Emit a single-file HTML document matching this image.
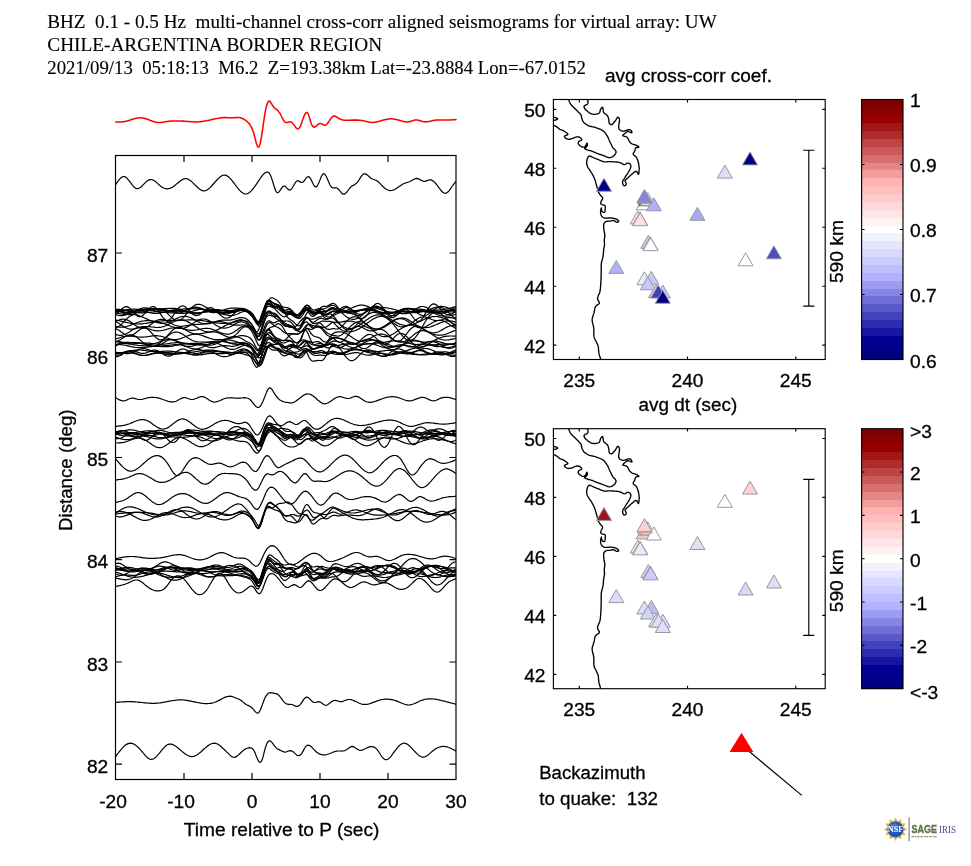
<!DOCTYPE html>
<html><head><meta charset="utf-8"><title>BHZ cross-corr aligned seismograms</title>
<style>html,body{margin:0;padding:0;background:#fff}svg{display:block;will-change:transform}text{font-family:"Liberation Sans",sans-serif;fill:#000;stroke:#000;stroke-width:0.3px}.t{font-family:"Liberation Serif",serif;stroke-width:0.12px}</style></head><body>
<svg width="971" height="866" viewBox="0 0 971 866">
<rect x="0" y="0" width="971" height="866" fill="#fff"/>
<g class="t" font-size="19.1" style="white-space:pre">
<text class="t" x="47.3" y="28.0" textLength="669.4" lengthAdjust="spacingAndGlyphs" xml:space="preserve">BHZ  0.1 - 0.5 Hz  multi-channel cross-corr aligned seismograms for virtual array: UW</text>
<text class="t" x="47.3" y="50.9" textLength="334.8" lengthAdjust="spacingAndGlyphs" xml:space="preserve">CHILE-ARGENTINA BORDER REGION</text>
<text class="t" x="47.3" y="73.6" textLength="538.5" lengthAdjust="spacingAndGlyphs" xml:space="preserve">2021/09/13  05:18:13  M6.2  Z=193.38km Lat=-23.8884 Lon=-67.0152</text>
</g>
<clipPath id="lc"><rect x="115.5" y="155.5" width="340.5" height="624"/></clipPath>
<g clip-path="url(#lc)" fill="none" stroke="#000" stroke-width="1.2" stroke-linejoin="round">
<path d="M115.7,184.7 L117.0,182.7 L118.3,180.8 L119.6,179.1 L121.0,177.8 L122.3,176.9 L123.6,176.5 L124.9,176.7 L126.2,177.6 L127.5,178.8 L128.8,180.4 L130.2,182.2 L131.5,183.9 L132.8,185.6 L134.1,187.0 L135.4,188.1 L136.7,188.6 L138.0,188.6 L139.4,188.0 L140.7,187.2 L142.0,186.0 L143.3,184.7 L144.6,183.4 L145.9,182.1 L147.2,180.9 L148.5,180.1 L149.9,179.6 L151.2,179.5 L152.5,179.8 L153.8,180.5 L155.1,181.3 L156.4,182.4 L157.7,183.6 L159.1,184.7 L160.4,185.9 L161.7,186.9 L163.0,187.7 L164.3,188.3 L165.6,188.7 L166.9,188.8 L168.3,188.7 L169.6,188.4 L170.9,187.9 L172.2,187.3 L173.5,186.4 L174.8,185.5 L176.1,184.4 L177.5,183.3 L178.8,182.2 L180.1,181.1 L181.4,180.2 L182.7,179.4 L184.0,178.8 L185.3,178.6 L186.7,178.7 L188.0,179.1 L189.3,179.9 L190.6,180.8 L191.9,181.9 L193.2,183.1 L194.5,184.4 L195.8,185.8 L197.2,187.0 L198.5,188.2 L199.8,189.2 L201.1,190.1 L202.4,190.6 L203.7,190.9 L205.0,190.8 L206.4,190.3 L207.7,189.6 L209.0,188.6 L210.3,187.4 L211.6,186.0 L212.9,184.5 L214.2,183.0 L215.6,181.5 L216.9,180.0 L218.2,178.6 L219.5,177.4 L220.8,176.4 L222.1,175.6 L223.4,175.2 L224.8,175.1 L226.1,175.4 L227.4,176.1 L228.7,177.0 L230.0,178.3 L231.3,179.7 L232.6,181.3 L234.0,183.0 L235.3,184.8 L236.6,186.5 L237.9,188.2 L239.2,189.8 L240.5,191.2 L241.8,192.3 L243.1,193.2 L244.5,193.8 L245.8,194.0 L247.1,193.8 L248.4,193.2 L249.7,192.3 L251.0,191.1 L252.3,189.6 L253.7,188.0 L255.0,186.2 L256.3,184.3 L257.6,182.4 L258.9,180.4 L260.2,178.5 L261.5,176.6 L262.9,174.9 L264.2,173.5 L265.5,172.5 L266.8,172.0 L268.1,172.2 L269.4,173.2 L270.7,175.7 L272.1,179.6 L273.4,184.0 L274.7,188.3 L276.0,191.4 L277.3,192.8 L278.6,192.3 L279.9,190.7 L281.3,188.6 L282.6,186.8 L283.9,186.0 L285.2,186.4 L286.5,187.7 L287.8,189.1 L289.1,190.1 L290.4,190.0 L291.8,188.6 L293.1,186.5 L294.4,184.2 L295.7,182.1 L297.0,180.9 L298.3,180.9 L299.6,181.6 L301.0,182.4 L302.3,182.5 L303.6,181.5 L304.9,179.9 L306.2,178.1 L307.5,176.9 L308.8,176.7 L310.2,178.1 L311.5,180.5 L312.8,183.3 L314.1,185.7 L315.4,187.0 L316.7,186.6 L318.0,184.5 L319.4,181.4 L320.7,178.1 L322.0,175.3 L323.3,173.7 L324.6,174.0 L325.9,175.8 L327.2,178.6 L328.6,181.7 L329.9,184.7 L331.2,186.8 L332.5,187.8 L333.8,187.9 L335.1,187.8 L336.4,187.8 L337.7,188.5 L339.1,189.9 L340.4,191.6 L341.7,193.2 L343.0,194.2 L344.3,194.2 L345.6,193.3 L346.9,191.8 L348.3,190.0 L349.6,188.3 L350.9,186.8 L352.2,185.9 L353.5,185.2 L354.8,184.6 L356.1,183.6 L357.5,182.2 L358.8,180.3 L360.1,178.1 L361.4,176.1 L362.7,174.6 L364.0,173.8 L365.3,173.9 L366.7,174.6 L368.0,175.6 L369.3,176.8 L370.6,178.0 L371.9,178.8 L373.2,179.3 L374.5,179.7 L375.9,180.2 L377.2,181.0 L378.5,182.0 L379.8,183.3 L381.1,184.7 L382.4,186.0 L383.7,187.3 L385.0,188.5 L386.4,189.3 L387.7,190.0 L389.0,190.4 L390.3,190.6 L391.6,190.5 L392.9,190.2 L394.2,189.7 L395.6,189.0 L396.9,188.1 L398.2,187.2 L399.5,186.3 L400.8,185.4 L402.1,184.5 L403.4,183.8 L404.8,183.2 L406.1,182.7 L407.4,182.4 L408.7,182.0 L410.0,181.5 L411.3,180.8 L412.6,180.0 L414.0,179.2 L415.3,178.7 L416.6,178.4 L417.9,178.6 L419.2,179.1 L420.5,179.9 L421.8,180.6 L423.2,181.2 L424.5,181.3 L425.8,181.1 L427.1,180.6 L428.4,180.2 L429.7,179.9 L431.0,179.9 L432.3,180.4 L433.7,181.4 L435.0,182.7 L436.3,184.2 L437.6,185.9 L438.9,187.7 L440.2,189.4 L441.5,191.0 L442.9,192.3 L444.2,193.1 L445.5,193.3 L446.8,192.9 L448.1,191.8 L449.4,190.3 L450.7,188.4 L452.1,186.5 L453.4,184.6 L454.7,182.9 L456.0,181.5"/>
<path d="M115.7,397.6 L117.0,398.4 L118.3,399.2 L119.6,399.9 L121.0,400.4 L122.3,400.8 L123.6,400.8 L124.9,400.6 L126.2,400.2 L127.5,399.6 L128.8,399.0 L130.2,398.5 L131.5,398.2 L132.8,398.1 L134.1,398.3 L135.4,398.6 L136.7,399.0 L138.0,399.3 L139.4,399.5 L140.7,399.5 L142.0,399.3 L143.3,399.0 L144.6,398.7 L145.9,398.3 L147.2,398.0 L148.5,397.7 L149.9,397.5 L151.2,397.4 L152.5,397.3 L153.8,397.4 L155.1,397.5 L156.4,397.6 L157.7,397.9 L159.1,398.2 L160.4,398.6 L161.7,399.0 L163.0,399.5 L164.3,400.0 L165.6,400.5 L166.9,400.9 L168.3,401.3 L169.6,401.6 L170.9,401.9 L172.2,401.9 L173.5,401.9 L174.8,401.6 L176.1,401.2 L177.5,400.5 L178.8,399.8 L180.1,399.0 L181.4,398.4 L182.7,397.9 L184.0,397.6 L185.3,397.7 L186.7,398.0 L188.0,398.5 L189.3,399.0 L190.6,399.4 L191.9,399.5 L193.2,399.4 L194.5,399.0 L195.8,398.5 L197.2,398.0 L198.5,397.4 L199.8,397.0 L201.1,396.7 L202.4,396.7 L203.7,396.9 L205.0,397.5 L206.4,398.2 L207.7,399.1 L209.0,399.9 L210.3,400.8 L211.6,401.4 L212.9,401.9 L214.2,402.1 L215.6,402.0 L216.9,401.7 L218.2,401.3 L219.5,400.8 L220.8,400.2 L222.1,399.6 L223.4,399.0 L224.8,398.5 L226.1,398.2 L227.4,398.0 L228.7,397.9 L230.0,397.8 L231.3,397.9 L232.6,397.9 L234.0,398.0 L235.3,398.1 L236.6,398.2 L237.9,398.3 L239.2,398.2 L240.5,398.1 L241.8,398.0 L243.1,397.8 L244.5,397.7 L245.8,397.8 L247.1,398.0 L248.4,398.5 L249.7,399.3 L251.0,400.5 L252.3,402.1 L253.7,403.8 L255.0,405.5 L256.3,406.8 L257.6,407.5 L258.9,407.4 L260.2,406.3 L261.5,404.3 L262.9,401.5 L264.2,398.3 L265.5,394.9 L266.8,391.6 L268.1,389.1 L269.4,387.8 L270.7,388.1 L272.1,389.6 L273.4,391.8 L274.7,393.9 L276.0,395.9 L277.3,397.5 L278.6,398.9 L279.9,400.0 L281.3,400.8 L282.6,401.4 L283.9,401.8 L285.2,402.1 L286.5,402.3 L287.8,402.5 L289.1,402.8 L290.4,402.9 L291.8,402.8 L293.1,402.6 L294.4,402.0 L295.7,401.3 L297.0,400.3 L298.3,399.3 L299.6,398.2 L301.0,397.2 L302.3,396.2 L303.6,395.3 L304.9,394.6 L306.2,394.1 L307.5,393.9 L308.8,394.0 L310.2,394.3 L311.5,394.9 L312.8,395.7 L314.1,396.7 L315.4,397.8 L316.7,399.0 L318.0,400.2 L319.4,401.3 L320.7,402.3 L322.0,403.1 L323.3,403.6 L324.6,403.8 L325.9,403.7 L327.2,403.2 L328.6,402.6 L329.9,401.8 L331.2,400.9 L332.5,400.0 L333.8,399.1 L335.1,398.2 L336.4,397.5 L337.7,397.0 L339.1,396.7 L340.4,396.7 L341.7,397.0 L343.0,397.3 L344.3,397.8 L345.6,398.2 L346.9,398.5 L348.3,398.5 L349.6,398.3 L350.9,397.9 L352.2,397.3 L353.5,396.8 L354.8,396.4 L356.1,396.3 L357.5,396.6 L358.8,397.1 L360.1,397.9 L361.4,398.8 L362.7,399.7 L364.0,400.6 L365.3,401.3 L366.7,401.8 L368.0,402.2 L369.3,402.3 L370.6,402.3 L371.9,402.2 L373.2,401.9 L374.5,401.5 L375.9,401.1 L377.2,400.6 L378.5,400.1 L379.8,399.6 L381.1,399.1 L382.4,398.7 L383.7,398.2 L385.0,397.8 L386.4,397.5 L387.7,397.2 L389.0,397.0 L390.3,396.8 L391.6,396.7 L392.9,396.7 L394.2,396.8 L395.6,396.9 L396.9,397.2 L398.2,397.6 L399.5,398.0 L400.8,398.5 L402.1,399.0 L403.4,399.5 L404.8,400.0 L406.1,400.4 L407.4,400.6 L408.7,400.8 L410.0,400.8 L411.3,400.6 L412.6,400.3 L414.0,399.9 L415.3,399.4 L416.6,398.9 L417.9,398.4 L419.2,398.0 L420.5,397.6 L421.8,397.4 L423.2,397.4 L424.5,397.6 L425.8,398.0 L427.1,398.6 L428.4,399.2 L429.7,399.9 L431.0,400.4 L432.3,400.7 L433.7,400.8 L435.0,400.6 L436.3,400.2 L437.6,399.6 L438.9,399.0 L440.2,398.4 L441.5,397.9 L442.9,397.6 L444.2,397.4 L445.5,397.3 L446.8,397.3 L448.1,397.4 L449.4,397.7 L450.7,397.9 L452.1,398.3 L453.4,398.7 L454.7,399.1 L456.0,399.5"/>
<path d="M115.7,426.3 L117.0,426.2 L118.3,426.1 L119.6,425.9 L121.0,425.8 L122.3,425.6 L123.6,425.4 L124.9,425.1 L126.2,424.8 L127.5,424.4 L128.8,424.0 L130.2,423.5 L131.5,422.9 L132.8,422.4 L134.1,421.8 L135.4,421.3 L136.7,420.8 L138.0,420.3 L139.4,420.0 L140.7,419.7 L142.0,419.6 L143.3,419.6 L144.6,419.8 L145.9,420.1 L147.2,420.7 L148.5,421.3 L149.9,422.1 L151.2,423.0 L152.5,423.9 L153.8,424.9 L155.1,425.8 L156.4,426.7 L157.7,427.5 L159.1,428.1 L160.4,428.7 L161.7,429.0 L163.0,429.1 L164.3,429.0 L165.6,428.7 L166.9,428.1 L168.3,427.4 L169.6,426.5 L170.9,425.5 L172.2,424.5 L173.5,423.4 L174.8,422.4 L176.1,421.5 L177.5,420.6 L178.8,419.9 L180.1,419.3 L181.4,419.0 L182.7,418.9 L184.0,419.1 L185.3,419.5 L186.7,420.1 L188.0,420.9 L189.3,421.8 L190.6,422.7 L191.9,423.8 L193.2,424.8 L194.5,425.8 L195.8,426.7 L197.2,427.6 L198.5,428.3 L199.8,428.8 L201.1,429.2 L202.4,429.3 L203.7,429.2 L205.0,428.9 L206.4,428.4 L207.7,427.9 L209.0,427.2 L210.3,426.5 L211.6,425.7 L212.9,424.9 L214.2,424.1 L215.6,423.3 L216.9,422.6 L218.2,422.0 L219.5,421.5 L220.8,421.0 L222.1,420.7 L223.4,420.5 L224.8,420.4 L226.1,420.4 L227.4,420.5 L228.7,420.8 L230.0,421.2 L231.3,421.6 L232.6,422.1 L234.0,422.6 L235.3,423.1 L236.6,423.4 L237.9,423.6 L239.2,423.7 L240.5,423.5 L241.8,423.1 L243.1,422.7 L244.5,422.4 L245.8,422.4 L247.1,422.9 L248.4,423.9 L249.7,425.5 L251.0,427.5 L252.3,429.7 L253.7,431.8 L255.0,433.5 L256.3,434.7 L257.6,435.0 L258.9,434.2 L260.2,432.4 L261.5,429.8 L262.9,426.8 L264.2,423.7 L265.5,420.7 L266.8,418.2 L268.1,416.5 L269.4,415.9 L270.7,416.2 L272.1,417.4 L273.4,418.9 L274.7,420.8 L276.0,422.5 L277.3,424.0 L278.6,425.0 L279.9,425.6 L281.3,425.7 L282.6,425.3 L283.9,424.6 L285.2,423.7 L286.5,422.8 L287.8,422.1 L289.1,421.7 L290.4,421.9 L291.8,422.5 L293.1,423.2 L294.4,424.0 L295.7,424.5 L297.0,424.4 L298.3,423.9 L299.6,423.0 L301.0,421.9 L302.3,421.0 L303.6,420.5 L304.9,420.5 L306.2,421.1 L307.5,422.2 L308.8,423.6 L310.2,425.0 L311.5,426.5 L312.8,427.7 L314.1,428.6 L315.4,429.1 L316.7,429.2 L318.0,429.1 L319.4,428.6 L320.7,427.9 L322.0,427.1 L323.3,426.1 L324.6,425.0 L325.9,423.9 L327.2,422.8 L328.6,421.7 L329.9,420.7 L331.2,419.9 L332.5,419.2 L333.8,418.8 L335.1,418.5 L336.4,418.4 L337.7,418.4 L339.1,418.6 L340.4,418.9 L341.7,419.3 L343.0,419.8 L344.3,420.3 L345.6,420.9 L346.9,421.5 L348.3,422.1 L349.6,422.7 L350.9,423.3 L352.2,423.8 L353.5,424.3 L354.8,424.7 L356.1,425.0 L357.5,425.2 L358.8,425.4 L360.1,425.5 L361.4,425.5 L362.7,425.4 L364.0,425.3 L365.3,425.2 L366.7,425.0 L368.0,424.7 L369.3,424.4 L370.6,424.1 L371.9,423.8 L373.2,423.4 L374.5,423.1 L375.9,422.7 L377.2,422.3 L378.5,421.9 L379.8,421.6 L381.1,421.3 L382.4,421.0 L383.7,420.7 L385.0,420.5 L386.4,420.3 L387.7,420.2 L389.0,420.1 L390.3,420.1 L391.6,420.1 L392.9,420.3 L394.2,420.5 L395.6,420.8 L396.9,421.2 L398.2,421.7 L399.5,422.3 L400.8,422.9 L402.1,423.6 L403.4,424.2 L404.8,424.8 L406.1,425.3 L407.4,425.8 L408.7,426.1 L410.0,426.3 L411.3,426.4 L412.6,426.3 L414.0,426.0 L415.3,425.7 L416.6,425.4 L417.9,424.9 L419.2,424.5 L420.5,424.1 L421.8,423.7 L423.2,423.3 L424.5,423.0 L425.8,422.8 L427.1,422.7 L428.4,422.7 L429.7,422.8 L431.0,422.9 L432.3,423.0 L433.7,423.2 L435.0,423.4 L436.3,423.6 L437.6,423.7 L438.9,423.9 L440.2,424.0 L441.5,424.1 L442.9,424.1 L444.2,424.1 L445.5,424.1 L446.8,424.0 L448.1,423.8 L449.4,423.7 L450.7,423.5 L452.1,423.3 L453.4,423.1 L454.7,422.8 L456.0,422.6"/>
<path d="M115.7,443.0 L117.0,443.0 L118.3,442.9 L119.6,442.9 L121.0,442.7 L122.3,442.6 L123.6,442.4 L124.9,442.1 L126.2,441.7 L127.5,441.3 L128.8,440.8 L130.2,440.3 L131.5,439.8 L132.8,439.3 L134.1,438.9 L135.4,438.5 L136.7,438.3 L138.0,438.1 L139.4,438.1 L140.7,438.2 L142.0,438.5 L143.3,439.0 L144.6,439.7 L145.9,440.5 L147.2,441.3 L148.5,442.2 L149.9,443.1 L151.2,444.1 L152.5,445.0 L153.8,445.8 L155.1,446.5 L156.4,447.1 L157.7,447.5 L159.1,447.7 L160.4,447.7 L161.7,447.4 L163.0,447.0 L164.3,446.3 L165.6,445.5 L166.9,444.6 L168.3,443.7 L169.6,442.6 L170.9,441.6 L172.2,440.7 L173.5,439.7 L174.8,438.9 L176.1,438.3 L177.5,437.8 L178.8,437.5 L180.1,437.4 L181.4,437.6 L182.7,437.9 L184.0,438.4 L185.3,439.0 L186.7,439.7 L188.0,440.5 L189.3,441.3 L190.6,442.1 L191.9,443.0 L193.2,443.8 L194.5,444.6 L195.8,445.3 L197.2,445.9 L198.5,446.3 L199.8,446.6 L201.1,446.7 L202.4,446.6 L203.7,446.3 L205.0,445.9 L206.4,445.3 L207.7,444.7 L209.0,443.9 L210.3,443.1 L211.6,442.3 L212.9,441.5 L214.2,440.6 L215.6,439.9 L216.9,439.1 L218.2,438.5 L219.5,438.0 L220.8,437.6 L222.1,437.4 L223.4,437.3 L224.8,437.3 L226.1,437.5 L227.4,437.8 L228.7,438.1 L230.0,438.5 L231.3,438.9 L232.6,439.4 L234.0,439.8 L235.3,440.2 L236.6,440.6 L237.9,440.9 L239.2,441.1 L240.5,441.3 L241.8,441.3 L243.1,441.4 L244.5,441.5 L245.8,441.8 L247.1,442.4 L248.4,443.3 L249.7,444.7 L251.0,446.4 L252.3,448.5 L253.7,450.5 L255.0,452.1 L256.3,453.1 L257.6,453.1 L258.9,452.0 L260.2,449.9 L261.5,447.2 L262.9,444.1 L264.2,440.8 L265.5,437.8 L266.8,435.1 L268.1,433.1 L269.4,432.0 L270.7,431.5 L272.1,431.7 L273.4,432.4 L274.7,433.5 L276.0,434.8 L277.3,436.4 L278.6,438.1 L279.9,439.7 L281.3,441.2 L282.6,442.6 L283.9,443.8 L285.2,444.7 L286.5,445.6 L287.8,446.2 L289.1,446.7 L290.4,446.9 L291.8,447.0 L293.1,447.0 L294.4,446.7 L295.7,446.3 L297.0,445.6 L298.3,444.8 L299.6,443.9 L301.0,442.9 L302.3,441.9 L303.6,441.0 L304.9,440.1 L306.2,439.3 L307.5,438.8 L308.8,438.5 L310.2,438.4 L311.5,438.7 L312.8,439.2 L314.1,439.9 L315.4,440.8 L316.7,441.7 L318.0,442.6 L319.4,443.6 L320.7,444.4 L322.0,445.1 L323.3,445.6 L324.6,445.8 L325.9,445.8 L327.2,445.5 L328.6,444.9 L329.9,444.2 L331.2,443.3 L332.5,442.4 L333.8,441.3 L335.1,440.3 L336.4,439.2 L337.7,438.3 L339.1,437.4 L340.4,436.6 L341.7,436.0 L343.0,435.6 L344.3,435.4 L345.6,435.5 L346.9,435.8 L348.3,436.2 L349.6,436.8 L350.9,437.5 L352.2,438.3 L353.5,439.2 L354.8,440.1 L356.1,441.0 L357.5,441.9 L358.8,442.8 L360.1,443.6 L361.4,444.3 L362.7,444.9 L364.0,445.4 L365.3,445.7 L366.7,445.8 L368.0,445.7 L369.3,445.4 L370.6,444.9 L371.9,444.3 L373.2,443.6 L374.5,442.8 L375.9,441.9 L377.2,441.0 L378.5,440.2 L379.8,439.4 L381.1,438.6 L382.4,438.0 L383.7,437.5 L385.0,437.2 L386.4,437.0 L387.7,437.0 L389.0,437.1 L390.3,437.3 L391.6,437.6 L392.9,438.0 L394.2,438.5 L395.6,439.0 L396.9,439.6 L398.2,440.2 L399.5,440.8 L400.8,441.4 L402.1,441.9 L403.4,442.4 L404.8,442.9 L406.1,443.3 L407.4,443.7 L408.7,443.9 L410.0,444.0 L411.3,444.0 L412.6,443.9 L414.0,443.7 L415.3,443.4 L416.6,443.1 L417.9,442.7 L419.2,442.2 L420.5,441.8 L421.8,441.3 L423.2,440.8 L424.5,440.4 L425.8,440.0 L427.1,439.6 L428.4,439.3 L429.7,439.0 L431.0,438.9 L432.3,438.7 L433.7,438.7 L435.0,438.7 L436.3,438.8 L437.6,438.9 L438.9,439.1 L440.2,439.3 L441.5,439.5 L442.9,439.8 L444.2,440.1 L445.5,440.5 L446.8,440.9 L448.1,441.3 L449.4,441.7 L450.7,442.1 L452.1,442.6 L453.4,443.1 L454.7,443.5 L456.0,444.0"/>
<path d="M115.7,458.8 L117.0,460.4 L118.3,462.0 L119.6,463.5 L121.0,465.0 L122.3,466.4 L123.6,467.6 L124.9,468.7 L126.2,469.6 L127.5,470.4 L128.8,470.9 L130.2,471.2 L131.5,471.2 L132.8,471.0 L134.1,470.5 L135.4,469.9 L136.7,469.1 L138.0,468.2 L139.4,467.1 L140.7,466.0 L142.0,464.9 L143.3,463.7 L144.6,462.5 L145.9,461.4 L147.2,460.3 L148.5,459.2 L149.9,458.3 L151.2,457.4 L152.5,456.7 L153.8,456.1 L155.1,455.8 L156.4,455.6 L157.7,455.6 L159.1,455.9 L160.4,456.4 L161.7,457.1 L163.0,458.1 L164.3,459.3 L165.6,460.8 L166.9,462.6 L168.3,464.6 L169.6,466.8 L170.9,469.0 L172.2,471.2 L173.5,473.0 L174.8,474.5 L176.1,475.3 L177.5,475.5 L178.8,475.0 L180.1,473.9 L181.4,472.3 L182.7,470.5 L184.0,468.4 L185.3,466.3 L186.7,464.3 L188.0,462.4 L189.3,460.9 L190.6,459.7 L191.9,458.8 L193.2,458.1 L194.5,457.8 L195.8,457.7 L197.2,457.9 L198.5,458.3 L199.8,459.0 L201.1,459.7 L202.4,460.5 L203.7,461.4 L205.0,462.3 L206.4,463.0 L207.7,463.7 L209.0,464.2 L210.3,464.4 L211.6,464.4 L212.9,464.2 L214.2,463.9 L215.6,463.6 L216.9,463.3 L218.2,463.1 L219.5,463.1 L220.8,463.4 L222.1,463.8 L223.4,464.4 L224.8,465.0 L226.1,465.6 L227.4,466.2 L228.7,466.6 L230.0,466.8 L231.3,466.7 L232.6,466.4 L234.0,466.0 L235.3,465.3 L236.6,464.7 L237.9,464.0 L239.2,463.3 L240.5,462.7 L241.8,462.4 L243.1,462.2 L244.5,462.3 L245.8,462.8 L247.1,463.7 L248.4,465.0 L249.7,466.6 L251.0,468.3 L252.3,469.8 L253.7,470.9 L255.0,471.5 L256.3,471.3 L257.6,470.2 L258.9,468.2 L260.2,465.8 L261.5,463.1 L262.9,460.5 L264.2,458.1 L265.5,456.4 L266.8,455.6 L268.1,455.8 L269.4,456.8 L270.7,458.5 L272.1,460.6 L273.4,462.7 L274.7,464.7 L276.0,466.3 L277.3,467.3 L278.6,467.6 L279.9,467.3 L281.3,466.6 L282.6,465.8 L283.9,465.0 L285.2,464.3 L286.5,463.7 L287.8,463.1 L289.1,462.5 L290.4,461.9 L291.8,461.3 L293.1,460.6 L294.4,459.9 L295.7,459.3 L297.0,458.7 L298.3,458.3 L299.6,458.1 L301.0,458.1 L302.3,458.4 L303.6,459.0 L304.9,460.0 L306.2,461.2 L307.5,462.6 L308.8,464.0 L310.2,465.6 L311.5,467.1 L312.8,468.4 L314.1,469.6 L315.4,470.5 L316.7,471.2 L318.0,471.7 L319.4,471.9 L320.7,471.8 L322.0,471.5 L323.3,470.9 L324.6,470.1 L325.9,469.1 L327.2,468.0 L328.6,466.8 L329.9,465.5 L331.2,464.2 L332.5,462.9 L333.8,461.6 L335.1,460.4 L336.4,459.2 L337.7,458.2 L339.1,457.3 L340.4,456.5 L341.7,455.9 L343.0,455.4 L344.3,455.2 L345.6,455.2 L346.9,455.4 L348.3,455.8 L349.6,456.5 L350.9,457.4 L352.2,458.5 L353.5,459.8 L354.8,461.1 L356.1,462.5 L357.5,463.9 L358.8,465.3 L360.1,466.7 L361.4,468.1 L362.7,469.3 L364.0,470.4 L365.3,471.3 L366.7,472.0 L368.0,472.5 L369.3,472.8 L370.6,472.7 L371.9,472.4 L373.2,471.7 L374.5,470.8 L375.9,469.8 L377.2,468.5 L378.5,467.2 L379.8,465.8 L381.1,464.4 L382.4,463.0 L383.7,461.6 L385.0,460.4 L386.4,459.2 L387.7,458.2 L389.0,457.3 L390.3,456.6 L391.6,456.0 L392.9,455.6 L394.2,455.5 L395.6,455.5 L396.9,455.9 L398.2,456.6 L399.5,457.7 L400.8,459.2 L402.1,461.2 L403.4,463.4 L404.8,465.8 L406.1,468.2 L407.4,470.4 L408.7,472.4 L410.0,473.9 L411.3,474.8 L412.6,475.0 L414.0,474.6 L415.3,473.6 L416.6,472.2 L417.9,470.5 L419.2,468.6 L420.5,466.7 L421.8,464.9 L423.2,463.3 L424.5,461.8 L425.8,460.6 L427.1,459.7 L428.4,459.0 L429.7,458.7 L431.0,458.8 L432.3,459.1 L433.7,459.6 L435.0,460.3 L436.3,461.0 L437.6,461.7 L438.9,462.3 L440.2,462.8 L441.5,463.1 L442.9,463.3 L444.2,463.3 L445.5,463.2 L446.8,463.0 L448.1,462.7 L449.4,462.3 L450.7,461.9 L452.1,461.4 L453.4,460.9 L454.7,460.3 L456.0,459.7"/>
<path d="M115.7,480.1 L117.0,479.9 L118.3,479.7 L119.6,479.5 L121.0,479.3 L122.3,479.1 L123.6,478.8 L124.9,478.5 L126.2,478.1 L127.5,477.7 L128.8,477.2 L130.2,476.6 L131.5,476.0 L132.8,475.5 L134.1,474.9 L135.4,474.4 L136.7,474.0 L138.0,473.7 L139.4,473.6 L140.7,473.7 L142.0,473.9 L143.3,474.2 L144.6,474.7 L145.9,475.3 L147.2,476.0 L148.5,476.8 L149.9,477.5 L151.2,478.3 L152.5,479.1 L153.8,479.9 L155.1,480.6 L156.4,481.2 L157.7,481.7 L159.1,482.1 L160.4,482.3 L161.7,482.4 L163.0,482.4 L164.3,482.2 L165.6,481.9 L166.9,481.4 L168.3,480.9 L169.6,480.3 L170.9,479.6 L172.2,478.8 L173.5,478.0 L174.8,477.1 L176.1,476.3 L177.5,475.4 L178.8,474.6 L180.1,473.9 L181.4,473.3 L182.7,472.8 L184.0,472.5 L185.3,472.3 L186.7,472.4 L188.0,472.7 L189.3,473.3 L190.6,474.1 L191.9,475.1 L193.2,476.2 L194.5,477.3 L195.8,478.6 L197.2,479.8 L198.5,480.9 L199.8,482.0 L201.1,482.9 L202.4,483.6 L203.7,484.0 L205.0,484.2 L206.4,484.1 L207.7,483.6 L209.0,482.9 L210.3,481.9 L211.6,480.9 L212.9,479.7 L214.2,478.5 L215.6,477.4 L216.9,476.3 L218.2,475.3 L219.5,474.6 L220.8,474.0 L222.1,473.7 L223.4,473.5 L224.8,473.4 L226.1,473.5 L227.4,473.5 L228.7,473.6 L230.0,473.6 L231.3,473.7 L232.6,473.7 L234.0,473.8 L235.3,473.9 L236.6,474.1 L237.9,474.4 L239.2,474.8 L240.5,475.3 L241.8,476.0 L243.1,476.9 L244.5,478.0 L245.8,479.3 L247.1,480.9 L248.4,482.7 L249.7,484.6 L251.0,486.5 L252.3,488.2 L253.7,489.4 L255.0,490.1 L256.3,490.1 L257.6,489.2 L258.9,487.3 L260.2,484.8 L261.5,482.0 L262.9,479.1 L264.2,476.6 L265.5,474.8 L266.8,473.9 L268.1,473.8 L269.4,474.2 L270.7,474.7 L272.1,474.9 L273.4,474.7 L274.7,474.0 L276.0,473.1 L277.3,472.3 L278.6,471.6 L279.9,471.4 L281.3,471.5 L282.6,472.1 L283.9,473.0 L285.2,474.1 L286.5,475.5 L287.8,476.9 L289.1,478.5 L290.4,480.0 L291.8,481.3 L293.1,482.2 L294.4,482.8 L295.7,482.8 L297.0,482.1 L298.3,480.7 L299.6,478.9 L301.0,477.0 L302.3,475.3 L303.6,474.1 L304.9,473.6 L306.2,474.1 L307.5,475.3 L308.8,477.0 L310.2,478.7 L311.5,480.1 L312.8,480.9 L314.1,481.3 L315.4,481.4 L316.7,481.2 L318.0,481.1 L319.4,481.0 L320.7,481.1 L322.0,481.3 L323.3,481.5 L324.6,481.6 L325.9,481.5 L327.2,481.3 L328.6,480.9 L329.9,480.4 L331.2,479.8 L332.5,479.1 L333.8,478.3 L335.1,477.5 L336.4,476.6 L337.7,475.7 L339.1,474.9 L340.4,474.1 L341.7,473.3 L343.0,472.6 L344.3,472.0 L345.6,471.5 L346.9,471.1 L348.3,470.8 L349.6,470.8 L350.9,470.9 L352.2,471.1 L353.5,471.5 L354.8,472.0 L356.1,472.7 L357.5,473.4 L358.8,474.3 L360.1,475.2 L361.4,476.2 L362.7,477.3 L364.0,478.5 L365.3,479.6 L366.7,480.8 L368.0,481.9 L369.3,482.9 L370.6,483.9 L371.9,484.7 L373.2,485.4 L374.5,485.8 L375.9,486.1 L377.2,486.2 L378.5,486.0 L379.8,485.5 L381.1,484.7 L382.4,483.7 L383.7,482.6 L385.0,481.3 L386.4,479.9 L387.7,478.4 L389.0,476.9 L390.3,475.3 L391.6,473.8 L392.9,472.4 L394.2,471.1 L395.6,470.1 L396.9,469.2 L398.2,468.7 L399.5,468.5 L400.8,468.7 L402.1,469.2 L403.4,469.9 L404.8,470.9 L406.1,472.1 L407.4,473.5 L408.7,475.0 L410.0,476.7 L411.3,478.4 L412.6,480.1 L414.0,481.7 L415.3,483.3 L416.6,484.7 L417.9,485.9 L419.2,486.8 L420.5,487.4 L421.8,487.6 L423.2,487.4 L424.5,487.0 L425.8,486.2 L427.1,485.2 L428.4,484.0 L429.7,482.6 L431.0,481.2 L432.3,479.7 L433.7,478.2 L435.0,476.7 L436.3,475.2 L437.6,473.9 L438.9,472.6 L440.2,471.5 L441.5,470.5 L442.9,469.7 L444.2,469.2 L445.5,468.9 L446.8,468.9 L448.1,469.2 L449.4,469.6 L450.7,470.2 L452.1,470.9 L453.4,471.8 L454.7,472.7 L456.0,473.6"/>
<path d="M115.7,502.4 L117.0,502.1 L118.3,501.9 L119.6,501.5 L121.0,501.2 L122.3,500.8 L123.6,500.3 L124.9,499.7 L126.2,499.0 L127.5,498.2 L128.8,497.3 L130.2,496.3 L131.5,495.4 L132.8,494.5 L134.1,493.7 L135.4,493.1 L136.7,492.7 L138.0,492.5 L139.4,492.6 L140.7,493.0 L142.0,493.6 L143.3,494.4 L144.6,495.3 L145.9,496.3 L147.2,497.5 L148.5,498.6 L149.9,499.7 L151.2,500.9 L152.5,501.9 L153.8,502.8 L155.1,503.6 L156.4,504.2 L157.7,504.5 L159.1,504.6 L160.4,504.5 L161.7,504.1 L163.0,503.6 L164.3,502.9 L165.6,502.1 L166.9,501.2 L168.3,500.2 L169.6,499.2 L170.9,498.3 L172.2,497.3 L173.5,496.5 L174.8,495.7 L176.1,495.1 L177.5,494.5 L178.8,494.1 L180.1,493.8 L181.4,493.6 L182.7,493.5 L184.0,493.6 L185.3,493.8 L186.7,494.2 L188.0,494.7 L189.3,495.4 L190.6,496.1 L191.9,496.9 L193.2,497.7 L194.5,498.6 L195.8,499.5 L197.2,500.3 L198.5,501.1 L199.8,501.8 L201.1,502.4 L202.4,502.9 L203.7,503.2 L205.0,503.3 L206.4,503.3 L207.7,503.1 L209.0,502.6 L210.3,502.0 L211.6,501.3 L212.9,500.4 L214.2,499.5 L215.6,498.5 L216.9,497.5 L218.2,496.6 L219.5,495.6 L220.8,494.8 L222.1,494.0 L223.4,493.4 L224.8,492.9 L226.1,492.7 L227.4,492.6 L228.7,492.7 L230.0,493.0 L231.3,493.4 L232.6,493.9 L234.0,494.4 L235.3,495.0 L236.6,495.6 L237.9,496.1 L239.2,496.6 L240.5,497.0 L241.8,497.3 L243.1,497.7 L244.5,498.0 L245.8,498.6 L247.1,499.3 L248.4,500.3 L249.7,501.7 L251.0,503.4 L252.3,505.3 L253.7,507.2 L255.0,508.6 L256.3,509.4 L257.6,509.3 L258.9,508.1 L260.2,506.0 L261.5,503.2 L262.9,500.1 L264.2,496.9 L265.5,493.8 L266.8,491.1 L268.1,489.1 L269.4,487.8 L270.7,487.2 L272.1,487.3 L273.4,487.8 L274.7,488.7 L276.0,490.0 L277.3,491.6 L278.6,493.3 L279.9,495.0 L281.3,496.8 L282.6,498.4 L283.9,499.9 L285.2,501.3 L286.5,502.4 L287.8,503.3 L289.1,503.8 L290.4,504.0 L291.8,503.9 L293.1,503.3 L294.4,502.2 L295.7,500.8 L297.0,499.1 L298.3,497.4 L299.6,495.6 L301.0,494.0 L302.3,492.7 L303.6,491.7 L304.9,491.2 L306.2,491.3 L307.5,491.9 L308.8,493.0 L310.2,494.4 L311.5,496.0 L312.8,497.7 L314.1,499.5 L315.4,501.2 L316.7,502.7 L318.0,503.9 L319.4,504.7 L320.7,505.1 L322.0,504.9 L323.3,504.2 L324.6,503.1 L325.9,501.7 L327.2,500.2 L328.6,498.6 L329.9,497.0 L331.2,495.5 L332.5,494.3 L333.8,493.5 L335.1,493.1 L336.4,493.1 L337.7,493.4 L339.1,494.0 L340.4,494.7 L341.7,495.6 L343.0,496.5 L344.3,497.4 L345.6,498.2 L346.9,498.8 L348.3,499.2 L349.6,499.5 L350.9,499.5 L352.2,499.5 L353.5,499.3 L354.8,499.0 L356.1,498.7 L357.5,498.3 L358.8,498.0 L360.1,497.6 L361.4,497.2 L362.7,497.0 L364.0,496.8 L365.3,496.6 L366.7,496.6 L368.0,496.6 L369.3,496.7 L370.6,496.8 L371.9,497.1 L373.2,497.5 L374.5,497.9 L375.9,498.4 L377.2,499.1 L378.5,499.8 L379.8,500.5 L381.1,501.1 L382.4,501.6 L383.7,502.0 L385.0,502.1 L386.4,501.8 L387.7,501.3 L389.0,500.6 L390.3,499.7 L391.6,498.6 L392.9,497.6 L394.2,496.6 L395.6,495.7 L396.9,495.0 L398.2,494.6 L399.5,494.4 L400.8,494.7 L402.1,495.4 L403.4,496.3 L404.8,497.5 L406.1,498.6 L407.4,499.7 L408.7,500.7 L410.0,501.3 L411.3,501.4 L412.6,501.1 L414.0,500.3 L415.3,499.3 L416.6,498.2 L417.9,497.3 L419.2,496.7 L420.5,496.7 L421.8,497.0 L423.2,497.6 L424.5,498.3 L425.8,499.2 L427.1,499.9 L428.4,500.5 L429.7,500.9 L431.0,501.1 L432.3,501.0 L433.7,500.8 L435.0,500.5 L436.3,500.1 L437.6,499.6 L438.9,499.1 L440.2,498.7 L441.5,498.2 L442.9,497.8 L444.2,497.5 L445.5,497.3 L446.8,497.0 L448.1,496.9 L449.4,496.7 L450.7,496.6 L452.1,496.6 L453.4,496.5 L454.7,496.4 L456.0,496.4"/>
<path d="M115.7,586.5 L117.0,586.2 L118.3,585.9 L119.6,585.7 L121.0,585.3 L122.3,585.0 L123.6,584.6 L124.9,584.2 L126.2,583.7 L127.5,583.2 L128.8,582.6 L130.2,582.0 L131.5,581.4 L132.8,580.8 L134.1,580.3 L135.4,580.0 L136.7,580.0 L138.0,580.2 L139.4,580.6 L140.7,581.4 L142.0,582.3 L143.3,583.3 L144.6,584.4 L145.9,585.6 L147.2,586.6 L148.5,587.6 L149.9,588.4 L151.2,589.1 L152.5,589.7 L153.8,590.2 L155.1,590.6 L156.4,590.8 L157.7,590.9 L159.1,590.9 L160.4,590.7 L161.7,590.3 L163.0,589.6 L164.3,588.7 L165.6,587.5 L166.9,586.0 L168.3,584.2 L169.6,582.4 L170.9,580.7 L172.2,579.1 L173.5,577.7 L174.8,576.7 L176.1,576.1 L177.5,575.8 L178.8,575.8 L180.1,576.2 L181.4,576.9 L182.7,577.9 L184.0,579.1 L185.3,580.6 L186.7,582.2 L188.0,583.9 L189.3,585.6 L190.6,587.4 L191.9,589.1 L193.2,590.6 L194.5,592.0 L195.8,593.2 L197.2,594.0 L198.5,594.6 L199.8,594.7 L201.1,594.5 L202.4,594.0 L203.7,593.1 L205.0,591.9 L206.4,590.4 L207.7,588.5 L209.0,586.3 L210.3,584.0 L211.6,581.7 L212.9,579.6 L214.2,577.6 L215.6,575.9 L216.9,574.5 L218.2,573.6 L219.5,573.2 L220.8,573.4 L222.1,574.2 L223.4,575.6 L224.8,577.4 L226.1,579.4 L227.4,581.6 L228.7,583.8 L230.0,585.8 L231.3,587.7 L232.6,589.3 L234.0,590.7 L235.3,591.8 L236.6,592.5 L237.9,592.9 L239.2,593.0 L240.5,592.7 L241.8,592.2 L243.1,591.5 L244.5,590.6 L245.8,589.6 L247.1,588.5 L248.4,587.4 L249.7,586.5 L251.0,586.0 L252.3,586.2 L253.7,587.3 L255.0,589.1 L256.3,591.1 L257.6,592.8 L258.9,593.7 L260.2,593.4 L261.5,591.5 L262.9,588.5 L264.2,584.8 L265.5,581.2 L266.8,578.0 L268.1,575.7 L269.4,574.4 L270.7,573.7 L272.1,573.6 L273.4,574.0 L274.7,574.8 L276.0,575.9 L277.3,577.3 L278.6,578.8 L279.9,580.5 L281.3,582.3 L282.6,583.9 L283.9,585.4 L285.2,586.6 L286.5,587.3 L287.8,587.5 L289.1,587.1 L290.4,586.3 L291.8,585.5 L293.1,584.9 L294.4,584.6 L295.7,585.0 L297.0,585.9 L298.3,586.8 L299.6,587.5 L301.0,587.3 L302.3,586.4 L303.6,585.0 L304.9,583.5 L306.2,582.1 L307.5,581.1 L308.8,580.9 L310.2,581.4 L311.5,582.5 L312.8,583.9 L314.1,585.6 L315.4,587.2 L316.7,588.7 L318.0,589.8 L319.4,590.4 L320.7,590.5 L322.0,590.0 L323.3,589.2 L324.6,588.0 L325.9,586.6 L327.2,585.1 L328.6,583.6 L329.9,582.1 L331.2,580.8 L332.5,579.8 L333.8,579.1 L335.1,578.8 L336.4,579.0 L337.7,579.4 L339.1,580.1 L340.4,581.0 L341.7,582.1 L343.0,583.2 L344.3,584.3 L345.6,585.3 L346.9,586.2 L348.3,586.9 L349.6,587.4 L350.9,587.5 L352.2,587.3 L353.5,586.9 L354.8,586.2 L356.1,585.4 L357.5,584.6 L358.8,583.7 L360.1,583.0 L361.4,582.4 L362.7,582.0 L364.0,581.9 L365.3,582.1 L366.7,582.5 L368.0,583.0 L369.3,583.6 L370.6,584.1 L371.9,584.5 L373.2,584.8 L374.5,584.8 L375.9,584.6 L377.2,584.4 L378.5,584.0 L379.8,583.6 L381.1,583.3 L382.4,583.0 L383.7,582.8 L385.0,582.7 L386.4,582.9 L387.7,583.3 L389.0,583.9 L390.3,584.6 L391.6,585.3 L392.9,586.1 L394.2,586.9 L395.6,587.7 L396.9,588.3 L398.2,588.9 L399.5,589.2 L400.8,589.4 L402.1,589.4 L403.4,589.2 L404.8,588.8 L406.1,588.2 L407.4,587.5 L408.7,586.5 L410.0,585.4 L411.3,584.1 L412.6,582.8 L414.0,581.5 L415.3,580.3 L416.6,579.3 L417.9,578.7 L419.2,578.4 L420.5,578.5 L421.8,579.0 L423.2,579.7 L424.5,580.8 L425.8,582.0 L427.1,583.3 L428.4,584.8 L429.7,586.4 L431.0,587.9 L432.3,589.3 L433.7,590.5 L435.0,591.5 L436.3,592.0 L437.6,592.1 L438.9,591.7 L440.2,590.8 L441.5,589.6 L442.9,588.2 L444.2,586.7 L445.5,585.2 L446.8,583.8 L448.1,582.6 L449.4,581.6 L450.7,580.8 L452.1,580.2 L453.4,579.6 L454.7,579.1 L456.0,578.6"/>
<path d="M115.7,558.7 L117.0,558.4 L118.3,558.2 L119.6,557.9 L121.0,557.6 L122.3,557.4 L123.6,557.2 L124.9,557.0 L126.2,556.8 L127.5,556.7 L128.8,556.6 L130.2,556.5 L131.5,556.5 L132.8,556.5 L134.1,556.6 L135.4,556.7 L136.7,556.8 L138.0,557.0 L139.4,557.2 L140.7,557.4 L142.0,557.6 L143.3,557.8 L144.6,557.9 L145.9,558.1 L147.2,558.2 L148.5,558.3 L149.9,558.4 L151.2,558.4 L152.5,558.4 L153.8,558.4 L155.1,558.3 L156.4,558.2 L157.7,558.1 L159.1,558.0 L160.4,557.8 L161.7,557.6 L163.0,557.4 L164.3,557.2 L165.6,556.9 L166.9,556.6 L168.3,556.3 L169.6,556.0 L170.9,555.7 L172.2,555.5 L173.5,555.2 L174.8,555.0 L176.1,554.8 L177.5,554.7 L178.8,554.7 L180.1,554.7 L181.4,554.9 L182.7,555.1 L184.0,555.4 L185.3,555.8 L186.7,556.2 L188.0,556.7 L189.3,557.2 L190.6,557.8 L191.9,558.3 L193.2,558.7 L194.5,559.1 L195.8,559.5 L197.2,559.7 L198.5,559.8 L199.8,559.9 L201.1,559.8 L202.4,559.7 L203.7,559.4 L205.0,559.0 L206.4,558.6 L207.7,558.1 L209.0,557.5 L210.3,556.8 L211.6,556.1 L212.9,555.4 L214.2,554.7 L215.6,554.1 L216.9,553.5 L218.2,553.1 L219.5,552.8 L220.8,552.6 L222.1,552.6 L223.4,552.9 L224.8,553.2 L226.1,553.7 L227.4,554.3 L228.7,554.9 L230.0,555.5 L231.3,556.1 L232.6,556.7 L234.0,557.2 L235.3,557.6 L236.6,557.9 L237.9,558.0 L239.2,558.1 L240.5,558.1 L241.8,558.1 L243.1,558.2 L244.5,558.4 L245.8,558.7 L247.1,559.2 L248.4,560.1 L249.7,561.2 L251.0,562.5 L252.3,563.9 L253.7,565.1 L255.0,566.0 L256.3,566.3 L257.6,565.8 L258.9,564.4 L260.2,562.2 L261.5,559.4 L262.9,556.4 L264.2,553.6 L265.5,551.2 L266.8,549.2 L268.1,547.7 L269.4,546.6 L270.7,545.9 L272.1,545.7 L273.4,545.9 L274.7,546.5 L276.0,547.4 L277.3,548.7 L278.6,550.3 L279.9,552.2 L281.3,554.3 L282.6,556.4 L283.9,558.5 L285.2,560.4 L286.5,561.9 L287.8,563.2 L289.1,564.0 L290.4,564.5 L291.8,564.8 L293.1,564.7 L294.4,564.4 L295.7,563.9 L297.0,563.3 L298.3,562.5 L299.6,561.6 L301.0,560.6 L302.3,559.5 L303.6,558.5 L304.9,557.5 L306.2,556.5 L307.5,555.7 L308.8,554.9 L310.2,554.2 L311.5,553.7 L312.8,553.4 L314.1,553.3 L315.4,553.4 L316.7,553.7 L318.0,554.2 L319.4,554.9 L320.7,555.8 L322.0,557.0 L323.3,558.1 L324.6,559.2 L325.9,560.2 L327.2,560.9 L328.6,561.3 L329.9,561.5 L331.2,561.5 L332.5,561.4 L333.8,561.1 L335.1,560.7 L336.4,560.3 L337.7,559.9 L339.1,559.4 L340.4,558.9 L341.7,558.3 L343.0,557.8 L344.3,557.2 L345.6,556.5 L346.9,555.9 L348.3,555.2 L349.6,554.6 L350.9,553.9 L352.2,553.4 L353.5,553.0 L354.8,552.7 L356.1,552.5 L357.5,552.5 L358.8,552.8 L360.1,553.2 L361.4,553.8 L362.7,554.5 L364.0,555.1 L365.3,555.8 L366.7,556.3 L368.0,556.7 L369.3,556.9 L370.6,556.9 L371.9,556.8 L373.2,556.5 L374.5,556.4 L375.9,556.3 L377.2,556.4 L378.5,556.7 L379.8,557.2 L381.1,557.7 L382.4,558.3 L383.7,559.0 L385.0,559.6 L386.4,560.1 L387.7,560.4 L389.0,560.6 L390.3,560.5 L391.6,560.3 L392.9,559.8 L394.2,559.3 L395.6,558.6 L396.9,557.9 L398.2,557.2 L399.5,556.5 L400.8,555.9 L402.1,555.4 L403.4,555.0 L404.8,554.7 L406.1,554.5 L407.4,554.4 L408.7,554.3 L410.0,554.4 L411.3,554.5 L412.6,554.6 L414.0,554.8 L415.3,555.1 L416.6,555.4 L417.9,555.8 L419.2,556.2 L420.5,556.6 L421.8,557.0 L423.2,557.4 L424.5,557.8 L425.8,558.1 L427.1,558.4 L428.4,558.6 L429.7,558.8 L431.0,558.9 L432.3,558.9 L433.7,558.7 L435.0,558.5 L436.3,558.2 L437.6,557.8 L438.9,557.3 L440.2,556.9 L441.5,556.6 L442.9,556.3 L444.2,556.2 L445.5,556.2 L446.8,556.3 L448.1,556.4 L449.4,556.7 L450.7,557.0 L452.1,557.4 L453.4,557.8 L454.7,558.2 L456.0,558.7"/>
<path d="M115.7,702.4 L117.0,702.3 L118.3,702.2 L119.6,702.1 L121.0,702.0 L122.3,701.9 L123.6,701.8 L124.9,701.8 L126.2,701.7 L127.5,701.7 L128.8,701.7 L130.2,701.7 L131.5,701.7 L132.8,701.7 L134.1,701.8 L135.4,701.9 L136.7,702.0 L138.0,702.1 L139.4,702.3 L140.7,702.4 L142.0,702.5 L143.3,702.7 L144.6,702.8 L145.9,702.9 L147.2,703.0 L148.5,703.1 L149.9,703.2 L151.2,703.3 L152.5,703.3 L153.8,703.3 L155.1,703.3 L156.4,703.2 L157.7,703.1 L159.1,703.0 L160.4,702.8 L161.7,702.6 L163.0,702.4 L164.3,702.2 L165.6,701.9 L166.9,701.7 L168.3,701.4 L169.6,701.2 L170.9,701.0 L172.2,700.7 L173.5,700.5 L174.8,700.3 L176.1,700.2 L177.5,700.0 L178.8,699.9 L180.1,699.9 L181.4,699.9 L182.7,699.9 L184.0,700.0 L185.3,700.2 L186.7,700.4 L188.0,700.6 L189.3,700.8 L190.6,701.1 L191.9,701.4 L193.2,701.6 L194.5,701.9 L195.8,702.2 L197.2,702.5 L198.5,702.7 L199.8,703.0 L201.1,703.2 L202.4,703.4 L203.7,703.5 L205.0,703.6 L206.4,703.6 L207.7,703.6 L209.0,703.5 L210.3,703.4 L211.6,703.1 L212.9,702.9 L214.2,702.5 L215.6,702.0 L216.9,701.4 L218.2,700.8 L219.5,700.1 L220.8,699.4 L222.1,698.7 L223.4,698.0 L224.8,697.4 L226.1,696.9 L227.4,696.5 L228.7,696.3 L230.0,696.2 L231.3,696.4 L232.6,696.7 L234.0,697.2 L235.3,697.7 L236.6,698.2 L237.9,698.7 L239.2,699.3 L240.5,700.1 L241.8,701.0 L243.1,702.1 L244.5,703.2 L245.8,704.2 L247.1,705.0 L248.4,705.6 L249.7,706.2 L251.0,707.0 L252.3,708.2 L253.7,709.8 L255.0,711.4 L256.3,712.7 L257.6,713.2 L258.9,712.4 L260.2,710.3 L261.5,707.1 L262.9,703.3 L264.2,699.6 L265.5,696.8 L266.8,694.8 L268.1,693.5 L269.4,692.8 L270.7,692.7 L272.1,692.9 L273.4,693.1 L274.7,693.4 L276.0,693.6 L277.3,694.1 L278.6,695.1 L279.9,696.5 L281.3,698.3 L282.6,700.2 L283.9,701.8 L285.2,703.1 L286.5,703.9 L287.8,704.3 L289.1,704.4 L290.4,704.4 L291.8,704.5 L293.1,705.0 L294.4,705.6 L295.7,706.2 L297.0,706.4 L298.3,706.1 L299.6,705.2 L301.0,703.7 L302.3,701.7 L303.6,699.6 L304.9,698.0 L306.2,697.2 L307.5,697.3 L308.8,698.1 L310.2,699.4 L311.5,700.8 L312.8,701.9 L314.1,702.5 L315.4,702.5 L316.7,702.1 L318.0,701.7 L319.4,701.8 L320.7,702.3 L322.0,703.3 L323.3,704.3 L324.6,705.0 L325.9,705.3 L327.2,705.0 L328.6,704.1 L329.9,703.1 L331.2,702.0 L332.5,701.1 L333.8,700.5 L335.1,700.4 L336.4,700.6 L337.7,701.0 L339.1,701.4 L340.4,701.7 L341.7,701.6 L343.0,701.3 L344.3,700.8 L345.6,700.3 L346.9,699.8 L348.3,699.5 L349.6,699.5 L350.9,699.7 L352.2,700.0 L353.5,700.5 L354.8,701.1 L356.1,701.7 L357.5,702.3 L358.8,703.0 L360.1,703.5 L361.4,704.0 L362.7,704.3 L364.0,704.4 L365.3,704.4 L366.7,704.3 L368.0,704.1 L369.3,703.8 L370.6,703.4 L371.9,702.9 L373.2,702.4 L374.5,701.9 L375.9,701.4 L377.2,700.9 L378.5,700.5 L379.8,700.1 L381.1,699.7 L382.4,699.5 L383.7,699.3 L385.0,699.2 L386.4,699.1 L387.7,699.2 L389.0,699.3 L390.3,699.4 L391.6,699.6 L392.9,699.9 L394.2,700.3 L395.6,700.7 L396.9,701.1 L398.2,701.6 L399.5,702.2 L400.8,702.7 L402.1,703.3 L403.4,703.8 L404.8,704.3 L406.1,704.7 L407.4,704.9 L408.7,705.0 L410.0,704.9 L411.3,704.7 L412.6,704.3 L414.0,703.8 L415.3,703.2 L416.6,702.6 L417.9,702.0 L419.2,701.3 L420.5,700.8 L421.8,700.3 L423.2,699.9 L424.5,699.5 L425.8,699.2 L427.1,699.0 L428.4,698.9 L429.7,698.8 L431.0,698.8 L432.3,698.9 L433.7,699.0 L435.0,699.2 L436.3,699.4 L437.6,699.7 L438.9,699.9 L440.2,700.2 L441.5,700.6 L442.9,700.9 L444.2,701.2 L445.5,701.5 L446.8,701.9 L448.1,702.2 L449.4,702.5 L450.7,702.9 L452.1,703.2 L453.4,703.5 L454.7,703.9 L456.0,704.2"/>
<path d="M115.7,756.5 L117.0,754.7 L118.3,753.0 L119.6,751.3 L121.0,749.7 L122.3,748.2 L123.6,746.8 L124.9,745.6 L126.2,744.6 L127.5,743.9 L128.8,743.4 L130.2,743.2 L131.5,743.3 L132.8,743.6 L134.1,744.2 L135.4,745.0 L136.7,746.1 L138.0,747.3 L139.4,748.6 L140.7,750.1 L142.0,751.6 L143.3,753.2 L144.6,754.7 L145.9,756.2 L147.2,757.4 L148.5,758.4 L149.9,759.1 L151.2,759.4 L152.5,759.2 L153.8,758.7 L155.1,757.8 L156.4,756.6 L157.7,755.1 L159.1,753.6 L160.4,751.9 L161.7,750.3 L163.0,748.7 L164.3,747.3 L165.6,746.0 L166.9,745.0 L168.3,744.4 L169.6,744.1 L170.9,744.1 L172.2,744.4 L173.5,744.9 L174.8,745.7 L176.1,746.6 L177.5,747.6 L178.8,748.7 L180.1,749.8 L181.4,750.9 L182.7,752.0 L184.0,753.1 L185.3,754.0 L186.7,754.8 L188.0,755.5 L189.3,756.1 L190.6,756.4 L191.9,756.6 L193.2,756.4 L194.5,756.1 L195.8,755.5 L197.2,754.7 L198.5,753.8 L199.8,752.8 L201.1,751.7 L202.4,750.5 L203.7,749.3 L205.0,748.1 L206.4,747.0 L207.7,746.0 L209.0,745.0 L210.3,744.3 L211.6,743.7 L212.9,743.3 L214.2,743.2 L215.6,743.4 L216.9,743.8 L218.2,744.4 L219.5,745.3 L220.8,746.3 L222.1,747.5 L223.4,748.7 L224.8,750.0 L226.1,751.3 L227.4,752.6 L228.7,753.9 L230.0,755.1 L231.3,756.2 L232.6,757.0 L234.0,757.3 L235.3,757.1 L236.6,756.4 L237.9,755.4 L239.2,754.2 L240.5,753.0 L241.8,751.8 L243.1,750.6 L244.5,749.6 L245.8,748.8 L247.1,748.2 L248.4,747.8 L249.7,747.6 L251.0,747.8 L252.3,748.5 L253.7,750.1 L255.0,752.8 L256.3,756.1 L257.6,759.3 L258.9,761.6 L260.2,762.4 L261.5,761.2 L262.9,757.6 L264.2,752.2 L265.5,747.2 L266.8,743.7 L268.1,741.6 L269.4,740.7 L270.7,741.1 L272.1,742.6 L273.4,744.4 L274.7,746.1 L276.0,747.6 L277.3,748.7 L278.6,749.4 L279.9,750.1 L281.3,750.8 L282.6,751.4 L283.9,751.9 L285.2,752.1 L286.5,751.8 L287.8,751.3 L289.1,750.8 L290.4,750.6 L291.8,750.9 L293.1,751.7 L294.4,752.9 L295.7,754.1 L297.0,755.2 L298.3,755.7 L299.6,755.4 L301.0,754.4 L302.3,752.6 L303.6,750.1 L304.9,747.7 L306.2,746.0 L307.5,745.2 L308.8,745.3 L310.2,745.9 L311.5,746.9 L312.8,748.3 L314.1,749.7 L315.4,751.0 L316.7,752.2 L318.0,753.1 L319.4,753.9 L320.7,754.4 L322.0,754.8 L323.3,754.9 L324.6,754.9 L325.9,754.8 L327.2,754.5 L328.6,754.0 L329.9,753.5 L331.2,753.0 L332.5,752.5 L333.8,751.9 L335.1,751.5 L336.4,751.2 L337.7,751.0 L339.1,751.0 L340.4,751.0 L341.7,751.1 L343.0,751.0 L344.3,750.7 L345.6,750.2 L346.9,749.5 L348.3,748.4 L349.6,747.5 L350.9,746.7 L352.2,746.4 L353.5,746.7 L354.8,747.4 L356.1,748.4 L357.5,749.3 L358.8,750.0 L360.1,750.3 L361.4,750.2 L362.7,749.9 L364.0,749.3 L365.3,748.7 L366.7,748.0 L368.0,747.4 L369.3,746.9 L370.6,746.6 L371.9,746.6 L373.2,746.8 L374.5,747.4 L375.9,748.3 L377.2,749.7 L378.5,751.5 L379.8,753.5 L381.1,755.5 L382.4,757.3 L383.7,758.7 L385.0,759.6 L386.4,759.7 L387.7,759.3 L389.0,758.4 L390.3,757.1 L391.6,755.5 L392.9,753.7 L394.2,751.9 L395.6,750.1 L396.9,748.4 L398.2,746.8 L399.5,745.5 L400.8,744.4 L402.1,743.7 L403.4,743.2 L404.8,743.2 L406.1,743.6 L407.4,744.3 L408.7,745.2 L410.0,746.4 L411.3,747.7 L412.6,749.1 L414.0,750.6 L415.3,752.0 L416.6,753.4 L417.9,754.6 L419.2,755.7 L420.5,756.5 L421.8,757.0 L423.2,757.2 L424.5,757.0 L425.8,756.4 L427.1,755.6 L428.4,754.7 L429.7,753.6 L431.0,752.4 L432.3,751.3 L433.7,750.3 L435.0,749.3 L436.3,748.5 L437.6,747.8 L438.9,747.3 L440.2,746.8 L441.5,746.6 L442.9,746.4 L444.2,746.4 L445.5,746.6 L446.8,746.9 L448.1,747.3 L449.4,747.7 L450.7,748.3 L452.1,749.0 L453.4,749.6 L454.7,750.4 L456.0,751.1"/>
<path d="M115.7,310.3 L117.1,310.4 L118.4,310.6 L119.7,310.8 L121.0,311.2 L122.3,311.5 L123.6,311.9 L124.9,312.3 L126.3,312.6 L127.6,312.8 L128.9,312.9 L130.2,312.8 L131.5,312.6 L132.8,312.3 L134.1,311.8 L135.5,311.2 L136.8,310.5 L138.1,309.8 L139.4,309.2 L140.7,308.6 L142.0,308.2 L143.3,307.9 L144.7,307.8 L146.0,307.8 L147.3,308.0 L148.6,308.4 L149.9,308.9 L151.2,309.4 L152.5,310.0 L153.9,310.6 L155.2,311.1 L156.5,311.6 L157.8,311.9 L159.1,312.2 L160.4,312.3 L161.7,312.4 L163.1,312.5 L164.4,312.5 L165.7,312.5 L167.0,312.5 L168.3,312.6 L169.6,312.7 L170.9,312.8 L172.3,312.9 L173.6,313.0 L174.9,313.2 L176.2,313.2 L177.5,313.2 L178.8,313.1 L180.1,312.8 L181.5,312.4 L182.8,312.0 L184.1,311.4 L185.4,310.7 L186.7,310.1 L188.0,309.4 L189.3,308.8 L190.7,308.3 L192.0,307.8 L193.3,307.6 L194.6,307.5 L195.9,307.5 L197.2,307.7 L198.5,308.0 L199.9,308.4 L201.2,308.9 L202.5,309.4 L203.8,309.9 L205.1,310.4 L206.4,310.8 L207.7,311.1 L209.1,311.4 L210.4,311.7 L211.7,311.8 L213.0,311.9 L214.3,312.0 L215.6,312.1 L216.9,312.2 L218.3,312.3 L219.6,312.3 L220.9,312.4 L222.2,312.5 L223.5,312.6 L224.8,312.6 L226.1,312.6 L227.5,312.5 L228.8,312.4 L230.1,312.2 L231.4,311.8 L232.7,311.3 L234.0,310.7 L235.3,310.1 L236.7,309.5 L238.0,309.0 L239.3,308.5 L240.6,308.3 L241.9,308.3 L243.2,308.5 L244.5,308.8 L245.9,309.4 L247.2,310.1 L248.5,311.0 L249.8,312.1 L251.1,313.6 L252.4,315.4 L253.7,317.7 L255.1,320.1 L256.4,321.8 L257.7,322.3 L259.0,321.2 L260.3,318.4 L261.6,314.8 L262.9,311.1 L264.3,307.7 L265.6,305.3 L266.9,303.9 L268.2,303.6 L269.5,304.1 L270.8,305.1 L272.1,306.0 L273.5,306.7 L274.8,307.2 L276.1,307.7 L277.4,308.4 L278.7,309.2 L280.0,310.3 L281.3,311.4 L282.7,312.5 L284.0,313.1 L285.3,313.2 L286.6,313.1 L287.9,312.8 L289.2,312.6 L290.5,312.7 L291.9,313.1 L293.2,313.7 L294.5,314.4 L295.8,314.9 L297.1,315.0 L298.4,314.3 L299.7,313.0 L301.1,311.3 L302.4,309.5 L303.7,308.1 L305.0,307.3 L306.3,307.4 L307.6,308.5 L308.9,310.6 L310.3,312.5 L311.6,313.5 L312.9,313.8 L314.2,313.5 L315.5,312.9 L316.8,312.1 L318.1,311.5 L319.5,311.2 L320.8,311.3 L322.1,311.5 L323.4,311.7 L324.7,311.5 L326.0,311.0 L327.3,310.2 L328.7,309.3 L330.0,308.4 L331.3,307.8 L332.6,307.5 L333.9,307.8 L335.2,308.2 L336.5,308.7 L337.9,309.1 L339.2,309.4 L340.5,309.6 L341.8,309.8 L343.1,310.1 L344.4,310.4 L345.7,310.8 L347.1,311.3 L348.4,311.9 L349.7,312.6 L351.0,313.3 L352.3,313.9 L353.6,314.5 L354.9,315.0 L356.3,315.4 L357.6,315.5 L358.9,315.5 L360.2,315.2 L361.5,314.6 L362.8,313.9 L364.1,313.0 L365.5,311.9 L366.8,310.8 L368.1,309.7 L369.4,308.7 L370.7,307.8 L372.0,307.1 L373.3,306.6 L374.7,306.4 L376.0,306.4 L377.3,306.7 L378.6,307.1 L379.9,307.7 L381.2,308.4 L382.5,309.1 L383.9,309.8 L385.2,310.5 L386.5,311.1 L387.8,311.6 L389.1,312.0 L390.4,312.3 L391.7,312.5 L393.1,312.6 L394.4,312.7 L395.7,312.9 L397.0,313.0 L398.3,313.1 L399.6,313.3 L400.9,313.4 L402.3,313.6 L403.6,313.7 L404.9,313.7 L406.2,313.6 L407.5,313.4 L408.8,313.1 L410.1,312.6 L411.5,311.9 L412.8,311.1 L414.1,310.3 L415.4,309.4 L416.7,308.5 L418.0,307.8 L419.3,307.1 L420.7,306.7 L422.0,306.5 L423.3,306.5 L424.6,306.8 L425.9,307.2 L427.2,307.9 L428.5,308.7 L429.9,309.5 L431.2,310.4 L432.5,311.2 L433.8,311.9 L435.1,312.5 L436.4,312.9 L437.7,313.2 L439.1,313.3 L440.4,313.2 L441.7,313.1 L443.0,312.9 L444.3,312.6 L445.6,312.4 L446.9,312.2 L448.3,312.0 L449.6,312.0 L450.9,311.9 L452.2,311.9 L453.5,311.9 L454.8,311.8 L456.1,311.8"/>
<path d="M115.7,311.3 L117.1,311.1 L118.4,311.0 L119.7,310.9 L121.0,310.8 L122.3,310.8 L123.6,310.8 L124.9,310.8 L126.3,310.9 L127.6,311.1 L128.9,311.3 L130.2,311.5 L131.5,311.7 L132.8,311.9 L134.1,312.1 L135.5,312.3 L136.8,312.5 L138.1,312.7 L139.4,312.8 L140.7,312.8 L142.0,312.8 L143.3,312.8 L144.7,312.7 L146.0,312.7 L147.3,312.5 L148.6,312.4 L149.9,312.3 L151.2,312.1 L152.5,312.0 L153.9,311.8 L155.2,311.7 L156.5,311.6 L157.8,311.4 L159.1,311.3 L160.4,311.2 L161.7,311.1 L163.1,311.0 L164.4,310.9 L165.7,310.8 L167.0,310.7 L168.3,310.6 L169.6,310.6 L170.9,310.6 L172.3,310.6 L173.6,310.6 L174.9,310.6 L176.2,310.7 L177.5,310.8 L178.8,310.9 L180.1,311.0 L181.5,311.2 L182.8,311.4 L184.1,311.6 L185.4,311.7 L186.7,311.9 L188.0,312.1 L189.3,312.3 L190.7,312.5 L192.0,312.6 L193.3,312.7 L194.6,312.8 L195.9,312.8 L197.2,312.8 L198.5,312.8 L199.9,312.7 L201.2,312.7 L202.5,312.5 L203.8,312.4 L205.1,312.2 L206.4,312.1 L207.7,311.9 L209.1,311.7 L210.4,311.5 L211.7,311.3 L213.0,311.1 L214.3,311.0 L215.6,310.9 L216.9,310.8 L218.3,310.7 L219.6,310.7 L220.9,310.7 L222.2,310.7 L223.5,310.7 L224.8,310.8 L226.1,310.9 L227.5,311.0 L228.8,311.1 L230.1,311.1 L231.4,311.2 L232.7,311.1 L234.0,311.0 L235.3,310.9 L236.7,310.7 L238.0,310.5 L239.3,310.4 L240.6,310.3 L241.9,310.4 L243.2,310.7 L244.5,311.0 L245.9,311.5 L247.2,312.0 L248.5,312.7 L249.8,313.5 L251.1,314.5 L252.4,315.9 L253.7,317.8 L255.1,320.0 L256.4,322.2 L257.7,323.7 L259.0,323.8 L260.3,322.0 L261.6,318.7 L262.9,314.7 L264.3,310.7 L265.6,307.1 L266.9,304.7 L268.2,303.4 L269.5,303.0 L270.8,303.5 L272.1,304.4 L273.5,305.2 L274.8,305.7 L276.1,306.1 L277.4,306.6 L278.7,307.4 L280.0,308.5 L281.3,309.9 L282.7,311.3 L284.0,312.5 L285.3,313.3 L286.6,313.6 L287.9,313.7 L289.2,313.7 L290.5,313.8 L291.9,314.1 L293.2,314.5 L294.5,315.1 L295.8,315.6 L297.1,315.7 L298.4,315.4 L299.7,314.5 L301.1,313.1 L302.4,311.3 L303.7,309.7 L305.0,308.3 L306.3,307.7 L307.6,307.8 L308.9,308.9 L310.3,310.7 L311.6,312.2 L312.9,313.2 L314.2,313.5 L315.5,313.5 L316.8,313.3 L318.1,313.1 L319.5,313.0 L320.8,313.1 L322.1,313.5 L323.4,314.0 L324.7,314.2 L326.0,314.1 L327.3,313.7 L328.7,313.0 L330.0,312.2 L331.3,311.5 L332.6,311.0 L333.9,310.8 L335.2,311.0 L336.5,311.3 L337.9,311.5 L339.2,311.7 L340.5,311.8 L341.8,311.8 L343.1,311.8 L344.4,311.7 L345.7,311.5 L347.1,311.4 L348.4,311.3 L349.7,311.1 L351.0,311.0 L352.3,310.9 L353.6,310.7 L354.9,310.6 L356.3,310.5 L357.6,310.4 L358.9,310.3 L360.2,310.2 L361.5,310.2 L362.8,310.1 L364.1,310.1 L365.5,310.2 L366.8,310.2 L368.1,310.3 L369.4,310.4 L370.7,310.5 L372.0,310.7 L373.3,310.9 L374.7,311.1 L376.0,311.3 L377.3,311.5 L378.6,311.7 L379.9,311.9 L381.2,312.1 L382.5,312.3 L383.9,312.5 L385.2,312.6 L386.5,312.7 L387.8,312.8 L389.1,312.8 L390.4,312.8 L391.7,312.7 L393.1,312.6 L394.4,312.5 L395.7,312.4 L397.0,312.3 L398.3,312.1 L399.6,312.0 L400.9,311.8 L402.3,311.7 L403.6,311.6 L404.9,311.5 L406.2,311.5 L407.5,311.4 L408.8,311.4 L410.1,311.4 L411.5,311.3 L412.8,311.3 L414.1,311.3 L415.4,311.3 L416.7,311.3 L418.0,311.3 L419.3,311.3 L420.7,311.3 L422.0,311.3 L423.3,311.3 L424.6,311.4 L425.9,311.4 L427.2,311.6 L428.5,311.7 L429.9,311.9 L431.2,312.1 L432.5,312.3 L433.8,312.5 L435.1,312.7 L436.4,312.9 L437.7,313.0 L439.1,313.1 L440.4,313.1 L441.7,313.0 L443.0,312.8 L444.3,312.5 L445.6,312.2 L446.9,311.8 L448.3,311.4 L449.6,310.9 L450.9,310.5 L452.2,310.0 L453.5,309.6 L454.8,309.3 L456.1,309.1"/>
<path d="M115.7,310.9 L117.1,311.1 L118.4,311.4 L119.7,311.7 L121.0,311.9 L122.3,312.2 L123.6,312.4 L124.9,312.6 L126.3,312.7 L127.6,312.8 L128.9,312.9 L130.2,312.9 L131.5,312.9 L132.8,312.9 L134.1,312.8 L135.5,312.7 L136.8,312.6 L138.1,312.4 L139.4,312.2 L140.7,312.0 L142.0,311.8 L143.3,311.6 L144.7,311.3 L146.0,311.1 L147.3,310.8 L148.6,310.5 L149.9,310.3 L151.2,310.0 L152.5,309.8 L153.9,309.6 L155.2,309.4 L156.5,309.3 L157.8,309.2 L159.1,309.2 L160.4,309.2 L161.7,309.2 L163.1,309.4 L164.4,309.5 L165.7,309.8 L167.0,310.1 L168.3,310.4 L169.6,310.8 L170.9,311.2 L172.3,311.6 L173.6,312.0 L174.9,312.3 L176.2,312.7 L177.5,313.0 L178.8,313.2 L180.1,313.4 L181.5,313.4 L182.8,313.4 L184.1,313.3 L185.4,313.2 L186.7,312.9 L188.0,312.6 L189.3,312.3 L190.7,311.9 L192.0,311.4 L193.3,311.0 L194.6,310.6 L195.9,310.2 L197.2,309.9 L198.5,309.7 L199.9,309.5 L201.2,309.3 L202.5,309.3 L203.8,309.4 L205.1,309.5 L206.4,309.7 L207.7,309.9 L209.1,310.2 L210.4,310.5 L211.7,310.9 L213.0,311.2 L214.3,311.5 L215.6,311.8 L216.9,312.1 L218.3,312.3 L219.6,312.5 L220.9,312.6 L222.2,312.7 L223.5,312.6 L224.8,312.6 L226.1,312.5 L227.5,312.3 L228.8,312.1 L230.1,311.9 L231.4,311.6 L232.7,311.2 L234.0,310.8 L235.3,310.5 L236.7,310.1 L238.0,309.8 L239.3,309.6 L240.6,309.5 L241.9,309.7 L243.2,310.0 L244.5,310.4 L245.9,311.0 L247.2,311.6 L248.5,312.4 L249.8,313.4 L251.1,314.7 L252.4,316.5 L253.7,318.7 L255.1,321.0 L256.4,322.8 L257.7,323.4 L259.0,322.3 L260.3,319.5 L261.6,315.8 L262.9,312.0 L264.3,308.6 L265.6,306.1 L266.9,304.6 L268.2,304.2 L269.5,304.6 L270.8,305.5 L272.1,306.2 L273.5,306.7 L274.8,306.8 L276.1,306.8 L277.4,307.0 L278.7,307.4 L280.0,307.9 L281.3,308.7 L282.7,309.5 L284.0,309.9 L285.3,310.0 L286.6,309.9 L287.9,309.7 L289.2,309.7 L290.5,310.2 L291.9,311.1 L293.2,312.4 L294.5,313.8 L295.8,314.9 L297.1,315.6 L298.4,315.4 L299.7,314.4 L301.1,312.9 L302.4,311.2 L303.7,309.7 L305.0,308.9 L306.3,309.1 L307.6,310.4 L308.9,312.7 L310.3,314.9 L311.6,316.1 L312.9,316.4 L314.2,315.9 L315.5,315.1 L316.8,314.1 L318.1,313.3 L319.5,312.8 L320.8,312.8 L322.1,313.0 L323.4,313.1 L324.7,312.9 L326.0,312.2 L327.3,311.3 L328.7,310.2 L330.0,309.3 L331.3,308.6 L332.6,308.4 L333.9,308.9 L335.2,309.6 L336.5,310.3 L337.9,311.0 L339.2,311.5 L340.5,311.9 L341.8,312.2 L343.1,312.4 L344.4,312.5 L345.7,312.5 L347.1,312.5 L348.4,312.5 L349.7,312.4 L351.0,312.2 L352.3,312.0 L353.6,311.8 L354.9,311.5 L356.3,311.3 L357.6,311.0 L358.9,310.7 L360.2,310.4 L361.5,310.1 L362.8,309.9 L364.1,309.7 L365.5,309.6 L366.8,309.6 L368.1,309.6 L369.4,309.7 L370.7,309.9 L372.0,310.1 L373.3,310.4 L374.7,310.8 L376.0,311.1 L377.3,311.6 L378.6,312.0 L379.9,312.4 L381.2,312.7 L382.5,313.0 L383.9,313.3 L385.2,313.5 L386.5,313.6 L387.8,313.6 L389.1,313.6 L390.4,313.4 L391.7,313.1 L393.1,312.8 L394.4,312.5 L395.7,312.0 L397.0,311.6 L398.3,311.1 L399.6,310.7 L400.9,310.3 L402.3,309.9 L403.6,309.6 L404.9,309.3 L406.2,309.1 L407.5,309.0 L408.8,309.0 L410.1,309.0 L411.5,309.1 L412.8,309.3 L414.1,309.5 L415.4,309.8 L416.7,310.1 L418.0,310.4 L419.3,310.7 L420.7,311.0 L422.0,311.3 L423.3,311.5 L424.6,311.8 L425.9,311.9 L427.2,312.1 L428.5,312.2 L429.9,312.3 L431.2,312.3 L432.5,312.3 L433.8,312.3 L435.1,312.3 L436.4,312.2 L437.7,312.1 L439.1,312.0 L440.4,311.8 L441.7,311.7 L443.0,311.5 L444.3,311.4 L445.6,311.2 L446.9,311.0 L448.3,310.8 L449.6,310.7 L450.9,310.5 L452.2,310.4 L453.5,310.3 L454.8,310.2 L456.1,310.1"/>
<path d="M115.7,309.5 L117.1,309.4 L118.4,309.4 L119.7,309.4 L121.0,309.5 L122.3,309.6 L123.6,309.8 L124.9,310.0 L126.3,310.2 L127.6,310.4 L128.9,310.6 L130.2,310.7 L131.5,310.8 L132.8,310.9 L134.1,310.9 L135.5,310.9 L136.8,310.8 L138.1,310.6 L139.4,310.4 L140.7,310.1 L142.0,309.9 L143.3,309.6 L144.7,309.3 L146.0,309.1 L147.3,308.9 L148.6,308.8 L149.9,308.7 L151.2,308.7 L152.5,308.7 L153.9,308.8 L155.2,309.0 L156.5,309.1 L157.8,309.4 L159.1,309.6 L160.4,309.8 L161.7,310.0 L163.1,310.2 L164.4,310.4 L165.7,310.5 L167.0,310.6 L168.3,310.6 L169.6,310.6 L170.9,310.6 L172.3,310.5 L173.6,310.3 L174.9,310.2 L176.2,310.0 L177.5,309.8 L178.8,309.6 L180.1,309.4 L181.5,309.3 L182.8,309.1 L184.1,309.0 L185.4,308.9 L186.7,308.8 L188.0,308.8 L189.3,308.7 L190.7,308.7 L192.0,308.7 L193.3,308.7 L194.6,308.8 L195.9,308.8 L197.2,308.9 L198.5,308.9 L199.9,309.0 L201.2,309.1 L202.5,309.2 L203.8,309.3 L205.1,309.5 L206.4,309.6 L207.7,309.7 L209.1,309.9 L210.4,310.0 L211.7,310.1 L213.0,310.2 L214.3,310.4 L215.6,310.5 L216.9,310.6 L218.3,310.6 L219.6,310.7 L220.9,310.7 L222.2,310.8 L223.5,310.8 L224.8,310.7 L226.1,310.7 L227.5,310.7 L228.8,310.6 L230.1,310.6 L231.4,310.5 L232.7,310.3 L234.0,310.1 L235.3,309.9 L236.7,309.6 L238.0,309.4 L239.3,309.1 L240.6,309.0 L241.9,309.0 L243.2,309.2 L244.5,309.4 L245.9,309.8 L247.2,310.2 L248.5,310.8 L249.8,311.5 L251.1,312.5 L252.4,313.7 L253.7,315.5 L255.1,317.7 L256.4,320.0 L257.7,321.7 L259.0,322.0 L260.3,320.6 L261.6,317.4 L262.9,313.4 L264.3,309.3 L265.6,305.6 L266.9,302.9 L268.2,301.4 L269.5,300.9 L270.8,301.4 L272.1,302.3 L273.5,303.2 L274.8,303.9 L276.1,304.3 L277.4,304.9 L278.7,305.6 L280.0,306.7 L281.3,308.0 L282.7,309.6 L284.0,311.1 L285.3,312.2 L286.6,312.8 L287.9,313.1 L289.2,313.4 L290.5,313.7 L291.9,314.2 L293.2,315.1 L294.5,316.0 L295.8,316.9 L297.1,317.4 L298.4,317.2 L299.7,316.2 L301.1,314.3 L302.4,311.9 L303.7,309.4 L305.0,307.2 L306.3,305.7 L307.6,305.2 L308.9,305.8 L310.3,307.5 L311.6,309.0 L312.9,309.8 L314.2,310.0 L315.5,309.7 L316.8,309.2 L318.1,308.7 L319.5,308.5 L320.8,308.7 L322.1,309.3 L323.4,310.1 L324.7,310.8 L326.0,311.1 L327.3,311.0 L328.7,310.5 L330.0,309.9 L331.3,309.3 L332.6,308.9 L333.9,308.8 L335.2,309.2 L336.5,309.8 L337.9,310.4 L339.2,310.8 L340.5,311.1 L341.8,311.3 L343.1,311.3 L344.4,311.4 L345.7,311.3 L347.1,311.3 L348.4,311.3 L349.7,311.2 L351.0,311.1 L352.3,311.1 L353.6,311.0 L354.9,310.8 L356.3,310.7 L357.6,310.5 L358.9,310.3 L360.2,310.1 L361.5,309.9 L362.8,309.6 L364.1,309.4 L365.5,309.1 L366.8,308.9 L368.1,308.6 L369.4,308.4 L370.7,308.2 L372.0,308.0 L373.3,307.8 L374.7,307.7 L376.0,307.5 L377.3,307.5 L378.6,307.4 L379.9,307.4 L381.2,307.4 L382.5,307.4 L383.9,307.5 L385.2,307.7 L386.5,307.8 L387.8,308.0 L389.1,308.3 L390.4,308.5 L391.7,308.8 L393.1,309.2 L394.4,309.5 L395.7,309.9 L397.0,310.2 L398.3,310.6 L399.6,310.9 L400.9,311.3 L402.3,311.6 L403.6,311.8 L404.9,312.1 L406.2,312.3 L407.5,312.5 L408.8,312.6 L410.1,312.7 L411.5,312.7 L412.8,312.7 L414.1,312.7 L415.4,312.7 L416.7,312.6 L418.0,312.4 L419.3,312.3 L420.7,312.0 L422.0,311.8 L423.3,311.5 L424.6,311.1 L425.9,310.7 L427.2,310.3 L428.5,309.8 L429.9,309.4 L431.2,308.9 L432.5,308.4 L433.8,307.9 L435.1,307.5 L436.4,307.1 L437.7,306.8 L439.1,306.5 L440.4,306.4 L441.7,306.4 L443.0,306.5 L444.3,306.7 L445.6,307.1 L446.9,307.5 L448.3,308.0 L449.6,308.6 L450.9,309.3 L452.2,309.9 L453.5,310.6 L454.8,311.2 L456.1,311.8"/>
<path d="M115.7,311.4 L117.1,311.3 L118.4,311.2 L119.7,311.0 L121.0,310.7 L122.3,310.5 L123.6,310.2 L124.9,310.0 L126.3,309.8 L127.6,309.6 L128.9,309.5 L130.2,309.3 L131.5,309.3 L132.8,309.2 L134.1,309.2 L135.5,309.2 L136.8,309.3 L138.1,309.3 L139.4,309.4 L140.7,309.4 L142.0,309.5 L143.3,309.6 L144.7,309.7 L146.0,309.7 L147.3,309.8 L148.6,309.8 L149.9,309.9 L151.2,309.9 L152.5,309.9 L153.9,310.0 L155.2,310.0 L156.5,310.0 L157.8,310.1 L159.1,310.1 L160.4,310.2 L161.7,310.3 L163.1,310.4 L164.4,310.5 L165.7,310.7 L167.0,310.9 L168.3,311.1 L169.6,311.2 L170.9,311.4 L172.3,311.6 L173.6,311.7 L174.9,311.8 L176.2,311.8 L177.5,311.8 L178.8,311.7 L180.1,311.5 L181.5,311.2 L182.8,310.8 L184.1,310.4 L185.4,310.0 L186.7,309.5 L188.0,309.0 L189.3,308.5 L190.7,308.0 L192.0,307.7 L193.3,307.4 L194.6,307.3 L195.9,307.2 L197.2,307.3 L198.5,307.5 L199.9,307.9 L201.2,308.4 L202.5,308.9 L203.8,309.5 L205.1,310.1 L206.4,310.7 L207.7,311.3 L209.1,311.8 L210.4,312.2 L211.7,312.5 L213.0,312.6 L214.3,312.6 L215.6,312.5 L216.9,312.2 L218.3,311.9 L219.6,311.5 L220.9,311.0 L222.2,310.5 L223.5,310.0 L224.8,309.5 L226.1,309.1 L227.5,308.8 L228.8,308.5 L230.1,308.3 L231.4,308.2 L232.7,308.1 L234.0,308.1 L235.3,308.1 L236.7,308.1 L238.0,308.2 L239.3,308.3 L240.6,308.5 L241.9,308.9 L243.2,309.4 L244.5,309.9 L245.9,310.5 L247.2,311.1 L248.5,311.8 L249.8,312.6 L251.1,313.6 L252.4,314.9 L253.7,316.7 L255.1,318.9 L256.4,321.1 L257.7,322.7 L259.0,322.8 L260.3,321.1 L261.6,317.7 L262.9,313.6 L264.3,309.4 L265.6,305.6 L266.9,302.9 L268.2,301.4 L269.5,300.9 L270.8,301.4 L272.1,302.2 L273.5,303.0 L274.8,303.6 L276.1,304.0 L277.4,304.4 L278.7,305.1 L280.0,306.1 L281.3,307.5 L282.7,308.9 L284.0,310.1 L285.3,310.9 L286.6,311.2 L287.9,311.4 L289.2,311.5 L290.5,311.7 L291.9,312.1 L293.2,312.8 L294.5,313.6 L295.8,314.4 L297.1,315.0 L298.4,315.1 L299.7,314.7 L301.1,313.7 L302.4,312.5 L303.7,311.2 L305.0,310.1 L306.3,309.5 L307.6,309.6 L308.9,310.5 L310.3,311.9 L311.6,313.1 L312.9,313.5 L314.2,313.4 L315.5,312.8 L316.8,311.9 L318.1,310.9 L319.5,310.0 L320.8,309.4 L322.1,309.0 L323.4,308.8 L324.7,308.5 L326.0,308.0 L327.3,307.3 L328.7,306.6 L330.0,305.9 L331.3,305.4 L332.6,305.3 L333.9,305.5 L335.2,306.3 L336.5,307.2 L337.9,308.3 L339.2,309.3 L340.5,310.2 L341.8,311.0 L343.1,311.7 L344.4,312.2 L345.7,312.7 L347.1,313.0 L348.4,313.2 L349.7,313.3 L351.0,313.2 L352.3,313.0 L353.6,312.8 L354.9,312.4 L356.3,312.0 L357.6,311.5 L358.9,311.0 L360.2,310.4 L361.5,309.9 L362.8,309.4 L364.1,309.0 L365.5,308.6 L366.8,308.2 L368.1,308.0 L369.4,307.8 L370.7,307.7 L372.0,307.7 L373.3,307.8 L374.7,307.9 L376.0,308.2 L377.3,308.5 L378.6,308.9 L379.9,309.4 L381.2,309.8 L382.5,310.3 L383.9,310.8 L385.2,311.2 L386.5,311.6 L387.8,311.9 L389.1,312.1 L390.4,312.2 L391.7,312.2 L393.1,312.0 L394.4,311.8 L395.7,311.5 L397.0,311.2 L398.3,310.8 L399.6,310.3 L400.9,309.9 L402.3,309.5 L403.6,309.2 L404.9,308.9 L406.2,308.7 L407.5,308.6 L408.8,308.6 L410.1,308.7 L411.5,308.9 L412.8,309.1 L414.1,309.4 L415.4,309.7 L416.7,310.0 L418.0,310.3 L419.3,310.5 L420.7,310.7 L422.0,310.9 L423.3,311.0 L424.6,311.1 L425.9,311.2 L427.2,311.2 L428.5,311.1 L429.9,311.1 L431.2,311.1 L432.5,311.1 L433.8,311.1 L435.1,311.1 L436.4,311.2 L437.7,311.2 L439.1,311.3 L440.4,311.3 L441.7,311.3 L443.0,311.2 L444.3,311.1 L445.6,310.9 L446.9,310.6 L448.3,310.2 L449.6,309.8 L450.9,309.3 L452.2,308.8 L453.5,308.3 L454.8,307.8 L456.1,307.3"/>
<path d="M115.7,309.3 L117.1,309.9 L118.4,310.5 L119.7,311.2 L121.0,311.9 L122.3,312.6 L123.6,313.3 L124.9,313.8 L126.3,314.2 L127.6,314.5 L128.9,314.6 L130.2,314.6 L131.5,314.4 L132.8,314.1 L134.1,313.7 L135.5,313.2 L136.8,312.6 L138.1,312.1 L139.4,311.5 L140.7,310.9 L142.0,310.4 L143.3,309.9 L144.7,309.5 L146.0,309.2 L147.3,309.0 L148.6,308.9 L149.9,308.8 L151.2,308.8 L152.5,308.8 L153.9,308.8 L155.2,308.9 L156.5,308.9 L157.8,309.0 L159.1,309.0 L160.4,309.0 L161.7,308.9 L163.1,308.8 L164.4,308.7 L165.7,308.6 L167.0,308.5 L168.3,308.4 L169.6,308.3 L170.9,308.3 L172.3,308.3 L173.6,308.3 L174.9,308.4 L176.2,308.6 L177.5,308.8 L178.8,309.1 L180.1,309.4 L181.5,309.8 L182.8,310.2 L184.1,310.7 L185.4,311.1 L186.7,311.5 L188.0,311.9 L189.3,312.2 L190.7,312.5 L192.0,312.8 L193.3,313.0 L194.6,313.1 L195.9,313.1 L197.2,313.0 L198.5,312.9 L199.9,312.7 L201.2,312.5 L202.5,312.2 L203.8,311.8 L205.1,311.5 L206.4,311.1 L207.7,310.8 L209.1,310.4 L210.4,310.2 L211.7,309.9 L213.0,309.7 L214.3,309.6 L215.6,309.6 L216.9,309.6 L218.3,309.7 L219.6,309.9 L220.9,310.1 L222.2,310.4 L223.5,310.7 L224.8,311.0 L226.1,311.4 L227.5,311.7 L228.8,312.0 L230.1,312.3 L231.4,312.4 L232.7,312.4 L234.0,312.3 L235.3,312.0 L236.7,311.7 L238.0,311.3 L239.3,310.9 L240.6,310.5 L241.9,310.3 L243.2,310.2 L244.5,310.2 L245.9,310.3 L247.2,310.6 L248.5,311.0 L249.8,311.6 L251.1,312.6 L252.4,314.1 L253.7,316.2 L255.1,318.9 L256.4,321.3 L257.7,322.9 L259.0,322.7 L260.3,320.5 L261.6,316.6 L262.9,312.1 L264.3,307.6 L265.6,303.8 L266.9,301.3 L268.2,300.1 L269.5,300.0 L270.8,301.0 L272.1,302.2 L273.5,303.3 L274.8,304.2 L276.1,304.8 L277.4,305.6 L278.7,306.6 L280.0,307.9 L281.3,309.5 L282.7,311.2 L284.0,312.6 L285.3,313.6 L286.6,314.0 L287.9,314.1 L289.2,314.1 L290.5,314.3 L291.9,314.9 L293.2,315.7 L294.5,316.7 L295.8,317.6 L297.1,318.0 L298.4,317.5 L299.7,316.1 L301.1,313.8 L302.4,311.0 L303.7,308.3 L305.0,306.2 L306.3,305.1 L307.6,305.3 L308.9,307.0 L310.3,309.5 L311.6,311.6 L312.9,312.7 L314.2,313.1 L315.5,312.9 L316.8,312.4 L318.1,312.1 L319.5,312.1 L320.8,312.6 L322.1,313.5 L323.4,314.4 L324.7,315.1 L326.0,315.3 L327.3,314.9 L328.7,314.1 L330.0,313.2 L331.3,312.3 L332.6,311.7 L333.9,311.6 L335.2,311.9 L336.5,312.4 L337.9,312.7 L339.2,312.8 L340.5,312.7 L341.8,312.4 L343.1,312.0 L344.4,311.5 L345.7,310.9 L347.1,310.3 L348.4,309.6 L349.7,309.0 L351.0,308.3 L352.3,307.7 L353.6,307.1 L354.9,306.6 L356.3,306.1 L357.6,305.7 L358.9,305.4 L360.2,305.2 L361.5,305.1 L362.8,305.2 L364.1,305.4 L365.5,305.7 L366.8,306.1 L368.1,306.6 L369.4,307.2 L370.7,307.9 L372.0,308.6 L373.3,309.4 L374.7,310.2 L376.0,311.0 L377.3,311.7 L378.6,312.3 L379.9,312.9 L381.2,313.3 L382.5,313.7 L383.9,313.9 L385.2,314.0 L386.5,314.0 L387.8,313.9 L389.1,313.7 L390.4,313.5 L391.7,313.2 L393.1,312.9 L394.4,312.5 L395.7,312.2 L397.0,311.9 L398.3,311.7 L399.6,311.4 L400.9,311.3 L402.3,311.2 L403.6,311.2 L404.9,311.2 L406.2,311.2 L407.5,311.3 L408.8,311.3 L410.1,311.4 L411.5,311.5 L412.8,311.5 L414.1,311.6 L415.4,311.5 L416.7,311.5 L418.0,311.4 L419.3,311.3 L420.7,311.1 L422.0,311.0 L423.3,310.8 L424.6,310.6 L425.9,310.5 L427.2,310.4 L428.5,310.2 L429.9,310.2 L431.2,310.1 L432.5,310.1 L433.8,310.1 L435.1,310.1 L436.4,310.1 L437.7,310.0 L439.1,310.0 L440.4,309.9 L441.7,309.8 L443.0,309.7 L444.3,309.5 L445.6,309.2 L446.9,308.9 L448.3,308.6 L449.6,308.2 L450.9,307.8 L452.2,307.5 L453.5,307.1 L454.8,306.9 L456.1,306.7"/>
<path d="M115.7,314.5 L117.1,315.0 L118.4,315.3 L119.7,315.6 L121.0,315.7 L122.3,315.6 L123.6,315.4 L124.9,315.1 L126.3,314.6 L127.6,314.1 L128.9,313.5 L130.2,312.9 L131.5,312.3 L132.8,311.8 L134.1,311.3 L135.5,310.9 L136.8,310.6 L138.1,310.4 L139.4,310.4 L140.7,310.4 L142.0,310.6 L143.3,310.8 L144.7,311.2 L146.0,311.5 L147.3,311.9 L148.6,312.3 L149.9,312.6 L151.2,312.9 L152.5,313.2 L153.9,313.4 L155.2,313.4 L156.5,313.5 L157.8,313.4 L159.1,313.2 L160.4,313.0 L161.7,312.7 L163.1,312.4 L164.4,312.1 L165.7,311.7 L167.0,311.3 L168.3,311.0 L169.6,310.6 L170.9,310.3 L172.3,310.1 L173.6,309.9 L174.9,309.8 L176.2,309.8 L177.5,309.9 L178.8,310.0 L180.1,310.2 L181.5,310.5 L182.8,310.9 L184.1,311.3 L185.4,311.7 L186.7,312.2 L188.0,312.6 L189.3,313.0 L190.7,313.4 L192.0,313.7 L193.3,313.9 L194.6,313.9 L195.9,313.9 L197.2,313.8 L198.5,313.5 L199.9,313.2 L201.2,312.8 L202.5,312.4 L203.8,311.9 L205.1,311.5 L206.4,311.1 L207.7,310.7 L209.1,310.5 L210.4,310.4 L211.7,310.3 L213.0,310.5 L214.3,310.7 L215.6,311.0 L216.9,311.4 L218.3,311.9 L219.6,312.3 L220.9,312.8 L222.2,313.2 L223.5,313.5 L224.8,313.7 L226.1,313.8 L227.5,313.7 L228.8,313.5 L230.1,313.2 L231.4,312.8 L232.7,312.3 L234.0,311.7 L235.3,311.0 L236.7,310.4 L238.0,309.8 L239.3,309.4 L240.6,309.1 L241.9,309.1 L243.2,309.4 L244.5,310.0 L245.9,310.9 L247.2,311.8 L248.5,312.9 L249.8,314.0 L251.1,315.3 L252.4,316.6 L253.7,318.2 L255.1,320.2 L256.4,322.6 L257.7,324.9 L259.0,326.4 L260.3,326.3 L261.6,324.2 L262.9,320.1 L264.3,315.1 L265.6,310.0 L266.9,305.2 L268.2,301.6 L269.5,299.2 L270.8,297.9 L272.1,297.8 L273.5,298.3 L274.8,299.0 L276.1,299.7 L277.4,300.6 L278.7,301.8 L280.0,303.5 L281.3,305.7 L282.7,308.3 L284.0,311.1 L285.3,313.9 L286.6,316.1 L287.9,317.7 L289.2,318.8 L290.5,319.7 L291.9,320.6 L293.2,321.6 L294.5,322.9 L295.8,324.2 L297.1,325.4 L298.4,326.0 L299.7,325.7 L301.1,324.5 L302.4,322.3 L303.7,319.5 L305.0,316.5 L306.3,313.9 L307.6,312.1 L308.9,311.4 L310.3,312.0 L311.6,313.5 L312.9,314.7 L314.2,314.8 L315.5,314.0 L316.8,312.6 L318.1,310.9 L319.5,309.2 L320.8,307.7 L322.1,306.8 L323.4,306.4 L324.7,306.4 L326.0,306.3 L327.3,306.0 L328.7,305.3 L330.0,304.6 L331.3,303.9 L332.6,303.4 L333.9,303.5 L335.2,304.2 L336.5,305.6 L337.9,307.4 L339.2,309.2 L340.5,310.9 L341.8,312.5 L343.1,313.9 L344.4,315.1 L345.7,316.2 L347.1,317.2 L348.4,317.9 L349.7,318.6 L351.0,319.0 L352.3,319.3 L353.6,319.3 L354.9,319.2 L356.3,318.8 L357.6,318.3 L358.9,317.6 L360.2,316.7 L361.5,315.7 L362.8,314.5 L364.1,313.3 L365.5,312.1 L366.8,310.8 L368.1,309.7 L369.4,308.6 L370.7,307.7 L372.0,306.9 L373.3,306.4 L374.7,306.1 L376.0,306.1 L377.3,306.4 L378.6,306.8 L379.9,307.5 L381.2,308.4 L382.5,309.5 L383.9,310.6 L385.2,311.7 L386.5,312.8 L387.8,313.8 L389.1,314.6 L390.4,315.2 L391.7,315.6 L393.1,315.7 L394.4,315.6 L395.7,315.2 L397.0,314.6 L398.3,313.9 L399.6,313.0 L400.9,312.0 L402.3,311.1 L403.6,310.2 L404.9,309.5 L406.2,309.0 L407.5,308.7 L408.8,308.6 L410.1,308.8 L411.5,309.2 L412.8,309.8 L414.1,310.6 L415.4,311.5 L416.7,312.4 L418.0,313.4 L419.3,314.2 L420.7,314.9 L422.0,315.3 L423.3,315.6 L424.6,315.5 L425.9,315.2 L427.2,314.7 L428.5,313.9 L429.9,313.0 L431.2,312.0 L432.5,310.9 L433.8,309.9 L435.1,309.0 L436.4,308.2 L437.7,307.7 L439.1,307.4 L440.4,307.4 L441.7,307.6 L443.0,308.2 L444.3,309.0 L445.6,310.0 L446.9,311.2 L448.3,312.4 L449.6,313.7 L450.9,315.0 L452.2,316.1 L453.5,317.1 L454.8,317.9 L456.1,318.5"/>
<path d="M115.7,314.4 L117.1,313.5 L118.4,312.3 L119.7,310.9 L121.0,309.6 L122.3,308.4 L123.6,307.5 L124.9,306.8 L126.3,306.6 L127.6,306.9 L128.9,307.6 L130.2,308.6 L131.5,310.0 L132.8,311.5 L134.1,313.0 L135.5,314.4 L136.8,315.6 L138.1,316.4 L139.4,316.8 L140.7,316.7 L142.0,316.1 L143.3,315.1 L144.7,313.7 L146.0,312.2 L147.3,310.6 L148.6,309.1 L149.9,307.8 L151.2,307.0 L152.5,306.6 L153.9,306.7 L155.2,307.4 L156.5,308.5 L157.8,310.1 L159.1,311.9 L160.4,313.9 L161.7,315.9 L163.1,317.6 L164.4,319.0 L165.7,320.0 L167.0,320.4 L168.3,320.3 L169.6,319.6 L170.9,318.4 L172.3,316.8 L173.6,314.9 L174.9,313.0 L176.2,311.0 L177.5,309.2 L178.8,307.7 L180.1,306.7 L181.5,306.0 L182.8,305.9 L184.1,306.2 L185.4,307.0 L186.7,308.1 L188.0,309.4 L189.3,310.8 L190.7,312.2 L192.0,313.5 L193.3,314.5 L194.6,315.2 L195.9,315.6 L197.2,315.5 L198.5,315.1 L199.9,314.4 L201.2,313.5 L202.5,312.4 L203.8,311.2 L205.1,310.0 L206.4,309.0 L207.7,308.3 L209.1,307.8 L210.4,307.6 L211.7,307.8 L213.0,308.4 L214.3,309.2 L215.6,310.3 L216.9,311.6 L218.3,312.9 L219.6,314.3 L220.9,315.5 L222.2,316.6 L223.5,317.4 L224.8,318.0 L226.1,318.2 L227.5,318.0 L228.8,317.6 L230.1,316.9 L231.4,316.0 L232.7,314.8 L234.0,313.5 L235.3,312.3 L236.7,311.1 L238.0,310.1 L239.3,309.4 L240.6,308.9 L241.9,308.9 L243.2,309.3 L244.5,310.0 L245.9,310.8 L247.2,311.8 L248.5,312.8 L249.8,314.0 L251.1,315.2 L252.4,316.7 L253.7,318.6 L255.1,321.0 L256.4,323.2 L257.7,324.7 L259.0,324.5 L260.3,322.4 L261.6,318.5 L262.9,313.7 L264.3,309.0 L265.6,304.9 L266.9,302.2 L268.2,300.9 L269.5,301.0 L270.8,302.4 L272.1,304.5 L273.5,306.6 L274.8,308.5 L276.1,310.1 L277.4,311.5 L278.7,312.9 L280.0,314.2 L281.3,315.4 L282.7,316.5 L284.0,316.9 L285.3,316.7 L286.6,315.9 L287.9,314.8 L289.2,313.8 L290.5,313.1 L291.9,312.9 L293.2,313.1 L294.5,313.7 L295.8,314.4 L297.1,315.1 L298.4,315.5 L299.7,315.3 L301.1,314.5 L302.4,313.3 L303.7,311.9 L305.0,310.6 L306.3,309.7 L307.6,309.3 L308.9,309.7 L310.3,310.6 L311.6,311.3 L312.9,311.4 L314.2,311.2 L315.5,310.7 L316.8,310.3 L318.1,310.1 L319.5,310.4 L320.8,311.1 L322.1,312.3 L323.4,313.8 L324.7,315.1 L326.0,316.2 L327.3,316.8 L328.7,317.0 L330.0,316.8 L331.3,316.4 L332.6,315.8 L333.9,315.2 L335.2,314.7 L336.5,314.0 L337.9,313.2 L339.2,312.2 L340.5,311.1 L341.8,310.0 L343.1,309.0 L344.4,308.2 L345.7,307.7 L347.1,307.6 L348.4,307.8 L349.7,308.4 L351.0,309.4 L352.3,310.6 L353.6,312.0 L354.9,313.5 L356.3,315.0 L357.6,316.3 L358.9,317.4 L360.2,318.2 L361.5,318.5 L362.8,318.4 L364.1,317.9 L365.5,316.8 L366.8,315.4 L368.1,313.7 L369.4,311.7 L370.7,309.7 L372.0,307.8 L373.3,306.1 L374.7,304.7 L376.0,303.8 L377.3,303.4 L378.6,303.5 L379.9,304.2 L381.2,305.4 L382.5,307.0 L383.9,308.9 L385.2,310.9 L386.5,312.9 L387.8,314.6 L389.1,316.1 L390.4,317.1 L391.7,317.6 L393.1,317.6 L394.4,317.0 L395.7,316.1 L397.0,314.8 L398.3,313.3 L399.6,311.9 L400.9,310.5 L402.3,309.5 L403.6,308.9 L404.9,308.8 L406.2,309.2 L407.5,310.1 L408.8,311.5 L410.1,313.2 L411.5,315.1 L412.8,317.0 L414.1,318.7 L415.4,320.1 L416.7,321.1 L418.0,321.4 L419.3,321.2 L420.7,320.4 L422.0,318.9 L423.3,317.1 L424.6,314.9 L425.9,312.5 L427.2,310.2 L428.5,308.1 L429.9,306.3 L431.2,304.9 L432.5,304.1 L433.8,303.9 L435.1,304.2 L436.4,304.9 L437.7,306.1 L439.1,307.5 L440.4,309.0 L441.7,310.6 L443.0,312.0 L444.3,313.1 L445.6,314.0 L446.9,314.5 L448.3,314.7 L449.6,314.5 L450.9,314.1 L452.2,313.5 L453.5,312.9 L454.8,312.2 L456.1,311.5"/>
<path d="M115.7,312.5 L117.1,312.9 L118.4,313.4 L119.7,313.7 L121.0,314.0 L122.3,314.2 L123.6,314.3 L124.9,314.3 L126.3,314.1 L127.6,313.8 L128.9,313.5 L130.2,313.1 L131.5,312.6 L132.8,312.2 L134.1,311.7 L135.5,311.3 L136.8,310.9 L138.1,310.6 L139.4,310.4 L140.7,310.2 L142.0,310.1 L143.3,310.0 L144.7,309.9 L146.0,309.9 L147.3,309.8 L148.6,309.6 L149.9,309.4 L151.2,309.2 L152.5,309.0 L153.9,308.8 L155.2,308.6 L156.5,308.5 L157.8,308.5 L159.1,308.6 L160.4,308.9 L161.7,309.3 L163.1,310.0 L164.4,310.9 L165.7,311.9 L167.0,313.0 L168.3,314.3 L169.6,315.6 L170.9,316.9 L172.3,318.0 L173.6,319.0 L174.9,319.8 L176.2,320.3 L177.5,320.6 L178.8,320.4 L180.1,320.0 L181.5,319.2 L182.8,318.1 L184.1,316.8 L185.4,315.3 L186.7,313.6 L188.0,312.0 L189.3,310.3 L190.7,308.8 L192.0,307.4 L193.3,306.3 L194.6,305.4 L195.9,304.7 L197.2,304.4 L198.5,304.3 L199.9,304.4 L201.2,304.8 L202.5,305.3 L203.8,306.0 L205.1,306.7 L206.4,307.5 L207.7,308.3 L209.1,309.1 L210.4,309.8 L211.7,310.5 L213.0,311.1 L214.3,311.7 L215.6,312.2 L216.9,312.6 L218.3,313.0 L219.6,313.4 L220.9,313.8 L222.2,314.1 L223.5,314.4 L224.8,314.7 L226.1,315.0 L227.5,315.2 L228.8,315.4 L230.1,315.6 L231.4,315.6 L232.7,315.5 L234.0,315.2 L235.3,314.8 L236.7,314.3 L238.0,313.8 L239.3,313.1 L240.6,312.5 L241.9,312.0 L243.2,311.7 L244.5,311.4 L245.9,311.3 L247.2,311.3 L248.5,311.6 L249.8,312.1 L251.1,313.0 L252.4,314.2 L253.7,316.0 L255.1,318.3 L256.4,320.7 L257.7,322.4 L259.0,322.9 L260.3,321.8 L261.6,319.0 L262.9,315.6 L264.3,312.2 L265.6,309.2 L266.9,307.2 L268.2,306.2 L269.5,306.0 L270.8,306.6 L272.1,307.4 L273.5,307.9 L274.8,307.9 L276.1,307.5 L277.4,306.9 L278.7,306.5 L280.0,306.3 L281.3,306.4 L282.7,306.7 L284.0,307.2 L285.3,307.5 L286.6,307.7 L287.9,307.9 L289.2,308.3 L290.5,309.1 L291.9,310.4 L293.2,312.1 L294.5,314.1 L295.8,316.0 L297.1,317.5 L298.4,318.4 L299.7,318.3 L301.1,317.2 L302.4,315.5 L303.7,313.5 L305.0,311.5 L306.3,310.1 L307.6,309.4 L308.9,309.8 L310.3,311.0 L311.6,312.0 L312.9,312.5 L314.2,312.5 L315.5,312.3 L316.8,312.1 L318.1,312.1 L319.5,312.6 L320.8,313.5 L322.1,314.9 L323.4,316.5 L324.7,317.8 L326.0,318.6 L327.3,318.8 L328.7,318.4 L330.0,317.6 L331.3,316.4 L332.6,315.2 L333.9,314.0 L335.2,313.0 L336.5,312.1 L337.9,311.0 L339.2,309.9 L340.5,308.8 L341.8,307.8 L343.1,307.1 L344.4,306.6 L345.7,306.4 L347.1,306.6 L348.4,307.2 L349.7,308.0 L351.0,308.9 L352.3,310.0 L353.6,311.2 L354.9,312.2 L356.3,313.1 L357.6,313.8 L358.9,314.2 L360.2,314.3 L361.5,314.1 L362.8,313.7 L364.1,313.1 L365.5,312.4 L366.8,311.6 L368.1,310.8 L369.4,310.2 L370.7,309.7 L372.0,309.4 L373.3,309.3 L374.7,309.5 L376.0,310.0 L377.3,310.7 L378.6,311.6 L379.9,312.5 L381.2,313.5 L382.5,314.5 L383.9,315.4 L385.2,316.1 L386.5,316.6 L387.8,316.8 L389.1,316.8 L390.4,316.5 L391.7,316.0 L393.1,315.3 L394.4,314.5 L395.7,313.5 L397.0,312.6 L398.3,311.6 L399.6,310.8 L400.9,310.0 L402.3,309.4 L403.6,308.9 L404.9,308.6 L406.2,308.4 L407.5,308.3 L408.8,308.3 L410.1,308.4 L411.5,308.5 L412.8,308.7 L414.1,308.8 L415.4,308.9 L416.7,309.0 L418.0,309.1 L419.3,309.2 L420.7,309.3 L422.0,309.4 L423.3,309.6 L424.6,309.8 L425.9,310.1 L427.2,310.4 L428.5,310.8 L429.9,311.3 L431.2,311.9 L432.5,312.5 L433.8,313.1 L435.1,313.7 L436.4,314.2 L437.7,314.8 L439.1,315.2 L440.4,315.6 L441.7,315.9 L443.0,316.1 L444.3,316.2 L445.6,316.2 L446.9,316.1 L448.3,316.0 L449.6,315.8 L450.9,315.5 L452.2,315.2 L453.5,314.9 L454.8,314.6 L456.1,314.2"/>
<path d="M115.7,321.4 L117.1,320.8 L118.4,320.2 L119.7,319.7 L121.0,319.3 L122.3,319.1 L123.6,319.1 L124.9,319.3 L126.3,319.6 L127.6,320.1 L128.9,320.8 L130.2,321.6 L131.5,322.5 L132.8,323.4 L134.1,324.4 L135.5,325.4 L136.8,326.2 L138.1,327.0 L139.4,327.6 L140.7,328.0 L142.0,328.2 L143.3,328.2 L144.7,328.0 L146.0,327.5 L147.3,326.9 L148.6,326.1 L149.9,325.1 L151.2,324.2 L152.5,323.2 L153.9,322.2 L155.2,321.3 L156.5,320.6 L157.8,320.0 L159.1,319.6 L160.4,319.4 L161.7,319.4 L163.1,319.6 L164.4,319.9 L165.7,320.5 L167.0,321.1 L168.3,321.8 L169.6,322.6 L170.9,323.3 L172.3,324.0 L173.6,324.7 L174.9,325.2 L176.2,325.7 L177.5,326.0 L178.8,326.2 L180.1,326.3 L181.5,326.3 L182.8,326.2 L184.1,326.0 L185.4,325.8 L186.7,325.6 L188.0,325.4 L189.3,325.1 L190.7,325.0 L192.0,324.8 L193.3,324.7 L194.6,324.6 L195.9,324.5 L197.2,324.4 L198.5,324.4 L199.9,324.3 L201.2,324.2 L202.5,324.1 L203.8,323.9 L205.1,323.7 L206.4,323.4 L207.7,323.2 L209.1,322.9 L210.4,322.6 L211.7,322.3 L213.0,322.0 L214.3,321.8 L215.6,321.6 L216.9,321.5 L218.3,321.5 L219.6,321.5 L220.9,321.6 L222.2,321.8 L223.5,322.1 L224.8,322.5 L226.1,322.9 L227.5,323.3 L228.8,323.7 L230.1,324.2 L231.4,324.6 L232.7,324.9 L234.0,325.1 L235.3,325.2 L236.7,325.2 L238.0,325.2 L239.3,325.1 L240.6,325.0 L241.9,324.9 L243.2,325.0 L244.5,325.1 L245.9,325.2 L247.2,325.3 L248.5,325.6 L249.8,326.1 L251.1,326.7 L252.4,327.8 L253.7,329.5 L255.1,331.9 L256.4,334.3 L257.7,336.1 L259.0,336.4 L260.3,334.8 L261.6,331.1 L262.9,326.5 L264.3,321.9 L265.6,317.7 L266.9,314.7 L268.2,313.1 L269.5,312.8 L270.8,313.6 L272.1,315.1 L273.5,316.5 L274.8,317.6 L276.1,318.5 L277.4,319.3 L278.7,320.3 L280.0,321.4 L281.3,322.8 L282.7,324.3 L284.0,325.6 L285.3,326.3 L286.6,326.5 L287.9,326.4 L289.2,326.1 L290.5,326.0 L291.9,326.3 L293.2,326.9 L294.5,327.8 L295.8,328.7 L297.1,329.3 L298.4,329.3 L299.7,328.4 L301.1,326.7 L302.4,324.4 L303.7,321.9 L305.0,319.8 L306.3,318.3 L307.6,317.9 L308.9,318.7 L310.3,320.6 L311.6,322.4 L312.9,323.4 L314.2,323.7 L315.5,323.4 L316.8,323.1 L318.1,322.8 L319.5,322.9 L320.8,323.5 L322.1,324.7 L323.4,326.2 L324.7,327.6 L326.0,328.6 L327.3,329.2 L328.7,329.4 L330.0,329.3 L331.3,329.0 L332.6,328.7 L333.9,328.7 L335.2,328.9 L336.5,329.0 L337.9,328.9 L339.2,328.4 L340.5,327.6 L341.8,326.5 L343.1,325.1 L344.4,323.7 L345.7,322.2 L347.1,320.8 L348.4,319.6 L349.7,318.5 L351.0,317.7 L352.3,317.1 L353.6,316.8 L354.9,316.8 L356.3,317.0 L357.6,317.5 L358.9,318.2 L360.2,319.1 L361.5,320.1 L362.8,321.1 L364.1,322.3 L365.5,323.4 L366.8,324.5 L368.1,325.5 L369.4,326.5 L370.7,327.3 L372.0,327.9 L373.3,328.4 L374.7,328.8 L376.0,329.0 L377.3,329.0 L378.6,329.0 L379.9,328.7 L381.2,328.3 L382.5,327.9 L383.9,327.3 L385.2,326.6 L386.5,325.8 L387.8,325.0 L389.1,324.1 L390.4,323.2 L391.7,322.3 L393.1,321.4 L394.4,320.5 L395.7,319.8 L397.0,319.1 L398.3,318.6 L399.6,318.2 L400.9,318.0 L402.3,317.9 L403.6,318.1 L404.9,318.3 L406.2,318.8 L407.5,319.4 L408.8,320.1 L410.1,320.9 L411.5,321.7 L412.8,322.6 L414.1,323.5 L415.4,324.4 L416.7,325.2 L418.0,325.9 L419.3,326.5 L420.7,327.0 L422.0,327.4 L423.3,327.6 L424.6,327.7 L425.9,327.7 L427.2,327.5 L428.5,327.3 L429.9,327.0 L431.2,326.6 L432.5,326.1 L433.8,325.6 L435.1,325.0 L436.4,324.5 L437.7,323.9 L439.1,323.4 L440.4,322.8 L441.7,322.4 L443.0,321.9 L444.3,321.5 L445.6,321.2 L446.9,321.0 L448.3,320.9 L449.6,320.9 L450.9,321.0 L452.2,321.2 L453.5,321.5 L454.8,321.9 L456.1,322.3"/>
<path d="M115.7,326.3 L117.1,326.6 L118.4,326.9 L119.7,327.1 L121.0,327.1 L122.3,327.1 L123.6,327.1 L124.9,326.9 L126.3,326.6 L127.6,326.2 L128.9,325.8 L130.2,325.4 L131.5,324.8 L132.8,324.3 L134.1,323.8 L135.5,323.2 L136.8,322.7 L138.1,322.3 L139.4,321.8 L140.7,321.5 L142.0,321.2 L143.3,321.0 L144.7,320.8 L146.0,320.7 L147.3,320.7 L148.6,320.7 L149.9,320.7 L151.2,320.9 L152.5,321.0 L153.9,321.2 L155.2,321.4 L156.5,321.7 L157.8,322.0 L159.1,322.3 L160.4,322.6 L161.7,323.0 L163.1,323.4 L164.4,323.8 L165.7,324.3 L167.0,324.7 L168.3,325.2 L169.6,325.7 L170.9,326.2 L172.3,326.7 L173.6,327.1 L174.9,327.5 L176.2,327.9 L177.5,328.2 L178.8,328.4 L180.1,328.4 L181.5,328.4 L182.8,328.3 L184.1,328.0 L185.4,327.6 L186.7,327.1 L188.0,326.4 L189.3,325.7 L190.7,324.9 L192.0,324.0 L193.3,323.2 L194.6,322.3 L195.9,321.5 L197.2,320.8 L198.5,320.1 L199.9,319.6 L201.2,319.2 L202.5,319.0 L203.8,319.0 L205.1,319.2 L206.4,319.5 L207.7,320.0 L209.1,320.6 L210.4,321.4 L211.7,322.2 L213.0,323.1 L214.3,324.0 L215.6,324.9 L216.9,325.7 L218.3,326.5 L219.6,327.1 L220.9,327.6 L222.2,328.0 L223.5,328.2 L224.8,328.2 L226.1,328.0 L227.5,327.7 L228.8,327.3 L230.1,326.8 L231.4,326.2 L232.7,325.4 L234.0,324.6 L235.3,323.9 L236.7,323.1 L238.0,322.5 L239.3,322.1 L240.6,321.8 L241.9,321.9 L243.2,322.2 L244.5,322.7 L245.9,323.3 L247.2,324.1 L248.5,325.1 L249.8,326.3 L251.1,327.7 L252.4,329.4 L253.7,331.6 L255.1,334.0 L256.4,335.9 L257.7,336.7 L259.0,335.8 L260.3,333.2 L261.6,329.4 L262.9,325.4 L264.3,321.6 L265.6,318.5 L266.9,316.5 L268.2,315.4 L269.5,315.2 L270.8,315.6 L272.1,316.0 L273.5,316.2 L274.8,316.2 L276.1,316.3 L277.4,316.6 L278.7,317.3 L280.0,318.4 L281.3,319.8 L282.7,321.2 L284.0,322.5 L285.3,323.4 L286.6,324.0 L287.9,324.5 L289.2,325.0 L290.5,325.8 L291.9,326.9 L293.2,328.1 L294.5,329.4 L295.8,330.5 L297.1,330.9 L298.4,330.6 L299.7,329.4 L301.1,327.5 L302.4,325.4 L303.7,323.5 L305.0,322.2 L306.3,321.7 L307.6,322.5 L308.9,324.3 L310.3,326.3 L311.6,327.6 L312.9,328.1 L314.2,328.0 L315.5,327.5 L316.8,326.9 L318.1,326.5 L319.5,326.3 L320.8,326.6 L322.1,327.1 L323.4,327.5 L324.7,327.5 L326.0,327.1 L327.3,326.2 L328.7,325.2 L330.0,324.0 L331.3,323.0 L332.6,322.3 L333.9,322.2 L335.2,322.3 L336.5,322.4 L337.9,322.4 L339.2,322.3 L340.5,322.1 L341.8,321.9 L343.1,321.6 L344.4,321.4 L345.7,321.2 L347.1,321.1 L348.4,321.0 L349.7,321.1 L351.0,321.2 L352.3,321.4 L353.6,321.7 L354.9,322.1 L356.3,322.5 L357.6,323.0 L358.9,323.5 L360.2,324.1 L361.5,324.7 L362.8,325.3 L364.1,326.0 L365.5,326.6 L366.8,327.1 L368.1,327.7 L369.4,328.1 L370.7,328.5 L372.0,328.8 L373.3,329.0 L374.7,329.1 L376.0,329.1 L377.3,328.9 L378.6,328.6 L379.9,328.2 L381.2,327.7 L382.5,327.1 L383.9,326.4 L385.2,325.6 L386.5,324.7 L387.8,323.8 L389.1,322.9 L390.4,322.0 L391.7,321.2 L393.1,320.4 L394.4,319.8 L395.7,319.2 L397.0,318.8 L398.3,318.6 L399.6,318.5 L400.9,318.6 L402.3,318.8 L403.6,319.2 L404.9,319.8 L406.2,320.5 L407.5,321.3 L408.8,322.2 L410.1,323.1 L411.5,324.0 L412.8,324.8 L414.1,325.7 L415.4,326.4 L416.7,327.0 L418.0,327.4 L419.3,327.7 L420.7,327.8 L422.0,327.7 L423.3,327.5 L424.6,327.1 L425.9,326.5 L427.2,325.8 L428.5,325.1 L429.9,324.3 L431.2,323.5 L432.5,322.7 L433.8,322.0 L435.1,321.4 L436.4,320.9 L437.7,320.5 L439.1,320.3 L440.4,320.3 L441.7,320.5 L443.0,320.8 L444.3,321.3 L445.6,322.0 L446.9,322.7 L448.3,323.6 L449.6,324.5 L450.9,325.4 L452.2,326.3 L453.5,327.1 L454.8,327.9 L456.1,328.5"/>
<path d="M115.7,320.1 L117.1,320.3 L118.4,320.5 L119.7,320.8 L121.0,321.1 L122.3,321.4 L123.6,321.8 L124.9,322.1 L126.3,322.4 L127.6,322.7 L128.9,323.0 L130.2,323.2 L131.5,323.5 L132.8,323.6 L134.1,323.8 L135.5,323.9 L136.8,323.9 L138.1,324.0 L139.4,323.9 L140.7,323.9 L142.0,323.8 L143.3,323.6 L144.7,323.5 L146.0,323.3 L147.3,323.1 L148.6,322.9 L149.9,322.6 L151.2,322.4 L152.5,322.2 L153.9,321.9 L155.2,321.7 L156.5,321.5 L157.8,321.3 L159.1,321.2 L160.4,321.0 L161.7,320.9 L163.1,320.8 L164.4,320.7 L165.7,320.6 L167.0,320.6 L168.3,320.5 L169.6,320.5 L170.9,320.4 L172.3,320.4 L173.6,320.4 L174.9,320.3 L176.2,320.3 L177.5,320.3 L178.8,320.2 L180.1,320.2 L181.5,320.2 L182.8,320.1 L184.1,320.1 L185.4,320.0 L186.7,320.0 L188.0,319.9 L189.3,319.9 L190.7,319.9 L192.0,319.9 L193.3,319.9 L194.6,319.9 L195.9,320.0 L197.2,320.1 L198.5,320.2 L199.9,320.3 L201.2,320.4 L202.5,320.6 L203.8,320.8 L205.1,321.0 L206.4,321.2 L207.7,321.4 L209.1,321.7 L210.4,321.9 L211.7,322.1 L213.0,322.4 L214.3,322.6 L215.6,322.8 L216.9,322.9 L218.3,323.1 L219.6,323.2 L220.9,323.3 L222.2,323.4 L223.5,323.4 L224.8,323.4 L226.1,323.4 L227.5,323.3 L228.8,323.2 L230.1,323.1 L231.4,322.9 L232.7,322.6 L234.0,322.2 L235.3,321.9 L236.7,321.5 L238.0,321.1 L239.3,320.7 L240.6,320.4 L241.9,320.3 L243.2,320.5 L244.5,320.7 L245.9,321.0 L247.2,321.4 L248.5,322.0 L249.8,322.8 L251.1,323.8 L252.4,325.3 L253.7,327.3 L255.1,329.8 L256.4,332.2 L257.7,333.9 L259.0,333.9 L260.3,331.9 L261.6,328.1 L262.9,323.6 L264.3,319.1 L265.6,315.2 L266.9,312.5 L268.2,311.1 L269.5,310.9 L270.8,311.7 L272.1,313.0 L273.5,314.2 L274.8,315.1 L276.1,315.8 L277.4,316.7 L278.7,317.8 L280.0,319.1 L281.3,320.7 L282.7,322.4 L284.0,323.9 L285.3,324.9 L286.6,325.4 L287.9,325.5 L289.2,325.6 L290.5,325.8 L291.9,326.3 L293.2,327.1 L294.5,328.1 L295.8,329.0 L297.1,329.5 L298.4,329.2 L299.7,328.1 L301.1,326.3 L302.4,323.9 L303.7,321.5 L305.0,319.4 L306.3,318.1 L307.6,317.9 L308.9,318.8 L310.3,320.5 L311.6,321.8 L312.9,322.3 L314.2,322.0 L315.5,321.2 L316.8,320.1 L318.1,319.2 L319.5,318.5 L320.8,318.2 L322.1,318.5 L323.4,318.9 L324.7,319.3 L326.0,319.3 L327.3,319.1 L328.7,318.6 L330.0,318.2 L331.3,317.9 L332.6,318.0 L333.9,318.7 L335.2,319.8 L336.5,321.2 L337.9,322.6 L339.2,323.8 L340.5,324.9 L341.8,325.9 L343.1,326.6 L344.4,327.3 L345.7,327.8 L347.1,328.2 L348.4,328.4 L349.7,328.5 L351.0,328.5 L352.3,328.3 L353.6,328.0 L354.9,327.6 L356.3,327.0 L357.6,326.3 L358.9,325.5 L360.2,324.7 L361.5,323.7 L362.8,322.8 L364.1,321.8 L365.5,320.8 L366.8,319.8 L368.1,318.9 L369.4,318.0 L370.7,317.2 L372.0,316.5 L373.3,316.0 L374.7,315.5 L376.0,315.2 L377.3,314.9 L378.6,314.9 L379.9,314.9 L381.2,315.1 L382.5,315.4 L383.9,315.9 L385.2,316.4 L386.5,317.0 L387.8,317.6 L389.1,318.4 L390.4,319.1 L391.7,319.9 L393.1,320.7 L394.4,321.5 L395.7,322.2 L397.0,322.9 L398.3,323.5 L399.6,324.1 L400.9,324.5 L402.3,324.9 L403.6,325.2 L404.9,325.4 L406.2,325.5 L407.5,325.4 L408.8,325.3 L410.1,325.1 L411.5,324.8 L412.8,324.4 L414.1,324.0 L415.4,323.5 L416.7,322.9 L418.0,322.3 L419.3,321.7 L420.7,321.1 L422.0,320.4 L423.3,319.8 L424.6,319.2 L425.9,318.6 L427.2,318.1 L428.5,317.7 L429.9,317.3 L431.2,316.9 L432.5,316.7 L433.8,316.6 L435.1,316.5 L436.4,316.5 L437.7,316.6 L439.1,316.9 L440.4,317.2 L441.7,317.6 L443.0,318.0 L444.3,318.6 L445.6,319.2 L446.9,319.9 L448.3,320.6 L449.6,321.3 L450.9,322.1 L452.2,322.9 L453.5,323.7 L454.8,324.4 L456.1,325.2"/>
<path d="M115.7,327.9 L117.1,327.5 L118.4,326.8 L119.7,325.8 L121.0,324.6 L122.3,323.3 L123.6,321.9 L124.9,320.5 L126.3,319.2 L127.6,317.9 L128.9,316.9 L130.2,316.0 L131.5,315.4 L132.8,314.9 L134.1,314.7 L135.5,314.7 L136.8,314.9 L138.1,315.2 L139.4,315.7 L140.7,316.2 L142.0,316.8 L143.3,317.4 L144.7,318.0 L146.0,318.6 L147.3,319.1 L148.6,319.7 L149.9,320.2 L151.2,320.7 L152.5,321.2 L153.9,321.6 L155.2,322.0 L156.5,322.4 L157.8,322.7 L159.1,323.0 L160.4,323.1 L161.7,323.3 L163.1,323.3 L164.4,323.2 L165.7,323.0 L167.0,322.7 L168.3,322.3 L169.6,321.9 L170.9,321.3 L172.3,320.7 L173.6,320.0 L174.9,319.3 L176.2,318.7 L177.5,318.1 L178.8,317.5 L180.1,317.0 L181.5,316.7 L182.8,316.4 L184.1,316.3 L185.4,316.4 L186.7,316.5 L188.0,316.8 L189.3,317.3 L190.7,317.8 L192.0,318.4 L193.3,319.1 L194.6,319.8 L195.9,320.5 L197.2,321.2 L198.5,321.9 L199.9,322.5 L201.2,323.0 L202.5,323.4 L203.8,323.7 L205.1,323.9 L206.4,323.9 L207.7,323.8 L209.1,323.6 L210.4,323.3 L211.7,322.9 L213.0,322.5 L214.3,322.1 L215.6,321.6 L216.9,321.2 L218.3,320.9 L219.6,320.6 L220.9,320.3 L222.2,320.2 L223.5,320.1 L224.8,320.1 L226.1,320.1 L227.5,320.1 L228.8,320.1 L230.1,320.1 L231.4,319.9 L232.7,319.7 L234.0,319.3 L235.3,318.9 L236.7,318.5 L238.0,318.1 L239.3,317.7 L240.6,317.6 L241.9,317.6 L243.2,317.7 L244.5,318.1 L245.9,318.6 L247.2,319.4 L248.5,320.4 L249.8,321.9 L251.1,323.7 L252.4,326.1 L253.7,328.7 L255.1,330.9 L256.4,331.9 L257.7,331.3 L259.0,328.9 L260.3,325.4 L261.6,321.6 L262.9,317.9 L264.3,314.9 L265.6,313.0 L266.9,312.0 L268.2,311.8 L269.5,312.2 L270.8,312.7 L272.1,313.0 L273.5,313.1 L274.8,313.4 L276.1,314.1 L277.4,315.3 L278.7,317.0 L280.0,319.0 L281.3,321.2 L282.7,323.0 L284.0,324.3 L285.3,325.3 L286.6,326.1 L287.9,326.6 L289.2,327.1 L290.5,327.4 L291.9,327.5 L293.2,327.4 L294.5,327.0 L295.8,326.3 L297.1,325.2 L298.4,323.7 L299.7,322.1 L301.1,320.5 L302.4,319.0 L303.7,318.0 L305.0,317.4 L306.3,317.3 L307.6,317.8 L308.9,318.5 L310.3,318.9 L311.6,319.1 L312.9,319.1 L314.2,318.8 L315.5,318.4 L316.8,317.9 L318.1,317.4 L319.5,316.9 L320.8,316.5 L322.1,316.0 L323.4,315.5 L324.7,314.9 L326.0,314.3 L327.3,313.8 L328.7,313.6 L330.0,313.8 L331.3,314.3 L332.6,315.3 L333.9,316.6 L335.2,318.2 L336.5,319.9 L337.9,321.6 L339.2,323.3 L340.5,324.9 L341.8,326.4 L343.1,327.7 L344.4,328.7 L345.7,329.4 L347.1,329.8 L348.4,329.9 L349.7,329.7 L351.0,329.2 L352.3,328.5 L353.6,327.5 L354.9,326.4 L356.3,325.1 L357.6,323.7 L358.9,322.3 L360.2,320.9 L361.5,319.6 L362.8,318.3 L364.1,317.1 L365.5,316.0 L366.8,315.1 L368.1,314.3 L369.4,313.6 L370.7,313.1 L372.0,312.7 L373.3,312.5 L374.7,312.5 L376.0,312.6 L377.3,312.8 L378.6,313.2 L379.9,313.7 L381.2,314.3 L382.5,315.1 L383.9,315.9 L385.2,316.8 L386.5,317.8 L387.8,318.8 L389.1,319.8 L390.4,320.9 L391.7,321.9 L393.1,322.9 L394.4,323.8 L395.7,324.6 L397.0,325.4 L398.3,326.0 L399.6,326.5 L400.9,326.8 L402.3,326.9 L403.6,326.9 L404.9,326.7 L406.2,326.3 L407.5,325.8 L408.8,325.1 L410.1,324.2 L411.5,323.3 L412.8,322.3 L414.1,321.2 L415.4,320.2 L416.7,319.3 L418.0,318.5 L419.3,317.8 L420.7,317.3 L422.0,317.0 L423.3,316.8 L424.6,316.9 L425.9,317.2 L427.2,317.6 L428.5,318.1 L429.9,318.6 L431.2,319.2 L432.5,319.7 L433.8,320.1 L435.1,320.4 L436.4,320.6 L437.7,320.5 L439.1,320.4 L440.4,320.1 L441.7,319.7 L443.0,319.2 L444.3,318.7 L445.6,318.3 L446.9,317.9 L448.3,317.7 L449.6,317.6 L450.9,317.6 L452.2,317.9 L453.5,318.3 L454.8,318.8 L456.1,319.4"/>
<path d="M115.7,321.7 L117.1,322.3 L118.4,323.1 L119.7,323.9 L121.0,324.8 L122.3,325.7 L123.6,326.6 L124.9,327.3 L126.3,328.0 L127.6,328.5 L128.9,328.9 L130.2,329.1 L131.5,329.2 L132.8,329.1 L134.1,328.9 L135.5,328.7 L136.8,328.3 L138.1,328.0 L139.4,327.6 L140.7,327.3 L142.0,327.0 L143.3,326.7 L144.7,326.6 L146.0,326.5 L147.3,326.5 L148.6,326.6 L149.9,326.7 L151.2,326.9 L152.5,327.0 L153.9,327.2 L155.2,327.4 L156.5,327.5 L157.8,327.5 L159.1,327.4 L160.4,327.3 L161.7,327.0 L163.1,326.6 L164.4,326.2 L165.7,325.7 L167.0,325.1 L168.3,324.4 L169.6,323.7 L170.9,323.0 L172.3,322.4 L173.6,321.8 L174.9,321.2 L176.2,320.8 L177.5,320.4 L178.8,320.2 L180.1,320.0 L181.5,320.0 L182.8,320.2 L184.1,320.4 L185.4,320.8 L186.7,321.3 L188.0,321.9 L189.3,322.6 L190.7,323.4 L192.0,324.2 L193.3,325.0 L194.6,325.9 L195.9,326.8 L197.2,327.6 L198.5,328.4 L199.9,329.2 L201.2,329.9 L202.5,330.5 L203.8,331.0 L205.1,331.5 L206.4,331.7 L207.7,331.9 L209.1,332.0 L210.4,331.9 L211.7,331.7 L213.0,331.4 L214.3,331.0 L215.6,330.6 L216.9,330.0 L218.3,329.4 L219.6,328.7 L220.9,328.0 L222.2,327.3 L223.5,326.6 L224.8,325.9 L226.1,325.2 L227.5,324.6 L228.8,323.9 L230.1,323.4 L231.4,322.8 L232.7,322.2 L234.0,321.6 L235.3,321.1 L236.7,320.6 L238.0,320.2 L239.3,319.9 L240.6,319.7 L241.9,319.9 L243.2,320.3 L244.5,320.9 L245.9,321.7 L247.2,322.6 L248.5,323.8 L249.8,325.2 L251.1,326.8 L252.4,328.9 L253.7,331.5 L255.1,334.5 L256.4,337.4 L257.7,339.6 L259.0,340.1 L260.3,338.7 L261.6,335.5 L262.9,331.6 L264.3,327.7 L265.6,324.3 L266.9,322.1 L268.2,321.0 L269.5,320.9 L270.8,321.5 L272.1,322.4 L273.5,322.8 L274.8,322.7 L276.1,322.1 L277.4,321.3 L278.7,320.8 L280.0,320.5 L281.3,320.6 L282.7,320.9 L284.0,321.1 L285.3,321.1 L286.6,321.0 L287.9,321.0 L289.2,321.2 L290.5,321.9 L291.9,323.1 L293.2,324.6 L294.5,326.5 L295.8,328.4 L297.1,330.1 L298.4,331.3 L299.7,331.9 L301.1,331.8 L302.4,331.1 L303.7,330.2 L305.0,329.3 L306.3,328.6 L307.6,328.4 L308.9,328.7 L310.3,329.3 L311.6,329.5 L312.9,329.0 L314.2,328.0 L315.5,326.5 L316.8,324.9 L318.1,323.4 L319.5,322.2 L320.8,321.5 L322.1,321.1 L323.4,321.1 L324.7,321.2 L326.0,321.3 L327.3,321.3 L328.7,321.3 L330.0,321.4 L331.3,321.6 L332.6,322.2 L333.9,323.1 L335.2,324.4 L336.5,325.7 L337.9,327.0 L339.2,328.2 L340.5,329.2 L341.8,330.0 L343.1,330.7 L344.4,331.1 L345.7,331.5 L347.1,331.7 L348.4,331.8 L349.7,331.8 L351.0,331.7 L352.3,331.4 L353.6,331.1 L354.9,330.7 L356.3,330.1 L357.6,329.5 L358.9,328.9 L360.2,328.1 L361.5,327.3 L362.8,326.4 L364.1,325.5 L365.5,324.6 L366.8,323.6 L368.1,322.6 L369.4,321.7 L370.7,320.7 L372.0,319.8 L373.3,319.0 L374.7,318.2 L376.0,317.6 L377.3,317.1 L378.6,316.7 L379.9,316.5 L381.2,316.4 L382.5,316.5 L383.9,316.8 L385.2,317.3 L386.5,318.0 L387.8,318.9 L389.1,319.9 L390.4,321.1 L391.7,322.5 L393.1,324.0 L394.4,325.6 L395.7,327.3 L397.0,329.0 L398.3,330.8 L399.6,332.5 L400.9,334.2 L402.3,335.7 L403.6,337.1 L404.9,338.3 L406.2,339.3 L407.5,340.0 L408.8,340.3 L410.1,340.4 L411.5,340.1 L412.8,339.5 L414.1,338.6 L415.4,337.3 L416.7,335.7 L418.0,333.9 L419.3,331.9 L420.7,329.7 L422.0,327.4 L423.3,325.1 L424.6,322.8 L425.9,320.7 L427.2,318.7 L428.5,316.8 L429.9,315.3 L431.2,314.0 L432.5,313.1 L433.8,312.4 L435.1,312.1 L436.4,312.1 L437.7,312.4 L439.1,312.9 L440.4,313.6 L441.7,314.5 L443.0,315.5 L444.3,316.7 L445.6,317.8 L446.9,319.0 L448.3,320.1 L449.6,321.2 L450.9,322.3 L452.2,323.3 L453.5,324.3 L454.8,325.3 L456.1,326.2"/>
<path d="M115.7,334.3 L117.1,334.9 L118.4,335.2 L119.7,335.4 L121.0,335.4 L122.3,335.2 L123.6,334.8 L124.9,334.3 L126.3,333.7 L127.6,333.0 L128.9,332.2 L130.2,331.4 L131.5,330.5 L132.8,329.8 L134.1,329.0 L135.5,328.4 L136.8,327.9 L138.1,327.5 L139.4,327.2 L140.7,327.1 L142.0,327.1 L143.3,327.3 L144.7,327.5 L146.0,327.8 L147.3,328.2 L148.6,328.7 L149.9,329.1 L151.2,329.6 L152.5,330.0 L153.9,330.3 L155.2,330.6 L156.5,330.8 L157.8,330.8 L159.1,330.8 L160.4,330.7 L161.7,330.5 L163.1,330.3 L164.4,329.9 L165.7,329.6 L167.0,329.2 L168.3,328.9 L169.6,328.5 L170.9,328.2 L172.3,328.0 L173.6,327.8 L174.9,327.8 L176.2,327.8 L177.5,327.9 L178.8,328.0 L180.1,328.2 L181.5,328.5 L182.8,328.8 L184.1,329.1 L185.4,329.4 L186.7,329.7 L188.0,330.0 L189.3,330.1 L190.7,330.3 L192.0,330.3 L193.3,330.3 L194.6,330.2 L195.9,330.0 L197.2,329.8 L198.5,329.5 L199.9,329.3 L201.2,329.0 L202.5,328.7 L203.8,328.5 L205.1,328.4 L206.4,328.3 L207.7,328.4 L209.1,328.5 L210.4,328.7 L211.7,329.1 L213.0,329.5 L214.3,330.0 L215.6,330.5 L216.9,331.1 L218.3,331.7 L219.6,332.3 L220.9,332.9 L222.2,333.4 L223.5,333.7 L224.8,334.0 L226.1,334.2 L227.5,334.2 L228.8,334.1 L230.1,333.8 L231.4,333.4 L232.7,332.8 L234.0,332.0 L235.3,331.1 L236.7,330.2 L238.0,329.2 L239.3,328.2 L240.6,327.3 L241.9,326.6 L243.2,326.2 L244.5,326.0 L245.9,326.0 L247.2,326.2 L248.5,326.7 L249.8,327.5 L251.1,328.5 L252.4,329.8 L253.7,331.5 L255.1,333.8 L256.4,336.3 L257.7,338.6 L259.0,339.9 L260.3,339.7 L261.6,337.8 L262.9,334.5 L264.3,331.0 L265.6,327.5 L266.9,324.7 L268.2,323.1 L269.5,322.5 L270.8,322.8 L272.1,323.9 L273.5,325.0 L274.8,326.0 L276.1,326.7 L277.4,327.3 L278.7,327.9 L280.0,328.7 L281.3,329.9 L282.7,331.2 L284.0,332.3 L285.3,333.1 L286.6,333.5 L287.9,333.6 L289.2,333.6 L290.5,333.6 L291.9,333.6 L293.2,333.8 L294.5,334.0 L295.8,334.2 L297.1,334.2 L298.4,333.9 L299.7,333.2 L301.1,332.0 L302.4,330.4 L303.7,328.7 L305.0,327.0 L306.3,325.5 L307.6,324.5 L308.9,324.1 L310.3,324.4 L311.6,325.0 L312.9,325.5 L314.2,325.7 L315.5,325.8 L316.8,325.9 L318.1,326.0 L319.5,326.4 L320.8,327.0 L322.1,328.0 L323.4,329.3 L324.7,330.6 L326.0,331.9 L327.3,332.9 L328.7,333.7 L330.0,334.3 L331.3,334.7 L332.6,335.1 L333.9,335.4 L335.2,335.7 L336.5,336.0 L337.9,336.1 L339.2,335.9 L340.5,335.5 L341.8,334.7 L343.1,333.8 L344.4,332.6 L345.7,331.3 L347.1,330.0 L348.4,328.6 L349.7,327.3 L351.0,326.0 L352.3,324.8 L353.6,323.8 L354.9,322.9 L356.3,322.2 L357.6,321.8 L358.9,321.6 L360.2,321.6 L361.5,321.9 L362.8,322.3 L364.1,323.0 L365.5,323.8 L366.8,324.8 L368.1,325.9 L369.4,327.1 L370.7,328.3 L372.0,329.6 L373.3,330.8 L374.7,331.9 L376.0,333.0 L377.3,334.0 L378.6,334.8 L379.9,335.5 L381.2,336.1 L382.5,336.4 L383.9,336.6 L385.2,336.7 L386.5,336.6 L387.8,336.3 L389.1,335.9 L390.4,335.4 L391.7,334.7 L393.1,334.0 L394.4,333.2 L395.7,332.3 L397.0,331.4 L398.3,330.5 L399.6,329.6 L400.9,328.7 L402.3,327.9 L403.6,327.1 L404.9,326.5 L406.2,325.9 L407.5,325.4 L408.8,325.0 L410.1,324.8 L411.5,324.7 L412.8,324.8 L414.1,325.0 L415.4,325.3 L416.7,325.7 L418.0,326.3 L419.3,326.9 L420.7,327.6 L422.0,328.4 L423.3,329.1 L424.6,329.9 L425.9,330.6 L427.2,331.2 L428.5,331.8 L429.9,332.2 L431.2,332.6 L432.5,332.8 L433.8,332.8 L435.1,332.7 L436.4,332.4 L437.7,332.0 L439.1,331.5 L440.4,330.8 L441.7,330.1 L443.0,329.4 L444.3,328.6 L445.6,327.8 L446.9,327.1 L448.3,326.5 L449.6,326.1 L450.9,325.7 L452.2,325.6 L453.5,325.6 L454.8,325.8 L456.1,326.2"/>
<path d="M115.7,328.8 L117.1,329.3 L118.4,330.0 L119.7,330.8 L121.0,331.8 L122.3,332.7 L123.6,333.6 L124.9,334.5 L126.3,335.1 L127.6,335.6 L128.9,335.8 L130.2,335.7 L131.5,335.4 L132.8,334.8 L134.1,334.0 L135.5,333.0 L136.8,332.0 L138.1,330.9 L139.4,329.9 L140.7,329.0 L142.0,328.4 L143.3,328.0 L144.7,328.0 L146.0,328.3 L147.3,329.0 L148.6,329.9 L149.9,331.1 L151.2,332.5 L152.5,333.9 L153.9,335.4 L155.2,336.8 L156.5,338.0 L157.8,338.9 L159.1,339.6 L160.4,339.8 L161.7,339.7 L163.1,339.3 L164.4,338.5 L165.7,337.4 L167.0,336.1 L168.3,334.7 L169.6,333.3 L170.9,331.8 L172.3,330.5 L173.6,329.3 L174.9,328.4 L176.2,327.8 L177.5,327.4 L178.8,327.3 L180.1,327.4 L181.5,327.8 L182.8,328.3 L184.1,329.0 L185.4,329.7 L186.7,330.5 L188.0,331.3 L189.3,332.0 L190.7,332.6 L192.0,333.1 L193.3,333.5 L194.6,333.8 L195.9,333.9 L197.2,333.9 L198.5,333.9 L199.9,333.8 L201.2,333.6 L202.5,333.4 L203.8,333.1 L205.1,332.9 L206.4,332.6 L207.7,332.4 L209.1,332.2 L210.4,332.0 L211.7,331.9 L213.0,331.9 L214.3,332.0 L215.6,332.2 L216.9,332.5 L218.3,332.9 L219.6,333.3 L220.9,333.9 L222.2,334.5 L223.5,335.2 L224.8,335.8 L226.1,336.4 L227.5,336.9 L228.8,337.2 L230.1,337.3 L231.4,337.2 L232.7,336.8 L234.0,336.1 L235.3,335.1 L236.7,333.9 L238.0,332.5 L239.3,331.0 L240.6,329.6 L241.9,328.3 L243.2,327.4 L244.5,326.8 L245.9,326.6 L247.2,326.9 L248.5,327.6 L249.8,328.8 L251.1,330.4 L252.4,332.5 L253.7,335.0 L255.1,338.0 L256.4,341.2 L257.7,344.0 L259.0,345.6 L260.3,345.6 L261.6,343.8 L262.9,340.8 L264.3,337.4 L265.6,334.1 L266.9,331.3 L268.2,329.3 L269.5,328.0 L270.8,327.3 L272.1,326.9 L273.5,326.4 L274.8,325.6 L276.1,324.7 L277.4,323.9 L278.7,323.7 L280.0,324.1 L281.3,325.2 L282.7,327.0 L284.0,329.2 L285.3,331.4 L286.6,333.3 L287.9,335.0 L289.2,336.5 L290.5,337.9 L291.9,339.2 L293.2,340.6 L294.5,341.9 L295.8,342.8 L297.1,343.2 L298.4,342.8 L299.7,341.4 L301.1,339.0 L302.4,335.9 L303.7,332.4 L305.0,329.2 L306.3,326.5 L307.6,324.8 L308.9,324.3 L310.3,325.1 L311.6,326.3 L312.9,327.1 L314.2,327.4 L315.5,327.4 L316.8,327.2 L318.1,327.2 L319.5,327.4 L320.8,328.1 L322.1,329.3 L323.4,330.8 L324.7,332.5 L326.0,334.0 L327.3,335.2 L328.7,336.0 L330.0,336.7 L331.3,337.3 L332.6,337.9 L333.9,338.7 L335.2,339.8 L336.5,341.0 L337.9,341.8 L339.2,342.3 L340.5,342.3 L341.8,341.8 L343.1,340.9 L344.4,339.7 L345.7,338.1 L347.1,336.4 L348.4,334.6 L349.7,332.8 L351.0,331.1 L352.3,329.6 L353.6,328.3 L354.9,327.3 L356.3,326.6 L357.6,326.3 L358.9,326.3 L360.2,326.5 L361.5,327.0 L362.8,327.7 L364.1,328.4 L365.5,329.2 L366.8,329.9 L368.1,330.4 L369.4,330.8 L370.7,330.9 L372.0,330.9 L373.3,330.8 L374.7,330.5 L376.0,330.1 L377.3,329.7 L378.6,329.5 L379.9,329.3 L381.2,329.4 L382.5,329.8 L383.9,330.4 L385.2,331.3 L386.5,332.4 L387.8,333.8 L389.1,335.2 L390.4,336.7 L391.7,338.1 L393.1,339.4 L394.4,340.4 L395.7,341.2 L397.0,341.5 L398.3,341.5 L399.6,341.1 L400.9,340.3 L402.3,339.1 L403.6,337.7 L404.9,336.1 L406.2,334.4 L407.5,332.7 L408.8,331.0 L410.1,329.5 L411.5,328.3 L412.8,327.3 L414.1,326.6 L415.4,326.2 L416.7,326.1 L418.0,326.3 L419.3,326.7 L420.7,327.3 L422.0,328.1 L423.3,328.9 L424.6,329.8 L425.9,330.6 L427.2,331.4 L428.5,332.2 L429.9,332.9 L431.2,333.5 L432.5,334.0 L433.8,334.4 L435.1,334.7 L436.4,335.0 L437.7,335.2 L439.1,335.2 L440.4,335.2 L441.7,335.1 L443.0,334.9 L444.3,334.6 L445.6,334.3 L446.9,333.8 L448.3,333.3 L449.6,332.7 L450.9,332.1 L452.2,331.6 L453.5,331.1 L454.8,330.7 L456.1,330.5"/>
<path d="M115.7,338.9 L117.1,338.5 L118.4,338.1 L119.7,337.7 L121.0,337.3 L122.3,336.9 L123.6,336.6 L124.9,336.4 L126.3,336.2 L127.6,336.1 L128.9,336.1 L130.2,336.1 L131.5,336.2 L132.8,336.3 L134.1,336.5 L135.5,336.7 L136.8,336.8 L138.1,337.0 L139.4,337.0 L140.7,337.1 L142.0,337.1 L143.3,337.1 L144.7,337.0 L146.0,336.8 L147.3,336.7 L148.6,336.5 L149.9,336.3 L151.2,336.1 L152.5,335.9 L153.9,335.8 L155.2,335.7 L156.5,335.7 L157.8,335.8 L159.1,336.0 L160.4,336.2 L161.7,336.5 L163.1,336.8 L164.4,337.2 L165.7,337.6 L167.0,338.0 L168.3,338.4 L169.6,338.8 L170.9,339.1 L172.3,339.3 L173.6,339.5 L174.9,339.5 L176.2,339.5 L177.5,339.3 L178.8,339.1 L180.1,338.7 L181.5,338.3 L182.8,337.8 L184.1,337.3 L185.4,336.7 L186.7,336.2 L188.0,335.7 L189.3,335.2 L190.7,334.8 L192.0,334.5 L193.3,334.3 L194.6,334.2 L195.9,334.2 L197.2,334.3 L198.5,334.5 L199.9,334.8 L201.2,335.2 L202.5,335.6 L203.8,336.1 L205.1,336.6 L206.4,337.1 L207.7,337.6 L209.1,338.1 L210.4,338.5 L211.7,338.9 L213.0,339.2 L214.3,339.5 L215.6,339.6 L216.9,339.7 L218.3,339.7 L219.6,339.7 L220.9,339.6 L222.2,339.5 L223.5,339.4 L224.8,339.2 L226.1,339.0 L227.5,338.8 L228.8,338.6 L230.1,338.4 L231.4,338.2 L232.7,337.8 L234.0,337.5 L235.3,337.1 L236.7,336.7 L238.0,336.3 L239.3,335.9 L240.6,335.7 L241.9,335.6 L243.2,335.7 L244.5,335.8 L245.9,336.1 L247.2,336.5 L248.5,337.0 L249.8,337.8 L251.1,339.0 L252.4,340.6 L253.7,342.8 L255.1,345.5 L256.4,347.9 L257.7,349.3 L259.0,349.0 L260.3,346.8 L261.6,343.0 L262.9,338.8 L264.3,334.8 L265.6,331.7 L266.9,330.0 L268.2,329.6 L269.5,330.4 L270.8,332.1 L272.1,334.0 L273.5,335.6 L274.8,336.8 L276.1,337.6 L277.4,338.3 L278.7,338.9 L280.0,339.6 L281.3,340.2 L282.7,340.7 L284.0,340.6 L285.3,339.9 L286.6,338.7 L287.9,337.2 L289.2,335.8 L290.5,334.6 L291.9,334.0 L293.2,333.7 L294.5,333.8 L295.8,334.0 L297.1,334.1 L298.4,333.9 L299.7,333.1 L301.1,332.0 L302.4,330.9 L303.7,330.0 L305.0,329.9 L306.3,330.7 L307.6,332.6 L308.9,335.6 L310.3,339.1 L311.6,341.9 L312.9,343.9 L314.2,345.0 L315.5,345.5 L316.8,345.5 L318.1,345.4 L319.5,345.3 L320.8,345.3 L322.1,345.4 L323.4,345.2 L324.7,344.6 L326.0,343.4 L327.3,341.7 L328.7,339.7 L330.0,337.6 L331.3,335.6 L332.6,334.0 L333.9,333.0 L335.2,332.4 L336.5,332.1 L337.9,331.9 L339.2,331.9 L340.5,331.9 L341.8,332.0 L343.1,332.3 L344.4,332.7 L345.7,333.2 L347.1,333.9 L348.4,334.8 L349.7,335.7 L351.0,336.6 L352.3,337.6 L353.6,338.5 L354.9,339.3 L356.3,340.0 L357.6,340.6 L358.9,341.1 L360.2,341.3 L361.5,341.4 L362.8,341.4 L364.1,341.1 L365.5,340.7 L366.8,340.2 L368.1,339.6 L369.4,338.8 L370.7,338.1 L372.0,337.3 L373.3,336.5 L374.7,335.8 L376.0,335.2 L377.3,334.7 L378.6,334.3 L379.9,334.1 L381.2,334.0 L382.5,334.2 L383.9,334.5 L385.2,334.9 L386.5,335.5 L387.8,336.2 L389.1,337.0 L390.4,337.8 L391.7,338.7 L393.1,339.5 L394.4,340.3 L395.7,341.0 L397.0,341.5 L398.3,341.9 L399.6,342.2 L400.9,342.2 L402.3,342.1 L403.6,341.7 L404.9,341.2 L406.2,340.5 L407.5,339.7 L408.8,338.8 L410.1,337.7 L411.5,336.7 L412.8,335.6 L414.1,334.5 L415.4,333.6 L416.7,332.7 L418.0,331.9 L419.3,331.4 L420.7,330.9 L422.0,330.7 L423.3,330.7 L424.6,330.8 L425.9,331.2 L427.2,331.6 L428.5,332.3 L429.9,333.0 L431.2,333.8 L432.5,334.7 L433.8,335.5 L435.1,336.4 L436.4,337.2 L437.7,337.9 L439.1,338.6 L440.4,339.1 L441.7,339.5 L443.0,339.8 L444.3,340.0 L445.6,340.1 L446.9,340.0 L448.3,339.9 L449.6,339.7 L450.9,339.4 L452.2,339.1 L453.5,338.8 L454.8,338.6 L456.1,338.3"/>
<path d="M115.7,341.8 L117.1,341.4 L118.4,340.7 L119.7,340.0 L121.0,339.2 L122.3,338.3 L123.6,337.5 L124.9,336.7 L126.3,336.0 L127.6,335.4 L128.9,335.1 L130.2,334.9 L131.5,334.9 L132.8,335.2 L134.1,335.7 L135.5,336.4 L136.8,337.2 L138.1,338.2 L139.4,339.3 L140.7,340.4 L142.0,341.6 L143.3,342.7 L144.7,343.7 L146.0,344.6 L147.3,345.4 L148.6,345.9 L149.9,346.3 L151.2,346.5 L152.5,346.5 L153.9,346.3 L155.2,345.8 L156.5,345.2 L157.8,344.4 L159.1,343.5 L160.4,342.5 L161.7,341.3 L163.1,340.2 L164.4,338.9 L165.7,337.7 L167.0,336.6 L168.3,335.5 L169.6,334.5 L170.9,333.7 L172.3,333.0 L173.6,332.5 L174.9,332.2 L176.2,332.1 L177.5,332.2 L178.8,332.5 L180.1,332.9 L181.5,333.6 L182.8,334.3 L184.1,335.2 L185.4,336.1 L186.7,337.0 L188.0,337.9 L189.3,338.8 L190.7,339.5 L192.0,340.2 L193.3,340.8 L194.6,341.2 L195.9,341.6 L197.2,341.8 L198.5,342.0 L199.9,342.0 L201.2,342.0 L202.5,342.0 L203.8,342.0 L205.1,342.0 L206.4,342.0 L207.7,342.1 L209.1,342.1 L210.4,342.2 L211.7,342.3 L213.0,342.4 L214.3,342.4 L215.6,342.3 L216.9,342.2 L218.3,342.0 L219.6,341.7 L220.9,341.3 L222.2,340.8 L223.5,340.3 L224.8,339.7 L226.1,339.1 L227.5,338.5 L228.8,338.0 L230.1,337.5 L231.4,337.2 L232.7,336.9 L234.0,336.7 L235.3,336.7 L236.7,336.8 L238.0,337.1 L239.3,337.5 L240.6,338.0 L241.9,338.8 L243.2,339.6 L244.5,340.4 L245.9,341.2 L247.2,341.8 L248.5,342.5 L249.8,343.1 L251.1,343.9 L252.4,344.9 L253.7,346.5 L255.1,348.4 L256.4,350.1 L257.7,351.0 L259.0,350.4 L260.3,347.9 L261.6,344.0 L262.9,339.6 L264.3,335.4 L265.6,331.9 L266.9,329.8 L268.2,328.9 L269.5,329.4 L270.8,331.0 L272.1,333.0 L273.5,335.2 L274.8,337.2 L276.1,339.1 L277.4,341.0 L278.7,343.0 L280.0,345.1 L281.3,347.2 L282.7,349.0 L284.0,350.3 L285.3,350.8 L286.6,350.6 L287.9,349.9 L289.2,349.0 L290.5,348.1 L291.9,347.4 L293.2,346.8 L294.5,346.3 L295.8,345.7 L297.1,344.7 L298.4,343.1 L299.7,340.8 L301.1,337.9 L302.4,334.7 L303.7,331.9 L305.0,329.7 L306.3,328.5 L307.6,328.5 L308.9,330.0 L310.3,332.3 L311.6,334.2 L312.9,335.5 L314.2,336.3 L315.5,336.7 L316.8,337.0 L318.1,337.4 L319.5,338.0 L320.8,339.0 L322.1,340.2 L323.4,341.2 L324.7,341.9 L326.0,342.0 L327.3,341.6 L328.7,340.7 L330.0,339.6 L331.3,338.5 L332.6,337.6 L333.9,337.3 L335.2,337.3 L336.5,337.6 L337.9,337.9 L339.2,338.3 L340.5,338.8 L341.8,339.3 L343.1,339.9 L344.4,340.6 L345.7,341.3 L347.1,342.1 L348.4,342.8 L349.7,343.5 L351.0,344.0 L352.3,344.3 L353.6,344.3 L354.9,344.0 L356.3,343.5 L357.6,342.7 L358.9,341.7 L360.2,340.6 L361.5,339.3 L362.8,338.1 L364.1,336.9 L365.5,335.9 L366.8,335.1 L368.1,334.6 L369.4,334.4 L370.7,334.5 L372.0,335.0 L373.3,335.8 L374.7,336.9 L376.0,338.1 L377.3,339.4 L378.6,340.7 L379.9,342.0 L381.2,343.0 L382.5,343.8 L383.9,344.2 L385.2,344.3 L386.5,344.1 L387.8,343.5 L389.1,342.5 L390.4,341.4 L391.7,340.0 L393.1,338.6 L394.4,337.2 L395.7,335.9 L397.0,334.8 L398.3,334.0 L399.6,333.5 L400.9,333.3 L402.3,333.6 L403.6,334.1 L404.9,335.0 L406.2,336.2 L407.5,337.5 L408.8,339.0 L410.1,340.5 L411.5,342.1 L412.8,343.5 L414.1,344.7 L415.4,345.8 L416.7,346.6 L418.0,347.2 L419.3,347.4 L420.7,347.5 L422.0,347.3 L423.3,346.9 L424.6,346.4 L425.9,345.7 L427.2,344.9 L428.5,344.1 L429.9,343.2 L431.2,342.4 L432.5,341.6 L433.8,340.8 L435.1,340.1 L436.4,339.4 L437.7,338.8 L439.1,338.2 L440.4,337.7 L441.7,337.3 L443.0,336.9 L444.3,336.6 L445.6,336.4 L446.9,336.2 L448.3,336.1 L449.6,336.0 L450.9,336.0 L452.2,336.0 L453.5,336.1 L454.8,336.1 L456.1,336.2"/>
<path d="M115.7,341.6 L117.1,341.8 L118.4,341.9 L119.7,342.1 L121.0,342.2 L122.3,342.3 L123.6,342.4 L124.9,342.5 L126.3,342.5 L127.6,342.5 L128.9,342.5 L130.2,342.5 L131.5,342.5 L132.8,342.5 L134.1,342.5 L135.5,342.6 L136.8,342.8 L138.1,342.9 L139.4,343.1 L140.7,343.4 L142.0,343.6 L143.3,343.9 L144.7,344.1 L146.0,344.3 L147.3,344.4 L148.6,344.4 L149.9,344.4 L151.2,344.3 L152.5,344.1 L153.9,343.8 L155.2,343.4 L156.5,343.0 L157.8,342.5 L159.1,342.0 L160.4,341.5 L161.7,341.0 L163.1,340.6 L164.4,340.2 L165.7,339.9 L167.0,339.7 L168.3,339.6 L169.6,339.6 L170.9,339.7 L172.3,339.9 L173.6,340.2 L174.9,340.6 L176.2,341.0 L177.5,341.4 L178.8,341.9 L180.1,342.3 L181.5,342.7 L182.8,343.1 L184.1,343.4 L185.4,343.7 L186.7,344.0 L188.0,344.1 L189.3,344.2 L190.7,344.3 L192.0,344.3 L193.3,344.3 L194.6,344.2 L195.9,344.1 L197.2,343.9 L198.5,343.8 L199.9,343.6 L201.2,343.4 L202.5,343.2 L203.8,343.0 L205.1,342.8 L206.4,342.5 L207.7,342.3 L209.1,342.1 L210.4,341.8 L211.7,341.6 L213.0,341.5 L214.3,341.3 L215.6,341.2 L216.9,341.2 L218.3,341.2 L219.6,341.2 L220.9,341.3 L222.2,341.5 L223.5,341.7 L224.8,342.0 L226.1,342.2 L227.5,342.5 L228.8,342.8 L230.1,343.1 L231.4,343.2 L232.7,343.2 L234.0,343.2 L235.3,343.1 L236.7,342.9 L238.0,342.7 L239.3,342.6 L240.6,342.5 L241.9,342.6 L243.2,342.7 L244.5,342.8 L245.9,343.1 L247.2,343.5 L248.5,344.1 L249.8,345.0 L251.1,346.4 L252.4,348.3 L253.7,350.7 L255.1,352.9 L256.4,354.3 L257.7,354.2 L259.0,352.2 L260.3,348.7 L261.6,344.7 L262.9,340.7 L264.3,337.4 L265.6,335.4 L266.9,334.4 L268.2,334.5 L269.5,335.5 L270.8,336.8 L272.1,337.8 L273.5,338.5 L274.8,338.9 L276.1,339.3 L277.4,339.9 L278.7,340.6 L280.0,341.5 L281.3,342.4 L282.7,343.0 L284.0,343.0 L285.3,342.6 L286.6,342.0 L287.9,341.5 L289.2,341.2 L290.5,341.2 L291.9,341.4 L293.2,341.8 L294.5,342.2 L295.8,342.5 L297.1,342.5 L298.4,342.2 L299.7,341.5 L301.1,340.7 L302.4,340.0 L303.7,339.8 L305.0,340.0 L306.3,341.0 L307.6,342.7 L308.9,344.8 L310.3,346.5 L311.6,347.7 L312.9,348.3 L314.2,348.5 L315.5,348.4 L316.8,348.1 L318.1,347.9 L319.5,347.7 L320.8,347.5 L322.1,347.2 L323.4,346.7 L324.7,345.7 L326.0,344.5 L327.3,343.1 L328.7,341.6 L330.0,340.3 L331.3,339.2 L332.6,338.5 L333.9,338.1 L335.2,338.0 L336.5,338.0 L337.9,338.2 L339.2,338.3 L340.5,338.6 L341.8,338.9 L343.1,339.4 L344.4,339.9 L345.7,340.4 L347.1,341.0 L348.4,341.5 L349.7,342.1 L351.0,342.6 L352.3,343.0 L353.6,343.4 L354.9,343.7 L356.3,343.9 L357.6,344.1 L358.9,344.2 L360.2,344.2 L361.5,344.2 L362.8,344.1 L364.1,344.1 L365.5,344.0 L366.8,343.9 L368.1,343.8 L369.4,343.7 L370.7,343.6 L372.0,343.5 L373.3,343.4 L374.7,343.3 L376.0,343.2 L377.3,343.1 L378.6,343.0 L379.9,342.8 L381.2,342.7 L382.5,342.5 L383.9,342.3 L385.2,342.1 L386.5,341.8 L387.8,341.6 L389.1,341.4 L390.4,341.2 L391.7,341.0 L393.1,340.9 L394.4,340.8 L395.7,340.8 L397.0,340.8 L398.3,340.9 L399.6,341.0 L400.9,341.2 L402.3,341.5 L403.6,341.8 L404.9,342.1 L406.2,342.5 L407.5,342.8 L408.8,343.2 L410.1,343.5 L411.5,343.9 L412.8,344.1 L414.1,344.3 L415.4,344.4 L416.7,344.5 L418.0,344.4 L419.3,344.3 L420.7,344.1 L422.0,343.8 L423.3,343.5 L424.6,343.1 L425.9,342.7 L427.2,342.3 L428.5,341.9 L429.9,341.6 L431.2,341.3 L432.5,341.2 L433.8,341.1 L435.1,341.1 L436.4,341.2 L437.7,341.4 L439.1,341.7 L440.4,342.1 L441.7,342.5 L443.0,342.9 L444.3,343.3 L445.6,343.7 L446.9,344.0 L448.3,344.2 L449.6,344.2 L450.9,344.1 L452.2,343.9 L453.5,343.5 L454.8,343.0 L456.1,342.4"/>
<path d="M115.7,344.8 L117.1,344.4 L118.4,343.9 L119.7,343.5 L121.0,343.1 L122.3,342.7 L123.6,342.5 L124.9,342.3 L126.3,342.3 L127.6,342.3 L128.9,342.4 L130.2,342.5 L131.5,342.7 L132.8,342.9 L134.1,343.0 L135.5,343.2 L136.8,343.3 L138.1,343.3 L139.4,343.3 L140.7,343.3 L142.0,343.2 L143.3,343.2 L144.7,343.1 L146.0,343.1 L147.3,343.1 L148.6,343.2 L149.9,343.2 L151.2,343.4 L152.5,343.5 L153.9,343.7 L155.2,343.9 L156.5,344.0 L157.8,344.1 L159.1,344.2 L160.4,344.3 L161.7,344.3 L163.1,344.2 L164.4,344.1 L165.7,344.0 L167.0,343.8 L168.3,343.6 L169.6,343.4 L170.9,343.2 L172.3,343.0 L173.6,342.9 L174.9,342.8 L176.2,342.7 L177.5,342.7 L178.8,342.7 L180.1,342.8 L181.5,342.9 L182.8,343.0 L184.1,343.1 L185.4,343.3 L186.7,343.4 L188.0,343.6 L189.3,343.8 L190.7,343.9 L192.0,344.1 L193.3,344.2 L194.6,344.3 L195.9,344.4 L197.2,344.5 L198.5,344.6 L199.9,344.6 L201.2,344.7 L202.5,344.7 L203.8,344.6 L205.1,344.6 L206.4,344.5 L207.7,344.3 L209.1,344.1 L210.4,343.8 L211.7,343.5 L213.0,343.1 L214.3,342.8 L215.6,342.4 L216.9,342.0 L218.3,341.7 L219.6,341.5 L220.9,341.4 L222.2,341.3 L223.5,341.4 L224.8,341.5 L226.1,341.8 L227.5,342.2 L228.8,342.6 L230.1,343.0 L231.4,343.5 L232.7,343.8 L234.0,344.1 L235.3,344.2 L236.7,344.3 L238.0,344.4 L239.3,344.4 L240.6,344.4 L241.9,344.5 L243.2,344.7 L244.5,345.0 L245.9,345.3 L247.2,345.6 L248.5,346.1 L249.8,346.7 L251.1,347.4 L252.4,348.5 L253.7,350.1 L255.1,352.0 L256.4,353.8 L257.7,354.9 L259.0,354.5 L260.3,352.4 L261.6,348.8 L262.9,344.5 L264.3,340.3 L265.6,336.7 L266.9,334.2 L268.2,332.9 L269.5,332.7 L270.8,333.5 L272.1,334.9 L273.5,336.4 L274.8,337.8 L276.1,339.2 L277.4,340.7 L278.7,342.3 L280.0,343.9 L281.3,345.6 L282.7,347.1 L284.0,348.0 L285.3,348.3 L286.6,347.9 L287.9,347.2 L289.2,346.4 L290.5,345.7 L291.9,345.3 L293.2,345.2 L294.5,345.4 L295.8,345.8 L297.1,346.0 L298.4,346.0 L299.7,345.5 L301.1,344.6 L302.4,343.4 L303.7,342.2 L305.0,341.3 L306.3,340.9 L307.6,341.1 L308.9,342.1 L310.3,343.5 L311.6,344.5 L312.9,345.0 L314.2,344.9 L315.5,344.5 L316.8,344.0 L318.1,343.6 L319.5,343.4 L320.8,343.5 L322.1,343.9 L323.4,344.4 L324.7,344.7 L326.0,344.7 L327.3,344.3 L328.7,343.6 L330.0,342.8 L331.3,342.0 L332.6,341.4 L333.9,341.1 L335.2,341.1 L336.5,341.3 L337.9,341.7 L339.2,342.0 L340.5,342.5 L341.8,343.0 L343.1,343.6 L344.4,344.3 L345.7,345.0 L347.1,345.6 L348.4,346.3 L349.7,346.8 L351.0,347.2 L352.3,347.5 L353.6,347.5 L354.9,347.4 L356.3,347.0 L357.6,346.5 L358.9,345.9 L360.2,345.1 L361.5,344.4 L362.8,343.6 L364.1,342.8 L365.5,342.1 L366.8,341.5 L368.1,341.0 L369.4,340.6 L370.7,340.4 L372.0,340.2 L373.3,340.1 L374.7,340.2 L376.0,340.3 L377.3,340.5 L378.6,340.7 L379.9,341.1 L381.2,341.5 L382.5,342.0 L383.9,342.5 L385.2,343.0 L386.5,343.6 L387.8,344.2 L389.1,344.8 L390.4,345.3 L391.7,345.8 L393.1,346.2 L394.4,346.5 L395.7,346.7 L397.0,346.7 L398.3,346.6 L399.6,346.4 L400.9,346.0 L402.3,345.5 L403.6,344.9 L404.9,344.3 L406.2,343.6 L407.5,343.0 L408.8,342.4 L410.1,341.8 L411.5,341.4 L412.8,341.0 L414.1,340.9 L415.4,340.8 L416.7,340.9 L418.0,341.1 L419.3,341.4 L420.7,341.8 L422.0,342.3 L423.3,342.8 L424.6,343.3 L425.9,343.7 L427.2,344.1 L428.5,344.4 L429.9,344.7 L431.2,344.8 L432.5,344.9 L433.8,344.8 L435.1,344.8 L436.4,344.7 L437.7,344.5 L439.1,344.4 L440.4,344.3 L441.7,344.2 L443.0,344.1 L444.3,344.1 L445.6,344.1 L446.9,344.1 L448.3,344.1 L449.6,344.0 L450.9,344.0 L452.2,343.9 L453.5,343.7 L454.8,343.6 L456.1,343.4"/>
<path d="M115.7,344.5 L117.1,344.4 L118.4,344.4 L119.7,344.5 L121.0,344.6 L122.3,344.8 L123.6,345.0 L124.9,345.2 L126.3,345.5 L127.6,345.8 L128.9,346.1 L130.2,346.4 L131.5,346.7 L132.8,346.9 L134.1,347.2 L135.5,347.4 L136.8,347.5 L138.1,347.6 L139.4,347.6 L140.7,347.6 L142.0,347.6 L143.3,347.5 L144.7,347.4 L146.0,347.2 L147.3,347.1 L148.6,346.9 L149.9,346.7 L151.2,346.6 L152.5,346.5 L153.9,346.4 L155.2,346.3 L156.5,346.2 L157.8,346.1 L159.1,346.0 L160.4,346.0 L161.7,345.9 L163.1,345.8 L164.4,345.7 L165.7,345.6 L167.0,345.5 L168.3,345.3 L169.6,345.2 L170.9,345.0 L172.3,344.9 L173.6,344.8 L174.9,344.7 L176.2,344.6 L177.5,344.7 L178.8,344.8 L180.1,345.0 L181.5,345.2 L182.8,345.5 L184.1,345.9 L185.4,346.4 L186.7,346.8 L188.0,347.3 L189.3,347.8 L190.7,348.2 L192.0,348.5 L193.3,348.8 L194.6,348.9 L195.9,349.0 L197.2,348.8 L198.5,348.6 L199.9,348.2 L201.2,347.7 L202.5,347.2 L203.8,346.5 L205.1,345.9 L206.4,345.2 L207.7,344.6 L209.1,344.0 L210.4,343.5 L211.7,343.2 L213.0,343.0 L214.3,342.9 L215.6,343.0 L216.9,343.3 L218.3,343.7 L219.6,344.2 L220.9,344.8 L222.2,345.5 L223.5,346.2 L224.8,346.9 L226.1,347.6 L227.5,348.2 L228.8,348.7 L230.1,349.1 L231.4,349.3 L232.7,349.4 L234.0,349.3 L235.3,349.0 L236.7,348.5 L238.0,347.9 L239.3,347.3 L240.6,346.6 L241.9,346.0 L243.2,345.6 L244.5,345.4 L245.9,345.3 L247.2,345.3 L248.5,345.6 L249.8,346.0 L251.1,346.8 L252.4,347.9 L253.7,349.5 L255.1,351.7 L256.4,354.3 L257.7,356.7 L259.0,358.0 L260.3,357.7 L261.6,355.5 L262.9,351.9 L264.3,347.8 L265.6,344.0 L266.9,341.0 L268.2,339.2 L269.5,338.6 L270.8,339.1 L272.1,340.4 L273.5,341.8 L274.8,342.9 L276.1,343.5 L277.4,343.8 L278.7,344.1 L280.0,344.5 L281.3,345.2 L282.7,346.0 L284.0,346.5 L285.3,346.6 L286.6,346.3 L287.9,345.7 L289.2,345.1 L290.5,344.7 L291.9,344.6 L293.2,344.7 L294.5,345.2 L295.8,345.9 L297.1,346.6 L298.4,347.2 L299.7,347.5 L301.1,347.5 L302.4,347.2 L303.7,346.7 L305.0,346.2 L306.3,345.9 L307.6,346.0 L308.9,346.5 L310.3,347.5 L311.6,348.6 L312.9,349.3 L314.2,349.4 L315.5,349.0 L316.8,348.3 L318.1,347.5 L319.5,346.6 L320.8,346.0 L322.1,345.5 L323.4,345.3 L324.7,345.2 L326.0,345.0 L327.3,344.8 L328.7,344.4 L330.0,344.1 L331.3,343.9 L332.6,343.8 L333.9,344.0 L335.2,344.5 L336.5,345.2 L337.9,346.0 L339.2,346.8 L340.5,347.5 L341.8,348.0 L343.1,348.5 L344.4,348.8 L345.7,349.0 L347.1,349.1 L348.4,349.1 L349.7,349.0 L351.0,348.7 L352.3,348.4 L353.6,348.0 L354.9,347.6 L356.3,347.1 L357.6,346.6 L358.9,346.1 L360.2,345.6 L361.5,345.1 L362.8,344.7 L364.1,344.3 L365.5,344.0 L366.8,343.8 L368.1,343.7 L369.4,343.7 L370.7,343.7 L372.0,343.9 L373.3,344.2 L374.7,344.5 L376.0,344.9 L377.3,345.4 L378.6,345.8 L379.9,346.3 L381.2,346.7 L382.5,347.1 L383.9,347.4 L385.2,347.7 L386.5,347.8 L387.8,347.9 L389.1,347.8 L390.4,347.7 L391.7,347.5 L393.1,347.2 L394.4,346.9 L395.7,346.6 L397.0,346.3 L398.3,346.0 L399.6,345.8 L400.9,345.6 L402.3,345.4 L403.6,345.4 L404.9,345.5 L406.2,345.6 L407.5,345.8 L408.8,346.0 L410.1,346.2 L411.5,346.5 L412.8,346.7 L414.1,346.9 L415.4,347.1 L416.7,347.1 L418.0,347.1 L419.3,347.0 L420.7,346.9 L422.0,346.6 L423.3,346.3 L424.6,346.0 L425.9,345.7 L427.2,345.4 L428.5,345.2 L429.9,345.0 L431.2,344.9 L432.5,344.9 L433.8,345.0 L435.1,345.2 L436.4,345.4 L437.7,345.8 L439.1,346.1 L440.4,346.5 L441.7,346.9 L443.0,347.2 L444.3,347.5 L445.6,347.6 L446.9,347.7 L448.3,347.6 L449.6,347.4 L450.9,347.2 L452.2,346.8 L453.5,346.4 L454.8,346.0 L456.1,345.5"/>
<path d="M115.7,345.9 L117.1,345.3 L118.4,344.7 L119.7,344.2 L121.0,343.8 L122.3,343.5 L123.6,343.3 L124.9,343.2 L126.3,343.3 L127.6,343.5 L128.9,343.7 L130.2,343.9 L131.5,344.2 L132.8,344.5 L134.1,344.8 L135.5,345.0 L136.8,345.2 L138.1,345.4 L139.4,345.5 L140.7,345.6 L142.0,345.7 L143.3,345.7 L144.7,345.8 L146.0,345.8 L147.3,345.8 L148.6,345.9 L149.9,345.9 L151.2,345.9 L152.5,346.0 L153.9,346.0 L155.2,346.1 L156.5,346.2 L157.8,346.3 L159.1,346.4 L160.4,346.5 L161.7,346.6 L163.1,346.6 L164.4,346.7 L165.7,346.7 L167.0,346.7 L168.3,346.6 L169.6,346.5 L170.9,346.3 L172.3,346.1 L173.6,345.8 L174.9,345.5 L176.2,345.3 L177.5,345.0 L178.8,344.7 L180.1,344.5 L181.5,344.3 L182.8,344.1 L184.1,343.9 L185.4,343.8 L186.7,343.7 L188.0,343.6 L189.3,343.5 L190.7,343.4 L192.0,343.3 L193.3,343.3 L194.6,343.3 L195.9,343.3 L197.2,343.5 L198.5,343.7 L199.9,344.0 L201.2,344.3 L202.5,344.8 L203.8,345.3 L205.1,345.8 L206.4,346.3 L207.7,346.8 L209.1,347.2 L210.4,347.5 L211.7,347.6 L213.0,347.7 L214.3,347.6 L215.6,347.3 L216.9,347.0 L218.3,346.7 L219.6,346.3 L220.9,346.0 L222.2,345.8 L223.5,345.6 L224.8,345.6 L226.1,345.6 L227.5,345.8 L228.8,346.0 L230.1,346.2 L231.4,346.3 L232.7,346.3 L234.0,346.2 L235.3,346.0 L236.7,345.6 L238.0,345.1 L239.3,344.6 L240.6,344.2 L241.9,343.9 L243.2,343.7 L244.5,343.6 L245.9,343.8 L247.2,344.2 L248.5,345.0 L249.8,346.2 L251.1,347.9 L252.4,350.2 L253.7,352.9 L255.1,355.5 L256.4,357.2 L257.7,357.2 L259.0,355.5 L260.3,352.1 L261.6,348.2 L262.9,344.4 L264.3,341.1 L265.6,339.0 L266.9,337.9 L268.2,337.8 L269.5,338.5 L270.8,339.5 L272.1,340.3 L273.5,340.9 L274.8,341.4 L276.1,342.0 L277.4,342.8 L278.7,343.8 L280.0,345.1 L281.3,346.4 L282.7,347.3 L284.0,347.7 L285.3,347.6 L286.6,347.2 L287.9,346.7 L289.2,346.3 L290.5,346.3 L291.9,346.6 L293.2,347.1 L294.5,347.6 L295.8,347.8 L297.1,347.6 L298.4,346.7 L299.7,345.3 L301.1,343.6 L302.4,342.1 L303.7,341.2 L305.0,341.0 L306.3,341.9 L307.6,343.9 L308.9,346.4 L310.3,348.3 L311.6,349.3 L312.9,349.5 L314.2,349.0 L315.5,348.2 L316.8,347.4 L318.1,346.7 L319.5,346.4 L320.8,346.4 L322.1,346.5 L323.4,346.6 L324.7,346.3 L326.0,345.8 L327.3,345.2 L328.7,344.7 L330.0,344.4 L331.3,344.4 L332.6,345.0 L333.9,345.9 L335.2,346.8 L336.5,347.5 L337.9,347.9 L339.2,347.9 L340.5,347.6 L341.8,347.1 L343.1,346.4 L344.4,345.5 L345.7,344.6 L347.1,343.8 L348.4,343.2 L349.7,342.8 L351.0,342.6 L352.3,342.7 L353.6,343.1 L354.9,343.8 L356.3,344.6 L357.6,345.6 L358.9,346.5 L360.2,347.4 L361.5,348.1 L362.8,348.5 L364.1,348.7 L365.5,348.5 L366.8,348.0 L368.1,347.3 L369.4,346.3 L370.7,345.3 L372.0,344.2 L373.3,343.3 L374.7,342.5 L376.0,342.0 L377.3,341.7 L378.6,341.8 L379.9,342.1 L381.2,342.6 L382.5,343.3 L383.9,344.1 L385.2,344.9 L386.5,345.6 L387.8,346.2 L389.1,346.5 L390.4,346.7 L391.7,346.6 L393.1,346.4 L394.4,346.1 L395.7,345.7 L397.0,345.3 L398.3,345.0 L399.6,344.8 L400.9,344.7 L402.3,344.8 L403.6,345.0 L404.9,345.4 L406.2,345.8 L407.5,346.2 L408.8,346.6 L410.1,346.8 L411.5,347.0 L412.8,347.0 L414.1,346.9 L415.4,346.6 L416.7,346.2 L418.0,345.8 L419.3,345.3 L420.7,344.9 L422.0,344.5 L423.3,344.3 L424.6,344.2 L425.9,344.2 L427.2,344.4 L428.5,344.7 L429.9,345.0 L431.2,345.4 L432.5,345.8 L433.8,346.2 L435.1,346.4 L436.4,346.6 L437.7,346.6 L439.1,346.5 L440.4,346.4 L441.7,346.1 L443.0,345.8 L444.3,345.4 L445.6,345.1 L446.9,344.8 L448.3,344.6 L449.6,344.4 L450.9,344.4 L452.2,344.5 L453.5,344.6 L454.8,344.9 L456.1,345.2"/>
<path d="M115.7,341.4 L117.1,341.4 L118.4,341.5 L119.7,341.8 L121.0,342.1 L122.3,342.5 L123.6,342.8 L124.9,343.2 L126.3,343.5 L127.6,343.8 L128.9,343.9 L130.2,344.0 L131.5,344.0 L132.8,343.9 L134.1,343.8 L135.5,343.6 L136.8,343.4 L138.1,343.3 L139.4,343.2 L140.7,343.2 L142.0,343.2 L143.3,343.4 L144.7,343.7 L146.0,344.1 L147.3,344.5 L148.6,345.0 L149.9,345.4 L151.2,345.9 L152.5,346.2 L153.9,346.4 L155.2,346.4 L156.5,346.2 L157.8,345.9 L159.1,345.4 L160.4,344.7 L161.7,344.0 L163.1,343.1 L164.4,342.2 L165.7,341.4 L167.0,340.7 L168.3,340.1 L169.6,339.7 L170.9,339.5 L172.3,339.6 L173.6,339.9 L174.9,340.3 L176.2,341.0 L177.5,341.7 L178.8,342.6 L180.1,343.4 L181.5,344.2 L182.8,345.0 L184.1,345.6 L185.4,346.0 L186.7,346.3 L188.0,346.4 L189.3,346.4 L190.7,346.3 L192.0,346.1 L193.3,345.8 L194.6,345.5 L195.9,345.2 L197.2,345.0 L198.5,344.8 L199.9,344.8 L201.2,344.7 L202.5,344.8 L203.8,344.9 L205.1,345.0 L206.4,345.1 L207.7,345.2 L209.1,345.2 L210.4,345.2 L211.7,345.0 L213.0,344.8 L214.3,344.4 L215.6,344.0 L216.9,343.5 L218.3,343.0 L219.6,342.4 L220.9,341.8 L222.2,341.3 L223.5,340.8 L224.8,340.4 L226.1,340.1 L227.5,340.0 L228.8,339.9 L230.1,340.1 L231.4,340.3 L232.7,340.6 L234.0,341.0 L235.3,341.4 L236.7,341.9 L238.0,342.4 L239.3,343.0 L240.6,343.5 L241.9,344.0 L243.2,344.7 L244.5,345.3 L245.9,345.8 L247.2,346.3 L248.5,346.7 L249.8,347.2 L251.1,347.8 L252.4,348.7 L253.7,350.1 L255.1,351.9 L256.4,353.9 L257.7,355.5 L259.0,355.7 L260.3,354.4 L261.6,351.3 L262.9,347.5 L264.3,343.7 L265.6,340.4 L266.9,338.1 L268.2,337.0 L269.5,337.0 L270.8,337.8 L272.1,339.0 L273.5,340.0 L274.8,340.5 L276.1,340.6 L277.4,340.3 L278.7,340.1 L280.0,340.0 L281.3,340.1 L282.7,340.4 L284.0,340.6 L285.3,340.5 L286.6,340.3 L287.9,340.2 L289.2,340.3 L290.5,340.9 L291.9,341.9 L293.2,343.3 L294.5,345.1 L295.8,346.8 L297.1,348.3 L298.4,349.3 L299.7,349.4 L301.1,348.8 L302.4,347.5 L303.7,345.8 L305.0,344.1 L306.3,342.6 L307.6,341.7 L308.9,341.4 L310.3,341.9 L311.6,342.4 L312.9,342.4 L314.2,342.2 L315.5,341.9 L316.8,341.6 L318.1,341.6 L319.5,341.9 L320.8,342.7 L322.1,343.9 L323.4,345.3 L324.7,346.5 L326.0,347.4 L327.3,347.8 L328.7,347.8 L330.0,347.5 L331.3,347.0 L332.6,346.4 L333.9,345.9 L335.2,345.7 L336.5,345.5 L337.9,345.3 L339.2,345.1 L340.5,344.8 L341.8,344.6 L343.1,344.3 L344.4,344.2 L345.7,344.1 L347.1,344.1 L348.4,344.2 L349.7,344.2 L351.0,344.2 L352.3,344.1 L353.6,344.0 L354.9,343.7 L356.3,343.3 L357.6,342.9 L358.9,342.4 L360.2,341.8 L361.5,341.2 L362.8,340.6 L364.1,340.1 L365.5,339.7 L366.8,339.4 L368.1,339.2 L369.4,339.2 L370.7,339.3 L372.0,339.6 L373.3,340.0 L374.7,340.5 L376.0,341.2 L377.3,341.9 L378.6,342.7 L379.9,343.6 L381.2,344.5 L382.5,345.4 L383.9,346.3 L385.2,347.1 L386.5,347.9 L387.8,348.5 L389.1,349.1 L390.4,349.5 L391.7,349.7 L393.1,349.7 L394.4,349.5 L395.7,349.1 L397.0,348.5 L398.3,347.8 L399.6,346.9 L400.9,345.9 L402.3,344.9 L403.6,343.9 L404.9,342.9 L406.2,342.0 L407.5,341.3 L408.8,340.7 L410.1,340.3 L411.5,340.1 L412.8,340.1 L414.1,340.2 L415.4,340.4 L416.7,340.7 L418.0,341.1 L419.3,341.4 L420.7,341.7 L422.0,341.9 L423.3,342.0 L424.6,342.1 L425.9,342.0 L427.2,341.9 L428.5,341.8 L429.9,341.7 L431.2,341.6 L432.5,341.7 L433.8,341.8 L435.1,342.1 L436.4,342.5 L437.7,343.1 L439.1,343.8 L440.4,344.5 L441.7,345.3 L443.0,346.1 L444.3,346.8 L445.6,347.4 L446.9,347.9 L448.3,348.2 L449.6,348.3 L450.9,348.2 L452.2,347.9 L453.5,347.5 L454.8,347.0 L456.1,346.3"/>
<path d="M115.7,352.6 L117.1,352.8 L118.4,352.9 L119.7,353.0 L121.0,353.0 L122.3,352.9 L123.6,352.8 L124.9,352.6 L126.3,352.3 L127.6,352.0 L128.9,351.6 L130.2,351.3 L131.5,351.0 L132.8,350.7 L134.1,350.4 L135.5,350.2 L136.8,350.1 L138.1,350.0 L139.4,350.0 L140.7,350.0 L142.0,350.1 L143.3,350.3 L144.7,350.5 L146.0,350.7 L147.3,350.9 L148.6,351.1 L149.9,351.3 L151.2,351.4 L152.5,351.5 L153.9,351.6 L155.2,351.6 L156.5,351.6 L157.8,351.6 L159.1,351.5 L160.4,351.5 L161.7,351.4 L163.1,351.3 L164.4,351.2 L165.7,351.2 L167.0,351.2 L168.3,351.2 L169.6,351.2 L170.9,351.3 L172.3,351.4 L173.6,351.5 L174.9,351.7 L176.2,351.8 L177.5,352.0 L178.8,352.1 L180.1,352.3 L181.5,352.4 L182.8,352.5 L184.1,352.6 L185.4,352.6 L186.7,352.6 L188.0,352.5 L189.3,352.5 L190.7,352.4 L192.0,352.2 L193.3,352.0 L194.6,351.8 L195.9,351.6 L197.2,351.4 L198.5,351.2 L199.9,350.9 L201.2,350.7 L202.5,350.5 L203.8,350.3 L205.1,350.2 L206.4,350.1 L207.7,350.0 L209.1,350.0 L210.4,350.0 L211.7,350.1 L213.0,350.2 L214.3,350.4 L215.6,350.6 L216.9,350.9 L218.3,351.2 L219.6,351.5 L220.9,351.8 L222.2,352.1 L223.5,352.4 L224.8,352.6 L226.1,352.8 L227.5,352.9 L228.8,352.9 L230.1,352.9 L231.4,352.7 L232.7,352.5 L234.0,352.1 L235.3,351.7 L236.7,351.1 L238.0,350.5 L239.3,350.0 L240.6,349.5 L241.9,349.1 L243.2,348.9 L244.5,349.0 L245.9,349.3 L247.2,349.8 L248.5,350.5 L249.8,351.4 L251.1,352.4 L252.4,353.7 L253.7,355.3 L255.1,357.3 L256.4,359.8 L257.7,362.4 L259.0,364.5 L260.3,365.3 L261.6,364.2 L262.9,361.4 L264.3,357.6 L265.6,353.5 L266.9,349.8 L268.2,346.9 L269.5,345.1 L270.8,344.1 L272.1,344.0 L273.5,344.3 L274.8,344.5 L276.1,344.3 L277.4,343.9 L278.7,343.6 L280.0,343.6 L281.3,344.1 L282.7,344.9 L284.0,346.1 L285.3,347.4 L286.6,348.4 L287.9,349.1 L289.2,349.8 L290.5,350.4 L291.9,351.3 L293.2,352.3 L294.5,353.6 L295.8,355.1 L297.1,356.4 L298.4,357.4 L299.7,357.9 L301.1,357.6 L302.4,356.7 L303.7,355.2 L305.0,353.4 L306.3,351.7 L307.6,350.4 L308.9,349.8 L310.3,350.0 L311.6,350.9 L312.9,351.8 L314.2,352.2 L315.5,352.2 L316.8,351.8 L318.1,351.2 L319.5,350.8 L320.8,350.5 L322.1,350.6 L323.4,351.1 L324.7,351.8 L326.0,352.5 L327.3,353.0 L328.7,353.1 L330.0,353.0 L331.3,352.7 L332.6,352.4 L333.9,352.1 L335.2,352.1 L336.5,352.3 L337.9,352.6 L339.2,352.8 L340.5,352.9 L341.8,352.8 L343.1,352.6 L344.4,352.3 L345.7,351.9 L347.1,351.5 L348.4,351.1 L349.7,350.7 L351.0,350.4 L352.3,350.2 L353.6,350.0 L354.9,349.9 L356.3,349.9 L357.6,349.9 L358.9,350.1 L360.2,350.2 L361.5,350.4 L362.8,350.7 L364.1,350.9 L365.5,351.2 L366.8,351.4 L368.1,351.6 L369.4,351.8 L370.7,352.0 L372.0,352.0 L373.3,352.1 L374.7,352.0 L376.0,351.9 L377.3,351.8 L378.6,351.6 L379.9,351.4 L381.2,351.2 L382.5,351.0 L383.9,350.8 L385.2,350.6 L386.5,350.5 L387.8,350.4 L389.1,350.4 L390.4,350.4 L391.7,350.6 L393.1,350.8 L394.4,351.1 L395.7,351.4 L397.0,351.8 L398.3,352.2 L399.6,352.6 L400.9,352.9 L402.3,353.3 L403.6,353.5 L404.9,353.7 L406.2,353.8 L407.5,353.8 L408.8,353.7 L410.1,353.4 L411.5,353.1 L412.8,352.6 L414.1,352.1 L415.4,351.6 L416.7,351.0 L418.0,350.4 L419.3,349.9 L420.7,349.4 L422.0,349.0 L423.3,348.7 L424.6,348.5 L425.9,348.5 L427.2,348.6 L428.5,348.9 L429.9,349.3 L431.2,349.7 L432.5,350.3 L433.8,350.9 L435.1,351.6 L436.4,352.2 L437.7,352.8 L439.1,353.2 L440.4,353.6 L441.7,353.9 L443.0,354.0 L444.3,354.0 L445.6,353.9 L446.9,353.6 L448.3,353.2 L449.6,352.7 L450.9,352.1 L452.2,351.6 L453.5,351.0 L454.8,350.4 L456.1,350.0"/>
<path d="M115.7,352.2 L117.1,352.5 L118.4,352.7 L119.7,352.8 L121.0,352.7 L122.3,352.5 L123.6,352.2 L124.9,351.8 L126.3,351.4 L127.6,351.1 L128.9,350.8 L130.2,350.7 L131.5,350.7 L132.8,350.8 L134.1,351.1 L135.5,351.5 L136.8,351.9 L138.1,352.4 L139.4,352.9 L140.7,353.2 L142.0,353.4 L143.3,353.4 L144.7,353.2 L146.0,352.9 L147.3,352.5 L148.6,351.9 L149.9,351.3 L151.2,350.8 L152.5,350.4 L153.9,350.2 L155.2,350.1 L156.5,350.3 L157.8,350.8 L159.1,351.4 L160.4,352.3 L161.7,353.2 L163.1,354.1 L164.4,354.9 L165.7,355.6 L167.0,356.0 L168.3,356.2 L169.6,356.1 L170.9,355.7 L172.3,355.0 L173.6,354.1 L174.9,353.1 L176.2,352.0 L177.5,351.0 L178.8,350.2 L180.1,349.5 L181.5,349.1 L182.8,349.0 L184.1,349.1 L185.4,349.5 L186.7,350.1 L188.0,350.8 L189.3,351.5 L190.7,352.2 L192.0,352.8 L193.3,353.2 L194.6,353.5 L195.9,353.6 L197.2,353.5 L198.5,353.2 L199.9,352.8 L201.2,352.3 L202.5,351.9 L203.8,351.4 L205.1,351.1 L206.4,350.8 L207.7,350.7 L209.1,350.7 L210.4,350.8 L211.7,350.9 L213.0,351.1 L214.3,351.3 L215.6,351.5 L216.9,351.6 L218.3,351.7 L219.6,351.8 L220.9,351.8 L222.2,351.8 L223.5,351.7 L224.8,351.8 L226.1,351.9 L227.5,352.0 L228.8,352.2 L230.1,352.4 L231.4,352.7 L232.7,353.0 L234.0,353.2 L235.3,353.3 L236.7,353.3 L238.0,353.2 L239.3,353.0 L240.6,352.8 L241.9,352.5 L243.2,352.3 L244.5,352.1 L245.9,352.1 L247.2,352.1 L248.5,352.2 L249.8,352.6 L251.1,353.2 L252.4,354.1 L253.7,355.4 L255.1,357.3 L256.4,359.6 L257.7,361.7 L259.0,362.9 L260.3,362.7 L261.6,360.8 L262.9,357.6 L264.3,353.9 L265.6,350.3 L266.9,347.4 L268.2,345.6 L269.5,344.9 L270.8,345.1 L272.1,346.0 L273.5,347.2 L274.8,348.1 L276.1,348.7 L277.4,349.1 L278.7,349.5 L280.0,350.0 L281.3,350.9 L282.7,351.8 L284.0,352.7 L285.3,353.2 L286.6,353.2 L287.9,353.0 L289.2,352.8 L290.5,352.6 L291.9,352.6 L293.2,352.8 L294.5,353.2 L295.8,353.6 L297.1,354.0 L298.4,354.2 L299.7,354.0 L301.1,353.5 L302.4,352.6 L303.7,351.5 L305.0,350.5 L306.3,349.8 L307.6,349.6 L308.9,349.9 L310.3,350.8 L311.6,352.0 L312.9,352.9 L314.2,353.5 L315.5,353.6 L316.8,353.5 L318.1,353.2 L319.5,352.9 L320.8,352.6 L322.1,352.5 L323.4,352.5 L324.7,352.5 L326.0,352.4 L327.3,352.2 L328.7,351.9 L330.0,351.6 L331.3,351.3 L332.6,351.2 L333.9,351.3 L335.2,351.8 L336.5,352.4 L337.9,353.0 L339.2,353.5 L340.5,353.8 L341.8,353.9 L343.1,353.7 L344.4,353.4 L345.7,352.8 L347.1,352.2 L348.4,351.5 L349.7,350.8 L351.0,350.2 L352.3,349.7 L353.6,349.3 L354.9,349.1 L356.3,349.1 L357.6,349.3 L358.9,349.5 L360.2,349.9 L361.5,350.4 L362.8,350.8 L364.1,351.3 L365.5,351.7 L366.8,352.1 L368.1,352.4 L369.4,352.7 L370.7,353.1 L372.0,353.4 L373.3,353.7 L374.7,354.1 L376.0,354.5 L377.3,355.0 L378.6,355.4 L379.9,355.7 L381.2,356.0 L382.5,356.1 L383.9,355.9 L385.2,355.6 L386.5,355.1 L387.8,354.4 L389.1,353.5 L390.4,352.6 L391.7,351.6 L393.1,350.6 L394.4,349.9 L395.7,349.3 L397.0,348.9 L398.3,348.8 L399.6,349.0 L400.9,349.3 L402.3,349.9 L403.6,350.5 L404.9,351.1 L406.2,351.7 L407.5,352.1 L408.8,352.4 L410.1,352.4 L411.5,352.3 L412.8,352.1 L414.1,351.7 L415.4,351.3 L416.7,351.0 L418.0,350.7 L419.3,350.6 L420.7,350.7 L422.0,350.9 L423.3,351.3 L424.6,351.9 L425.9,352.5 L427.2,353.1 L428.5,353.7 L429.9,354.1 L431.2,354.4 L432.5,354.4 L433.8,354.3 L435.1,354.1 L436.4,353.7 L437.7,353.2 L439.1,352.8 L440.4,352.3 L441.7,352.0 L443.0,351.9 L444.3,351.8 L445.6,351.9 L446.9,352.1 L448.3,352.3 L449.6,352.5 L450.9,352.7 L452.2,352.7 L453.5,352.6 L454.8,352.3 L456.1,351.8"/>
<path d="M115.7,353.6 L117.1,353.7 L118.4,353.7 L119.7,353.7 L121.0,353.6 L122.3,353.5 L123.6,353.3 L124.9,353.2 L126.3,353.0 L127.6,352.9 L128.9,352.9 L130.2,352.9 L131.5,353.0 L132.8,353.2 L134.1,353.5 L135.5,353.9 L136.8,354.2 L138.1,354.6 L139.4,354.9 L140.7,355.2 L142.0,355.4 L143.3,355.5 L144.7,355.5 L146.0,355.3 L147.3,355.1 L148.6,354.9 L149.9,354.6 L151.2,354.2 L152.5,353.9 L153.9,353.6 L155.2,353.4 L156.5,353.2 L157.8,353.1 L159.1,353.0 L160.4,353.0 L161.7,353.0 L163.1,353.0 L164.4,353.1 L165.7,353.1 L167.0,353.1 L168.3,353.1 L169.6,353.1 L170.9,353.1 L172.3,353.0 L173.6,353.0 L174.9,353.0 L176.2,353.0 L177.5,353.0 L178.8,353.0 L180.1,353.0 L181.5,353.1 L182.8,353.2 L184.1,353.3 L185.4,353.5 L186.7,353.7 L188.0,353.9 L189.3,354.1 L190.7,354.4 L192.0,354.6 L193.3,354.8 L194.6,354.9 L195.9,355.0 L197.2,355.1 L198.5,355.0 L199.9,355.0 L201.2,354.8 L202.5,354.6 L203.8,354.4 L205.1,354.1 L206.4,353.9 L207.7,353.7 L209.1,353.6 L210.4,353.4 L211.7,353.4 L213.0,353.4 L214.3,353.4 L215.6,353.5 L216.9,353.6 L218.3,353.7 L219.6,353.7 L220.9,353.7 L222.2,353.7 L223.5,353.6 L224.8,353.4 L226.1,353.3 L227.5,353.1 L228.8,353.0 L230.1,352.9 L231.4,352.9 L232.7,352.8 L234.0,352.8 L235.3,352.9 L236.7,352.9 L238.0,353.1 L239.3,353.2 L240.6,353.4 L241.9,353.6 L243.2,354.0 L244.5,354.4 L245.9,354.8 L247.2,355.1 L248.5,355.5 L249.8,356.1 L251.1,356.8 L252.4,357.8 L253.7,359.3 L255.1,361.4 L256.4,363.6 L257.7,365.5 L259.0,366.2 L260.3,365.2 L261.6,362.4 L262.9,358.6 L264.3,354.7 L265.6,351.0 L266.9,348.2 L268.2,346.6 L269.5,345.9 L270.8,346.1 L272.1,346.8 L273.5,347.5 L274.8,347.9 L276.1,348.0 L277.4,348.1 L278.7,348.4 L280.0,349.1 L281.3,350.2 L282.7,351.5 L284.0,352.7 L285.3,353.5 L286.6,354.0 L287.9,354.2 L289.2,354.3 L290.5,354.6 L291.9,354.9 L293.2,355.4 L294.5,355.9 L295.8,356.4 L297.1,356.7 L298.4,356.7 L299.7,356.2 L301.1,355.3 L302.4,354.1 L303.7,352.8 L305.0,351.7 L306.3,351.1 L307.6,350.9 L308.9,351.5 L310.3,352.7 L311.6,353.9 L312.9,354.8 L314.2,355.3 L315.5,355.5 L316.8,355.5 L318.1,355.3 L319.5,355.2 L320.8,355.2 L322.1,355.3 L323.4,355.4 L324.7,355.5 L326.0,355.3 L327.3,354.8 L328.7,354.2 L330.0,353.5 L331.3,352.9 L332.6,352.4 L333.9,352.3 L335.2,352.5 L336.5,352.9 L337.9,353.3 L339.2,353.8 L340.5,354.2 L341.8,354.4 L343.1,354.5 L344.4,354.6 L345.7,354.5 L347.1,354.3 L348.4,354.0 L349.7,353.7 L351.0,353.4 L352.3,353.1 L353.6,352.8 L354.9,352.7 L356.3,352.6 L357.6,352.7 L358.9,353.0 L360.2,353.3 L361.5,353.7 L362.8,354.1 L364.1,354.5 L365.5,354.8 L366.8,355.0 L368.1,355.2 L369.4,355.2 L370.7,355.1 L372.0,354.8 L373.3,354.5 L374.7,354.2 L376.0,353.9 L377.3,353.6 L378.6,353.4 L379.9,353.3 L381.2,353.3 L382.5,353.4 L383.9,353.7 L385.2,353.9 L386.5,354.2 L387.8,354.5 L389.1,354.8 L390.4,354.9 L391.7,354.9 L393.1,354.9 L394.4,354.7 L395.7,354.4 L397.0,354.0 L398.3,353.6 L399.6,353.2 L400.9,352.8 L402.3,352.5 L403.6,352.3 L404.9,352.2 L406.2,352.2 L407.5,352.3 L408.8,352.5 L410.1,352.8 L411.5,353.1 L412.8,353.4 L414.1,353.8 L415.4,354.0 L416.7,354.2 L418.0,354.4 L419.3,354.5 L420.7,354.5 L422.0,354.4 L423.3,354.3 L424.6,354.1 L425.9,354.0 L427.2,353.9 L428.5,353.8 L429.9,353.7 L431.2,353.7 L432.5,353.8 L433.8,353.9 L435.1,354.1 L436.4,354.3 L437.7,354.5 L439.1,354.6 L440.4,354.8 L441.7,354.8 L443.0,354.8 L444.3,354.7 L445.6,354.4 L446.9,354.1 L448.3,353.8 L449.6,353.3 L450.9,352.9 L452.2,352.5 L453.5,352.2 L454.8,352.0 L456.1,351.9"/>
<path d="M115.7,356.7 L117.1,356.6 L118.4,356.2 L119.7,355.7 L121.0,355.0 L122.3,354.2 L123.6,353.4 L124.9,352.7 L126.3,352.1 L127.6,351.6 L128.9,351.4 L130.2,351.4 L131.5,351.6 L132.8,352.0 L134.1,352.5 L135.5,353.1 L136.8,353.7 L138.1,354.3 L139.4,354.8 L140.7,355.1 L142.0,355.3 L143.3,355.4 L144.7,355.4 L146.0,355.2 L147.3,354.9 L148.6,354.5 L149.9,354.1 L151.2,353.8 L152.5,353.5 L153.9,353.2 L155.2,353.0 L156.5,353.0 L157.8,353.0 L159.1,353.1 L160.4,353.2 L161.7,353.5 L163.1,353.7 L164.4,354.0 L165.7,354.2 L167.0,354.5 L168.3,354.6 L169.6,354.7 L170.9,354.7 L172.3,354.7 L173.6,354.5 L174.9,354.3 L176.2,354.0 L177.5,353.8 L178.8,353.5 L180.1,353.2 L181.5,353.0 L182.8,352.9 L184.1,352.9 L185.4,353.0 L186.7,353.2 L188.0,353.4 L189.3,353.7 L190.7,354.1 L192.0,354.4 L193.3,354.6 L194.6,354.8 L195.9,354.8 L197.2,354.7 L198.5,354.4 L199.9,354.1 L201.2,353.6 L202.5,353.1 L203.8,352.6 L205.1,352.1 L206.4,351.8 L207.7,351.6 L209.1,351.5 L210.4,351.7 L211.7,352.0 L213.0,352.5 L214.3,353.1 L215.6,353.7 L216.9,354.4 L218.3,355.1 L219.6,355.7 L220.9,356.2 L222.2,356.5 L223.5,356.6 L224.8,356.7 L226.1,356.5 L227.5,356.3 L228.8,355.9 L230.1,355.4 L231.4,354.9 L232.7,354.3 L234.0,353.7 L235.3,353.1 L236.7,352.5 L238.0,352.1 L239.3,351.8 L240.6,351.7 L241.9,351.8 L243.2,352.0 L244.5,352.3 L245.9,352.8 L247.2,353.5 L248.5,354.5 L249.8,355.8 L251.1,357.7 L252.4,360.2 L253.7,363.2 L255.1,365.8 L256.4,367.3 L257.7,366.9 L259.0,364.5 L260.3,360.6 L261.6,356.3 L262.9,352.2 L264.3,349.0 L265.6,347.1 L266.9,346.4 L268.2,346.8 L269.5,348.0 L270.8,349.1 L272.1,349.9 L273.5,350.1 L274.8,350.1 L276.1,350.1 L277.4,350.2 L278.7,350.6 L280.0,351.2 L281.3,351.9 L282.7,352.3 L284.0,352.3 L285.3,352.0 L286.6,351.6 L287.9,351.4 L289.2,351.7 L290.5,352.5 L291.9,353.7 L293.2,355.3 L294.5,356.7 L295.8,357.6 L297.1,357.7 L298.4,356.9 L299.7,355.3 L301.1,353.3 L302.4,351.5 L303.7,350.3 L305.0,350.1 L306.3,351.3 L307.6,353.9 L308.9,357.0 L310.3,359.3 L311.6,360.7 L312.9,361.2 L314.2,361.2 L315.5,360.9 L316.8,360.6 L318.1,360.4 L319.5,360.5 L320.8,360.6 L322.1,360.5 L323.4,359.7 L324.7,358.1 L326.0,355.8 L327.3,353.1 L328.7,350.3 L330.0,347.7 L331.3,345.8 L332.6,344.7 L333.9,344.4 L335.2,344.7 L336.5,345.4 L337.9,346.4 L339.2,347.7 L340.5,349.3 L341.8,351.0 L343.1,352.9 L344.4,354.8 L345.7,356.6 L347.1,358.1 L348.4,359.4 L349.7,360.2 L351.0,360.7 L352.3,360.6 L353.6,360.2 L354.9,359.4 L356.3,358.4 L357.6,357.1 L358.9,355.7 L360.2,354.4 L361.5,353.1 L362.8,351.9 L364.1,351.0 L365.5,350.3 L366.8,349.9 L368.1,349.8 L369.4,349.9 L370.7,350.3 L372.0,350.8 L373.3,351.5 L374.7,352.3 L376.0,353.2 L377.3,354.0 L378.6,354.8 L379.9,355.5 L381.2,356.0 L382.5,356.3 L383.9,356.5 L385.2,356.4 L386.5,356.2 L387.8,355.8 L389.1,355.3 L390.4,354.7 L391.7,354.1 L393.1,353.4 L394.4,352.9 L395.7,352.4 L397.0,352.1 L398.3,351.9 L399.6,351.8 L400.9,351.9 L402.3,352.0 L403.6,352.3 L404.9,352.6 L406.2,353.0 L407.5,353.3 L408.8,353.6 L410.1,353.9 L411.5,354.1 L412.8,354.3 L414.1,354.4 L415.4,354.5 L416.7,354.6 L418.0,354.7 L419.3,354.8 L420.7,354.9 L422.0,355.0 L423.3,355.0 L424.6,355.0 L425.9,354.9 L427.2,354.7 L428.5,354.4 L429.9,354.0 L431.2,353.6 L432.5,353.2 L433.8,352.7 L435.1,352.3 L436.4,352.0 L437.7,351.8 L439.1,351.8 L440.4,352.0 L441.7,352.4 L443.0,352.9 L444.3,353.5 L445.6,354.2 L446.9,354.8 L448.3,355.5 L449.6,356.0 L450.9,356.4 L452.2,356.5 L453.5,356.5 L454.8,356.3 L456.1,355.9"/>
<path d="M115.7,352.6 L117.1,352.5 L118.4,352.6 L119.7,352.7 L121.0,352.8 L122.3,353.1 L123.6,353.3 L124.9,353.5 L126.3,353.6 L127.6,353.6 L128.9,353.5 L130.2,353.3 L131.5,352.9 L132.8,352.4 L134.1,351.9 L135.5,351.2 L136.8,350.6 L138.1,349.9 L139.4,349.4 L140.7,349.0 L142.0,348.8 L143.3,348.7 L144.7,348.7 L146.0,349.0 L147.3,349.3 L148.6,349.7 L149.9,350.2 L151.2,350.7 L152.5,351.2 L153.9,351.6 L155.2,351.9 L156.5,352.1 L157.8,352.3 L159.1,352.4 L160.4,352.4 L161.7,352.5 L163.1,352.5 L164.4,352.5 L165.7,352.5 L167.0,352.6 L168.3,352.7 L169.6,352.9 L170.9,353.1 L172.3,353.3 L173.6,353.5 L174.9,353.7 L176.2,353.8 L177.5,353.9 L178.8,353.9 L180.1,353.8 L181.5,353.6 L182.8,353.3 L184.1,353.0 L185.4,352.6 L186.7,352.1 L188.0,351.6 L189.3,351.1 L190.7,350.6 L192.0,350.2 L193.3,349.8 L194.6,349.6 L195.9,349.4 L197.2,349.4 L198.5,349.5 L199.9,349.7 L201.2,350.0 L202.5,350.4 L203.8,350.8 L205.1,351.1 L206.4,351.5 L207.7,351.8 L209.1,351.9 L210.4,352.0 L211.7,352.0 L213.0,351.9 L214.3,351.8 L215.6,351.6 L216.9,351.4 L218.3,351.3 L219.6,351.3 L220.9,351.4 L222.2,351.6 L223.5,352.0 L224.8,352.4 L226.1,352.9 L227.5,353.5 L228.8,354.0 L230.1,354.4 L231.4,354.6 L232.7,354.6 L234.0,354.3 L235.3,353.8 L236.7,353.2 L238.0,352.4 L239.3,351.6 L240.6,350.8 L241.9,350.4 L243.2,350.1 L244.5,350.0 L245.9,350.2 L247.2,350.8 L248.5,351.6 L249.8,352.8 L251.1,354.3 L252.4,356.4 L253.7,358.9 L255.1,361.4 L256.4,363.3 L257.7,363.9 L259.0,362.7 L260.3,359.8 L261.6,355.8 L262.9,351.7 L264.3,347.9 L265.6,345.0 L266.9,343.2 L268.2,342.5 L269.5,342.8 L270.8,343.8 L272.1,345.0 L273.5,346.0 L274.8,347.1 L276.1,348.2 L277.4,349.5 L278.7,351.0 L280.0,352.6 L281.3,354.2 L282.7,355.4 L284.0,355.9 L285.3,355.7 L286.6,355.2 L287.9,354.4 L289.2,353.7 L290.5,353.2 L291.9,352.7 L293.2,352.4 L294.5,352.3 L295.8,352.1 L297.1,351.9 L298.4,351.5 L299.7,350.9 L301.1,350.2 L302.4,349.5 L303.7,348.9 L305.0,348.6 L306.3,348.6 L307.6,349.1 L308.9,349.9 L310.3,350.8 L311.6,351.3 L312.9,351.6 L314.2,351.7 L315.5,351.7 L316.8,351.7 L318.1,351.8 L319.5,352.0 L320.8,352.3 L322.1,352.8 L323.4,353.1 L324.7,353.4 L326.0,353.5 L327.3,353.5 L328.7,353.5 L330.0,353.4 L331.3,353.5 L332.6,353.6 L333.9,353.9 L335.2,354.2 L336.5,354.4 L337.9,354.5 L339.2,354.4 L340.5,354.2 L341.8,353.8 L343.1,353.3 L344.4,352.7 L345.7,352.0 L347.1,351.3 L348.4,350.6 L349.7,350.0 L351.0,349.6 L352.3,349.2 L353.6,349.0 L354.9,349.0 L356.3,349.1 L357.6,349.3 L358.9,349.6 L360.2,349.9 L361.5,350.2 L362.8,350.5 L364.1,350.7 L365.5,350.9 L366.8,350.9 L368.1,350.9 L369.4,350.9 L370.7,350.9 L372.0,350.9 L373.3,351.0 L374.7,351.2 L376.0,351.4 L377.3,351.8 L378.6,352.2 L379.9,352.7 L381.2,353.2 L382.5,353.7 L383.9,354.2 L385.2,354.5 L386.5,354.7 L387.8,354.8 L389.1,354.8 L390.4,354.6 L391.7,354.4 L393.1,354.1 L394.4,353.8 L395.7,353.4 L397.0,353.1 L398.3,352.8 L399.6,352.5 L400.9,352.2 L402.3,351.9 L403.6,351.6 L404.9,351.2 L406.2,350.8 L407.5,350.4 L408.8,349.9 L410.1,349.4 L411.5,349.0 L412.8,348.6 L414.1,348.3 L415.4,348.1 L416.7,348.1 L418.0,348.3 L419.3,348.7 L420.7,349.1 L422.0,349.7 L423.3,350.4 L424.6,351.1 L425.9,351.8 L427.2,352.4 L428.5,352.9 L429.9,353.2 L431.2,353.5 L432.5,353.6 L433.8,353.6 L435.1,353.6 L436.4,353.6 L437.7,353.5 L439.1,353.5 L440.4,353.6 L441.7,353.7 L443.0,353.9 L444.3,354.1 L445.6,354.3 L446.9,354.4 L448.3,354.4 L449.6,354.2 L450.9,353.9 L452.2,353.5 L453.5,352.9 L454.8,352.3 L456.1,351.5"/>
<path d="M115.7,433.7 L117.1,433.5 L118.4,433.4 L119.7,433.3 L121.0,433.4 L122.3,433.6 L123.6,433.9 L124.9,434.3 L126.3,434.7 L127.6,435.2 L128.9,435.6 L130.2,436.0 L131.5,436.4 L132.8,436.7 L134.1,436.9 L135.5,437.0 L136.8,437.0 L138.1,436.9 L139.4,436.7 L140.7,436.5 L142.0,436.2 L143.3,436.0 L144.7,435.8 L146.0,435.6 L147.3,435.5 L148.6,435.5 L149.9,435.6 L151.2,435.8 L152.5,436.1 L153.9,436.4 L155.2,436.7 L156.5,437.0 L157.8,437.3 L159.1,437.5 L160.4,437.7 L161.7,437.7 L163.1,437.7 L164.4,437.5 L165.7,437.3 L167.0,437.0 L168.3,436.6 L169.6,436.2 L170.9,435.9 L172.3,435.5 L173.6,435.2 L174.9,434.9 L176.2,434.7 L177.5,434.6 L178.8,434.6 L180.1,434.6 L181.5,434.7 L182.8,434.9 L184.1,435.0 L185.4,435.2 L186.7,435.4 L188.0,435.5 L189.3,435.6 L190.7,435.7 L192.0,435.7 L193.3,435.7 L194.6,435.7 L195.9,435.6 L197.2,435.5 L198.5,435.4 L199.9,435.2 L201.2,435.1 L202.5,435.0 L203.8,434.8 L205.1,434.7 L206.4,434.6 L207.7,434.6 L209.1,434.5 L210.4,434.5 L211.7,434.6 L213.0,434.7 L214.3,434.8 L215.6,435.0 L216.9,435.2 L218.3,435.5 L219.6,435.8 L220.9,436.2 L222.2,436.6 L223.5,436.9 L224.8,437.3 L226.1,437.7 L227.5,438.0 L228.8,438.2 L230.1,438.4 L231.4,438.5 L232.7,438.6 L234.0,438.5 L235.3,438.3 L236.7,437.9 L238.0,437.6 L239.3,437.1 L240.6,436.7 L241.9,436.2 L243.2,435.9 L244.5,435.8 L245.9,435.7 L247.2,435.8 L248.5,435.9 L249.8,436.2 L251.1,436.7 L252.4,437.3 L253.7,438.3 L255.1,439.7 L256.4,441.7 L257.7,443.8 L259.0,445.6 L260.3,446.3 L261.6,445.4 L262.9,442.7 L264.3,439.0 L265.6,435.1 L266.9,431.5 L268.2,428.8 L269.5,427.5 L270.8,427.2 L272.1,428.0 L273.5,429.5 L274.8,431.0 L276.1,432.3 L277.4,433.1 L278.7,433.7 L280.0,434.4 L281.3,435.0 L282.7,435.7 L284.0,436.5 L285.3,437.1 L286.6,437.4 L287.9,437.1 L289.2,436.6 L290.5,436.0 L291.9,435.5 L293.2,435.5 L294.5,436.0 L295.8,436.8 L297.1,437.8 L298.4,438.8 L299.7,439.5 L301.1,439.6 L302.4,439.0 L303.7,437.9 L305.0,436.5 L306.3,435.3 L307.6,434.5 L308.9,434.5 L310.3,435.3 L311.6,436.9 L312.9,438.6 L314.2,439.6 L315.5,439.8 L316.8,439.4 L318.1,438.6 L319.5,437.8 L320.8,437.0 L322.1,436.6 L323.4,436.5 L324.7,436.7 L326.0,436.8 L327.3,436.7 L328.7,436.3 L330.0,435.6 L331.3,434.7 L332.6,433.9 L333.9,433.2 L335.2,432.9 L336.5,433.0 L337.9,433.5 L339.2,434.0 L340.5,434.4 L341.8,434.8 L343.1,435.1 L344.4,435.4 L345.7,435.6 L347.1,435.8 L348.4,436.0 L349.7,436.2 L351.0,436.4 L352.3,436.6 L353.6,436.8 L354.9,437.1 L356.3,437.3 L357.6,437.5 L358.9,437.7 L360.2,437.9 L361.5,438.0 L362.8,438.1 L364.1,438.2 L365.5,438.2 L366.8,438.2 L368.1,438.1 L369.4,437.9 L370.7,437.6 L372.0,437.2 L373.3,436.8 L374.7,436.3 L376.0,435.7 L377.3,435.1 L378.6,434.5 L379.9,433.9 L381.2,433.4 L382.5,432.9 L383.9,432.6 L385.2,432.4 L386.5,432.4 L387.8,432.4 L389.1,432.6 L390.4,432.9 L391.7,433.3 L393.1,433.7 L394.4,434.1 L395.7,434.6 L397.0,435.0 L398.3,435.3 L399.6,435.6 L400.9,435.8 L402.3,436.0 L403.6,436.0 L404.9,436.1 L406.2,436.1 L407.5,436.2 L408.8,436.3 L410.1,436.4 L411.5,436.6 L412.8,436.8 L414.1,437.1 L415.4,437.5 L416.7,437.8 L418.0,438.2 L419.3,438.5 L420.7,438.7 L422.0,438.9 L423.3,438.9 L424.6,438.9 L425.9,438.7 L427.2,438.4 L428.5,438.0 L429.9,437.5 L431.2,437.0 L432.5,436.4 L433.8,435.9 L435.1,435.4 L436.4,435.0 L437.7,434.7 L439.1,434.5 L440.4,434.4 L441.7,434.4 L443.0,434.5 L444.3,434.7 L445.6,434.9 L446.9,435.1 L448.3,435.3 L449.6,435.5 L450.9,435.6 L452.2,435.7 L453.5,435.7 L454.8,435.6 L456.1,435.5"/>
<path d="M115.7,433.7 L117.1,434.2 L118.4,434.6 L119.7,435.1 L121.0,435.4 L122.3,435.7 L123.6,435.9 L124.9,436.0 L126.3,436.0 L127.6,435.9 L128.9,435.8 L130.2,435.6 L131.5,435.4 L132.8,435.2 L134.1,435.0 L135.5,434.8 L136.8,434.6 L138.1,434.4 L139.4,434.3 L140.7,434.2 L142.0,434.1 L143.3,434.0 L144.7,433.9 L146.0,433.7 L147.3,433.6 L148.6,433.5 L149.9,433.4 L151.2,433.3 L152.5,433.2 L153.9,433.1 L155.2,433.2 L156.5,433.2 L157.8,433.3 L159.1,433.5 L160.4,433.8 L161.7,434.1 L163.1,434.4 L164.4,434.7 L165.7,435.0 L167.0,435.3 L168.3,435.6 L169.6,435.7 L170.9,435.9 L172.3,435.9 L173.6,435.8 L174.9,435.7 L176.2,435.5 L177.5,435.3 L178.8,435.0 L180.1,434.7 L181.5,434.4 L182.8,434.1 L184.1,433.8 L185.4,433.6 L186.7,433.4 L188.0,433.2 L189.3,433.1 L190.7,433.1 L192.0,433.1 L193.3,433.2 L194.6,433.3 L195.9,433.5 L197.2,433.7 L198.5,433.9 L199.9,434.1 L201.2,434.3 L202.5,434.5 L203.8,434.6 L205.1,434.7 L206.4,434.8 L207.7,434.8 L209.1,434.8 L210.4,434.8 L211.7,434.7 L213.0,434.6 L214.3,434.4 L215.6,434.2 L216.9,434.1 L218.3,433.9 L219.6,433.8 L220.9,433.7 L222.2,433.7 L223.5,433.7 L224.8,433.8 L226.1,433.8 L227.5,433.9 L228.8,434.1 L230.1,434.2 L231.4,434.2 L232.7,434.1 L234.0,434.1 L235.3,433.9 L236.7,433.8 L238.0,433.6 L239.3,433.5 L240.6,433.5 L241.9,433.7 L243.2,434.0 L244.5,434.4 L245.9,434.9 L247.2,435.6 L248.5,436.4 L249.8,437.4 L251.1,438.9 L252.4,440.9 L253.7,443.3 L255.1,445.5 L256.4,447.0 L257.7,447.0 L259.0,445.0 L260.3,441.4 L261.6,437.0 L262.9,432.8 L264.3,429.0 L265.6,426.4 L266.9,424.9 L268.2,424.5 L269.5,425.0 L270.8,426.0 L272.1,427.0 L273.5,427.7 L274.8,428.4 L276.1,429.4 L277.4,430.6 L278.7,432.1 L280.0,433.9 L281.3,435.7 L282.7,437.2 L284.0,438.1 L285.3,438.4 L286.6,438.2 L287.9,437.9 L289.2,437.5 L290.5,437.4 L291.9,437.4 L293.2,437.6 L294.5,437.8 L295.8,437.7 L297.1,437.0 L298.4,435.8 L299.7,434.0 L301.1,432.1 L302.4,430.3 L303.7,429.1 L305.0,428.8 L306.3,429.6 L307.6,431.7 L308.9,434.4 L310.3,436.8 L311.6,438.3 L312.9,439.0 L314.2,439.1 L315.5,438.8 L316.8,438.4 L318.1,438.1 L319.5,438.0 L320.8,438.2 L322.1,438.3 L323.4,438.2 L324.7,437.6 L326.0,436.6 L327.3,435.3 L328.7,433.9 L330.0,432.6 L331.3,431.6 L332.6,431.1 L333.9,431.0 L335.2,431.2 L336.5,431.4 L337.9,431.6 L339.2,431.6 L340.5,431.7 L341.8,431.8 L343.1,431.8 L344.4,432.0 L345.7,432.2 L347.1,432.4 L348.4,432.7 L349.7,433.1 L351.0,433.5 L352.3,433.8 L353.6,434.2 L354.9,434.6 L356.3,435.0 L357.6,435.3 L358.9,435.6 L360.2,435.8 L361.5,436.0 L362.8,436.2 L364.1,436.2 L365.5,436.3 L366.8,436.2 L368.1,436.1 L369.4,436.0 L370.7,435.8 L372.0,435.6 L373.3,435.4 L374.7,435.1 L376.0,434.8 L377.3,434.5 L378.6,434.3 L379.9,434.1 L381.2,433.9 L382.5,433.8 L383.9,433.7 L385.2,433.7 L386.5,433.7 L387.8,433.8 L389.1,434.0 L390.4,434.2 L391.7,434.3 L393.1,434.5 L394.4,434.6 L395.7,434.7 L397.0,434.6 L398.3,434.5 L399.6,434.3 L400.9,434.1 L402.3,433.7 L403.6,433.3 L404.9,433.0 L406.2,432.6 L407.5,432.3 L408.8,432.1 L410.1,432.1 L411.5,432.1 L412.8,432.4 L414.1,432.7 L415.4,433.2 L416.7,433.8 L418.0,434.5 L419.3,435.1 L420.7,435.8 L422.0,436.3 L423.3,436.8 L424.6,437.1 L425.9,437.2 L427.2,437.2 L428.5,437.0 L429.9,436.7 L431.2,436.3 L432.5,435.7 L433.8,435.2 L435.1,434.6 L436.4,434.1 L437.7,433.7 L439.1,433.4 L440.4,433.2 L441.7,433.1 L443.0,433.0 L444.3,433.1 L445.6,433.2 L446.9,433.3 L448.3,433.4 L449.6,433.5 L450.9,433.5 L452.2,433.5 L453.5,433.4 L454.8,433.3 L456.1,433.1"/>
<path d="M115.7,432.6 L117.1,432.8 L118.4,432.9 L119.7,433.0 L121.0,433.1 L122.3,433.1 L123.6,433.0 L124.9,433.0 L126.3,432.9 L127.6,432.8 L128.9,432.7 L130.2,432.7 L131.5,432.8 L132.8,432.9 L134.1,433.0 L135.5,433.2 L136.8,433.4 L138.1,433.6 L139.4,433.8 L140.7,434.0 L142.0,434.1 L143.3,434.2 L144.7,434.2 L146.0,434.1 L147.3,434.0 L148.6,433.9 L149.9,433.7 L151.2,433.5 L152.5,433.4 L153.9,433.2 L155.2,433.1 L156.5,433.1 L157.8,433.0 L159.1,433.0 L160.4,433.1 L161.7,433.2 L163.1,433.3 L164.4,433.4 L165.7,433.6 L167.0,433.7 L168.3,433.9 L169.6,434.0 L170.9,434.1 L172.3,434.2 L173.6,434.2 L174.9,434.1 L176.2,434.0 L177.5,433.8 L178.8,433.6 L180.1,433.4 L181.5,433.1 L182.8,432.8 L184.1,432.5 L185.4,432.2 L186.7,432.0 L188.0,431.8 L189.3,431.8 L190.7,431.8 L192.0,431.8 L193.3,431.9 L194.6,432.1 L195.9,432.3 L197.2,432.6 L198.5,432.8 L199.9,433.0 L201.2,433.1 L202.5,433.3 L203.8,433.4 L205.1,433.5 L206.4,433.5 L207.7,433.6 L209.1,433.6 L210.4,433.7 L211.7,433.8 L213.0,433.8 L214.3,433.9 L215.6,433.9 L216.9,434.0 L218.3,434.0 L219.6,434.0 L220.9,433.9 L222.2,433.8 L223.5,433.7 L224.8,433.5 L226.1,433.4 L227.5,433.2 L228.8,433.1 L230.1,432.9 L231.4,432.9 L232.7,432.8 L234.0,432.7 L235.3,432.6 L236.7,432.6 L238.0,432.6 L239.3,432.6 L240.6,432.7 L241.9,432.9 L243.2,433.2 L244.5,433.5 L245.9,433.9 L247.2,434.3 L248.5,434.8 L249.8,435.4 L251.1,436.1 L252.4,437.2 L253.7,438.7 L255.1,440.8 L256.4,442.9 L257.7,444.5 L259.0,444.8 L260.3,443.5 L261.6,440.4 L262.9,436.6 L264.3,432.7 L265.6,429.1 L266.9,426.6 L268.2,425.2 L269.5,424.8 L270.8,425.4 L272.1,426.6 L273.5,427.7 L274.8,428.5 L276.1,429.2 L277.4,429.8 L278.7,430.5 L280.0,431.4 L281.3,432.5 L282.7,433.7 L284.0,434.7 L285.3,435.2 L286.6,435.3 L287.9,435.0 L289.2,434.6 L290.5,434.4 L291.9,434.5 L293.2,434.9 L294.5,435.5 L295.8,436.2 L297.1,436.7 L298.4,436.6 L299.7,435.8 L301.1,434.4 L302.4,432.5 L303.7,430.5 L305.0,428.9 L306.3,427.9 L307.6,427.9 L308.9,429.0 L310.3,431.1 L311.6,433.2 L312.9,434.7 L314.2,435.5 L315.5,435.8 L316.8,435.8 L318.1,435.7 L319.5,435.8 L320.8,436.0 L322.1,436.5 L323.4,437.0 L324.7,437.3 L326.0,437.1 L327.3,436.4 L328.7,435.4 L330.0,434.2 L331.3,433.0 L332.6,432.2 L333.9,431.8 L335.2,431.9 L336.5,432.4 L337.9,432.9 L339.2,433.5 L340.5,433.9 L341.8,434.2 L343.1,434.4 L344.4,434.5 L345.7,434.5 L347.1,434.3 L348.4,434.1 L349.7,433.9 L351.0,433.5 L352.3,433.2 L353.6,432.9 L354.9,432.7 L356.3,432.5 L357.6,432.4 L358.9,432.3 L360.2,432.3 L361.5,432.4 L362.8,432.5 L364.1,432.6 L365.5,432.6 L366.8,432.6 L368.1,432.6 L369.4,432.5 L370.7,432.4 L372.0,432.4 L373.3,432.3 L374.7,432.2 L376.0,432.3 L377.3,432.4 L378.6,432.5 L379.9,432.8 L381.2,433.1 L382.5,433.4 L383.9,433.7 L385.2,434.0 L386.5,434.2 L387.8,434.4 L389.1,434.4 L390.4,434.4 L391.7,434.3 L393.1,434.2 L394.4,434.0 L395.7,433.8 L397.0,433.6 L398.3,433.4 L399.6,433.3 L400.9,433.3 L402.3,433.3 L403.6,433.4 L404.9,433.6 L406.2,433.8 L407.5,434.0 L408.8,434.3 L410.1,434.5 L411.5,434.6 L412.8,434.7 L414.1,434.7 L415.4,434.6 L416.7,434.4 L418.0,434.1 L419.3,433.8 L420.7,433.3 L422.0,432.8 L423.3,432.3 L424.6,431.8 L425.9,431.2 L427.2,430.8 L428.5,430.4 L429.9,430.1 L431.2,429.9 L432.5,429.9 L433.8,430.0 L435.1,430.3 L436.4,430.8 L437.7,431.3 L439.1,431.9 L440.4,432.6 L441.7,433.3 L443.0,434.0 L444.3,434.5 L445.6,435.0 L446.9,435.3 L448.3,435.5 L449.6,435.5 L450.9,435.4 L452.2,435.2 L453.5,435.0 L454.8,434.8 L456.1,434.5"/>
<path d="M115.7,434.5 L117.1,434.3 L118.4,434.1 L119.7,433.9 L121.0,433.7 L122.3,433.4 L123.6,433.3 L124.9,433.1 L126.3,433.0 L127.6,432.9 L128.9,432.8 L130.2,432.8 L131.5,432.7 L132.8,432.6 L134.1,432.6 L135.5,432.5 L136.8,432.3 L138.1,432.2 L139.4,432.0 L140.7,431.8 L142.0,431.6 L143.3,431.4 L144.7,431.2 L146.0,431.0 L147.3,430.9 L148.6,430.8 L149.9,430.8 L151.2,430.9 L152.5,431.1 L153.9,431.4 L155.2,431.7 L156.5,432.1 L157.8,432.6 L159.1,433.1 L160.4,433.6 L161.7,434.1 L163.1,434.6 L164.4,435.0 L165.7,435.4 L167.0,435.6 L168.3,435.8 L169.6,435.8 L170.9,435.8 L172.3,435.6 L173.6,435.4 L174.9,435.2 L176.2,434.9 L177.5,434.6 L178.8,434.3 L180.1,434.0 L181.5,433.7 L182.8,433.5 L184.1,433.3 L185.4,433.1 L186.7,433.0 L188.0,433.0 L189.3,432.9 L190.7,432.9 L192.0,432.8 L193.3,432.8 L194.6,432.7 L195.9,432.6 L197.2,432.5 L198.5,432.3 L199.9,432.2 L201.2,432.0 L202.5,431.8 L203.8,431.6 L205.1,431.4 L206.4,431.3 L207.7,431.2 L209.1,431.1 L210.4,431.1 L211.7,431.2 L213.0,431.3 L214.3,431.5 L215.6,431.7 L216.9,431.9 L218.3,432.2 L219.6,432.5 L220.9,432.9 L222.2,433.2 L223.5,433.5 L224.8,433.8 L226.1,434.1 L227.5,434.3 L228.8,434.5 L230.1,434.7 L231.4,434.7 L232.7,434.7 L234.0,434.6 L235.3,434.4 L236.7,434.2 L238.0,434.0 L239.3,433.9 L240.6,433.8 L241.9,433.9 L243.2,434.0 L244.5,434.3 L245.9,434.5 L247.2,434.9 L248.5,435.4 L249.8,436.1 L251.1,437.1 L252.4,438.6 L253.7,440.6 L255.1,442.8 L256.4,444.5 L257.7,445.0 L259.0,443.7 L260.3,440.7 L261.6,436.6 L262.9,432.3 L264.3,428.3 L265.6,425.3 L266.9,423.6 L268.2,422.9 L269.5,423.2 L270.8,424.2 L272.1,425.3 L273.5,426.2 L274.8,426.9 L276.1,427.7 L277.4,428.7 L278.7,430.0 L280.0,431.5 L281.3,433.3 L282.7,434.9 L284.0,435.9 L285.3,436.5 L286.6,436.7 L287.9,436.8 L289.2,436.9 L290.5,437.1 L291.9,437.4 L293.2,437.7 L294.5,438.1 L295.8,438.1 L297.1,437.8 L298.4,437.0 L299.7,435.7 L301.1,434.0 L302.4,432.2 L303.7,430.6 L305.0,429.5 L306.3,429.1 L307.6,429.5 L308.9,430.7 L310.3,431.9 L311.6,432.7 L312.9,433.1 L314.2,433.1 L315.5,432.9 L316.8,432.7 L318.1,432.5 L319.5,432.6 L320.8,432.9 L322.1,433.2 L323.4,433.5 L324.7,433.6 L326.0,433.3 L327.3,432.9 L328.7,432.3 L330.0,431.8 L331.3,431.4 L332.6,431.3 L333.9,431.7 L335.2,432.2 L336.5,432.8 L337.9,433.4 L339.2,434.0 L340.5,434.5 L341.8,435.0 L343.1,435.4 L344.4,435.7 L345.7,436.0 L347.1,436.2 L348.4,436.2 L349.7,436.2 L351.0,436.0 L352.3,435.7 L353.6,435.3 L354.9,434.9 L356.3,434.4 L357.6,433.9 L358.9,433.3 L360.2,432.8 L361.5,432.4 L362.8,432.0 L364.1,431.7 L365.5,431.5 L366.8,431.4 L368.1,431.4 L369.4,431.5 L370.7,431.7 L372.0,431.9 L373.3,432.1 L374.7,432.3 L376.0,432.5 L377.3,432.7 L378.6,432.8 L379.9,432.9 L381.2,432.9 L382.5,432.8 L383.9,432.7 L385.2,432.5 L386.5,432.3 L387.8,432.1 L389.1,431.9 L390.4,431.8 L391.7,431.7 L393.1,431.6 L394.4,431.6 L395.7,431.7 L397.0,431.8 L398.3,432.0 L399.6,432.3 L400.9,432.6 L402.3,432.9 L403.6,433.2 L404.9,433.5 L406.2,433.8 L407.5,434.0 L408.8,434.2 L410.1,434.4 L411.5,434.5 L412.8,434.6 L414.1,434.6 L415.4,434.6 L416.7,434.6 L418.0,434.5 L419.3,434.4 L420.7,434.4 L422.0,434.3 L423.3,434.2 L424.6,434.2 L425.9,434.1 L427.2,434.0 L428.5,434.0 L429.9,433.9 L431.2,433.8 L432.5,433.7 L433.8,433.6 L435.1,433.5 L436.4,433.4 L437.7,433.2 L439.1,433.0 L440.4,432.9 L441.7,432.7 L443.0,432.5 L444.3,432.3 L445.6,432.1 L446.9,431.9 L448.3,431.7 L449.6,431.6 L450.9,431.5 L452.2,431.4 L453.5,431.4 L454.8,431.4 L456.1,431.4"/>
<path d="M115.7,431.6 L117.1,431.6 L118.4,431.6 L119.7,431.4 L121.0,431.3 L122.3,431.0 L123.6,430.8 L124.9,430.5 L126.3,430.3 L127.6,430.1 L128.9,429.9 L130.2,429.8 L131.5,429.9 L132.8,430.0 L134.1,430.2 L135.5,430.5 L136.8,430.9 L138.1,431.3 L139.4,431.7 L140.7,432.0 L142.0,432.3 L143.3,432.5 L144.7,432.6 L146.0,432.6 L147.3,432.5 L148.6,432.3 L149.9,432.1 L151.2,431.7 L152.5,431.4 L153.9,431.1 L155.2,430.8 L156.5,430.5 L157.8,430.4 L159.1,430.3 L160.4,430.4 L161.7,430.5 L163.1,430.8 L164.4,431.1 L165.7,431.5 L167.0,431.8 L168.3,432.2 L169.6,432.6 L170.9,432.8 L172.3,433.1 L173.6,433.2 L174.9,433.2 L176.2,433.1 L177.5,433.0 L178.8,432.7 L180.1,432.4 L181.5,432.1 L182.8,431.7 L184.1,431.4 L185.4,431.0 L186.7,430.7 L188.0,430.5 L189.3,430.3 L190.7,430.2 L192.0,430.1 L193.3,430.1 L194.6,430.2 L195.9,430.3 L197.2,430.5 L198.5,430.7 L199.9,430.9 L201.2,431.0 L202.5,431.2 L203.8,431.3 L205.1,431.5 L206.4,431.5 L207.7,431.6 L209.1,431.6 L210.4,431.6 L211.7,431.6 L213.0,431.6 L214.3,431.6 L215.6,431.6 L216.9,431.6 L218.3,431.7 L219.6,431.8 L220.9,431.9 L222.2,432.1 L223.5,432.2 L224.8,432.4 L226.1,432.5 L227.5,432.6 L228.8,432.7 L230.1,432.6 L231.4,432.5 L232.7,432.1 L234.0,431.7 L235.3,431.1 L236.7,430.5 L238.0,429.8 L239.3,429.2 L240.6,428.7 L241.9,428.4 L243.2,428.4 L244.5,428.6 L245.9,429.1 L247.2,429.8 L248.5,430.7 L249.8,431.9 L251.1,433.3 L252.4,435.1 L253.7,437.4 L255.1,440.1 L256.4,442.8 L257.7,444.8 L259.0,445.4 L260.3,444.1 L261.6,441.0 L262.9,437.0 L264.3,432.8 L265.6,429.0 L266.9,426.0 L268.2,424.2 L269.5,423.4 L270.8,423.4 L272.1,423.9 L273.5,424.3 L274.8,424.5 L276.1,424.6 L277.4,424.8 L278.7,425.3 L280.0,426.2 L281.3,427.4 L282.7,428.8 L284.0,430.2 L285.3,431.1 L286.6,431.5 L287.9,431.5 L289.2,431.4 L290.5,431.4 L291.9,431.7 L293.2,432.3 L294.5,433.1 L295.8,434.1 L297.1,434.9 L298.4,435.2 L299.7,435.0 L301.1,434.1 L302.4,432.9 L303.7,431.7 L305.0,430.9 L306.3,430.7 L307.6,431.4 L308.9,433.1 L310.3,435.5 L311.6,437.5 L312.9,438.5 L314.2,438.6 L315.5,437.8 L316.8,436.5 L318.1,434.9 L319.5,433.5 L320.8,432.3 L322.1,431.5 L323.4,431.0 L324.7,430.5 L326.0,429.8 L327.3,428.9 L328.7,428.0 L330.0,427.2 L331.3,426.6 L332.6,426.5 L333.9,426.8 L335.2,427.8 L336.5,429.0 L337.9,430.2 L339.2,431.2 L340.5,431.9 L341.8,432.4 L343.1,432.7 L344.4,432.8 L345.7,432.8 L347.1,432.6 L348.4,432.4 L349.7,432.1 L351.0,431.9 L352.3,431.7 L353.6,431.5 L354.9,431.4 L356.3,431.4 L357.6,431.5 L358.9,431.7 L360.2,431.8 L361.5,432.1 L362.8,432.3 L364.1,432.4 L365.5,432.6 L366.8,432.6 L368.1,432.6 L369.4,432.5 L370.7,432.3 L372.0,432.1 L373.3,431.8 L374.7,431.5 L376.0,431.2 L377.3,430.9 L378.6,430.7 L379.9,430.5 L381.2,430.3 L382.5,430.3 L383.9,430.3 L385.2,430.4 L386.5,430.5 L387.8,430.7 L389.1,431.0 L390.4,431.2 L391.7,431.4 L393.1,431.6 L394.4,431.8 L395.7,431.9 L397.0,432.0 L398.3,432.0 L399.6,432.0 L400.9,431.9 L402.3,431.7 L403.6,431.6 L404.9,431.4 L406.2,431.3 L407.5,431.2 L408.8,431.1 L410.1,431.1 L411.5,431.2 L412.8,431.3 L414.1,431.4 L415.4,431.6 L416.7,431.9 L418.0,432.1 L419.3,432.4 L420.7,432.6 L422.0,432.8 L423.3,432.8 L424.6,432.8 L425.9,432.6 L427.2,432.4 L428.5,432.0 L429.9,431.6 L431.2,431.1 L432.5,430.5 L433.8,430.0 L435.1,429.5 L436.4,429.2 L437.7,428.9 L439.1,428.8 L440.4,428.9 L441.7,429.2 L443.0,429.6 L444.3,430.2 L445.6,430.9 L446.9,431.6 L448.3,432.4 L449.6,433.1 L450.9,433.7 L452.2,434.2 L453.5,434.5 L454.8,434.5 L456.1,434.4"/>
<path d="M115.7,432.7 L117.1,432.9 L118.4,433.0 L119.7,433.0 L121.0,433.0 L122.3,433.0 L123.6,433.1 L124.9,433.3 L126.3,433.6 L127.6,433.9 L128.9,434.4 L130.2,434.9 L131.5,435.4 L132.8,435.9 L134.1,436.3 L135.5,436.6 L136.8,436.7 L138.1,436.6 L139.4,436.3 L140.7,435.9 L142.0,435.4 L143.3,434.8 L144.7,434.1 L146.0,433.4 L147.3,432.8 L148.6,432.3 L149.9,431.9 L151.2,431.7 L152.5,431.6 L153.9,431.6 L155.2,431.8 L156.5,432.0 L157.8,432.3 L159.1,432.6 L160.4,432.9 L161.7,433.2 L163.1,433.3 L164.4,433.4 L165.7,433.5 L167.0,433.4 L168.3,433.3 L169.6,433.1 L170.9,432.9 L172.3,432.7 L173.6,432.5 L174.9,432.4 L176.2,432.3 L177.5,432.3 L178.8,432.3 L180.1,432.3 L181.5,432.4 L182.8,432.5 L184.1,432.6 L185.4,432.7 L186.7,432.8 L188.0,432.9 L189.3,433.0 L190.7,433.0 L192.0,433.1 L193.3,433.1 L194.6,433.2 L195.9,433.3 L197.2,433.4 L198.5,433.6 L199.9,433.8 L201.2,434.1 L202.5,434.4 L203.8,434.8 L205.1,435.2 L206.4,435.7 L207.7,436.2 L209.1,436.7 L210.4,437.2 L211.7,437.7 L213.0,438.1 L214.3,438.4 L215.6,438.6 L216.9,438.6 L218.3,438.4 L219.6,438.0 L220.9,437.4 L222.2,436.6 L223.5,435.7 L224.8,434.5 L226.1,433.3 L227.5,432.0 L228.8,430.8 L230.1,429.6 L231.4,428.6 L232.7,427.7 L234.0,427.0 L235.3,426.6 L236.7,426.5 L238.0,426.7 L239.3,427.1 L240.6,427.8 L241.9,428.7 L243.2,429.9 L244.5,431.1 L245.9,432.3 L247.2,433.5 L248.5,434.5 L249.8,435.5 L251.1,436.5 L252.4,437.6 L253.7,439.0 L255.1,440.7 L256.4,442.6 L257.7,444.1 L259.0,444.7 L260.3,443.9 L261.6,441.6 L262.9,438.6 L264.3,435.5 L265.6,432.7 L266.9,430.6 L268.2,429.6 L269.5,429.3 L270.8,429.8 L272.1,430.5 L273.5,430.9 L274.8,430.9 L276.1,430.5 L277.4,429.7 L278.7,429.0 L280.0,428.5 L281.3,428.4 L282.7,428.5 L284.0,428.7 L285.3,428.9 L286.6,429.1 L287.9,429.3 L289.2,429.8 L290.5,430.6 L291.9,431.7 L293.2,433.1 L294.5,434.5 L295.8,435.9 L297.1,437.0 L298.4,437.7 L299.7,437.8 L301.1,437.3 L302.4,436.3 L303.7,435.1 L305.0,433.9 L306.3,432.9 L307.6,432.4 L308.9,432.5 L310.3,433.2 L311.6,434.0 L312.9,434.5 L314.2,434.7 L315.5,434.7 L316.8,434.5 L318.1,434.3 L319.5,434.2 L320.8,434.2 L322.1,434.4 L323.4,434.6 L324.7,434.7 L326.0,434.6 L327.3,434.2 L328.7,433.6 L330.0,433.0 L331.3,432.4 L332.6,431.9 L333.9,431.7 L335.2,431.9 L336.5,432.3 L337.9,432.7 L339.2,433.3 L340.5,433.8 L341.8,434.2 L343.1,434.7 L344.4,435.1 L345.7,435.4 L347.1,435.7 L348.4,435.9 L349.7,436.0 L351.0,436.0 L352.3,435.8 L353.6,435.6 L354.9,435.2 L356.3,434.7 L357.6,434.2 L358.9,433.5 L360.2,432.9 L361.5,432.3 L362.8,431.7 L364.1,431.1 L365.5,430.7 L366.8,430.5 L368.1,430.4 L369.4,430.4 L370.7,430.7 L372.0,431.1 L373.3,431.6 L374.7,432.3 L376.0,432.9 L377.3,433.6 L378.6,434.2 L379.9,434.8 L381.2,435.2 L382.5,435.4 L383.9,435.5 L385.2,435.5 L386.5,435.3 L387.8,435.0 L389.1,434.7 L390.4,434.4 L391.7,434.2 L393.1,434.1 L394.4,434.1 L395.7,434.3 L397.0,434.5 L398.3,434.9 L399.6,435.4 L400.9,435.8 L402.3,436.2 L403.6,436.5 L404.9,436.5 L406.2,436.3 L407.5,435.9 L408.8,435.2 L410.1,434.3 L411.5,433.2 L412.8,432.0 L414.1,430.7 L415.4,429.5 L416.7,428.5 L418.0,427.7 L419.3,427.2 L420.7,427.0 L422.0,427.2 L423.3,427.7 L424.6,428.5 L425.9,429.5 L427.2,430.6 L428.5,431.7 L429.9,432.8 L431.2,433.8 L432.5,434.5 L433.8,435.1 L435.1,435.3 L436.4,435.4 L437.7,435.2 L439.1,435.0 L440.4,434.6 L441.7,434.2 L443.0,433.8 L444.3,433.6 L445.6,433.5 L446.9,433.6 L448.3,433.9 L449.6,434.2 L450.9,434.7 L452.2,435.3 L453.5,435.8 L454.8,436.3 L456.1,436.7"/>
<path d="M115.7,438.6 L117.1,438.7 L118.4,438.7 L119.7,438.5 L121.0,438.1 L122.3,437.5 L123.6,436.7 L124.9,435.8 L126.3,435.0 L127.6,434.1 L128.9,433.4 L130.2,432.9 L131.5,432.7 L132.8,432.8 L134.1,433.2 L135.5,433.9 L136.8,434.8 L138.1,435.9 L139.4,437.0 L140.7,438.1 L142.0,439.1 L143.3,439.8 L144.7,440.3 L146.0,440.3 L147.3,440.1 L148.6,439.4 L149.9,438.5 L151.2,437.3 L152.5,436.1 L153.9,434.8 L155.2,433.7 L156.5,432.9 L157.8,432.3 L159.1,432.2 L160.4,432.5 L161.7,433.2 L163.1,434.2 L164.4,435.6 L165.7,437.1 L167.0,438.6 L168.3,440.0 L169.6,441.2 L170.9,442.1 L172.3,442.5 L173.6,442.5 L174.9,442.0 L176.2,441.0 L177.5,439.7 L178.8,438.1 L180.1,436.4 L181.5,434.6 L182.8,433.0 L184.1,431.6 L185.4,430.5 L186.7,429.9 L188.0,429.7 L189.3,429.9 L190.7,430.6 L192.0,431.7 L193.3,433.0 L194.6,434.5 L195.9,436.0 L197.2,437.5 L198.5,438.7 L199.9,439.7 L201.2,440.4 L202.5,440.8 L203.8,440.7 L205.1,440.4 L206.4,439.8 L207.7,439.1 L209.1,438.2 L210.4,437.3 L211.7,436.5 L213.0,435.8 L214.3,435.3 L215.6,435.1 L216.9,435.1 L218.3,435.3 L219.6,435.8 L220.9,436.4 L222.2,437.1 L223.5,437.9 L224.8,438.6 L226.1,439.2 L227.5,439.6 L228.8,439.9 L230.1,439.9 L231.4,439.7 L232.7,439.2 L234.0,438.5 L235.3,437.6 L236.7,436.6 L238.0,435.5 L239.3,434.5 L240.6,433.5 L241.9,432.8 L243.2,432.3 L244.5,432.2 L245.9,432.4 L247.2,432.7 L248.5,433.4 L249.8,434.2 L251.1,435.3 L252.4,436.6 L253.7,438.2 L255.1,440.2 L256.4,442.4 L257.7,444.4 L259.0,445.6 L260.3,445.5 L261.6,443.9 L262.9,441.1 L264.3,438.0 L265.6,434.9 L266.9,432.5 L268.2,431.0 L269.5,430.5 L270.8,430.9 L272.1,432.0 L273.5,433.4 L274.8,434.7 L276.1,435.6 L277.4,436.4 L278.7,437.1 L280.0,437.9 L281.3,438.8 L282.7,439.7 L284.0,440.2 L285.3,440.3 L286.6,439.9 L287.9,439.1 L289.2,438.2 L290.5,437.4 L291.9,436.6 L293.2,436.1 L294.5,435.8 L295.8,435.7 L297.1,435.7 L298.4,435.8 L299.7,435.7 L301.1,435.5 L302.4,435.2 L303.7,434.8 L305.0,434.4 L306.3,434.2 L307.6,434.3 L308.9,434.6 L310.3,435.4 L311.6,436.2 L312.9,436.8 L314.2,437.1 L315.5,437.2 L316.8,437.1 L318.1,437.0 L319.5,437.0 L320.8,437.2 L322.1,437.5 L323.4,438.0 L324.7,438.6 L326.0,439.0 L327.3,439.2 L328.7,439.2 L330.0,438.9 L331.3,438.5 L332.6,437.9 L333.9,437.4 L335.2,436.8 L336.5,436.4 L337.9,436.0 L339.2,435.6 L340.5,435.3 L341.8,435.1 L343.1,435.1 L344.4,435.4 L345.7,435.8 L347.1,436.3 L348.4,437.0 L349.7,437.8 L351.0,438.5 L352.3,439.1 L353.6,439.4 L354.9,439.4 L356.3,439.0 L357.6,438.3 L358.9,437.1 L360.2,435.7 L361.5,434.0 L362.8,432.2 L364.1,430.5 L365.5,429.0 L366.8,427.8 L368.1,427.1 L369.4,427.0 L370.7,427.6 L372.0,428.8 L373.3,430.6 L374.7,432.9 L376.0,435.5 L377.3,438.3 L378.6,441.0 L379.9,443.4 L381.2,445.3 L382.5,446.7 L383.9,447.3 L385.2,447.1 L386.5,446.1 L387.8,444.3 L389.1,442.0 L390.4,439.3 L391.7,436.4 L393.1,433.5 L394.4,430.9 L395.7,428.8 L397.0,427.3 L398.3,426.5 L399.6,426.5 L400.9,427.4 L402.3,428.9 L403.6,430.9 L404.9,433.3 L406.2,435.9 L407.5,438.5 L408.8,440.8 L410.1,442.7 L411.5,444.0 L412.8,444.7 L414.1,444.7 L415.4,444.1 L416.7,443.0 L418.0,441.5 L419.3,439.7 L420.7,437.9 L422.0,436.2 L423.3,434.8 L424.6,433.8 L425.9,433.2 L427.2,433.1 L428.5,433.5 L429.9,434.2 L431.2,435.2 L432.5,436.4 L433.8,437.7 L435.1,438.8 L436.4,439.6 L437.7,440.2 L439.1,440.3 L440.4,440.0 L441.7,439.4 L443.0,438.4 L444.3,437.1 L445.6,435.7 L446.9,434.3 L448.3,433.0 L449.6,431.9 L450.9,431.1 L452.2,430.5 L453.5,430.4 L454.8,430.5 L456.1,431.0"/>
<path d="M115.7,432.3 L117.1,431.7 L118.4,431.1 L119.7,430.8 L121.0,430.6 L122.3,430.6 L123.6,430.8 L124.9,431.1 L126.3,431.5 L127.6,432.0 L128.9,432.5 L130.2,433.0 L131.5,433.4 L132.8,433.8 L134.1,434.0 L135.5,434.2 L136.8,434.3 L138.1,434.3 L139.4,434.4 L140.7,434.5 L142.0,434.6 L143.3,434.7 L144.7,434.9 L146.0,435.0 L147.3,435.2 L148.6,435.4 L149.9,435.5 L151.2,435.5 L152.5,435.5 L153.9,435.3 L155.2,435.1 L156.5,434.8 L157.8,434.5 L159.1,434.2 L160.4,434.0 L161.7,433.9 L163.1,433.9 L164.4,434.0 L165.7,434.2 L167.0,434.5 L168.3,434.8 L169.6,435.1 L170.9,435.3 L172.3,435.4 L173.6,435.3 L174.9,435.1 L176.2,434.7 L177.5,434.2 L178.8,433.6 L180.1,432.9 L181.5,432.3 L182.8,431.7 L184.1,431.3 L185.4,431.1 L186.7,431.1 L188.0,431.3 L189.3,431.6 L190.7,432.1 L192.0,432.6 L193.3,433.1 L194.6,433.5 L195.9,433.8 L197.2,434.0 L198.5,434.0 L199.9,433.8 L201.2,433.5 L202.5,433.2 L203.8,432.8 L205.1,432.5 L206.4,432.4 L207.7,432.3 L209.1,432.4 L210.4,432.7 L211.7,433.1 L213.0,433.6 L214.3,434.1 L215.6,434.6 L216.9,434.9 L218.3,435.1 L219.6,435.1 L220.9,435.0 L222.2,434.6 L223.5,434.2 L224.8,433.6 L226.1,433.0 L227.5,432.5 L228.8,432.0 L230.1,431.7 L231.4,431.5 L232.7,431.4 L234.0,431.5 L235.3,431.7 L236.7,432.0 L238.0,432.3 L239.3,432.6 L240.6,433.0 L241.9,433.4 L243.2,433.9 L244.5,434.2 L245.9,434.5 L247.2,434.8 L248.5,435.2 L249.8,435.8 L251.1,436.6 L252.4,437.8 L253.7,439.5 L255.1,441.4 L256.4,443.1 L257.7,443.9 L259.0,443.3 L260.3,441.3 L261.6,438.3 L262.9,435.0 L264.3,432.0 L265.6,429.6 L266.9,428.1 L268.2,427.5 L269.5,427.6 L270.8,428.2 L272.1,428.7 L273.5,429.0 L274.8,429.0 L276.1,429.0 L277.4,429.1 L278.7,429.4 L280.0,430.1 L281.3,431.2 L282.7,432.3 L284.0,433.2 L285.3,434.0 L286.6,434.6 L287.9,435.3 L289.2,436.1 L290.5,437.0 L291.9,437.9 L293.2,438.8 L294.5,439.5 L295.8,439.8 L297.1,439.5 L298.4,438.6 L299.7,437.0 L301.1,435.0 L302.4,432.7 L303.7,430.5 L305.0,428.6 L306.3,427.4 L307.6,427.0 L308.9,427.5 L310.3,428.6 L311.6,429.9 L312.9,431.3 L314.2,432.8 L315.5,434.3 L316.8,435.8 L318.1,437.2 L319.5,438.5 L320.8,439.5 L322.1,440.1 L323.4,440.1 L324.7,439.5 L326.0,438.2 L327.3,436.5 L328.7,434.5 L330.0,432.5 L331.3,430.6 L332.6,429.3 L333.9,428.5 L335.2,428.4 L336.5,428.7 L337.9,429.4 L339.2,430.4 L340.5,431.6 L341.8,432.7 L343.1,433.7 L344.4,434.5 L345.7,435.0 L347.1,435.2 L348.4,435.1 L349.7,434.6 L351.0,434.0 L352.3,433.3 L353.6,432.7 L354.9,432.1 L356.3,431.9 L357.6,431.9 L358.9,432.2 L360.2,432.8 L361.5,433.7 L362.8,434.7 L364.1,435.7 L365.5,436.6 L366.8,437.2 L368.1,437.6 L369.4,437.7 L370.7,437.4 L372.0,436.8 L373.3,436.0 L374.7,434.9 L376.0,433.8 L377.3,432.8 L378.6,431.9 L379.9,431.2 L381.2,430.7 L382.5,430.6 L383.9,430.7 L385.2,431.1 L386.5,431.6 L387.8,432.2 L389.1,432.8 L390.4,433.3 L391.7,433.7 L393.1,433.9 L394.4,433.8 L395.7,433.6 L397.0,433.2 L398.3,432.7 L399.6,432.1 L400.9,431.6 L402.3,431.1 L403.6,430.8 L404.9,430.7 L406.2,430.9 L407.5,431.2 L408.8,431.8 L410.1,432.6 L411.5,433.5 L412.8,434.5 L414.1,435.4 L415.4,436.3 L416.7,437.1 L418.0,437.7 L419.3,438.0 L420.7,438.1 L422.0,437.9 L423.3,437.4 L424.6,436.8 L425.9,436.0 L427.2,435.1 L428.5,434.2 L429.9,433.3 L431.2,432.6 L432.5,432.0 L433.8,431.6 L435.1,431.5 L436.4,431.6 L437.7,432.0 L439.1,432.5 L440.4,433.1 L441.7,433.7 L443.0,434.3 L444.3,434.7 L445.6,435.0 L446.9,435.1 L448.3,434.9 L449.6,434.5 L450.9,433.9 L452.2,433.2 L453.5,432.4 L454.8,431.5 L456.1,430.8"/>
<path d="M115.7,437.3 L117.1,437.7 L118.4,438.1 L119.7,438.5 L121.0,438.9 L122.3,439.2 L123.6,439.5 L124.9,439.7 L126.3,439.7 L127.6,439.7 L128.9,439.5 L130.2,439.3 L131.5,438.9 L132.8,438.5 L134.1,438.0 L135.5,437.5 L136.8,437.0 L138.1,436.6 L139.4,436.3 L140.7,436.1 L142.0,436.0 L143.3,436.0 L144.7,436.1 L146.0,436.3 L147.3,436.6 L148.6,437.0 L149.9,437.4 L151.2,437.8 L152.5,438.2 L153.9,438.5 L155.2,438.7 L156.5,438.9 L157.8,438.9 L159.1,438.9 L160.4,438.8 L161.7,438.6 L163.1,438.3 L164.4,438.1 L165.7,437.8 L167.0,437.6 L168.3,437.3 L169.6,437.2 L170.9,437.0 L172.3,437.0 L173.6,437.0 L174.9,437.0 L176.2,437.1 L177.5,437.2 L178.8,437.2 L180.1,437.3 L181.5,437.3 L182.8,437.3 L184.1,437.2 L185.4,437.1 L186.7,437.0 L188.0,436.8 L189.3,436.6 L190.7,436.4 L192.0,436.3 L193.3,436.2 L194.6,436.1 L195.9,436.2 L197.2,436.4 L198.5,436.6 L199.9,437.0 L201.2,437.4 L202.5,437.9 L203.8,438.5 L205.1,439.0 L206.4,439.6 L207.7,440.1 L209.1,440.5 L210.4,440.8 L211.7,440.9 L213.0,441.0 L214.3,440.9 L215.6,440.7 L216.9,440.4 L218.3,440.0 L219.6,439.4 L220.9,438.9 L222.2,438.3 L223.5,437.7 L224.8,437.1 L226.1,436.6 L227.5,436.2 L228.8,435.8 L230.1,435.5 L231.4,435.3 L232.7,435.1 L234.0,435.0 L235.3,434.9 L236.7,434.8 L238.0,434.8 L239.3,434.9 L240.6,435.1 L241.9,435.4 L243.2,435.9 L244.5,436.5 L245.9,437.2 L247.2,438.0 L248.5,438.8 L249.8,439.7 L251.1,440.8 L252.4,442.2 L253.7,444.0 L255.1,446.3 L256.4,448.6 L257.7,450.5 L259.0,451.1 L260.3,449.9 L261.6,447.0 L262.9,443.1 L264.3,439.1 L265.6,435.3 L266.9,432.5 L268.2,430.7 L269.5,429.9 L270.8,430.0 L272.1,430.5 L273.5,430.9 L274.8,431.0 L276.1,430.8 L277.4,430.6 L278.7,430.6 L280.0,431.0 L281.3,431.7 L282.7,432.8 L284.0,433.8 L285.3,434.6 L286.6,435.1 L287.9,435.5 L289.2,435.9 L290.5,436.6 L291.9,437.6 L293.2,438.9 L294.5,440.4 L295.8,441.9 L297.1,443.2 L298.4,444.0 L299.7,444.1 L301.1,443.6 L302.4,442.6 L303.7,441.3 L305.0,440.0 L306.3,439.1 L307.6,438.7 L308.9,439.0 L310.3,439.9 L311.6,440.8 L312.9,441.0 L314.2,440.6 L315.5,439.8 L316.8,438.8 L318.1,437.8 L319.5,437.1 L320.8,436.7 L322.1,436.7 L323.4,437.1 L324.7,437.4 L326.0,437.7 L327.3,437.7 L328.7,437.5 L330.0,437.3 L331.3,437.0 L332.6,436.9 L333.9,436.9 L335.2,437.3 L336.5,437.7 L337.9,438.0 L339.2,438.1 L340.5,438.0 L341.8,437.7 L343.1,437.3 L344.4,436.8 L345.7,436.3 L347.1,435.8 L348.4,435.3 L349.7,435.0 L351.0,434.8 L352.3,434.8 L353.6,434.9 L354.9,435.2 L356.3,435.6 L357.6,436.2 L358.9,436.8 L360.2,437.4 L361.5,438.1 L362.8,438.7 L364.1,439.2 L365.5,439.6 L366.8,439.9 L368.1,440.1 L369.4,440.1 L370.7,440.0 L372.0,439.8 L373.3,439.6 L374.7,439.2 L376.0,438.9 L377.3,438.5 L378.6,438.3 L379.9,438.0 L381.2,437.9 L382.5,437.9 L383.9,437.9 L385.2,438.0 L386.5,438.2 L387.8,438.4 L389.1,438.6 L390.4,438.8 L391.7,439.0 L393.1,439.0 L394.4,439.0 L395.7,438.8 L397.0,438.6 L398.3,438.3 L399.6,437.9 L400.9,437.4 L402.3,436.9 L403.6,436.5 L404.9,436.1 L406.2,435.8 L407.5,435.5 L408.8,435.4 L410.1,435.4 L411.5,435.6 L412.8,435.8 L414.1,436.1 L415.4,436.5 L416.7,436.9 L418.0,437.3 L419.3,437.6 L420.7,437.8 L422.0,438.0 L423.3,438.1 L424.6,438.0 L425.9,437.9 L427.2,437.7 L428.5,437.4 L429.9,437.1 L431.2,436.8 L432.5,436.6 L433.8,436.4 L435.1,436.4 L436.4,436.5 L437.7,436.7 L439.1,437.1 L440.4,437.6 L441.7,438.1 L443.0,438.8 L444.3,439.4 L445.6,440.0 L446.9,440.6 L448.3,441.1 L449.6,441.4 L450.9,441.5 L452.2,441.4 L453.5,441.2 L454.8,440.7 L456.1,440.1"/>
<path d="M115.7,513.1 L117.1,512.2 L118.4,511.3 L119.7,510.5 L121.0,509.7 L122.3,508.9 L123.6,508.3 L124.9,507.7 L126.3,507.3 L127.6,507.0 L128.9,506.8 L130.2,506.8 L131.5,506.9 L132.8,507.1 L134.1,507.4 L135.5,507.8 L136.8,508.2 L138.1,508.7 L139.4,509.3 L140.7,509.9 L142.0,510.5 L143.3,511.1 L144.7,511.7 L146.0,512.2 L147.3,512.8 L148.6,513.3 L149.9,513.7 L151.2,514.1 L152.5,514.4 L153.9,514.7 L155.2,514.9 L156.5,515.0 L157.8,515.1 L159.1,515.1 L160.4,515.0 L161.7,514.9 L163.1,514.7 L164.4,514.4 L165.7,514.0 L167.0,513.6 L168.3,513.2 L169.6,512.7 L170.9,512.2 L172.3,511.6 L173.6,511.0 L174.9,510.4 L176.2,509.8 L177.5,509.3 L178.8,508.7 L180.1,508.3 L181.5,507.9 L182.8,507.5 L184.1,507.3 L185.4,507.2 L186.7,507.1 L188.0,507.2 L189.3,507.4 L190.7,507.7 L192.0,508.1 L193.3,508.7 L194.6,509.3 L195.9,510.0 L197.2,510.7 L198.5,511.5 L199.9,512.3 L201.2,513.1 L202.5,513.8 L203.8,514.6 L205.1,515.2 L206.4,515.8 L207.7,516.3 L209.1,516.6 L210.4,516.9 L211.7,517.0 L213.0,517.0 L214.3,516.8 L215.6,516.5 L216.9,516.0 L218.3,515.5 L219.6,514.8 L220.9,514.0 L222.2,513.2 L223.5,512.3 L224.8,511.3 L226.1,510.4 L227.5,509.4 L228.8,508.5 L230.1,507.6 L231.4,506.7 L232.7,505.9 L234.0,505.2 L235.3,504.6 L236.7,504.2 L238.0,503.9 L239.3,504.0 L240.6,504.3 L241.9,505.1 L243.2,506.1 L244.5,507.4 L245.9,508.8 L247.2,510.4 L248.5,512.1 L249.8,514.1 L251.1,516.3 L252.4,518.9 L253.7,521.8 L255.1,524.7 L256.4,526.9 L257.7,527.7 L259.0,526.6 L260.3,523.6 L261.6,519.7 L262.9,515.8 L264.3,512.2 L265.6,509.6 L266.9,508.1 L268.2,507.5 L269.5,507.7 L270.8,508.1 L272.1,508.1 L273.5,507.6 L274.8,506.6 L276.1,505.5 L277.4,504.4 L278.7,503.7 L280.0,503.3 L281.3,503.3 L282.7,503.2 L284.0,503.0 L285.3,502.5 L286.6,502.2 L287.9,502.1 L289.2,502.5 L290.5,503.4 L291.9,504.8 L293.2,506.5 L294.5,508.4 L295.8,510.2 L297.1,511.8 L298.4,513.0 L299.7,513.7 L301.1,514.1 L302.4,514.2 L303.7,514.4 L305.0,514.8 L306.3,515.6 L307.6,516.9 L308.9,518.4 L310.3,519.7 L311.6,520.2 L312.9,520.1 L314.2,519.4 L315.5,518.4 L316.8,517.2 L318.1,516.0 L319.5,515.0 L320.8,514.1 L322.1,513.4 L323.4,512.7 L324.7,511.8 L326.0,510.8 L327.3,509.7 L328.7,508.7 L330.0,507.8 L331.3,507.2 L332.6,507.0 L333.9,507.2 L335.2,507.7 L336.5,508.3 L337.9,508.9 L339.2,509.5 L340.5,510.0 L341.8,510.6 L343.1,511.1 L344.4,511.5 L345.7,511.9 L347.1,512.3 L348.4,512.6 L349.7,512.8 L351.0,513.0 L352.3,513.0 L353.6,513.0 L354.9,512.9 L356.3,512.7 L357.6,512.5 L358.9,512.2 L360.2,511.8 L361.5,511.5 L362.8,511.1 L364.1,510.7 L365.5,510.3 L366.8,510.0 L368.1,509.7 L369.4,509.5 L370.7,509.3 L372.0,509.2 L373.3,509.2 L374.7,509.4 L376.0,509.5 L377.3,509.8 L378.6,510.2 L379.9,510.6 L381.2,511.1 L382.5,511.7 L383.9,512.2 L385.2,512.8 L386.5,513.3 L387.8,513.8 L389.1,514.2 L390.4,514.6 L391.7,514.8 L393.1,515.0 L394.4,515.0 L395.7,514.9 L397.0,514.6 L398.3,514.3 L399.6,513.8 L400.9,513.3 L402.3,512.6 L403.6,511.9 L404.9,511.2 L406.2,510.5 L407.5,509.8 L408.8,509.1 L410.1,508.5 L411.5,508.0 L412.8,507.7 L414.1,507.5 L415.4,507.4 L416.7,507.4 L418.0,507.7 L419.3,508.0 L420.7,508.5 L422.0,509.1 L423.3,509.8 L424.6,510.5 L425.9,511.3 L427.2,512.1 L428.5,512.9 L429.9,513.6 L431.2,514.3 L432.5,514.9 L433.8,515.4 L435.1,515.7 L436.4,516.0 L437.7,516.1 L439.1,516.0 L440.4,515.8 L441.7,515.5 L443.0,515.1 L444.3,514.6 L445.6,514.0 L446.9,513.4 L448.3,512.7 L449.6,512.0 L450.9,511.3 L452.2,510.6 L453.5,509.9 L454.8,509.3 L456.1,508.7"/>
<path d="M115.7,513.9 L117.1,513.8 L118.4,513.7 L119.7,513.5 L121.0,513.4 L122.3,513.2 L123.6,513.1 L124.9,512.9 L126.3,512.8 L127.6,512.7 L128.9,512.6 L130.2,512.5 L131.5,512.5 L132.8,512.4 L134.1,512.4 L135.5,512.3 L136.8,512.3 L138.1,512.3 L139.4,512.3 L140.7,512.3 L142.0,512.3 L143.3,512.3 L144.7,512.4 L146.0,512.5 L147.3,512.6 L148.6,512.8 L149.9,513.0 L151.2,513.2 L152.5,513.4 L153.9,513.7 L155.2,514.0 L156.5,514.2 L157.8,514.5 L159.1,514.7 L160.4,514.9 L161.7,515.0 L163.1,515.1 L164.4,515.1 L165.7,515.0 L167.0,514.9 L168.3,514.6 L169.6,514.4 L170.9,514.0 L172.3,513.6 L173.6,513.2 L174.9,512.8 L176.2,512.4 L177.5,512.0 L178.8,511.6 L180.1,511.3 L181.5,511.1 L182.8,510.9 L184.1,510.8 L185.4,510.9 L186.7,511.0 L188.0,511.1 L189.3,511.4 L190.7,511.6 L192.0,511.9 L193.3,512.3 L194.6,512.5 L195.9,512.8 L197.2,513.0 L198.5,513.2 L199.9,513.3 L201.2,513.3 L202.5,513.2 L203.8,513.1 L205.1,512.9 L206.4,512.8 L207.7,512.6 L209.1,512.4 L210.4,512.3 L211.7,512.3 L213.0,512.3 L214.3,512.4 L215.6,512.6 L216.9,512.9 L218.3,513.3 L219.6,513.6 L220.9,514.0 L222.2,514.4 L223.5,514.8 L224.8,515.1 L226.1,515.3 L227.5,515.4 L228.8,515.4 L230.1,515.2 L231.4,515.0 L232.7,514.6 L234.0,514.0 L235.3,513.4 L236.7,512.8 L238.0,512.2 L239.3,511.6 L240.6,511.2 L241.9,511.0 L243.2,511.1 L244.5,511.4 L245.9,511.9 L247.2,512.6 L248.5,513.4 L249.8,514.3 L251.1,515.4 L252.4,516.8 L253.7,518.5 L255.1,520.8 L256.4,523.2 L257.7,525.3 L259.0,526.3 L260.3,525.5 L261.6,522.7 L262.9,518.5 L264.3,513.9 L265.6,509.4 L266.9,505.8 L268.2,503.4 L269.5,502.3 L270.8,502.3 L272.1,503.3 L273.5,504.5 L274.8,505.7 L276.1,506.7 L277.4,507.7 L278.7,508.9 L280.0,510.2 L281.3,511.7 L282.7,513.4 L284.0,514.9 L285.3,515.9 L286.6,516.2 L287.9,516.0 L289.2,515.4 L290.5,514.9 L291.9,514.5 L293.2,514.5 L294.5,514.9 L295.8,515.4 L297.1,515.9 L298.4,516.2 L299.7,515.9 L301.1,515.0 L302.4,513.7 L303.7,512.2 L305.0,510.9 L306.3,510.2 L307.6,510.2 L308.9,511.3 L310.3,513.3 L311.6,515.6 L312.9,517.1 L314.2,517.6 L315.5,517.5 L316.8,516.8 L318.1,515.9 L319.5,515.0 L320.8,514.4 L322.1,514.2 L323.4,514.3 L324.7,514.5 L326.0,514.6 L327.3,514.3 L328.7,513.8 L330.0,513.2 L331.3,512.6 L332.6,512.1 L333.9,512.0 L335.2,512.3 L336.5,512.9 L337.9,513.5 L339.2,513.9 L340.5,514.1 L341.8,514.0 L343.1,513.8 L344.4,513.3 L345.7,512.8 L347.1,512.3 L348.4,511.7 L349.7,511.2 L351.0,510.7 L352.3,510.3 L353.6,510.1 L354.9,510.0 L356.3,509.9 L357.6,510.1 L358.9,510.3 L360.2,510.6 L361.5,511.1 L362.8,511.5 L364.1,512.0 L365.5,512.5 L366.8,513.0 L368.1,513.5 L369.4,513.9 L370.7,514.2 L372.0,514.5 L373.3,514.8 L374.7,514.9 L376.0,515.1 L377.3,515.1 L378.6,515.2 L379.9,515.1 L381.2,515.1 L382.5,515.1 L383.9,515.0 L385.2,514.9 L386.5,514.8 L387.8,514.6 L389.1,514.5 L390.4,514.3 L391.7,514.1 L393.1,513.9 L394.4,513.6 L395.7,513.4 L397.0,513.1 L398.3,512.9 L399.6,512.6 L400.9,512.4 L402.3,512.1 L403.6,511.9 L404.9,511.7 L406.2,511.6 L407.5,511.4 L408.8,511.3 L410.1,511.3 L411.5,511.2 L412.8,511.2 L414.1,511.3 L415.4,511.4 L416.7,511.5 L418.0,511.6 L419.3,511.7 L420.7,511.9 L422.0,512.1 L423.3,512.3 L424.6,512.5 L425.9,512.7 L427.2,512.9 L428.5,513.1 L429.9,513.3 L431.2,513.5 L432.5,513.7 L433.8,513.9 L435.1,514.1 L436.4,514.3 L437.7,514.5 L439.1,514.6 L440.4,514.8 L441.7,514.9 L443.0,514.9 L444.3,514.9 L445.6,514.9 L446.9,514.8 L448.3,514.6 L449.6,514.3 L450.9,514.0 L452.2,513.6 L453.5,513.1 L454.8,512.6 L456.1,512.0"/>
<path d="M115.7,516.1 L117.1,516.5 L118.4,516.8 L119.7,516.9 L121.0,516.8 L122.3,516.6 L123.6,516.3 L124.9,515.9 L126.3,515.4 L127.6,514.9 L128.9,514.4 L130.2,513.8 L131.5,513.3 L132.8,512.9 L134.1,512.6 L135.5,512.4 L136.8,512.3 L138.1,512.3 L139.4,512.4 L140.7,512.7 L142.0,513.0 L143.3,513.4 L144.7,513.9 L146.0,514.4 L147.3,514.9 L148.6,515.4 L149.9,515.9 L151.2,516.3 L152.5,516.7 L153.9,516.9 L155.2,517.0 L156.5,517.1 L157.8,516.9 L159.1,516.7 L160.4,516.3 L161.7,515.8 L163.1,515.2 L164.4,514.6 L165.7,513.9 L167.0,513.1 L168.3,512.4 L169.6,511.6 L170.9,511.0 L172.3,510.4 L173.6,510.0 L174.9,509.7 L176.2,509.6 L177.5,509.7 L178.8,509.9 L180.1,510.3 L181.5,510.9 L182.8,511.6 L184.1,512.5 L185.4,513.4 L186.7,514.4 L188.0,515.4 L189.3,516.3 L190.7,517.2 L192.0,517.9 L193.3,518.4 L194.6,518.8 L195.9,519.0 L197.2,519.0 L198.5,518.7 L199.9,518.3 L201.2,517.7 L202.5,517.0 L203.8,516.2 L205.1,515.4 L206.4,514.6 L207.7,513.8 L209.1,513.0 L210.4,512.4 L211.7,512.0 L213.0,511.7 L214.3,511.5 L215.6,511.5 L216.9,511.7 L218.3,512.0 L219.6,512.4 L220.9,512.8 L222.2,513.2 L223.5,513.7 L224.8,514.1 L226.1,514.4 L227.5,514.7 L228.8,514.8 L230.1,514.8 L231.4,514.7 L232.7,514.5 L234.0,514.1 L235.3,513.7 L236.7,513.2 L238.0,512.8 L239.3,512.5 L240.6,512.4 L241.9,512.5 L243.2,512.9 L244.5,513.5 L245.9,514.2 L247.2,515.0 L248.5,516.0 L249.8,517.1 L251.1,518.4 L252.4,520.1 L253.7,522.2 L255.1,524.6 L256.4,526.9 L257.7,528.1 L259.0,527.7 L260.3,525.2 L261.6,521.2 L262.9,516.6 L264.3,512.0 L265.6,508.0 L266.9,505.2 L268.2,503.5 L269.5,502.9 L270.8,503.2 L272.1,503.9 L273.5,504.7 L274.8,505.4 L276.1,506.1 L277.4,507.3 L278.7,508.9 L280.0,511.0 L281.3,513.4 L282.7,515.9 L284.0,518.1 L285.3,519.8 L286.6,520.8 L287.9,521.4 L289.2,521.6 L290.5,521.9 L291.9,522.2 L293.2,522.6 L294.5,522.9 L295.8,522.9 L297.1,522.3 L298.4,520.8 L299.7,518.5 L301.1,515.4 L302.4,511.9 L303.7,508.7 L305.0,506.2 L306.3,504.7 L307.6,504.6 L308.9,506.1 L310.3,508.4 L311.6,510.4 L312.9,511.7 L314.2,512.4 L315.5,512.8 L316.8,513.0 L318.1,513.4 L319.5,514.0 L320.8,515.0 L322.1,516.3 L323.4,517.6 L324.7,518.6 L326.0,518.9 L327.3,518.7 L328.7,518.0 L330.0,517.1 L331.3,516.2 L332.6,515.5 L333.9,515.3 L335.2,515.4 L336.5,515.6 L337.9,515.8 L339.2,515.8 L340.5,515.7 L341.8,515.5 L343.1,515.3 L344.4,515.1 L345.7,515.0 L347.1,514.9 L348.4,515.0 L349.7,515.0 L351.0,515.1 L352.3,515.3 L353.6,515.4 L354.9,515.5 L356.3,515.6 L357.6,515.6 L358.9,515.6 L360.2,515.4 L361.5,515.1 L362.8,514.8 L364.1,514.3 L365.5,513.7 L366.8,513.0 L368.1,512.3 L369.4,511.6 L370.7,510.9 L372.0,510.2 L373.3,509.6 L374.7,509.2 L376.0,508.9 L377.3,508.7 L378.6,508.8 L379.9,509.1 L381.2,509.6 L382.5,510.4 L383.9,511.3 L385.2,512.3 L386.5,513.5 L387.8,514.7 L389.1,516.0 L390.4,517.2 L391.7,518.3 L393.1,519.2 L394.4,519.9 L395.7,520.4 L397.0,520.7 L398.3,520.6 L399.6,520.4 L400.9,519.8 L402.3,519.1 L403.6,518.1 L404.9,517.1 L406.2,515.9 L407.5,514.8 L408.8,513.7 L410.1,512.8 L411.5,511.9 L412.8,511.3 L414.1,510.9 L415.4,510.6 L416.7,510.6 L418.0,510.8 L419.3,511.2 L420.7,511.7 L422.0,512.2 L423.3,512.8 L424.6,513.3 L425.9,513.8 L427.2,514.2 L428.5,514.4 L429.9,514.5 L431.2,514.4 L432.5,514.1 L433.8,513.8 L435.1,513.3 L436.4,512.8 L437.7,512.3 L439.1,511.9 L440.4,511.6 L441.7,511.4 L443.0,511.4 L444.3,511.6 L445.6,512.0 L446.9,512.7 L448.3,513.5 L449.6,514.5 L450.9,515.6 L452.2,516.7 L453.5,517.8 L454.8,518.8 L456.1,519.7"/>
<path d="M115.7,511.9 L117.1,511.7 L118.4,511.6 L119.7,511.5 L121.0,511.6 L122.3,511.7 L123.6,511.9 L124.9,512.2 L126.3,512.6 L127.6,513.0 L128.9,513.6 L130.2,514.2 L131.5,514.9 L132.8,515.6 L134.1,516.4 L135.5,517.1 L136.8,517.9 L138.1,518.5 L139.4,519.1 L140.7,519.6 L142.0,520.0 L143.3,520.3 L144.7,520.4 L146.0,520.4 L147.3,520.2 L148.6,519.9 L149.9,519.5 L151.2,519.0 L152.5,518.4 L153.9,517.7 L155.2,517.0 L156.5,516.2 L157.8,515.5 L159.1,514.8 L160.4,514.1 L161.7,513.6 L163.1,513.2 L164.4,512.9 L165.7,512.7 L167.0,512.6 L168.3,512.7 L169.6,512.9 L170.9,513.3 L172.3,513.7 L173.6,514.2 L174.9,514.7 L176.2,515.2 L177.5,515.8 L178.8,516.3 L180.1,516.7 L181.5,517.1 L182.8,517.4 L184.1,517.5 L185.4,517.6 L186.7,517.5 L188.0,517.4 L189.3,517.1 L190.7,516.8 L192.0,516.3 L193.3,515.9 L194.6,515.4 L195.9,514.9 L197.2,514.5 L198.5,514.1 L199.9,513.8 L201.2,513.6 L202.5,513.5 L203.8,513.5 L205.1,513.6 L206.4,513.8 L207.7,514.1 L209.1,514.6 L210.4,515.1 L211.7,515.6 L213.0,516.3 L214.3,516.9 L215.6,517.5 L216.9,518.1 L218.3,518.6 L219.6,519.1 L220.9,519.4 L222.2,519.7 L223.5,519.8 L224.8,519.9 L226.1,519.8 L227.5,519.6 L228.8,519.3 L230.1,518.9 L231.4,518.4 L232.7,517.8 L234.0,517.1 L235.3,516.3 L236.7,515.6 L238.0,514.8 L239.3,514.2 L240.6,513.7 L241.9,513.5 L243.2,513.5 L244.5,513.7 L245.9,514.0 L247.2,514.6 L248.5,515.3 L249.8,516.3 L251.1,517.6 L252.4,519.4 L253.7,521.7 L255.1,524.5 L256.4,527.0 L257.7,528.6 L259.0,528.4 L260.3,526.1 L261.6,522.2 L262.9,517.8 L264.3,513.5 L265.6,509.8 L266.9,507.5 L268.2,506.4 L269.5,506.4 L270.8,507.3 L272.1,508.4 L273.5,509.3 L274.8,509.9 L276.1,510.2 L277.4,510.6 L278.7,511.2 L280.0,512.0 L281.3,513.1 L282.7,514.2 L284.0,515.2 L285.3,515.7 L286.6,515.8 L287.9,515.6 L289.2,515.5 L290.5,515.7 L291.9,516.5 L293.2,517.7 L294.5,519.1 L295.8,520.6 L297.1,521.7 L298.4,521.9 L299.7,521.3 L301.1,519.8 L302.4,517.9 L303.7,516.1 L305.0,514.9 L306.3,514.6 L307.6,515.6 L308.9,518.0 L310.3,520.9 L311.6,523.1 L312.9,524.0 L314.2,524.0 L315.5,523.1 L316.8,521.9 L318.1,520.6 L319.5,519.5 L320.8,518.7 L322.1,518.4 L323.4,518.0 L324.7,517.3 L326.0,516.2 L327.3,514.5 L328.7,512.7 L330.0,510.9 L331.3,509.3 L332.6,508.3 L333.9,508.0 L335.2,508.4 L336.5,509.1 L337.9,509.9 L339.2,510.7 L340.5,511.5 L341.8,512.2 L343.1,513.0 L344.4,513.7 L345.7,514.4 L347.1,515.2 L348.4,515.9 L349.7,516.6 L351.0,517.3 L352.3,517.9 L353.6,518.4 L354.9,518.8 L356.3,519.2 L357.6,519.4 L358.9,519.6 L360.2,519.7 L361.5,519.8 L362.8,519.8 L364.1,519.8 L365.5,519.7 L366.8,519.7 L368.1,519.6 L369.4,519.5 L370.7,519.4 L372.0,519.3 L373.3,519.1 L374.7,519.0 L376.0,518.9 L377.3,518.7 L378.6,518.4 L379.9,518.2 L381.2,517.8 L382.5,517.5 L383.9,517.0 L385.2,516.5 L386.5,515.9 L387.8,515.3 L389.1,514.6 L390.4,513.9 L391.7,513.2 L393.1,512.5 L394.4,511.8 L395.7,511.1 L397.0,510.6 L398.3,510.1 L399.6,509.8 L400.9,509.6 L402.3,509.6 L403.6,509.7 L404.9,510.0 L406.2,510.4 L407.5,511.0 L408.8,511.7 L410.1,512.5 L411.5,513.5 L412.8,514.5 L414.1,515.5 L415.4,516.6 L416.7,517.7 L418.0,518.6 L419.3,519.6 L420.7,520.4 L422.0,521.0 L423.3,521.6 L424.6,521.9 L425.9,522.1 L427.2,522.1 L428.5,522.0 L429.9,521.7 L431.2,521.3 L432.5,520.7 L433.8,520.0 L435.1,519.3 L436.4,518.4 L437.7,517.6 L439.1,516.7 L440.4,515.8 L441.7,515.0 L443.0,514.2 L444.3,513.5 L445.6,512.8 L446.9,512.2 L448.3,511.8 L449.6,511.4 L450.9,511.1 L452.2,510.9 L453.5,510.7 L454.8,510.7 L456.1,510.7"/>
<path d="M115.7,574.0 L117.1,574.5 L118.4,574.9 L119.7,575.1 L121.0,575.2 L122.3,575.0 L123.6,574.7 L124.9,574.2 L126.3,573.6 L127.6,573.0 L128.9,572.3 L130.2,571.7 L131.5,571.2 L132.8,570.9 L134.1,570.7 L135.5,570.7 L136.8,570.9 L138.1,571.2 L139.4,571.7 L140.7,572.2 L142.0,572.8 L143.3,573.3 L144.7,573.7 L146.0,574.1 L147.3,574.3 L148.6,574.4 L149.9,574.3 L151.2,574.1 L152.5,573.8 L153.9,573.5 L155.2,573.0 L156.5,572.6 L157.8,572.2 L159.1,571.9 L160.4,571.6 L161.7,571.4 L163.1,571.2 L164.4,571.1 L165.7,571.1 L167.0,571.1 L168.3,571.2 L169.6,571.3 L170.9,571.4 L172.3,571.5 L173.6,571.6 L174.9,571.7 L176.2,571.8 L177.5,571.8 L178.8,571.9 L180.1,571.9 L181.5,572.0 L182.8,572.0 L184.1,572.1 L185.4,572.1 L186.7,572.2 L188.0,572.2 L189.3,572.3 L190.7,572.4 L192.0,572.5 L193.3,572.6 L194.6,572.8 L195.9,572.9 L197.2,573.1 L198.5,573.2 L199.9,573.4 L201.2,573.5 L202.5,573.5 L203.8,573.5 L205.1,573.4 L206.4,573.3 L207.7,573.1 L209.1,572.9 L210.4,572.7 L211.7,572.4 L213.0,572.1 L214.3,571.9 L215.6,571.7 L216.9,571.5 L218.3,571.4 L219.6,571.3 L220.9,571.3 L222.2,571.4 L223.5,571.4 L224.8,571.5 L226.1,571.6 L227.5,571.7 L228.8,571.7 L230.1,571.8 L231.4,571.8 L232.7,571.8 L234.0,571.6 L235.3,571.5 L236.7,571.4 L238.0,571.3 L239.3,571.2 L240.6,571.2 L241.9,571.4 L243.2,571.8 L244.5,572.2 L245.9,572.7 L247.2,573.3 L248.5,573.9 L249.8,574.7 L251.1,575.6 L252.4,576.9 L253.7,578.6 L255.1,580.9 L256.4,583.4 L257.7,585.3 L259.0,585.9 L260.3,584.7 L261.6,581.7 L262.9,577.8 L264.3,573.8 L265.6,570.2 L266.9,567.7 L268.2,566.4 L269.5,566.1 L270.8,566.8 L272.1,567.8 L273.5,568.5 L274.8,568.8 L276.1,568.5 L277.4,568.0 L278.7,567.5 L280.0,567.3 L281.3,567.3 L282.7,567.6 L284.0,568.1 L285.3,568.4 L286.6,568.4 L287.9,568.3 L289.2,568.2 L290.5,568.4 L291.9,569.2 L293.2,570.6 L294.5,572.3 L295.8,574.1 L297.1,575.6 L298.4,576.4 L299.7,576.2 L301.1,575.1 L302.4,573.3 L303.7,571.3 L305.0,569.7 L306.3,568.9 L307.6,569.2 L308.9,571.0 L310.3,573.9 L311.6,576.7 L312.9,578.5 L314.2,579.2 L315.5,579.1 L316.8,578.5 L318.1,577.8 L319.5,577.0 L320.8,576.6 L322.1,576.6 L323.4,576.8 L324.7,576.7 L326.0,576.2 L327.3,575.1 L328.7,573.7 L330.0,572.1 L331.3,570.6 L332.6,569.5 L333.9,568.9 L335.2,569.1 L336.5,569.7 L337.9,570.4 L339.2,571.0 L340.5,571.5 L341.8,571.9 L343.1,572.2 L344.4,572.5 L345.7,572.7 L347.1,572.8 L348.4,572.9 L349.7,572.9 L351.0,572.8 L352.3,572.6 L353.6,572.4 L354.9,572.1 L356.3,571.7 L357.6,571.3 L358.9,571.0 L360.2,570.7 L361.5,570.5 L362.8,570.4 L364.1,570.5 L365.5,570.7 L366.8,571.0 L368.1,571.5 L369.4,572.1 L370.7,572.7 L372.0,573.3 L373.3,573.9 L374.7,574.5 L376.0,574.9 L377.3,575.1 L378.6,575.2 L379.9,575.2 L381.2,575.0 L382.5,574.7 L383.9,574.3 L385.2,573.9 L386.5,573.5 L387.8,573.2 L389.1,573.0 L390.4,572.9 L391.7,572.8 L393.1,572.9 L394.4,573.0 L395.7,573.1 L397.0,573.1 L398.3,573.1 L399.6,572.9 L400.9,572.6 L402.3,572.2 L403.6,571.6 L404.9,571.0 L406.2,570.2 L407.5,569.5 L408.8,568.8 L410.1,568.3 L411.5,567.9 L412.8,567.7 L414.1,567.8 L415.4,568.2 L416.7,568.7 L418.0,569.5 L419.3,570.4 L420.7,571.4 L422.0,572.5 L423.3,573.4 L424.6,574.3 L425.9,575.0 L427.2,575.5 L428.5,575.7 L429.9,575.8 L431.2,575.6 L432.5,575.2 L433.8,574.7 L435.1,574.1 L436.4,573.5 L437.7,572.8 L439.1,572.2 L440.4,571.6 L441.7,571.2 L443.0,570.8 L444.3,570.6 L445.6,570.6 L446.9,570.6 L448.3,570.8 L449.6,571.1 L450.9,571.5 L452.2,572.0 L453.5,572.5 L454.8,572.9 L456.1,573.4"/>
<path d="M115.7,568.7 L117.1,569.1 L118.4,569.5 L119.7,569.8 L121.0,570.2 L122.3,570.5 L123.6,570.7 L124.9,570.9 L126.3,571.0 L127.6,571.1 L128.9,571.1 L130.2,571.1 L131.5,570.9 L132.8,570.8 L134.1,570.6 L135.5,570.4 L136.8,570.2 L138.1,570.0 L139.4,569.9 L140.7,569.8 L142.0,569.8 L143.3,569.8 L144.7,569.9 L146.0,570.0 L147.3,570.1 L148.6,570.3 L149.9,570.4 L151.2,570.4 L152.5,570.4 L153.9,570.4 L155.2,570.2 L156.5,570.0 L157.8,569.6 L159.1,569.2 L160.4,568.8 L161.7,568.4 L163.1,567.9 L164.4,567.6 L165.7,567.3 L167.0,567.1 L168.3,567.1 L169.6,567.2 L170.9,567.4 L172.3,567.8 L173.6,568.3 L174.9,568.9 L176.2,569.6 L177.5,570.3 L178.8,570.9 L180.1,571.5 L181.5,572.0 L182.8,572.4 L184.1,572.6 L185.4,572.8 L186.7,572.7 L188.0,572.6 L189.3,572.3 L190.7,572.0 L192.0,571.6 L193.3,571.1 L194.6,570.6 L195.9,570.1 L197.2,569.7 L198.5,569.2 L199.9,568.8 L201.2,568.4 L202.5,568.1 L203.8,567.8 L205.1,567.5 L206.4,567.2 L207.7,567.0 L209.1,566.8 L210.4,566.6 L211.7,566.5 L213.0,566.4 L214.3,566.4 L215.6,566.4 L216.9,566.5 L218.3,566.7 L219.6,566.9 L220.9,567.3 L222.2,567.7 L223.5,568.2 L224.8,568.7 L226.1,569.2 L227.5,569.8 L228.8,570.4 L230.1,570.9 L231.4,571.4 L232.7,571.8 L234.0,572.0 L235.3,572.1 L236.7,572.1 L238.0,571.9 L239.3,571.7 L240.6,571.4 L241.9,571.2 L243.2,571.0 L244.5,571.0 L245.9,571.0 L247.2,571.0 L248.5,571.2 L249.8,571.6 L251.1,572.2 L252.4,573.1 L253.7,574.6 L255.1,576.8 L256.4,579.2 L257.7,581.4 L259.0,582.5 L260.3,581.7 L261.6,579.0 L262.9,575.0 L264.3,570.6 L265.6,566.6 L266.9,563.4 L268.2,561.6 L269.5,560.9 L270.8,561.3 L272.1,562.4 L273.5,563.5 L274.8,564.2 L276.1,564.5 L277.4,564.6 L278.7,564.7 L280.0,565.0 L281.3,565.6 L282.7,566.4 L284.0,567.3 L285.3,567.8 L286.6,568.0 L287.9,568.1 L289.2,568.1 L290.5,568.4 L291.9,569.1 L293.2,570.1 L294.5,571.4 L295.8,572.8 L297.1,574.0 L298.4,574.8 L299.7,574.9 L301.1,574.3 L302.4,573.0 L303.7,571.3 L305.0,569.6 L306.3,568.3 L307.6,567.6 L308.9,567.7 L310.3,568.7 L311.6,569.9 L312.9,570.6 L314.2,570.8 L315.5,570.5 L316.8,570.0 L318.1,569.4 L319.5,569.0 L320.8,568.9 L322.1,569.2 L323.4,569.6 L324.7,570.1 L326.0,570.4 L327.3,570.2 L328.7,569.7 L330.0,569.1 L331.3,568.4 L332.6,567.7 L333.9,567.4 L335.2,567.5 L336.5,567.9 L337.9,568.4 L339.2,568.9 L340.5,569.4 L341.8,569.8 L343.1,570.1 L344.4,570.5 L345.7,570.8 L347.1,571.1 L348.4,571.4 L349.7,571.6 L351.0,571.8 L352.3,571.9 L353.6,572.0 L354.9,572.0 L356.3,572.0 L357.6,571.9 L358.9,571.9 L360.2,571.8 L361.5,571.6 L362.8,571.5 L364.1,571.4 L365.5,571.3 L366.8,571.2 L368.1,571.0 L369.4,570.8 L370.7,570.6 L372.0,570.3 L373.3,570.0 L374.7,569.6 L376.0,569.1 L377.3,568.6 L378.6,568.0 L379.9,567.4 L381.2,566.8 L382.5,566.3 L383.9,565.8 L385.2,565.4 L386.5,565.1 L387.8,564.9 L389.1,565.0 L390.4,565.1 L391.7,565.5 L393.1,566.0 L394.4,566.6 L395.7,567.3 L397.0,568.2 L398.3,569.1 L399.6,570.0 L400.9,570.9 L402.3,571.8 L403.6,572.5 L404.9,573.2 L406.2,573.7 L407.5,574.0 L408.8,574.1 L410.1,574.0 L411.5,573.7 L412.8,573.2 L414.1,572.6 L415.4,571.8 L416.7,570.9 L418.0,569.9 L419.3,568.9 L420.7,567.9 L422.0,567.0 L423.3,566.2 L424.6,565.6 L425.9,565.2 L427.2,565.1 L428.5,565.1 L429.9,565.4 L431.2,566.0 L432.5,566.7 L433.8,567.5 L435.1,568.4 L436.4,569.4 L437.7,570.3 L439.1,571.2 L440.4,571.9 L441.7,572.5 L443.0,572.8 L444.3,573.0 L445.6,573.0 L446.9,572.8 L448.3,572.4 L449.6,571.9 L450.9,571.4 L452.2,570.9 L453.5,570.4 L454.8,569.9 L456.1,569.6"/>
<path d="M115.7,567.7 L117.1,568.1 L118.4,568.6 L119.7,569.1 L121.0,569.6 L122.3,570.1 L123.6,570.5 L124.9,570.8 L126.3,571.0 L127.6,571.1 L128.9,571.0 L130.2,570.9 L131.5,570.7 L132.8,570.4 L134.1,570.0 L135.5,569.6 L136.8,569.2 L138.1,568.9 L139.4,568.6 L140.7,568.3 L142.0,568.2 L143.3,568.1 L144.7,568.1 L146.0,568.2 L147.3,568.4 L148.6,568.6 L149.9,568.9 L151.2,569.2 L152.5,569.4 L153.9,569.7 L155.2,569.8 L156.5,569.9 L157.8,570.0 L159.1,569.9 L160.4,569.8 L161.7,569.6 L163.1,569.4 L164.4,569.1 L165.7,568.8 L167.0,568.4 L168.3,568.1 L169.6,567.8 L170.9,567.6 L172.3,567.4 L173.6,567.3 L174.9,567.3 L176.2,567.3 L177.5,567.4 L178.8,567.6 L180.1,567.8 L181.5,568.1 L182.8,568.4 L184.1,568.7 L185.4,569.0 L186.7,569.2 L188.0,569.4 L189.3,569.6 L190.7,569.7 L192.0,569.7 L193.3,569.7 L194.6,569.6 L195.9,569.5 L197.2,569.4 L198.5,569.2 L199.9,569.1 L201.2,569.0 L202.5,568.9 L203.8,568.9 L205.1,568.9 L206.4,568.9 L207.7,569.0 L209.1,569.1 L210.4,569.1 L211.7,569.2 L213.0,569.2 L214.3,569.2 L215.6,569.1 L216.9,568.9 L218.3,568.7 L219.6,568.3 L220.9,567.9 L222.2,567.5 L223.5,567.0 L224.8,566.6 L226.1,566.1 L227.5,565.8 L228.8,565.5 L230.1,565.4 L231.4,565.5 L232.7,565.6 L234.0,565.9 L235.3,566.3 L236.7,566.9 L238.0,567.6 L239.3,568.4 L240.6,569.4 L241.9,570.4 L243.2,571.6 L244.5,572.7 L245.9,573.8 L247.2,574.6 L248.5,575.3 L249.8,575.9 L251.1,576.5 L252.4,577.2 L253.7,578.4 L255.1,580.1 L256.4,582.0 L257.7,583.4 L259.0,583.5 L260.3,581.6 L261.6,577.7 L262.9,572.6 L264.3,567.3 L265.6,562.3 L266.9,558.4 L268.2,556.0 L269.5,554.8 L270.8,555.0 L272.1,556.0 L273.5,557.1 L274.8,558.2 L276.1,559.1 L277.4,560.0 L278.7,561.2 L280.0,562.6 L281.3,564.3 L282.7,566.1 L284.0,567.6 L285.3,568.5 L286.6,568.9 L287.9,569.0 L289.2,569.1 L290.5,569.3 L291.9,569.8 L293.2,570.6 L294.5,571.6 L295.8,572.8 L297.1,573.9 L298.4,574.7 L299.7,574.9 L301.1,574.6 L302.4,573.8 L303.7,572.7 L305.0,571.7 L306.3,570.9 L307.6,570.5 L308.9,570.7 L310.3,571.5 L311.6,572.2 L312.9,572.2 L314.2,571.6 L315.5,570.5 L316.8,569.3 L318.1,568.1 L319.5,567.1 L320.8,566.5 L322.1,566.4 L323.4,566.7 L324.7,567.2 L326.0,567.6 L327.3,567.9 L328.7,568.1 L330.0,568.3 L331.3,568.4 L332.6,568.7 L333.9,569.1 L335.2,569.7 L336.5,570.4 L337.9,570.8 L339.2,571.0 L340.5,571.0 L341.8,570.7 L343.1,570.2 L344.4,569.5 L345.7,568.9 L347.1,568.2 L348.4,567.6 L349.7,567.1 L351.0,566.8 L352.3,566.7 L353.6,566.7 L354.9,566.9 L356.3,567.2 L357.6,567.7 L358.9,568.3 L360.2,568.9 L361.5,569.5 L362.8,570.1 L364.1,570.6 L365.5,570.9 L366.8,571.2 L368.1,571.2 L369.4,571.1 L370.7,570.8 L372.0,570.4 L373.3,569.8 L374.7,569.2 L376.0,568.6 L377.3,567.9 L378.6,567.3 L379.9,566.7 L381.2,566.3 L382.5,565.9 L383.9,565.7 L385.2,565.6 L386.5,565.7 L387.8,565.8 L389.1,566.1 L390.4,566.5 L391.7,566.9 L393.1,567.3 L394.4,567.8 L395.7,568.3 L397.0,568.8 L398.3,569.3 L399.6,569.8 L400.9,570.2 L402.3,570.6 L403.6,570.9 L404.9,571.2 L406.2,571.5 L407.5,571.7 L408.8,571.8 L410.1,571.9 L411.5,572.0 L412.8,572.0 L414.1,571.9 L415.4,571.7 L416.7,571.5 L418.0,571.1 L419.3,570.7 L420.7,570.3 L422.0,569.8 L423.3,569.2 L424.6,568.6 L425.9,568.0 L427.2,567.4 L428.5,566.8 L429.9,566.3 L431.2,565.9 L432.5,565.6 L433.8,565.4 L435.1,565.3 L436.4,565.4 L437.7,565.6 L439.1,565.9 L440.4,566.3 L441.7,566.8 L443.0,567.3 L444.3,567.9 L445.6,568.5 L446.9,569.1 L448.3,569.6 L449.6,570.0 L450.9,570.4 L452.2,570.7 L453.5,570.8 L454.8,570.8 L456.1,570.7"/>
<path d="M115.7,569.0 L117.1,568.9 L118.4,568.7 L119.7,568.5 L121.0,568.3 L122.3,568.1 L123.6,567.9 L124.9,567.7 L126.3,567.5 L127.6,567.4 L128.9,567.4 L130.2,567.5 L131.5,567.7 L132.8,567.9 L134.1,568.3 L135.5,568.8 L136.8,569.3 L138.1,569.9 L139.4,570.6 L140.7,571.2 L142.0,571.8 L143.3,572.4 L144.7,572.9 L146.0,573.3 L147.3,573.6 L148.6,573.8 L149.9,573.8 L151.2,573.6 L152.5,573.4 L153.9,573.0 L155.2,572.5 L156.5,572.0 L157.8,571.4 L159.1,570.7 L160.4,570.1 L161.7,569.5 L163.1,569.0 L164.4,568.5 L165.7,568.1 L167.0,567.8 L168.3,567.6 L169.6,567.6 L170.9,567.6 L172.3,567.7 L173.6,567.9 L174.9,568.1 L176.2,568.3 L177.5,568.6 L178.8,568.9 L180.1,569.2 L181.5,569.4 L182.8,569.7 L184.1,569.8 L185.4,570.0 L186.7,570.1 L188.0,570.2 L189.3,570.3 L190.7,570.3 L192.0,570.3 L193.3,570.3 L194.6,570.4 L195.9,570.4 L197.2,570.5 L198.5,570.6 L199.9,570.7 L201.2,570.8 L202.5,570.9 L203.8,571.0 L205.1,571.2 L206.4,571.3 L207.7,571.5 L209.1,571.6 L210.4,571.7 L211.7,571.8 L213.0,571.8 L214.3,571.8 L215.6,571.8 L216.9,571.7 L218.3,571.6 L219.6,571.5 L220.9,571.3 L222.2,571.1 L223.5,570.8 L224.8,570.5 L226.1,570.2 L227.5,569.9 L228.8,569.5 L230.1,569.2 L231.4,568.7 L232.7,568.2 L234.0,567.7 L235.3,567.3 L236.7,566.9 L238.0,566.6 L239.3,566.4 L240.6,566.4 L241.9,566.7 L243.2,567.1 L244.5,567.6 L245.9,568.4 L247.2,569.2 L248.5,570.3 L249.8,571.6 L251.1,573.3 L252.4,575.5 L253.7,578.2 L255.1,580.7 L256.4,582.5 L257.7,582.8 L259.0,581.3 L260.3,578.0 L261.6,574.1 L262.9,570.2 L264.3,566.8 L265.6,564.7 L266.9,563.7 L268.2,563.9 L269.5,564.9 L270.8,566.3 L272.1,567.5 L273.5,568.2 L274.8,568.7 L276.1,569.1 L277.4,569.5 L278.7,570.0 L280.0,570.6 L281.3,571.2 L282.7,571.5 L284.0,571.2 L285.3,570.5 L286.6,569.6 L287.9,568.7 L289.2,568.0 L290.5,567.6 L291.9,567.6 L293.2,567.9 L294.5,568.3 L295.8,568.6 L297.1,568.6 L298.4,568.3 L299.7,567.6 L301.1,566.7 L302.4,565.9 L303.7,565.5 L305.0,565.6 L306.3,566.6 L307.6,568.4 L308.9,570.7 L310.3,572.6 L311.6,573.9 L312.9,574.5 L314.2,574.6 L315.5,574.3 L316.8,573.9 L318.1,573.6 L319.5,573.4 L320.8,573.3 L322.1,573.3 L323.4,573.1 L324.7,572.6 L326.0,571.9 L327.3,571.0 L328.7,570.0 L330.0,569.2 L331.3,568.7 L332.6,568.6 L333.9,568.9 L335.2,569.4 L336.5,570.0 L337.9,570.5 L339.2,571.0 L340.5,571.3 L341.8,571.6 L343.1,571.7 L344.4,571.8 L345.7,571.8 L347.1,571.6 L348.4,571.4 L349.7,571.1 L351.0,570.7 L352.3,570.2 L353.6,569.6 L354.9,569.1 L356.3,568.5 L357.6,567.9 L358.9,567.5 L360.2,567.0 L361.5,566.7 L362.8,566.5 L364.1,566.5 L365.5,566.5 L366.8,566.7 L368.1,567.0 L369.4,567.4 L370.7,567.9 L372.0,568.5 L373.3,569.1 L374.7,569.7 L376.0,570.3 L377.3,570.9 L378.6,571.4 L379.9,571.9 L381.2,572.2 L382.5,572.4 L383.9,572.6 L385.2,572.6 L386.5,572.5 L387.8,572.4 L389.1,572.2 L390.4,571.9 L391.7,571.6 L393.1,571.3 L394.4,571.0 L395.7,570.7 L397.0,570.5 L398.3,570.4 L399.6,570.3 L400.9,570.3 L402.3,570.4 L403.6,570.5 L404.9,570.6 L406.2,570.8 L407.5,571.0 L408.8,571.2 L410.1,571.3 L411.5,571.4 L412.8,571.4 L414.1,571.3 L415.4,571.1 L416.7,570.8 L418.0,570.5 L419.3,570.0 L420.7,569.5 L422.0,568.9 L423.3,568.2 L424.6,567.6 L425.9,567.0 L427.2,566.5 L428.5,566.1 L429.9,565.8 L431.2,565.6 L432.5,565.6 L433.8,565.8 L435.1,566.1 L436.4,566.6 L437.7,567.3 L439.1,568.1 L440.4,569.0 L441.7,569.9 L443.0,570.9 L444.3,571.9 L445.6,572.8 L446.9,573.6 L448.3,574.4 L449.6,574.9 L450.9,575.3 L452.2,575.5 L453.5,575.4 L454.8,575.2 L456.1,574.8"/>
<path d="M115.7,563.5 L117.1,563.3 L118.4,563.2 L119.7,563.4 L121.0,563.9 L122.3,564.5 L123.6,565.4 L124.9,566.3 L126.3,567.2 L127.6,568.0 L128.9,568.7 L130.2,569.3 L131.5,569.6 L132.8,569.7 L134.1,569.6 L135.5,569.4 L136.8,569.1 L138.1,568.8 L139.4,568.6 L140.7,568.4 L142.0,568.4 L143.3,568.4 L144.7,568.5 L146.0,568.6 L147.3,568.7 L148.6,568.8 L149.9,568.7 L151.2,568.4 L152.5,568.0 L153.9,567.4 L155.2,566.6 L156.5,565.7 L157.8,564.9 L159.1,564.0 L160.4,563.2 L161.7,562.6 L163.1,562.2 L164.4,561.9 L165.7,561.9 L167.0,562.1 L168.3,562.5 L169.6,563.0 L170.9,563.6 L172.3,564.2 L173.6,564.9 L174.9,565.5 L176.2,566.0 L177.5,566.5 L178.8,566.9 L180.1,567.3 L181.5,567.6 L182.8,567.8 L184.1,567.9 L185.4,568.1 L186.7,568.2 L188.0,568.3 L189.3,568.4 L190.7,568.5 L192.0,568.6 L193.3,568.7 L194.6,568.8 L195.9,568.9 L197.2,569.1 L198.5,569.1 L199.9,569.2 L201.2,569.2 L202.5,569.0 L203.8,568.8 L205.1,568.5 L206.4,568.0 L207.7,567.5 L209.1,567.0 L210.4,566.4 L211.7,565.9 L213.0,565.4 L214.3,565.1 L215.6,565.0 L216.9,565.0 L218.3,565.2 L219.6,565.6 L220.9,566.0 L222.2,566.5 L223.5,566.9 L224.8,567.3 L226.1,567.5 L227.5,567.6 L228.8,567.5 L230.1,567.2 L231.4,566.8 L232.7,566.2 L234.0,565.5 L235.3,564.9 L236.7,564.4 L238.0,564.1 L239.3,564.0 L240.6,564.2 L241.9,564.6 L243.2,565.4 L244.5,566.3 L245.9,567.2 L247.2,568.1 L248.5,568.9 L249.8,569.8 L251.1,570.7 L252.4,571.9 L253.7,573.5 L255.1,575.7 L256.4,578.0 L257.7,579.6 L259.0,579.7 L260.3,578.0 L261.6,574.6 L262.9,570.3 L264.3,566.1 L265.6,562.5 L266.9,560.2 L268.2,559.2 L269.5,559.3 L270.8,560.4 L272.1,561.9 L273.5,563.0 L274.8,563.6 L276.1,563.7 L277.4,563.6 L278.7,563.5 L280.0,563.6 L281.3,564.0 L282.7,564.6 L284.0,565.0 L285.3,565.0 L286.6,564.8 L287.9,564.4 L289.2,564.0 L290.5,564.0 L291.9,564.2 L293.2,564.7 L294.5,565.5 L295.8,566.2 L297.1,566.8 L298.4,567.0 L299.7,566.7 L301.1,565.9 L302.4,564.7 L303.7,563.6 L305.0,562.8 L306.3,562.6 L307.6,563.2 L308.9,564.8 L310.3,567.0 L311.6,569.1 L312.9,570.7 L314.2,571.7 L315.5,572.4 L316.8,572.7 L318.1,572.9 L319.5,573.1 L320.8,573.4 L322.1,573.7 L323.4,573.9 L324.7,573.7 L326.0,573.0 L327.3,571.7 L328.7,570.1 L330.0,568.3 L331.3,566.6 L332.6,565.1 L333.9,564.1 L335.2,563.7 L336.5,563.8 L337.9,564.0 L339.2,564.5 L340.5,565.0 L341.8,565.5 L343.1,566.0 L344.4,566.4 L345.7,566.6 L347.1,566.6 L348.4,566.4 L349.7,566.0 L351.0,565.5 L352.3,564.9 L353.6,564.3 L354.9,563.8 L356.3,563.5 L357.6,563.4 L358.9,563.5 L360.2,563.9 L361.5,564.5 L362.8,565.2 L364.1,565.9 L365.5,566.5 L366.8,567.1 L368.1,567.4 L369.4,567.5 L370.7,567.3 L372.0,567.0 L373.3,566.6 L374.7,566.2 L376.0,565.8 L377.3,565.6 L378.6,565.6 L379.9,565.9 L381.2,566.5 L382.5,567.4 L383.9,568.4 L385.2,569.6 L386.5,570.8 L387.8,571.9 L389.1,572.7 L390.4,573.4 L391.7,573.6 L393.1,573.5 L394.4,573.1 L395.7,572.3 L397.0,571.2 L398.3,569.9 L399.6,568.5 L400.9,567.0 L402.3,565.5 L403.6,564.0 L404.9,562.7 L406.2,561.5 L407.5,560.4 L408.8,559.6 L410.1,559.0 L411.5,558.6 L412.8,558.5 L414.1,558.6 L415.4,558.9 L416.7,559.4 L418.0,560.2 L419.3,561.1 L420.7,562.1 L422.0,563.2 L423.3,564.5 L424.6,565.7 L425.9,567.0 L427.2,568.3 L428.5,569.5 L429.9,570.6 L431.2,571.7 L432.5,572.6 L433.8,573.4 L435.1,574.1 L436.4,574.5 L437.7,574.7 L439.1,574.7 L440.4,574.3 L441.7,573.7 L443.0,572.8 L444.3,571.6 L445.6,570.3 L446.9,568.7 L448.3,567.2 L449.6,565.7 L450.9,564.3 L452.2,563.2 L453.5,562.4 L454.8,562.0 L456.1,562.0"/>
<path d="M115.7,570.5 L117.1,570.2 L118.4,570.0 L119.7,569.8 L121.0,569.6 L122.3,569.3 L123.6,569.2 L124.9,569.0 L126.3,568.9 L127.6,568.9 L128.9,568.9 L130.2,569.0 L131.5,569.1 L132.8,569.3 L134.1,569.5 L135.5,569.8 L136.8,570.1 L138.1,570.3 L139.4,570.6 L140.7,570.7 L142.0,570.8 L143.3,570.8 L144.7,570.7 L146.0,570.5 L147.3,570.2 L148.6,569.7 L149.9,569.2 L151.2,568.7 L152.5,568.1 L153.9,567.6 L155.2,567.1 L156.5,566.7 L157.8,566.4 L159.1,566.2 L160.4,566.2 L161.7,566.3 L163.1,566.5 L164.4,566.9 L165.7,567.3 L167.0,567.9 L168.3,568.4 L169.6,568.9 L170.9,569.4 L172.3,569.8 L173.6,570.1 L174.9,570.3 L176.2,570.3 L177.5,570.3 L178.8,570.1 L180.1,569.8 L181.5,569.4 L182.8,569.0 L184.1,568.7 L185.4,568.3 L186.7,568.1 L188.0,567.9 L189.3,567.9 L190.7,567.9 L192.0,568.1 L193.3,568.4 L194.6,568.7 L195.9,569.1 L197.2,569.5 L198.5,569.8 L199.9,570.1 L201.2,570.3 L202.5,570.4 L203.8,570.4 L205.1,570.3 L206.4,570.1 L207.7,569.8 L209.1,569.5 L210.4,569.1 L211.7,568.7 L213.0,568.4 L214.3,568.2 L215.6,568.0 L216.9,568.0 L218.3,568.0 L219.6,568.2 L220.9,568.5 L222.2,568.9 L223.5,569.3 L224.8,569.8 L226.1,570.2 L227.5,570.7 L228.8,571.0 L230.1,571.3 L231.4,571.4 L232.7,571.3 L234.0,571.0 L235.3,570.6 L236.7,570.1 L238.0,569.6 L239.3,569.0 L240.6,568.5 L241.9,568.3 L243.2,568.2 L244.5,568.3 L245.9,568.5 L247.2,568.9 L248.5,569.5 L249.8,570.3 L251.1,571.5 L252.4,573.2 L253.7,575.4 L255.1,578.1 L256.4,580.6 L257.7,582.0 L259.0,581.7 L260.3,579.3 L261.6,575.2 L262.9,570.5 L264.3,565.8 L265.6,561.9 L266.9,559.2 L268.2,557.8 L269.5,557.6 L270.8,558.4 L272.1,559.5 L273.5,560.5 L274.8,561.4 L276.1,562.2 L277.4,563.2 L278.7,564.7 L280.0,566.4 L281.3,568.6 L282.7,570.7 L284.0,572.6 L285.3,573.8 L286.6,574.5 L287.9,575.0 L289.2,575.3 L290.5,575.7 L291.9,576.3 L293.2,576.9 L294.5,577.5 L295.8,577.8 L297.1,577.7 L298.4,576.8 L299.7,575.2 L301.1,573.0 L302.4,570.4 L303.7,567.8 L305.0,565.7 L306.3,564.2 L307.6,563.8 L308.9,564.4 L310.3,565.6 L311.6,566.6 L312.9,567.0 L314.2,567.0 L315.5,566.7 L316.8,566.4 L318.1,566.3 L319.5,566.5 L320.8,567.0 L322.1,567.9 L323.4,568.9 L324.7,569.6 L326.0,569.9 L327.3,569.9 L328.7,569.5 L330.0,569.1 L331.3,568.6 L332.6,568.3 L333.9,568.3 L335.2,568.6 L336.5,569.0 L337.9,569.3 L339.2,569.5 L340.5,569.7 L341.8,569.8 L343.1,569.8 L344.4,569.9 L345.7,570.0 L347.1,570.2 L348.4,570.4 L349.7,570.6 L351.0,570.8 L352.3,571.0 L353.6,571.2 L354.9,571.3 L356.3,571.4 L357.6,571.3 L358.9,571.3 L360.2,571.1 L361.5,570.9 L362.8,570.6 L364.1,570.3 L365.5,569.9 L366.8,569.5 L368.1,569.1 L369.4,568.7 L370.7,568.3 L372.0,567.9 L373.3,567.5 L374.7,567.2 L376.0,566.8 L377.3,566.6 L378.6,566.3 L379.9,566.1 L381.2,565.9 L382.5,565.8 L383.9,565.7 L385.2,565.7 L386.5,565.8 L387.8,565.9 L389.1,566.2 L390.4,566.5 L391.7,566.9 L393.1,567.4 L394.4,568.0 L395.7,568.7 L397.0,569.4 L398.3,570.1 L399.6,570.9 L400.9,571.6 L402.3,572.2 L403.6,572.7 L404.9,573.1 L406.2,573.4 L407.5,573.6 L408.8,573.6 L410.1,573.4 L411.5,573.1 L412.8,572.7 L414.1,572.2 L415.4,571.6 L416.7,570.9 L418.0,570.3 L419.3,569.6 L420.7,569.0 L422.0,568.4 L423.3,567.9 L424.6,567.5 L425.9,567.2 L427.2,566.9 L428.5,566.7 L429.9,566.5 L431.2,566.4 L432.5,566.3 L433.8,566.2 L435.1,566.2 L436.4,566.2 L437.7,566.2 L439.1,566.2 L440.4,566.3 L441.7,566.5 L443.0,566.7 L444.3,567.0 L445.6,567.4 L446.9,567.9 L448.3,568.4 L449.6,569.0 L450.9,569.7 L452.2,570.4 L453.5,571.0 L454.8,571.6 L456.1,572.1"/>
<path d="M115.7,566.1 L117.1,566.2 L118.4,566.5 L119.7,567.0 L121.0,567.6 L122.3,568.2 L123.6,568.9 L124.9,569.6 L126.3,570.3 L127.6,570.9 L128.9,571.3 L130.2,571.7 L131.5,571.9 L132.8,572.0 L134.1,571.9 L135.5,571.7 L136.8,571.5 L138.1,571.2 L139.4,570.9 L140.7,570.6 L142.0,570.3 L143.3,570.1 L144.7,570.1 L146.0,570.1 L147.3,570.3 L148.6,570.5 L149.9,570.8 L151.2,571.1 L152.5,571.5 L153.9,571.8 L155.2,572.0 L156.5,572.1 L157.8,572.1 L159.1,571.9 L160.4,571.5 L161.7,571.0 L163.1,570.4 L164.4,569.7 L165.7,568.9 L167.0,568.1 L168.3,567.4 L169.6,566.7 L170.9,566.2 L172.3,565.9 L173.6,565.8 L174.9,565.9 L176.2,566.2 L177.5,566.8 L178.8,567.5 L180.1,568.4 L181.5,569.4 L182.8,570.5 L184.1,571.5 L185.4,572.4 L186.7,573.3 L188.0,573.9 L189.3,574.3 L190.7,574.5 L192.0,574.5 L193.3,574.2 L194.6,573.8 L195.9,573.1 L197.2,572.3 L198.5,571.4 L199.9,570.5 L201.2,569.7 L202.5,568.8 L203.8,568.1 L205.1,567.6 L206.4,567.2 L207.7,566.9 L209.1,566.9 L210.4,567.0 L211.7,567.2 L213.0,567.5 L214.3,568.0 L215.6,568.4 L216.9,568.9 L218.3,569.3 L219.6,569.7 L220.9,570.1 L222.2,570.3 L223.5,570.5 L224.8,570.6 L226.1,570.6 L227.5,570.5 L228.8,570.4 L230.1,570.3 L231.4,570.2 L232.7,570.0 L234.0,569.8 L235.3,569.5 L236.7,569.3 L238.0,569.1 L239.3,569.0 L240.6,568.9 L241.9,568.9 L243.2,569.1 L244.5,569.5 L245.9,569.9 L247.2,570.3 L248.5,570.8 L249.8,571.4 L251.1,572.1 L252.4,573.1 L253.7,574.6 L255.1,576.7 L256.4,579.1 L257.7,581.3 L259.0,582.4 L260.3,581.7 L261.6,579.1 L262.9,574.9 L264.3,570.3 L265.6,566.0 L266.9,562.5 L268.2,560.5 L269.5,559.8 L270.8,560.5 L272.1,562.2 L273.5,564.2 L274.8,566.1 L276.1,567.7 L277.4,569.1 L278.7,570.5 L280.0,572.0 L281.3,573.7 L282.7,575.3 L284.0,576.5 L285.3,577.0 L286.6,576.7 L287.9,575.8 L289.2,574.7 L290.5,573.5 L291.9,572.3 L293.2,571.1 L294.5,570.1 L295.8,569.2 L297.1,568.4 L298.4,567.5 L299.7,566.5 L301.1,565.4 L302.4,564.2 L303.7,563.2 L305.0,562.6 L306.3,562.4 L307.6,562.9 L308.9,564.2 L310.3,566.1 L311.6,568.3 L312.9,570.3 L314.2,571.8 L315.5,572.9 L316.8,573.7 L318.1,574.2 L319.5,574.4 L320.8,574.6 L322.1,574.6 L323.4,574.6 L324.7,574.3 L326.0,573.8 L327.3,572.9 L328.7,571.8 L330.0,570.6 L331.3,569.4 L332.6,568.4 L333.9,567.6 L335.2,567.2 L336.5,567.2 L337.9,567.5 L339.2,567.8 L340.5,568.2 L341.8,568.7 L343.1,569.2 L344.4,569.6 L345.7,570.0 L347.1,570.3 L348.4,570.4 L349.7,570.5 L351.0,570.3 L352.3,570.1 L353.6,569.7 L354.9,569.2 L356.3,568.7 L357.6,568.2 L358.9,567.7 L360.2,567.4 L361.5,567.2 L362.8,567.2 L364.1,567.4 L365.5,567.9 L366.8,568.5 L368.1,569.3 L369.4,570.2 L370.7,571.2 L372.0,572.1 L373.3,573.0 L374.7,573.7 L376.0,574.2 L377.3,574.5 L378.6,574.4 L379.9,574.1 L381.2,573.4 L382.5,572.4 L383.9,571.3 L385.2,570.0 L386.5,568.6 L387.8,567.2 L389.1,565.9 L390.4,564.8 L391.7,564.0 L393.1,563.4 L394.4,563.3 L395.7,563.5 L397.0,564.1 L398.3,565.0 L399.6,566.3 L400.9,567.8 L402.3,569.4 L403.6,571.1 L404.9,572.7 L406.2,574.2 L407.5,575.6 L408.8,576.6 L410.1,577.3 L411.5,577.7 L412.8,577.7 L414.1,577.4 L415.4,576.7 L416.7,575.8 L418.0,574.7 L419.3,573.5 L420.7,572.2 L422.0,571.0 L423.3,569.8 L424.6,568.7 L425.9,567.9 L427.2,567.2 L428.5,566.8 L429.9,566.5 L431.2,566.5 L432.5,566.6 L433.8,566.8 L435.1,567.1 L436.4,567.5 L437.7,567.8 L439.1,568.1 L440.4,568.4 L441.7,568.5 L443.0,568.6 L444.3,568.6 L445.6,568.5 L446.9,568.3 L448.3,568.2 L449.6,568.0 L450.9,567.9 L452.2,567.8 L453.5,567.8 L454.8,567.9 L456.1,568.0"/>
<path d="M115.7,572.3 L117.1,572.6 L118.4,572.9 L119.7,573.3 L121.0,573.7 L122.3,574.2 L123.6,574.7 L124.9,575.2 L126.3,575.6 L127.6,576.1 L128.9,576.4 L130.2,576.8 L131.5,577.0 L132.8,577.2 L134.1,577.3 L135.5,577.3 L136.8,577.2 L138.1,577.1 L139.4,576.9 L140.7,576.7 L142.0,576.4 L143.3,576.1 L144.7,575.7 L146.0,575.3 L147.3,575.0 L148.6,574.6 L149.9,574.2 L151.2,573.9 L152.5,573.6 L153.9,573.4 L155.2,573.2 L156.5,573.1 L157.8,573.1 L159.1,573.1 L160.4,573.3 L161.7,573.5 L163.1,573.8 L164.4,574.2 L165.7,574.6 L167.0,575.1 L168.3,575.5 L169.6,575.9 L170.9,576.3 L172.3,576.6 L173.6,576.9 L174.9,577.0 L176.2,577.0 L177.5,576.9 L178.8,576.7 L180.1,576.4 L181.5,576.0 L182.8,575.5 L184.1,575.1 L185.4,574.6 L186.7,574.1 L188.0,573.7 L189.3,573.3 L190.7,573.1 L192.0,573.0 L193.3,573.0 L194.6,573.1 L195.9,573.3 L197.2,573.7 L198.5,574.1 L199.9,574.5 L201.2,575.0 L202.5,575.5 L203.8,575.9 L205.1,576.3 L206.4,576.6 L207.7,576.8 L209.1,576.9 L210.4,576.9 L211.7,576.8 L213.0,576.6 L214.3,576.4 L215.6,576.1 L216.9,575.8 L218.3,575.5 L219.6,575.2 L220.9,574.9 L222.2,574.8 L223.5,574.6 L224.8,574.6 L226.1,574.6 L227.5,574.6 L228.8,574.7 L230.1,574.8 L231.4,574.9 L232.7,574.9 L234.0,574.8 L235.3,574.7 L236.7,574.5 L238.0,574.2 L239.3,574.0 L240.6,573.8 L241.9,573.7 L243.2,573.8 L244.5,573.9 L245.9,574.2 L247.2,574.5 L248.5,575.1 L249.8,575.8 L251.1,576.8 L252.4,578.3 L253.7,580.3 L255.1,582.7 L256.4,585.0 L257.7,586.6 L259.0,586.7 L260.3,585.0 L261.6,581.8 L262.9,578.0 L264.3,574.3 L265.6,571.2 L266.9,569.2 L268.2,568.4 L269.5,568.5 L270.8,569.5 L272.1,570.7 L273.5,571.7 L274.8,572.4 L276.1,572.8 L277.4,573.1 L278.7,573.6 L280.0,574.2 L281.3,575.0 L282.7,575.8 L284.0,576.3 L285.3,576.4 L286.6,576.1 L287.9,575.5 L289.2,575.0 L290.5,574.6 L291.9,574.6 L293.2,575.0 L294.5,575.7 L295.8,576.3 L297.1,576.8 L298.4,576.8 L299.7,576.1 L301.1,575.0 L302.4,573.5 L303.7,572.1 L305.0,571.1 L306.3,570.9 L307.6,571.6 L308.9,573.3 L310.3,575.6 L311.6,577.4 L312.9,578.3 L314.2,578.4 L315.5,578.0 L316.8,577.2 L318.1,576.3 L319.5,575.6 L320.8,575.2 L322.1,575.2 L323.4,575.2 L324.7,575.2 L326.0,574.9 L327.3,574.5 L328.7,573.9 L330.0,573.5 L331.3,573.3 L332.6,573.5 L333.9,574.4 L335.2,575.6 L336.5,577.1 L337.9,578.5 L339.2,579.7 L340.5,580.7 L341.8,581.3 L343.1,581.6 L344.4,581.6 L345.7,581.3 L347.1,580.6 L348.4,579.7 L349.7,578.5 L351.0,577.1 L352.3,575.6 L353.6,574.0 L354.9,572.4 L356.3,570.9 L357.6,569.6 L358.9,568.5 L360.2,567.7 L361.5,567.2 L362.8,567.0 L364.1,567.2 L365.5,567.8 L366.8,568.6 L368.1,569.7 L369.4,571.0 L370.7,572.4 L372.0,573.9 L373.3,575.3 L374.7,576.7 L376.0,578.0 L377.3,579.0 L378.6,579.8 L379.9,580.4 L381.2,580.7 L382.5,580.8 L383.9,580.7 L385.2,580.3 L386.5,579.8 L387.8,579.1 L389.1,578.4 L390.4,577.6 L391.7,576.8 L393.1,576.0 L394.4,575.3 L395.7,574.7 L397.0,574.2 L398.3,573.8 L399.6,573.4 L400.9,573.2 L402.3,573.0 L403.6,572.9 L404.9,572.8 L406.2,572.7 L407.5,572.7 L408.8,572.7 L410.1,572.7 L411.5,572.7 L412.8,572.7 L414.1,572.8 L415.4,572.9 L416.7,573.0 L418.0,573.2 L419.3,573.5 L420.7,573.8 L422.0,574.2 L423.3,574.6 L424.6,575.0 L425.9,575.5 L427.2,575.9 L428.5,576.4 L429.9,576.7 L431.2,577.1 L432.5,577.3 L433.8,577.4 L435.1,577.5 L436.4,577.5 L437.7,577.3 L439.1,577.1 L440.4,576.8 L441.7,576.5 L443.0,576.1 L444.3,575.7 L445.6,575.4 L446.9,575.1 L448.3,574.8 L449.6,574.6 L450.9,574.5 L452.2,574.5 L453.5,574.5 L454.8,574.6 L456.1,574.7"/>
<path d="M115.7,576.7 L117.1,576.4 L118.4,576.0 L119.7,575.7 L121.0,575.4 L122.3,575.1 L123.6,575.0 L124.9,574.9 L126.3,574.9 L127.6,575.0 L128.9,575.1 L130.2,575.2 L131.5,575.3 L132.8,575.3 L134.1,575.3 L135.5,575.2 L136.8,575.0 L138.1,574.7 L139.4,574.4 L140.7,574.0 L142.0,573.5 L143.3,573.1 L144.7,572.6 L146.0,572.3 L147.3,572.1 L148.6,571.9 L149.9,572.0 L151.2,572.1 L152.5,572.4 L153.9,572.8 L155.2,573.3 L156.5,573.8 L157.8,574.4 L159.1,575.0 L160.4,575.5 L161.7,576.0 L163.1,576.4 L164.4,576.7 L165.7,576.9 L167.0,577.1 L168.3,577.2 L169.6,577.2 L170.9,577.3 L172.3,577.3 L173.6,577.4 L174.9,577.4 L176.2,577.5 L177.5,577.6 L178.8,577.6 L180.1,577.7 L181.5,577.7 L182.8,577.6 L184.1,577.4 L185.4,577.2 L186.7,576.8 L188.0,576.3 L189.3,575.7 L190.7,575.1 L192.0,574.4 L193.3,573.6 L194.6,572.9 L195.9,572.2 L197.2,571.6 L198.5,571.1 L199.9,570.7 L201.2,570.5 L202.5,570.5 L203.8,570.6 L205.1,570.9 L206.4,571.2 L207.7,571.7 L209.1,572.3 L210.4,572.8 L211.7,573.4 L213.0,574.0 L214.3,574.5 L215.6,574.9 L216.9,575.3 L218.3,575.6 L219.6,575.7 L220.9,575.8 L222.2,575.9 L223.5,575.9 L224.8,575.8 L226.1,575.8 L227.5,575.7 L228.8,575.7 L230.1,575.6 L231.4,575.6 L232.7,575.6 L234.0,575.5 L235.3,575.5 L236.7,575.4 L238.0,575.4 L239.3,575.4 L240.6,575.4 L241.9,575.6 L243.2,575.8 L244.5,576.2 L245.9,576.5 L247.2,576.8 L248.5,577.2 L249.8,577.7 L251.1,578.3 L252.4,579.1 L253.7,580.4 L255.1,582.3 L256.4,584.3 L257.7,585.9 L259.0,586.3 L260.3,585.2 L261.6,582.3 L262.9,578.5 L264.3,574.5 L265.6,570.9 L266.9,568.2 L268.2,566.7 L269.5,566.4 L270.8,567.0 L272.1,568.3 L273.5,569.6 L274.8,570.6 L276.1,571.3 L277.4,571.8 L278.7,572.3 L280.0,572.8 L281.3,573.5 L282.7,574.2 L284.0,574.6 L285.3,574.5 L286.6,574.0 L287.9,573.3 L289.2,572.7 L290.5,572.3 L291.9,572.2 L293.2,572.5 L294.5,573.2 L295.8,574.0 L297.1,574.9 L298.4,575.5 L299.7,575.9 L301.1,575.9 L302.4,575.5 L303.7,575.1 L305.0,574.7 L306.3,574.6 L307.6,574.8 L308.9,575.7 L310.3,577.0 L311.6,578.3 L312.9,579.0 L314.2,579.3 L315.5,579.2 L316.8,578.8 L318.1,578.4 L319.5,578.0 L320.8,577.8 L322.1,577.7 L323.4,577.8 L324.7,577.7 L326.0,577.4 L327.3,576.8 L328.7,576.0 L330.0,575.0 L331.3,574.0 L332.6,573.1 L333.9,572.4 L335.2,572.1 L336.5,571.9 L337.9,571.9 L339.2,572.0 L340.5,572.1 L341.8,572.2 L343.1,572.4 L344.4,572.7 L345.7,573.0 L347.1,573.3 L348.4,573.6 L349.7,573.9 L351.0,574.1 L352.3,574.2 L353.6,574.2 L354.9,574.1 L356.3,573.9 L357.6,573.6 L358.9,573.3 L360.2,573.1 L361.5,572.8 L362.8,572.7 L364.1,572.7 L365.5,572.9 L366.8,573.3 L368.1,573.8 L369.4,574.6 L370.7,575.5 L372.0,576.5 L373.3,577.6 L374.7,578.8 L376.0,579.8 L377.3,580.8 L378.6,581.6 L379.9,582.2 L381.2,582.5 L382.5,582.5 L383.9,582.3 L385.2,581.7 L386.5,580.9 L387.8,579.9 L389.1,578.6 L390.4,577.3 L391.7,575.9 L393.1,574.4 L394.4,573.0 L395.7,571.7 L397.0,570.6 L398.3,569.6 L399.6,568.9 L400.9,568.4 L402.3,568.1 L403.6,568.2 L404.9,568.4 L406.2,568.8 L407.5,569.5 L408.8,570.2 L410.1,571.1 L411.5,572.0 L412.8,573.0 L414.1,573.9 L415.4,574.7 L416.7,575.3 L418.0,575.9 L419.3,576.3 L420.7,576.5 L422.0,576.6 L423.3,576.5 L424.6,576.4 L425.9,576.1 L427.2,575.7 L428.5,575.4 L429.9,575.1 L431.2,574.8 L432.5,574.6 L433.8,574.5 L435.1,574.5 L436.4,574.6 L437.7,574.8 L439.1,575.0 L440.4,575.3 L441.7,575.7 L443.0,576.0 L444.3,576.3 L445.6,576.5 L446.9,576.6 L448.3,576.7 L449.6,576.7 L450.9,576.6 L452.2,576.5 L453.5,576.3 L454.8,576.1 L456.1,575.9"/>
<path d="M115.7,577.9 L117.1,578.3 L118.4,578.6 L119.7,578.9 L121.0,579.2 L122.3,579.4 L123.6,579.6 L124.9,579.7 L126.3,579.8 L127.6,579.6 L128.9,579.4 L130.2,579.0 L131.5,578.5 L132.8,577.8 L134.1,577.0 L135.5,576.1 L136.8,575.1 L138.1,574.1 L139.4,573.2 L140.7,572.2 L142.0,571.4 L143.3,570.7 L144.7,570.2 L146.0,569.8 L147.3,569.6 L148.6,569.5 L149.9,569.6 L151.2,569.9 L152.5,570.3 L153.9,570.8 L155.2,571.4 L156.5,572.0 L157.8,572.7 L159.1,573.5 L160.4,574.2 L161.7,575.0 L163.1,575.8 L164.4,576.5 L165.7,577.3 L167.0,577.9 L168.3,578.6 L169.6,579.1 L170.9,579.6 L172.3,579.9 L173.6,580.2 L174.9,580.2 L176.2,580.2 L177.5,580.0 L178.8,579.7 L180.1,579.2 L181.5,578.6 L182.8,577.9 L184.1,577.1 L185.4,576.3 L186.7,575.5 L188.0,574.7 L189.3,573.9 L190.7,573.3 L192.0,572.8 L193.3,572.5 L194.6,572.3 L195.9,572.4 L197.2,572.5 L198.5,572.9 L199.9,573.3 L201.2,573.9 L202.5,574.5 L203.8,575.1 L205.1,575.7 L206.4,576.2 L207.7,576.6 L209.1,576.8 L210.4,576.9 L211.7,576.8 L213.0,576.6 L214.3,576.2 L215.6,575.6 L216.9,575.0 L218.3,574.4 L219.6,573.8 L220.9,573.2 L222.2,572.7 L223.5,572.4 L224.8,572.2 L226.1,572.2 L227.5,572.3 L228.8,572.6 L230.1,573.1 L231.4,573.5 L232.7,574.0 L234.0,574.4 L235.3,574.9 L236.7,575.2 L238.0,575.5 L239.3,575.8 L240.6,576.0 L241.9,576.4 L243.2,576.8 L244.5,577.1 L245.9,577.5 L247.2,577.9 L248.5,578.4 L249.8,579.1 L251.1,580.1 L252.4,581.6 L253.7,583.7 L255.1,586.1 L256.4,588.2 L257.7,589.1 L259.0,588.0 L260.3,584.9 L261.6,580.2 L262.9,575.2 L264.3,570.3 L265.6,566.4 L266.9,564.0 L268.2,562.8 L269.5,563.0 L270.8,564.2 L272.1,565.7 L273.5,567.2 L274.8,568.6 L276.1,570.0 L277.4,571.7 L278.7,573.5 L280.0,575.6 L281.3,577.7 L282.7,579.4 L284.0,580.3 L285.3,580.4 L286.6,579.7 L287.9,578.6 L289.2,577.4 L290.5,576.3 L291.9,575.5 L293.2,574.8 L294.5,574.5 L295.8,574.3 L297.1,574.1 L298.4,573.8 L299.7,573.3 L301.1,572.8 L302.4,572.3 L303.7,572.2 L305.0,572.5 L306.3,573.4 L307.6,574.9 L308.9,576.9 L310.3,578.9 L311.6,580.2 L312.9,580.8 L314.2,580.7 L315.5,580.1 L316.8,579.4 L318.1,578.6 L319.5,578.0 L320.8,577.8 L322.1,577.8 L323.4,578.0 L324.7,578.2 L326.0,578.2 L327.3,578.0 L328.7,577.8 L330.0,577.5 L331.3,577.2 L332.6,576.9 L333.9,576.8 L335.2,576.7 L336.5,576.4 L337.9,575.8 L339.2,575.0 L340.5,574.1 L341.8,573.0 L343.1,572.0 L344.4,571.1 L345.7,570.4 L347.1,569.9 L348.4,569.8 L349.7,569.9 L351.0,570.2 L352.3,570.8 L353.6,571.6 L354.9,572.4 L356.3,573.3 L357.6,574.1 L358.9,574.8 L360.2,575.4 L361.5,575.9 L362.8,576.2 L364.1,576.3 L365.5,576.3 L366.8,576.2 L368.1,576.0 L369.4,575.9 L370.7,575.8 L372.0,575.8 L373.3,575.8 L374.7,575.9 L376.0,576.1 L377.3,576.4 L378.6,576.7 L379.9,577.0 L381.2,577.2 L382.5,577.4 L383.9,577.5 L385.2,577.5 L386.5,577.4 L387.8,577.2 L389.1,577.0 L390.4,576.7 L391.7,576.3 L393.1,576.0 L394.4,575.7 L395.7,575.4 L397.0,575.1 L398.3,574.8 L399.6,574.6 L400.9,574.3 L402.3,574.0 L403.6,573.6 L404.9,573.2 L406.2,572.7 L407.5,572.1 L408.8,571.5 L410.1,570.8 L411.5,570.2 L412.8,569.6 L414.1,569.1 L415.4,568.7 L416.7,568.6 L418.0,568.7 L419.3,569.0 L420.7,569.7 L422.0,570.6 L423.3,571.8 L424.6,573.1 L425.9,574.7 L427.2,576.4 L428.5,578.0 L429.9,579.7 L431.2,581.2 L432.5,582.5 L433.8,583.6 L435.1,584.4 L436.4,584.9 L437.7,585.0 L439.1,584.7 L440.4,584.2 L441.7,583.3 L443.0,582.2 L444.3,580.9 L445.6,579.5 L446.9,578.0 L448.3,576.5 L449.6,575.0 L450.9,573.7 L452.2,572.5 L453.5,571.5 L454.8,570.7 L456.1,570.1"/>
</g>
<path d="M115.7,121.9 L116.3,121.9 L116.8,121.9 L117.4,122.0 L118.0,122.0 L118.5,122.0 L119.1,122.0 L119.7,122.0 L120.2,122.0 L120.8,121.9 L121.4,121.9 L121.9,121.9 L122.5,121.8 L123.1,121.8 L123.7,121.7 L124.2,121.6 L124.8,121.5 L125.4,121.4 L125.9,121.3 L126.5,121.2 L127.1,121.0 L127.6,120.8 L128.2,120.7 L128.8,120.5 L129.3,120.3 L129.9,120.1 L130.5,119.9 L131.0,119.8 L131.6,119.6 L132.2,119.4 L132.7,119.2 L133.3,119.0 L133.9,118.8 L134.4,118.7 L135.0,118.5 L135.6,118.4 L136.2,118.2 L136.7,118.1 L137.3,118.0 L137.9,117.9 L138.4,117.9 L139.0,117.8 L139.6,117.8 L140.1,117.8 L140.7,117.8 L141.3,117.9 L141.8,117.9 L142.4,118.0 L143.0,118.1 L143.5,118.2 L144.1,118.3 L144.7,118.5 L145.2,118.6 L145.8,118.8 L146.4,119.0 L146.9,119.1 L147.5,119.3 L148.1,119.5 L148.7,119.7 L149.2,119.9 L149.8,120.2 L150.4,120.4 L150.9,120.6 L151.5,120.8 L152.1,121.0 L152.6,121.2 L153.2,121.4 L153.8,121.6 L154.3,121.8 L154.9,121.9 L155.5,122.1 L156.0,122.2 L156.6,122.3 L157.2,122.4 L157.7,122.5 L158.3,122.5 L158.9,122.5 L159.4,122.5 L160.0,122.5 L160.6,122.5 L161.1,122.4 L161.7,122.4 L162.3,122.3 L162.9,122.2 L163.4,122.1 L164.0,122.0 L164.6,121.9 L165.1,121.8 L165.7,121.7 L166.3,121.6 L166.8,121.5 L167.4,121.4 L168.0,121.4 L168.5,121.3 L169.1,121.2 L169.7,121.2 L170.2,121.1 L170.8,121.1 L171.4,121.0 L171.9,121.0 L172.5,121.0 L173.1,121.0 L173.6,120.9 L174.2,120.9 L174.8,120.9 L175.4,120.9 L175.9,120.9 L176.5,120.9 L177.1,120.9 L177.6,120.9 L178.2,120.9 L178.8,120.9 L179.3,120.9 L179.9,121.0 L180.5,121.0 L181.0,121.0 L181.6,121.0 L182.2,121.1 L182.7,121.1 L183.3,121.1 L183.9,121.2 L184.4,121.2 L185.0,121.2 L185.6,121.3 L186.1,121.3 L186.7,121.4 L187.3,121.4 L187.9,121.4 L188.4,121.5 L189.0,121.5 L189.6,121.6 L190.1,121.6 L190.7,121.7 L191.3,121.7 L191.8,121.8 L192.4,121.8 L193.0,121.8 L193.5,121.9 L194.1,121.9 L194.7,121.9 L195.2,121.9 L195.8,121.9 L196.4,121.9 L196.9,121.9 L197.5,121.9 L198.1,121.9 L198.6,121.8 L199.2,121.8 L199.8,121.7 L200.3,121.7 L200.9,121.6 L201.5,121.6 L202.1,121.5 L202.6,121.4 L203.2,121.3 L203.8,121.2 L204.3,121.1 L204.9,121.0 L205.5,120.9 L206.0,120.8 L206.6,120.7 L207.2,120.6 L207.7,120.5 L208.3,120.4 L208.9,120.3 L209.4,120.1 L210.0,120.0 L210.6,119.9 L211.1,119.7 L211.7,119.6 L212.3,119.5 L212.8,119.3 L213.4,119.2 L214.0,119.1 L214.6,119.0 L215.1,118.8 L215.7,118.7 L216.3,118.6 L216.8,118.5 L217.4,118.4 L218.0,118.3 L218.5,118.2 L219.1,118.1 L219.7,118.0 L220.2,117.9 L220.8,117.8 L221.4,117.8 L221.9,117.7 L222.5,117.7 L223.1,117.6 L223.6,117.6 L224.2,117.6 L224.8,117.6 L225.3,117.6 L225.9,117.6 L226.5,117.6 L227.1,117.7 L227.6,117.7 L228.2,117.7 L228.8,117.7 L229.3,117.8 L229.9,117.8 L230.5,117.8 L231.0,117.8 L231.6,117.8 L232.2,117.8 L232.7,117.8 L233.3,117.8 L233.9,117.7 L234.4,117.7 L235.0,117.6 L235.6,117.6 L236.1,117.6 L236.7,117.5 L237.3,117.5 L237.8,117.5 L238.4,117.5 L239.0,117.5 L239.5,117.6 L240.1,117.7 L240.7,117.8 L241.3,118.0 L241.8,118.2 L242.4,118.4 L243.0,118.7 L243.5,119.0 L244.1,119.4 L244.7,119.7 L245.2,120.1 L245.8,120.5 L246.4,121.0 L246.9,121.4 L247.5,122.0 L248.1,122.5 L248.6,123.1 L249.2,123.8 L249.8,124.6 L250.3,125.4 L250.9,126.3 L251.5,127.4 L252.0,128.6 L252.6,130.0 L253.2,131.6 L253.8,133.5 L254.3,135.5 L254.9,137.7 L255.5,139.9 L256.0,142.0 L256.6,143.9 L257.2,145.5 L257.7,146.6 L258.3,147.1 L258.9,147.0 L259.4,146.0 L260.0,144.4 L260.6,142.0 L261.1,138.9 L261.7,135.3 L262.3,131.5 L262.8,127.6 L263.4,123.7 L264.0,119.8 L264.5,116.1 L265.1,112.7 L265.7,109.6 L266.3,107.0 L266.8,104.9 L267.4,103.3 L268.0,102.1 L268.5,101.4 L269.1,101.0 L269.7,101.1 L270.2,101.6 L270.8,102.4 L271.4,103.4 L271.9,104.3 L272.5,105.3 L273.1,106.2 L273.6,107.0 L274.2,107.6 L274.8,108.2 L275.3,108.6 L275.9,109.0 L276.5,109.4 L277.0,109.8 L277.6,110.3 L278.2,110.9 L278.7,111.6 L279.3,112.4 L279.9,113.3 L280.5,114.2 L281.0,115.3 L281.6,116.5 L282.2,117.6 L282.7,118.8 L283.3,119.9 L283.9,120.8 L284.4,121.5 L285.0,122.1 L285.6,122.4 L286.1,122.5 L286.7,122.5 L287.3,122.5 L287.8,122.3 L288.4,122.1 L289.0,122.0 L289.5,121.9 L290.1,121.8 L290.7,121.9 L291.2,122.2 L291.8,122.5 L292.4,123.0 L293.0,123.7 L293.5,124.4 L294.1,125.1 L294.7,125.9 L295.2,126.7 L295.8,127.5 L296.4,128.1 L296.9,128.6 L297.5,128.9 L298.1,128.9 L298.6,128.6 L299.2,128.1 L299.8,127.2 L300.3,126.2 L300.9,124.8 L301.5,123.3 L302.0,121.7 L302.6,120.0 L303.2,118.4 L303.7,116.8 L304.3,115.4 L304.9,114.2 L305.4,113.3 L306.0,112.7 L306.6,112.5 L307.2,112.6 L307.7,113.2 L308.3,114.2 L308.9,115.7 L309.4,117.5 L310.0,119.5 L310.6,121.4 L311.1,123.2 L311.7,124.6 L312.3,125.6 L312.8,126.4 L313.4,126.9 L314.0,127.1 L314.5,127.1 L315.1,126.9 L315.7,126.5 L316.2,126.1 L316.8,125.6 L317.4,125.0 L317.9,124.5 L318.5,124.1 L319.1,123.7 L319.7,123.5 L320.2,123.4 L320.8,123.5 L321.4,123.6 L321.9,123.9 L322.5,124.3 L323.1,124.6 L323.6,124.9 L324.2,125.1 L324.8,125.2 L325.3,125.2 L325.9,124.9 L326.5,124.5 L327.0,124.0 L327.6,123.3 L328.2,122.6 L328.7,121.7 L329.3,120.9 L329.9,120.0 L330.4,119.1 L331.0,118.3 L331.6,117.6 L332.2,117.0 L332.7,116.5 L333.3,116.2 L333.9,116.1 L334.4,116.1 L335.0,116.2 L335.6,116.4 L336.1,116.7 L336.7,117.0 L337.3,117.4 L337.8,117.8 L338.4,118.1 L339.0,118.5 L339.5,118.8 L340.1,119.1 L340.7,119.3 L341.2,119.5 L341.8,119.7 L342.4,119.9 L342.9,120.0 L343.5,120.1 L344.1,120.2 L344.6,120.2 L345.2,120.3 L345.8,120.3 L346.4,120.3 L346.9,120.3 L347.5,120.3 L348.1,120.3 L348.6,120.3 L349.2,120.2 L349.8,120.2 L350.3,120.2 L350.9,120.2 L351.5,120.1 L352.0,120.1 L352.6,120.1 L353.2,120.1 L353.7,120.1 L354.3,120.1 L354.9,120.1 L355.4,120.1 L356.0,120.1 L356.6,120.1 L357.1,120.1 L357.7,120.1 L358.3,120.1 L358.9,120.2 L359.4,120.2 L360.0,120.3 L360.6,120.3 L361.1,120.4 L361.7,120.5 L362.3,120.6 L362.8,120.7 L363.4,120.8 L364.0,120.9 L364.5,121.1 L365.1,121.2 L365.7,121.3 L366.2,121.4 L366.8,121.6 L367.4,121.7 L367.9,121.8 L368.5,121.9 L369.1,122.0 L369.6,122.1 L370.2,122.2 L370.8,122.3 L371.4,122.3 L371.9,122.4 L372.5,122.4 L373.1,122.4 L373.6,122.4 L374.2,122.3 L374.8,122.3 L375.3,122.2 L375.9,122.1 L376.5,122.0 L377.0,121.9 L377.6,121.7 L378.2,121.6 L378.7,121.4 L379.3,121.3 L379.9,121.1 L380.4,121.0 L381.0,120.8 L381.6,120.6 L382.1,120.5 L382.7,120.3 L383.3,120.1 L383.8,120.0 L384.4,119.8 L385.0,119.7 L385.6,119.5 L386.1,119.4 L386.7,119.3 L387.3,119.2 L387.8,119.1 L388.4,119.0 L389.0,118.9 L389.5,118.9 L390.1,118.8 L390.7,118.8 L391.2,118.8 L391.8,118.8 L392.4,118.9 L392.9,118.9 L393.5,119.0 L394.1,119.1 L394.6,119.2 L395.2,119.3 L395.8,119.4 L396.3,119.5 L396.9,119.7 L397.5,119.8 L398.1,120.0 L398.6,120.1 L399.2,120.3 L399.8,120.4 L400.3,120.6 L400.9,120.8 L401.5,120.9 L402.0,121.1 L402.6,121.2 L403.2,121.4 L403.7,121.5 L404.3,121.6 L404.9,121.7 L405.4,121.8 L406.0,121.8 L406.6,121.9 L407.1,121.9 L407.7,121.9 L408.3,121.8 L408.8,121.8 L409.4,121.7 L410.0,121.5 L410.6,121.4 L411.1,121.2 L411.7,121.0 L412.3,120.8 L412.8,120.6 L413.4,120.4 L414.0,120.3 L414.5,120.1 L415.1,120.0 L415.7,119.9 L416.2,119.9 L416.8,119.9 L417.4,120.0 L417.9,120.1 L418.5,120.2 L419.1,120.4 L419.6,120.5 L420.2,120.7 L420.8,120.9 L421.3,121.1 L421.9,121.3 L422.5,121.4 L423.0,121.6 L423.6,121.7 L424.2,121.8 L424.8,121.8 L425.3,121.9 L425.9,121.9 L426.5,121.8 L427.0,121.8 L427.6,121.7 L428.2,121.6 L428.7,121.5 L429.3,121.4 L429.9,121.3 L430.4,121.2 L431.0,121.0 L431.6,120.9 L432.1,120.8 L432.7,120.6 L433.3,120.5 L433.8,120.4 L434.4,120.3 L435.0,120.2 L435.5,120.1 L436.1,120.1 L436.7,120.0 L437.3,120.0 L437.8,120.0 L438.4,119.9 L439.0,119.9 L439.5,119.9 L440.1,119.9 L440.7,119.9 L441.2,119.9 L441.8,119.9 L442.4,120.0 L442.9,120.0 L443.5,120.0 L444.1,120.0 L444.6,120.0 L445.2,120.0 L445.8,120.0 L446.3,120.0 L446.9,120.0 L447.5,120.0 L448.0,120.0 L448.6,120.0 L449.2,119.9 L449.8,119.9 L450.3,119.9 L450.9,119.9 L451.5,119.8 L452.0,119.8 L452.6,119.8 L453.2,119.8 L453.7,119.7 L454.3,119.7 L454.9,119.7 L455.4,119.6 L456.0,119.6" fill="none" stroke="#f00" stroke-width="1.55" stroke-linejoin="round" stroke-linecap="round"/>
<g stroke="#000" stroke-width="1.2" fill="none">
<rect x="115.5" y="155.5" width="340.5" height="624.0"/>
<path d="M184.0,779.5 v-6.5 M184.0,155.5 v6.5"/>
<path d="M252.0,779.5 v-6.5 M252.0,155.5 v6.5"/>
<path d="M320.0,779.5 v-6.5 M320.0,155.5 v6.5"/>
<path d="M388.0,779.5 v-6.5 M388.0,155.5 v6.5"/>
<path d="M115.5,764.2 h6.5 M456.0,764.2 h-6.5"/>
<path d="M115.5,662.0 h6.5 M456.0,662.0 h-6.5"/>
<path d="M115.5,559.7 h6.5 M456.0,559.7 h-6.5"/>
<path d="M115.5,457.5 h6.5 M456.0,457.5 h-6.5"/>
<path d="M115.5,355.2 h6.5 M456.0,355.2 h-6.5"/>
<path d="M115.5,253.0 h6.5 M456.0,253.0 h-6.5"/>
</g>
<g font-size="19.2">
<text x="113.0" y="807.5" text-anchor="middle">-20</text>
<text x="181.0" y="807.5" text-anchor="middle">-10</text>
<text x="252.0" y="807.5" text-anchor="middle">0</text>
<text x="320.0" y="807.5" text-anchor="middle">10</text>
<text x="388.0" y="807.5" text-anchor="middle">20</text>
<text x="456.0" y="807.5" text-anchor="middle">30</text>
<text x="108.3" y="772.9" text-anchor="end">82</text>
<text x="108.3" y="670.7" text-anchor="end">83</text>
<text x="108.3" y="568.4" text-anchor="end">84</text>
<text x="108.3" y="466.2" text-anchor="end">85</text>
<text x="108.3" y="363.9" text-anchor="end">86</text>
<text x="108.3" y="261.7" text-anchor="end">87</text>
<text x="183.8" y="836" textLength="195.6" lengthAdjust="spacingAndGlyphs">Time relative to P (sec)</text>
<text transform="translate(71.5,531) rotate(-90)" textLength="121.5" lengthAdjust="spacingAndGlyphs">Distance (deg)</text>
</g>
<clipPath id="mc1"><rect x="553.4" y="99.5" width="271.8" height="260.0"/></clipPath>
<g clip-path="url(#mc1)">
<g fill="none" stroke="#000" stroke-width="1.35" stroke-linejoin="round" stroke-linecap="round">
<path d="M553.2,125.2 L553.9,125.5 L554.6,125.8 L555.3,126.0 L555.9,126.4 L556.5,126.7 L557.1,127.1 L557.7,127.6 L558.2,128.1 L558.8,128.5 L559.3,129.0 L559.9,129.4 L560.6,129.7 L561.3,129.9 L562.0,130.2 L562.6,130.4 L563.2,130.7 L563.8,131.0 L564.4,131.4 L565.0,131.8 L565.7,132.3 L566.5,132.8 L567.2,133.3 L567.7,133.9 L567.9,134.3 L567.7,134.7 L567.1,135.0 L566.2,135.3 L565.4,135.6 L564.7,135.9 L564.4,136.3 L564.5,136.9 L565.0,137.5 L565.6,138.1 L566.4,138.6 L567.1,139.0 L567.8,139.2 L568.5,139.3 L569.2,139.2 L569.9,139.2 L570.6,139.0 L571.3,138.8 L572.0,138.6 L572.7,138.4 L573.3,138.1 L574.0,137.8 L574.7,137.5 L575.4,137.2 L576.1,137.0 L576.7,136.8 L577.4,136.8 L578.1,136.8 L578.8,137.0 L579.5,137.2 L580.2,137.6 L580.8,138.1 L581.4,138.8 L581.7,139.4 L581.7,139.9 L581.2,140.3 L580.5,140.6 L579.7,140.9 L579.0,141.3 L578.5,141.9 L578.2,142.6 L578.2,143.3 L578.4,144.0 L578.8,144.6 L579.3,145.1 L579.9,145.6 L580.6,146.0 L581.2,146.4 L581.9,146.8 L582.6,147.1 L583.2,147.2 L583.9,147.1 L584.5,146.9 L585.1,146.4 L585.6,145.8 L586.0,145.0 L586.4,144.1 L586.7,143.4 L587.0,143.1 L587.2,143.4 L587.3,144.0 L587.3,144.9 L587.1,145.9 L586.6,146.7 L586.0,147.4 L585.3,147.8 L584.8,148.2 L584.6,148.5 L584.9,148.8 L585.5,149.2 L586.3,149.5 L587.2,149.8 L588.1,150.1 L589.0,150.3 L589.7,150.5 L590.4,150.7 L591.0,150.9 L591.6,151.1 L592.3,151.3 L592.9,151.5 L593.6,151.8 L594.2,152.1 L594.9,152.4 L595.6,152.7 L596.2,153.0 L596.9,153.3 L597.6,153.5 L598.3,153.8 L598.9,154.0 L599.6,154.3 L600.3,154.5 L601.0,154.7 L601.6,155.0 L602.3,155.2 L603.0,155.5 L603.6,155.7 L604.3,156.0 L605.0,156.2 L605.7,156.5 L606.4,156.8 L607.1,157.1 L607.8,157.3 L608.5,157.5 L609.2,157.6 L609.9,157.6 L610.6,157.5 L611.3,157.3 L611.9,157.0 L612.6,156.7 L613.2,156.2 L613.7,155.8 L614.3,155.3 L614.8,154.8 L615.2,154.2 L615.6,153.5 L615.9,152.9 L616.1,152.2 L616.0,151.5 L615.7,150.8 L615.3,150.2 L614.8,149.6 L614.3,149.1 L613.7,148.6 L613.2,148.1 L612.8,147.6 L612.4,147.0 L612.1,146.3 L611.8,145.7 L611.5,145.0 L611.2,144.3 L610.9,143.7 L610.6,143.0 L610.2,142.4 L609.9,141.8 L609.6,141.1 L609.3,140.5 L609.0,139.8 L608.8,139.1 L608.5,138.5 L608.2,137.8 L607.9,137.1 L607.6,136.5 L607.2,135.9 L606.8,135.3 L606.4,134.7 L606.0,134.1 L605.6,133.5 L605.1,132.9 L604.7,132.4 L604.2,131.8 L603.7,131.3 L603.1,130.9 L602.5,130.4 L601.9,130.1 L601.3,129.8 L600.6,129.5 L600.0,129.2 L599.3,129.0 L598.6,128.7 L597.9,128.5 L597.2,128.2 L596.6,127.9 L595.9,127.7 L595.2,127.4 L594.5,127.2 L593.8,127.1 L593.1,126.9 L592.4,126.8 L591.7,126.7 L591.0,126.5 L590.3,126.4 L589.6,126.2 L589.0,125.9 L588.3,125.6 L587.7,125.3 L587.0,124.9 L586.4,124.5 L585.8,124.1 L585.2,123.7 L584.7,123.2 L584.1,122.7 L583.6,122.2 L583.2,121.6 L582.8,121.0 L582.5,120.4 L582.2,119.7 L581.9,119.0 L581.8,118.3 L581.6,117.6 L581.5,116.9 L581.4,116.2 L581.2,115.5 L580.9,114.9 L580.5,114.3 L580.1,113.7 L579.6,113.2 L579.0,112.7 L578.5,112.2 L578.0,111.6 L577.4,111.1 L576.9,110.6 L576.4,110.1 L575.9,109.6 L575.4,109.1 L574.9,108.6 L574.4,108.1 L573.9,107.6 L573.3,107.1 L572.8,106.6 L572.3,106.1 L571.8,105.6 L571.4,105.0 L570.9,104.5 L570.5,103.9 L570.2,103.2 L569.8,102.6 L569.5,101.9 L569.2,101.3 L569.0,100.6 L568.7,99.9 L568.5,99.3"/>
<path d="M553.2,117.2 L553.6,117.2 L553.9,117.3 L554.3,117.3 L554.7,117.4 L555.1,117.5 L555.5,117.7 L556.0,117.8 L556.4,118.0 L556.9,118.2 L557.2,118.4 L557.5,118.6 L557.6,118.9 L557.6,119.1 L557.3,119.3 L557.0,119.5 L556.5,119.7 L556.1,119.9 L555.6,120.0 L555.1,120.1 L554.7,120.2 L554.3,120.3 L554.0,120.3 L553.6,120.4 L553.2,120.4"/>
<path d="M587.2,99.3 L587.5,100.0 L587.8,100.7 L588.0,101.4 L588.1,102.1 L588.0,102.8 L587.7,103.6 L587.3,104.2 L586.6,104.7 L585.9,105.0 L585.1,105.3 L584.5,105.7 L584.1,106.2 L584.0,106.8 L584.2,107.6 L584.5,108.3 L585.0,109.0 L585.5,109.6 L586.0,110.1 L586.6,110.5 L587.2,111.0 L587.7,111.5 L588.3,112.0 L588.9,112.4 L589.5,112.9 L590.1,113.3 L590.8,113.6 L591.5,113.9 L592.2,114.1 L593.0,114.2 L593.7,114.3 L594.4,114.3 L595.1,114.3 L595.9,114.2 L596.7,114.1 L597.5,113.9 L598.2,113.6 L598.9,113.3 L599.5,112.8 L599.8,112.2 L600.0,111.6 L600.1,110.8 L600.3,110.0 L600.7,109.1 L601.2,108.3 L601.8,107.7 L602.3,107.3 L602.6,107.4 L602.9,107.9 L603.0,108.7 L603.1,109.7 L603.2,110.6 L603.3,111.4 L603.6,112.1 L603.9,112.7 L604.4,113.2 L605.0,113.7 L605.6,114.1 L606.2,114.5 L606.8,115.0 L607.3,115.6 L607.7,116.2 L608.0,116.9 L608.3,117.6 L608.5,118.3 L608.7,119.1 L608.8,119.8 L608.9,120.5 L608.9,121.3 L609.0,122.1 L609.1,122.8 L609.4,123.5 L610.0,124.1 L610.6,124.5 L611.3,124.7 L612.0,124.5 L612.6,124.0 L613.1,123.4 L613.7,122.8 L614.1,122.2 L614.6,121.7 L615.1,121.2 L615.5,120.5 L616.0,119.8 L616.4,119.0 L616.9,118.2 L617.3,117.5 L617.8,117.2 L618.3,117.3 L618.8,117.8 L619.2,118.5 L619.4,119.4 L619.5,120.1 L619.5,120.9 L619.4,121.6 L619.3,122.3 L619.2,123.0 L619.0,123.7 L618.9,124.5 L618.8,125.2 L618.7,126.0 L618.7,126.8 L618.7,127.5 L618.8,128.3 L619.1,129.0 L619.5,129.6 L620.1,130.1 L620.7,130.5 L621.4,130.8 L622.2,131.0 L622.9,131.1 L623.6,131.1 L624.4,131.0 L625.1,130.8 L625.8,130.6 L626.6,130.3 L627.4,130.0 L628.2,129.8 L628.9,129.6 L629.7,129.6 L630.4,129.9 L631.0,130.4 L631.6,131.2 L631.9,132.0 L632.0,132.6 L631.8,132.8 L631.3,132.7 L630.5,132.4 L629.7,132.0 L628.8,131.7 L628.0,131.5 L627.3,131.7 L626.7,132.0 L626.1,132.5 L625.4,133.0 L624.7,133.6 L623.9,134.2 L623.3,134.8 L622.8,135.3 L622.8,135.7 L623.1,135.9 L623.8,136.1 L624.6,136.3 L625.5,136.5 L626.4,136.9 L627.0,137.3 L627.5,137.9 L627.9,138.5 L628.3,139.1 L628.6,139.8 L628.9,140.5 L629.3,141.2 L629.7,141.8 L630.1,142.4 L630.7,142.9 L631.3,143.4 L631.9,143.8 L632.6,144.1 L633.3,144.3 L633.9,144.5 L634.6,144.7 L635.3,144.9 L636.0,145.2 L636.9,145.6 L637.8,146.1 L638.5,146.6 L638.9,147.0 L638.8,147.3 L638.2,147.4 L637.3,147.5 L636.4,147.6 L635.8,148.0 L635.4,148.5 L635.2,149.3 L635.0,150.1 L634.8,150.9 L634.4,151.6 L633.9,152.3 L633.5,153.0 L633.2,153.6 L633.2,154.2 L633.4,154.7 L634.0,155.2 L634.6,155.7 L635.3,156.3 L635.9,156.8 L636.4,157.4 L636.8,158.1 L637.1,158.7 L637.4,159.4 L637.6,160.1 L637.9,160.8 L638.1,161.6 L638.3,162.3 L638.5,163.0 L638.7,163.8 L638.8,164.5 L638.9,165.2 L639.0,165.8 L639.1,166.5 L639.1,167.1 L639.2,167.9 L639.2,168.7 L639.1,169.6 L639.1,170.6 L639.0,171.7 L638.9,172.7 L638.8,173.6 L638.6,174.2 L638.4,174.4 L638.2,174.1 L637.9,173.5 L637.5,172.7 L637.1,171.9 L636.6,171.4 L636.0,171.3 L635.3,171.5 L634.6,171.9 L633.9,172.5 L633.2,173.1 L632.6,173.7 L631.9,174.1 L631.4,174.6 L630.8,175.0 L630.3,175.5 L629.8,175.9 L629.3,176.4 L628.8,177.0 L628.3,177.5 L627.7,178.1 L627.1,178.6 L626.4,179.2 L625.8,179.8 L625.3,180.3 L625.1,180.9 L625.1,181.6 L625.5,182.2 L625.9,182.9 L626.2,183.6 L626.2,184.4 L625.8,185.1 L625.1,185.7 L624.4,185.9 L623.8,185.6 L623.3,185.0 L623.0,184.3 L622.7,183.4 L622.6,182.6 L622.6,181.9 L622.8,181.2 L623.0,180.5 L623.4,179.9 L623.8,179.3 L624.3,178.6 L624.7,178.0 L625.1,177.4 L625.5,176.7 L625.8,176.1 L626.2,175.4 L626.6,174.8 L627.1,174.2 L627.5,173.6 L627.9,173.0 L628.3,172.3 L628.7,171.7 L629.1,171.1 L629.4,170.4 L629.7,169.7 L630.0,169.1 L630.3,168.4 L630.6,167.6 L630.8,166.9 L630.9,166.2 L630.8,165.4 L630.5,164.7 L630.1,164.1 L629.5,163.6 L628.8,163.2 L628.0,163.1 L627.2,163.2 L626.5,163.5 L625.9,164.0 L625.3,164.4 L624.7,164.6 L624.0,164.5 L623.3,164.3 L622.6,163.9 L621.8,163.5 L621.1,163.1 L620.4,162.8 L619.7,162.6 L619.0,162.4 L618.3,162.2 L617.6,162.1 L616.8,162.0 L616.1,162.0 L615.3,161.9 L614.6,161.9 L613.8,161.9 L613.1,161.8 L612.3,161.8 L611.6,161.7 L610.9,161.6 L610.1,161.6 L609.4,161.6 L608.6,161.6 L607.9,161.7 L607.1,161.8 L606.4,161.9 L605.6,161.9 L604.9,161.9 L604.2,161.8 L603.4,161.7 L602.7,161.5 L602.0,161.2 L601.3,160.9 L600.6,160.6 L599.9,160.3 L599.2,160.0 L598.6,159.7 L597.9,159.4 L597.2,159.1 L596.5,158.9 L595.8,158.6 L595.2,158.3 L594.5,158.1 L593.8,157.8 L593.1,157.5 L592.4,157.1 L591.7,156.8 L590.9,156.4 L590.2,156.1 L589.5,156.0 L588.9,156.2 L588.4,156.7 L587.9,157.4 L587.6,158.1 L587.3,158.8 L587.0,159.6 L586.9,160.3 L586.8,161.0 L586.7,161.7 L586.7,162.5 L586.7,163.2 L586.7,164.0 L586.9,164.7 L587.1,165.4 L587.3,166.1 L587.6,166.8 L588.0,167.5 L588.4,168.1 L588.8,168.7 L589.2,169.4 L589.6,170.0 L590.1,170.6 L590.5,171.2 L590.9,171.8 L591.3,172.5 L591.7,173.1 L592.1,173.7 L592.4,174.4 L592.8,175.0 L593.1,175.7 L593.5,176.4 L593.8,177.0 L594.1,177.7 L594.4,178.4 L594.7,179.1 L594.9,179.8 L595.2,180.5 L595.4,181.2 L595.6,181.9 L595.8,182.7 L596.0,183.4 L596.2,184.1 L596.4,184.8 L596.6,185.5 L596.8,186.2 L597.0,187.0 L597.2,187.7 L597.4,188.4 L597.6,189.1 L597.7,189.9 L597.9,190.6 L598.1,191.3 L598.4,192.0 L598.7,192.7 L599.1,193.3 L599.5,193.9 L599.9,194.5 L600.4,195.1 L600.9,195.7 L601.5,196.3 L602.0,196.9 L602.4,197.5 L602.6,198.1 L602.5,198.8 L602.2,199.4 L601.8,200.1 L601.3,200.9 L601.0,201.7 L600.7,202.4 L600.7,203.2 L600.9,203.8 L601.3,204.3 L602.0,204.7 L602.8,204.9 L603.6,205.1 L604.4,205.2 L604.9,205.5 L605.2,206.0 L605.3,206.7 L605.3,207.5 L605.2,208.4 L605.2,209.4 L605.1,210.3 L605.0,211.2 L604.8,211.8 L604.4,212.3 L603.9,212.4 L603.1,212.3 L602.4,211.8 L601.9,211.0 L601.6,210.1 L601.5,209.1 L601.4,208.2 L601.4,207.8 L601.3,207.9 L601.2,208.5 L600.9,209.4 L600.8,210.3 L600.6,211.2 L600.6,212.0 L600.6,212.7 L600.6,213.4 L600.8,214.0 L601.0,214.7 L601.3,215.4 L601.7,216.1 L602.2,216.7 L602.8,217.2 L603.4,217.6 L604.1,217.9 L604.8,218.1 L605.6,218.2 L606.3,218.2 L607.1,218.2 L607.8,218.1 L608.5,218.0 L609.3,218.0 L610.0,217.9 L610.8,217.9 L611.6,218.0 L612.3,218.1 L613.0,218.2 L613.8,218.3 L614.5,218.5 L615.1,218.6 L615.8,218.9 L616.5,219.2 L617.2,219.6 L617.9,220.2 L618.5,220.8 L618.7,221.4 L618.4,221.9 L617.6,222.2 L616.8,222.2 L616.0,221.9 L615.4,221.5 L614.8,221.1 L614.2,220.7 L613.5,220.5 L612.8,220.5 L612.1,220.6 L611.3,220.8 L610.5,221.0 L609.7,221.1 L608.9,221.1 L608.2,221.2 L607.4,221.2 L606.7,221.4 L606.0,221.6 L605.4,221.9 L604.8,222.4 L604.3,223.0 L603.9,223.6 L603.7,224.3 L603.6,225.1 L603.6,225.8 L603.6,226.6 L603.7,227.4 L603.8,228.1 L603.8,228.9 L603.9,229.6 L604.0,230.4 L604.1,231.1 L604.2,231.8 L604.4,232.6 L604.5,233.3 L604.7,234.0 L604.8,234.8 L604.9,235.5 L604.8,236.2 L604.7,237.0 L604.6,237.7 L604.5,238.5 L604.4,239.2 L604.3,239.9 L604.3,240.7 L604.3,241.4 L604.4,242.2 L604.4,242.9 L604.5,243.7 L604.5,244.4 L604.5,245.1 L604.4,245.9 L604.2,246.6 L604.1,247.3 L603.9,248.1 L603.8,248.8 L603.7,249.6 L603.6,250.3 L603.5,251.0 L603.5,251.8 L603.4,252.5 L603.4,253.3 L603.3,254.0 L603.3,254.8 L603.2,255.5 L603.0,256.2 L602.9,257.0 L602.8,257.7 L602.6,258.4 L602.4,259.1 L602.2,259.9 L602.0,260.6 L601.8,261.3 L601.6,262.0 L601.5,262.8 L601.3,263.5 L601.3,264.2 L601.2,265.0 L601.2,265.7 L601.2,266.5 L601.2,267.2 L601.2,268.0 L601.2,268.7 L601.2,269.5 L601.2,270.2 L601.2,270.9 L601.2,271.7 L601.2,272.4 L601.2,273.2 L601.2,273.9 L601.1,274.7 L601.1,275.4 L601.1,276.2 L601.1,276.9 L601.1,277.6 L601.1,278.4 L601.0,279.1 L601.0,279.9 L601.0,280.6 L600.9,281.4 L600.9,282.1 L600.8,282.9 L600.8,283.6 L600.7,284.4 L600.7,285.1 L600.6,285.8 L600.6,286.6 L600.5,287.3 L600.4,288.1 L600.4,288.8 L600.3,289.5 L600.2,290.3 L600.0,291.0 L599.9,291.7 L599.7,292.5 L599.4,293.2 L599.1,293.9 L598.8,294.7 L598.4,295.4 L598.1,296.1 L597.9,296.9 L597.7,297.6 L597.6,298.3 L597.6,299.0 L597.8,299.8 L598.1,300.5 L598.6,301.2 L599.0,301.9 L599.3,302.5 L599.4,303.1 L599.2,303.6 L598.7,304.1 L598.0,304.5 L597.3,305.0 L596.6,305.5 L596.0,306.1 L595.5,306.7 L595.2,307.3 L594.9,308.1 L594.7,308.8 L594.6,309.5 L594.5,310.3 L594.4,311.0 L594.2,311.8 L594.0,312.5 L593.9,313.2 L593.7,313.9 L593.4,314.6 L593.2,315.4 L593.0,316.1 L592.7,316.8 L592.5,317.5 L592.3,318.2 L592.2,319.0 L592.1,319.7 L592.2,320.4 L592.2,321.2 L592.4,321.9 L592.5,322.6 L592.7,323.4 L592.9,324.1 L593.1,324.8 L593.3,325.6 L593.4,326.3 L593.6,327.0 L593.7,327.8 L593.8,328.5 L593.8,329.2 L593.9,330.0 L593.9,330.7 L593.9,331.5 L593.8,332.2 L593.8,333.0 L593.8,333.7 L593.8,334.5 L593.8,335.2 L593.9,336.0 L594.0,336.7 L594.2,337.4 L594.5,338.1 L594.8,338.8 L595.1,339.5 L595.4,340.1 L595.8,340.8 L596.1,341.5 L596.5,342.2 L596.8,342.8 L597.1,343.5 L597.4,344.2 L597.7,344.9 L598.0,345.6 L598.2,346.3 L598.3,347.0 L598.4,347.8 L598.5,348.5 L598.5,349.2 L598.6,350.0 L598.6,350.7 L598.7,351.5 L598.8,352.2 L598.9,353.0 L599.0,353.7 L599.2,354.4 L599.4,355.1 L599.6,355.9 L599.9,356.6 L600.1,357.3 L600.3,358.0 L600.6,358.7 L600.8,359.4 L601.0,360.1"/>
</g>
<g stroke="#999" stroke-width="1" stroke-linejoin="miter">
<path d="M604.0,178.3 L611.5,191.3 L596.5,191.3 Z" fill="#00008b"/>
<path d="M643.6,196.8 L651.1,209.8 L636.1,209.8 Z" fill="#ffffff"/>
<path d="M645.6,192.9 L653.1,205.9 L638.1,205.9 Z" fill="#00008b"/>
<path d="M647.8,192.6 L655.3,205.6 L640.3,205.6 Z" fill="#f4f4ff"/>
<path d="M653.8,197.8 L661.3,210.8 L646.3,210.8 Z" fill="#b0b0f8"/>
<path d="M644.8,190.7 L652.3,203.7 L637.3,203.7 Z" fill="#8484dc"/>
<path d="M644.4,189.5 L651.9,202.5 L636.9,202.5 Z" fill="#8484dc"/>
<path d="M637.7,210.9 L645.2,223.9 L630.2,223.9 Z" fill="#ffe4e4"/>
<path d="M640.0,212.0 L647.5,225.0 L632.5,225.0 Z" fill="#ffdfe2"/>
<path d="M640.2,212.7 L647.7,225.7 L632.7,225.7 Z" fill="#ffdfe2"/>
<path d="M648.3,235.3 L655.8,248.3 L640.8,248.3 Z" fill="#c8c8fa"/>
<path d="M650.3,236.9 L657.8,249.9 L642.8,249.9 Z" fill="#ffffff"/>
<path d="M650.6,237.7 L658.1,250.7 L643.1,250.7 Z" fill="#ffffff"/>
<path d="M697.4,207.3 L704.9,220.3 L689.9,220.3 Z" fill="#a8a8f4"/>
<path d="M616.3,260.4 L623.8,273.4 L608.8,273.4 Z" fill="#b0b0f8"/>
<path d="M644.4,271.8 L651.9,284.8 L636.9,284.8 Z" fill="#ebebff"/>
<path d="M651.3,271.2 L658.8,284.2 L643.8,284.2 Z" fill="#c8c8fa"/>
<path d="M647.8,276.8 L655.3,289.8 L640.3,289.8 Z" fill="#c8c8fa"/>
<path d="M656.1,284.7 L663.6,297.7 L648.6,297.7 Z" fill="#c8c8fa"/>
<path d="M662.8,285.0 L670.3,298.0 L655.3,298.0 Z" fill="#c8c8fa"/>
<path d="M658.3,285.0 L665.8,298.0 L650.8,298.0 Z" fill="#4040b8"/>
<path d="M662.8,290.3 L670.3,303.3 L655.3,303.3 Z" fill="#000080"/>
<path d="M750.0,151.9 L757.5,164.9 L742.5,164.9 Z" fill="#00008b"/>
<path d="M724.8,165.1 L732.3,178.1 L717.3,178.1 Z" fill="#dcdcfa"/>
<path d="M745.6,252.8 L753.1,265.8 L738.1,265.8 Z" fill="#ffffff"/>
<path d="M773.9,245.8 L781.4,258.8 L766.4,258.8 Z" fill="#4c4cc8"/>
</g></g>
<path d="M808.8,150.2 V306.1 M803.2,150.2 h11.2 M803.2,306.1 h11.2" stroke="#000" stroke-width="1.15" fill="none"/>
<g stroke="#000" stroke-width="1.15" fill="none">
<rect x="553.4" y="99.5" width="271.8" height="260.0"/>
<path d="M579.3,359.5 v-2.9 M579.3,99.5 v2.9"/>
<path d="M687.5,359.5 v-2.9 M687.5,99.5 v2.9"/>
<path d="M795.8,359.5 v-2.9 M795.8,99.5 v2.9"/>
<path d="M553.4,345.1 h2.9 M825.2,345.1 h-2.9"/>
<path d="M553.4,286.2 h2.9 M825.2,286.2 h-2.9"/>
<path d="M553.4,227.2 h2.9 M825.2,227.2 h-2.9"/>
<path d="M553.4,168.2 h2.9 M825.2,168.2 h-2.9"/>
<path d="M553.4,109.3 h2.9 M825.2,109.3 h-2.9"/>
</g>
<g font-size="19.2">
<text x="579.3" y="387.0" text-anchor="middle">235</text>
<text x="687.5" y="387.0" text-anchor="middle">240</text>
<text x="795.8" y="387.0" text-anchor="middle">245</text>
<text x="545.5" y="352.6" text-anchor="end">42</text>
<text x="545.5" y="293.7" text-anchor="end">44</text>
<text x="545.5" y="234.7" text-anchor="end">46</text>
<text x="545.5" y="175.8" text-anchor="end">48</text>
<text x="545.5" y="116.8" text-anchor="end">50</text>
<text transform="translate(842.6,251.6) rotate(-90)" text-anchor="middle">590 km</text>
<text x="605.0" y="82.0" textLength="167.0" lengthAdjust="spacingAndGlyphs">avg cross-corr coef.</text>
</g>
<g shape-rendering="crispEdges">
<rect x="861.6" y="99.50" width="41.4" height="8.48" fill="#7e0000"/>
<rect x="861.6" y="107.38" width="41.4" height="8.48" fill="#8b0000"/>
<rect x="861.6" y="115.26" width="41.4" height="8.48" fill="#960000"/>
<rect x="861.6" y="123.14" width="41.4" height="8.48" fill="#a31616"/>
<rect x="861.6" y="131.02" width="41.4" height="8.48" fill="#b02c2c"/>
<rect x="861.6" y="138.89" width="41.4" height="8.48" fill="#be4343"/>
<rect x="861.6" y="146.77" width="41.4" height="8.48" fill="#cb5959"/>
<rect x="861.6" y="154.65" width="41.4" height="8.48" fill="#d86f6f"/>
<rect x="861.6" y="162.53" width="41.4" height="8.48" fill="#e58686"/>
<rect x="861.6" y="170.41" width="41.4" height="8.48" fill="#f29c9c"/>
<rect x="861.6" y="178.29" width="41.4" height="8.48" fill="#ffb2b2"/>
<rect x="861.6" y="186.17" width="41.4" height="8.48" fill="#ffbfbf"/>
<rect x="861.6" y="194.05" width="41.4" height="8.48" fill="#ffcccc"/>
<rect x="861.6" y="201.92" width="41.4" height="8.48" fill="#ffd9d9"/>
<rect x="861.6" y="209.80" width="41.4" height="8.48" fill="#ffe5e5"/>
<rect x="861.6" y="217.68" width="41.4" height="8.48" fill="#fff2f2"/>
<rect x="861.6" y="225.56" width="41.4" height="8.48" fill="#ffffff"/>
<rect x="861.6" y="233.44" width="41.4" height="8.48" fill="#f2f2ff"/>
<rect x="861.6" y="241.32" width="41.4" height="8.48" fill="#e5e5ff"/>
<rect x="861.6" y="249.20" width="41.4" height="8.48" fill="#d9d9ff"/>
<rect x="861.6" y="257.08" width="41.4" height="8.48" fill="#ccccff"/>
<rect x="861.6" y="264.95" width="41.4" height="8.48" fill="#bfbfff"/>
<rect x="861.6" y="272.83" width="41.4" height="8.48" fill="#b2b2ff"/>
<rect x="861.6" y="280.71" width="41.4" height="8.48" fill="#9c9cf2"/>
<rect x="861.6" y="288.59" width="41.4" height="8.48" fill="#8686e5"/>
<rect x="861.6" y="296.47" width="41.4" height="8.48" fill="#6f6fd8"/>
<rect x="861.6" y="304.35" width="41.4" height="8.48" fill="#5959cb"/>
<rect x="861.6" y="312.23" width="41.4" height="8.48" fill="#4343be"/>
<rect x="861.6" y="320.11" width="41.4" height="8.48" fill="#2c2cb0"/>
<rect x="861.6" y="327.98" width="41.4" height="8.48" fill="#1616a3"/>
<rect x="861.6" y="335.86" width="41.4" height="8.48" fill="#000096"/>
<rect x="861.6" y="343.74" width="41.4" height="8.48" fill="#00008b"/>
<rect x="861.6" y="351.62" width="41.4" height="8.48" fill="#00007e"/>
</g>
<g stroke="#000" stroke-width="1.15" fill="none">
<rect x="861.6" y="99.5" width="41.4" height="260.0"/>
<path d="M861.6,164.5 h3 M903.0,164.5 h-3"/>
<path d="M861.6,229.5 h3 M903.0,229.5 h-3"/>
<path d="M861.6,294.5 h3 M903.0,294.5 h-3"/>
</g>
<g font-size="19.2">
<text x="910" y="106.9">1</text>
<text x="910" y="172.3">0.9</text>
<text x="910" y="237.3">0.8</text>
<text x="910" y="302.3">0.7</text>
<text x="910" y="367.5">0.6</text>
</g>
<clipPath id="mc2"><rect x="553.4" y="428.7" width="271.8" height="260.0"/></clipPath>
<g clip-path="url(#mc2)">
<g fill="none" stroke="#000" stroke-width="1.35" stroke-linejoin="round" stroke-linecap="round">
<path d="M553.2,454.4 L553.9,454.7 L554.6,455.0 L555.3,455.2 L555.9,455.6 L556.5,455.9 L557.1,456.3 L557.7,456.8 L558.2,457.3 L558.8,457.7 L559.3,458.2 L559.9,458.6 L560.6,458.9 L561.3,459.1 L562.0,459.4 L562.6,459.6 L563.2,459.9 L563.8,460.2 L564.4,460.6 L565.0,461.0 L565.7,461.5 L566.5,462.0 L567.2,462.5 L567.7,463.1 L567.9,463.5 L567.7,463.9 L567.1,464.2 L566.2,464.5 L565.4,464.8 L564.7,465.1 L564.4,465.5 L564.5,466.1 L565.0,466.7 L565.6,467.3 L566.4,467.8 L567.1,468.2 L567.8,468.4 L568.5,468.5 L569.2,468.4 L569.9,468.4 L570.6,468.2 L571.3,468.0 L572.0,467.8 L572.7,467.6 L573.3,467.3 L574.0,467.0 L574.7,466.7 L575.4,466.4 L576.1,466.2 L576.7,466.0 L577.4,466.0 L578.1,466.0 L578.8,466.2 L579.5,466.4 L580.2,466.8 L580.8,467.3 L581.4,468.0 L581.7,468.6 L581.7,469.1 L581.2,469.5 L580.5,469.8 L579.7,470.1 L579.0,470.5 L578.5,471.1 L578.2,471.8 L578.2,472.5 L578.4,473.2 L578.8,473.8 L579.3,474.3 L579.9,474.8 L580.6,475.2 L581.2,475.6 L581.9,476.0 L582.6,476.3 L583.2,476.4 L583.9,476.3 L584.5,476.1 L585.1,475.6 L585.6,475.0 L586.0,474.2 L586.4,473.3 L586.7,472.6 L587.0,472.3 L587.2,472.6 L587.3,473.2 L587.3,474.1 L587.1,475.1 L586.6,475.9 L586.0,476.6 L585.3,477.0 L584.8,477.4 L584.6,477.7 L584.9,478.0 L585.5,478.4 L586.3,478.7 L587.2,479.0 L588.1,479.3 L589.0,479.5 L589.7,479.7 L590.4,479.9 L591.0,480.1 L591.6,480.3 L592.3,480.5 L592.9,480.7 L593.6,481.0 L594.2,481.3 L594.9,481.6 L595.6,481.9 L596.2,482.2 L596.9,482.5 L597.6,482.7 L598.3,483.0 L598.9,483.2 L599.6,483.5 L600.3,483.7 L601.0,483.9 L601.6,484.2 L602.3,484.4 L603.0,484.7 L603.6,484.9 L604.3,485.2 L605.0,485.4 L605.7,485.7 L606.4,486.0 L607.1,486.3 L607.8,486.5 L608.5,486.7 L609.2,486.8 L609.9,486.8 L610.6,486.7 L611.3,486.5 L611.9,486.2 L612.6,485.9 L613.2,485.4 L613.7,485.0 L614.3,484.5 L614.8,484.0 L615.2,483.4 L615.6,482.7 L615.9,482.1 L616.1,481.4 L616.0,480.7 L615.7,480.0 L615.3,479.4 L614.8,478.8 L614.3,478.3 L613.7,477.8 L613.2,477.3 L612.8,476.8 L612.4,476.2 L612.1,475.5 L611.8,474.9 L611.5,474.2 L611.2,473.5 L610.9,472.9 L610.6,472.2 L610.2,471.6 L609.9,471.0 L609.6,470.3 L609.3,469.7 L609.0,469.0 L608.8,468.3 L608.5,467.7 L608.2,467.0 L607.9,466.3 L607.6,465.7 L607.2,465.1 L606.8,464.5 L606.4,463.9 L606.0,463.3 L605.6,462.7 L605.1,462.1 L604.7,461.6 L604.2,461.0 L603.7,460.5 L603.1,460.1 L602.5,459.6 L601.9,459.3 L601.3,459.0 L600.6,458.7 L600.0,458.4 L599.3,458.2 L598.6,457.9 L597.9,457.7 L597.2,457.4 L596.6,457.1 L595.9,456.9 L595.2,456.6 L594.5,456.4 L593.8,456.3 L593.1,456.1 L592.4,456.0 L591.7,455.9 L591.0,455.7 L590.3,455.6 L589.6,455.4 L589.0,455.1 L588.3,454.8 L587.7,454.5 L587.0,454.1 L586.4,453.7 L585.8,453.3 L585.2,452.9 L584.7,452.4 L584.1,451.9 L583.6,451.4 L583.2,450.8 L582.8,450.2 L582.5,449.6 L582.2,448.9 L581.9,448.2 L581.8,447.5 L581.6,446.8 L581.5,446.1 L581.4,445.4 L581.2,444.7 L580.9,444.1 L580.5,443.5 L580.1,442.9 L579.6,442.4 L579.0,441.9 L578.5,441.4 L578.0,440.8 L577.4,440.3 L576.9,439.8 L576.4,439.3 L575.9,438.8 L575.4,438.3 L574.9,437.8 L574.4,437.3 L573.9,436.8 L573.3,436.3 L572.8,435.8 L572.3,435.3 L571.8,434.8 L571.4,434.2 L570.9,433.7 L570.5,433.1 L570.2,432.4 L569.8,431.8 L569.5,431.1 L569.2,430.5 L569.0,429.8 L568.7,429.1 L568.5,428.5"/>
<path d="M553.2,446.4 L553.6,446.4 L553.9,446.5 L554.3,446.5 L554.7,446.6 L555.1,446.7 L555.5,446.9 L556.0,447.0 L556.4,447.2 L556.9,447.4 L557.2,447.6 L557.5,447.8 L557.6,448.1 L557.6,448.3 L557.3,448.5 L557.0,448.7 L556.5,448.9 L556.1,449.1 L555.6,449.2 L555.1,449.3 L554.7,449.4 L554.3,449.5 L554.0,449.5 L553.6,449.6 L553.2,449.6"/>
<path d="M587.2,428.5 L587.5,429.2 L587.8,429.9 L588.0,430.6 L588.1,431.3 L588.0,432.0 L587.7,432.8 L587.3,433.4 L586.6,433.9 L585.9,434.2 L585.1,434.5 L584.5,434.9 L584.1,435.4 L584.0,436.0 L584.2,436.8 L584.5,437.5 L585.0,438.2 L585.5,438.8 L586.0,439.3 L586.6,439.7 L587.2,440.2 L587.7,440.7 L588.3,441.2 L588.9,441.6 L589.5,442.1 L590.1,442.5 L590.8,442.8 L591.5,443.1 L592.2,443.3 L593.0,443.4 L593.7,443.5 L594.4,443.5 L595.1,443.5 L595.9,443.4 L596.7,443.3 L597.5,443.1 L598.2,442.8 L598.9,442.5 L599.5,442.0 L599.8,441.4 L600.0,440.8 L600.1,440.0 L600.3,439.2 L600.7,438.3 L601.2,437.5 L601.8,436.9 L602.3,436.5 L602.6,436.6 L602.9,437.1 L603.0,437.9 L603.1,438.9 L603.2,439.8 L603.3,440.6 L603.6,441.3 L603.9,441.9 L604.4,442.4 L605.0,442.9 L605.6,443.3 L606.2,443.7 L606.8,444.2 L607.3,444.8 L607.7,445.4 L608.0,446.1 L608.3,446.8 L608.5,447.5 L608.7,448.3 L608.8,449.0 L608.9,449.7 L608.9,450.5 L609.0,451.3 L609.1,452.0 L609.4,452.7 L610.0,453.3 L610.6,453.7 L611.3,453.9 L612.0,453.7 L612.6,453.2 L613.1,452.6 L613.7,452.0 L614.1,451.4 L614.6,450.9 L615.1,450.4 L615.5,449.7 L616.0,449.0 L616.4,448.2 L616.9,447.4 L617.3,446.7 L617.8,446.4 L618.3,446.5 L618.8,447.0 L619.2,447.7 L619.4,448.6 L619.5,449.3 L619.5,450.1 L619.4,450.8 L619.3,451.5 L619.2,452.2 L619.0,452.9 L618.9,453.7 L618.8,454.4 L618.7,455.2 L618.7,456.0 L618.7,456.7 L618.8,457.5 L619.1,458.2 L619.5,458.8 L620.1,459.3 L620.7,459.7 L621.4,460.0 L622.2,460.2 L622.9,460.3 L623.6,460.3 L624.4,460.2 L625.1,460.0 L625.8,459.8 L626.6,459.5 L627.4,459.2 L628.2,459.0 L628.9,458.8 L629.7,458.8 L630.4,459.1 L631.0,459.6 L631.6,460.4 L631.9,461.2 L632.0,461.8 L631.8,462.0 L631.3,461.9 L630.5,461.6 L629.7,461.2 L628.8,460.9 L628.0,460.7 L627.3,460.9 L626.7,461.2 L626.1,461.7 L625.4,462.2 L624.7,462.8 L623.9,463.4 L623.3,464.0 L622.8,464.5 L622.8,464.9 L623.1,465.1 L623.8,465.3 L624.6,465.5 L625.5,465.7 L626.4,466.1 L627.0,466.5 L627.5,467.1 L627.9,467.7 L628.3,468.3 L628.6,469.0 L628.9,469.7 L629.3,470.4 L629.7,471.0 L630.1,471.6 L630.7,472.1 L631.3,472.6 L631.9,473.0 L632.6,473.3 L633.3,473.5 L633.9,473.7 L634.6,473.9 L635.3,474.1 L636.0,474.4 L636.9,474.8 L637.8,475.3 L638.5,475.8 L638.9,476.2 L638.8,476.5 L638.2,476.6 L637.3,476.7 L636.4,476.8 L635.8,477.2 L635.4,477.7 L635.2,478.5 L635.0,479.3 L634.8,480.1 L634.4,480.8 L633.9,481.5 L633.5,482.2 L633.2,482.8 L633.2,483.4 L633.4,483.9 L634.0,484.4 L634.6,484.9 L635.3,485.5 L635.9,486.0 L636.4,486.6 L636.8,487.3 L637.1,487.9 L637.4,488.6 L637.6,489.3 L637.9,490.0 L638.1,490.8 L638.3,491.5 L638.5,492.2 L638.7,493.0 L638.8,493.7 L638.9,494.4 L639.0,495.0 L639.1,495.7 L639.1,496.3 L639.2,497.1 L639.2,497.9 L639.1,498.8 L639.1,499.8 L639.0,500.9 L638.9,501.9 L638.8,502.8 L638.6,503.4 L638.4,503.6 L638.2,503.3 L637.9,502.7 L637.5,501.9 L637.1,501.1 L636.6,500.6 L636.0,500.5 L635.3,500.7 L634.6,501.1 L633.9,501.7 L633.2,502.3 L632.6,502.9 L631.9,503.3 L631.4,503.8 L630.8,504.2 L630.3,504.7 L629.8,505.1 L629.3,505.6 L628.8,506.2 L628.3,506.7 L627.7,507.3 L627.1,507.8 L626.4,508.4 L625.8,509.0 L625.3,509.5 L625.1,510.1 L625.1,510.8 L625.5,511.4 L625.9,512.1 L626.2,512.8 L626.2,513.6 L625.8,514.3 L625.1,514.9 L624.4,515.1 L623.8,514.8 L623.3,514.2 L623.0,513.5 L622.7,512.6 L622.6,511.8 L622.6,511.1 L622.8,510.4 L623.0,509.7 L623.4,509.1 L623.8,508.5 L624.3,507.8 L624.7,507.2 L625.1,506.6 L625.5,505.9 L625.8,505.3 L626.2,504.6 L626.6,504.0 L627.1,503.4 L627.5,502.8 L627.9,502.2 L628.3,501.5 L628.7,500.9 L629.1,500.3 L629.4,499.6 L629.7,498.9 L630.0,498.3 L630.3,497.6 L630.6,496.8 L630.8,496.1 L630.9,495.4 L630.8,494.6 L630.5,493.9 L630.1,493.3 L629.5,492.8 L628.8,492.4 L628.0,492.3 L627.2,492.4 L626.5,492.7 L625.9,493.2 L625.3,493.6 L624.7,493.8 L624.0,493.7 L623.3,493.5 L622.6,493.1 L621.8,492.7 L621.1,492.3 L620.4,492.0 L619.7,491.8 L619.0,491.6 L618.3,491.4 L617.6,491.3 L616.8,491.2 L616.1,491.2 L615.3,491.1 L614.6,491.1 L613.8,491.1 L613.1,491.0 L612.3,491.0 L611.6,490.9 L610.9,490.8 L610.1,490.8 L609.4,490.8 L608.6,490.8 L607.9,490.9 L607.1,491.0 L606.4,491.1 L605.6,491.1 L604.9,491.1 L604.2,491.0 L603.4,490.9 L602.7,490.7 L602.0,490.4 L601.3,490.1 L600.6,489.8 L599.9,489.5 L599.2,489.2 L598.6,488.9 L597.9,488.6 L597.2,488.3 L596.5,488.1 L595.8,487.8 L595.2,487.5 L594.5,487.3 L593.8,487.0 L593.1,486.7 L592.4,486.3 L591.7,486.0 L590.9,485.6 L590.2,485.3 L589.5,485.2 L588.9,485.4 L588.4,485.9 L587.9,486.6 L587.6,487.3 L587.3,488.0 L587.0,488.8 L586.9,489.5 L586.8,490.2 L586.7,490.9 L586.7,491.7 L586.7,492.4 L586.7,493.2 L586.9,493.9 L587.1,494.6 L587.3,495.3 L587.6,496.0 L588.0,496.7 L588.4,497.3 L588.8,497.9 L589.2,498.6 L589.6,499.2 L590.1,499.8 L590.5,500.4 L590.9,501.0 L591.3,501.7 L591.7,502.3 L592.1,502.9 L592.4,503.6 L592.8,504.2 L593.1,504.9 L593.5,505.6 L593.8,506.2 L594.1,506.9 L594.4,507.6 L594.7,508.3 L594.9,509.0 L595.2,509.7 L595.4,510.4 L595.6,511.1 L595.8,511.9 L596.0,512.6 L596.2,513.3 L596.4,514.0 L596.6,514.7 L596.8,515.4 L597.0,516.2 L597.2,516.9 L597.4,517.6 L597.6,518.3 L597.7,519.1 L597.9,519.8 L598.1,520.5 L598.4,521.2 L598.7,521.9 L599.1,522.5 L599.5,523.1 L599.9,523.7 L600.4,524.3 L600.9,524.9 L601.5,525.5 L602.0,526.1 L602.4,526.7 L602.6,527.3 L602.5,528.0 L602.2,528.6 L601.8,529.3 L601.3,530.1 L601.0,530.9 L600.7,531.6 L600.7,532.4 L600.9,533.0 L601.3,533.5 L602.0,533.9 L602.8,534.1 L603.6,534.3 L604.4,534.4 L604.9,534.7 L605.2,535.2 L605.3,535.9 L605.3,536.7 L605.2,537.6 L605.2,538.6 L605.1,539.5 L605.0,540.4 L604.8,541.0 L604.4,541.5 L603.9,541.6 L603.1,541.5 L602.4,541.0 L601.9,540.2 L601.6,539.3 L601.5,538.3 L601.4,537.4 L601.4,537.0 L601.3,537.1 L601.2,537.7 L600.9,538.6 L600.8,539.5 L600.6,540.4 L600.6,541.2 L600.6,541.9 L600.6,542.6 L600.8,543.2 L601.0,543.9 L601.3,544.6 L601.7,545.3 L602.2,545.9 L602.8,546.4 L603.4,546.8 L604.1,547.1 L604.8,547.3 L605.6,547.4 L606.3,547.4 L607.1,547.4 L607.8,547.3 L608.5,547.2 L609.3,547.2 L610.0,547.1 L610.8,547.1 L611.6,547.2 L612.3,547.3 L613.0,547.4 L613.8,547.5 L614.5,547.7 L615.1,547.8 L615.8,548.1 L616.5,548.4 L617.2,548.8 L617.9,549.4 L618.5,550.0 L618.7,550.6 L618.4,551.1 L617.6,551.4 L616.8,551.4 L616.0,551.1 L615.4,550.7 L614.8,550.3 L614.2,549.9 L613.5,549.7 L612.8,549.7 L612.1,549.8 L611.3,550.0 L610.5,550.2 L609.7,550.3 L608.9,550.3 L608.2,550.4 L607.4,550.4 L606.7,550.6 L606.0,550.8 L605.4,551.1 L604.8,551.6 L604.3,552.2 L603.9,552.8 L603.7,553.5 L603.6,554.3 L603.6,555.0 L603.6,555.8 L603.7,556.6 L603.8,557.3 L603.8,558.1 L603.9,558.8 L604.0,559.6 L604.1,560.3 L604.2,561.0 L604.4,561.8 L604.5,562.5 L604.7,563.2 L604.8,564.0 L604.9,564.7 L604.8,565.4 L604.7,566.2 L604.6,566.9 L604.5,567.7 L604.4,568.4 L604.3,569.1 L604.3,569.9 L604.3,570.6 L604.4,571.4 L604.4,572.1 L604.5,572.9 L604.5,573.6 L604.5,574.3 L604.4,575.1 L604.2,575.8 L604.1,576.5 L603.9,577.3 L603.8,578.0 L603.7,578.8 L603.6,579.5 L603.5,580.2 L603.5,581.0 L603.4,581.7 L603.4,582.5 L603.3,583.2 L603.3,584.0 L603.2,584.7 L603.0,585.4 L602.9,586.2 L602.8,586.9 L602.6,587.6 L602.4,588.3 L602.2,589.1 L602.0,589.8 L601.8,590.5 L601.6,591.2 L601.5,592.0 L601.3,592.7 L601.3,593.4 L601.2,594.2 L601.2,594.9 L601.2,595.7 L601.2,596.4 L601.2,597.2 L601.2,597.9 L601.2,598.7 L601.2,599.4 L601.2,600.1 L601.2,600.9 L601.2,601.6 L601.2,602.4 L601.2,603.1 L601.1,603.9 L601.1,604.6 L601.1,605.4 L601.1,606.1 L601.1,606.8 L601.1,607.6 L601.0,608.3 L601.0,609.1 L601.0,609.8 L600.9,610.6 L600.9,611.3 L600.8,612.1 L600.8,612.8 L600.7,613.6 L600.7,614.3 L600.6,615.0 L600.6,615.8 L600.5,616.5 L600.4,617.3 L600.4,618.0 L600.3,618.7 L600.2,619.5 L600.0,620.2 L599.9,620.9 L599.7,621.7 L599.4,622.4 L599.1,623.1 L598.8,623.9 L598.4,624.6 L598.1,625.3 L597.9,626.1 L597.7,626.8 L597.6,627.5 L597.6,628.2 L597.8,629.0 L598.1,629.7 L598.6,630.4 L599.0,631.1 L599.3,631.7 L599.4,632.3 L599.2,632.8 L598.7,633.3 L598.0,633.7 L597.3,634.2 L596.6,634.7 L596.0,635.3 L595.5,635.9 L595.2,636.5 L594.9,637.3 L594.7,638.0 L594.6,638.7 L594.5,639.5 L594.4,640.2 L594.2,641.0 L594.0,641.7 L593.9,642.4 L593.7,643.1 L593.4,643.8 L593.2,644.6 L593.0,645.3 L592.7,646.0 L592.5,646.7 L592.3,647.4 L592.2,648.2 L592.1,648.9 L592.2,649.6 L592.2,650.4 L592.4,651.1 L592.5,651.8 L592.7,652.6 L592.9,653.3 L593.1,654.0 L593.3,654.8 L593.4,655.5 L593.6,656.2 L593.7,657.0 L593.8,657.7 L593.8,658.4 L593.9,659.2 L593.9,659.9 L593.9,660.7 L593.8,661.4 L593.8,662.2 L593.8,662.9 L593.8,663.7 L593.8,664.4 L593.9,665.2 L594.0,665.9 L594.2,666.6 L594.5,667.3 L594.8,668.0 L595.1,668.7 L595.4,669.3 L595.8,670.0 L596.1,670.7 L596.5,671.4 L596.8,672.0 L597.1,672.7 L597.4,673.4 L597.7,674.1 L598.0,674.8 L598.2,675.5 L598.3,676.2 L598.4,677.0 L598.5,677.7 L598.5,678.4 L598.6,679.2 L598.6,679.9 L598.7,680.7 L598.8,681.4 L598.9,682.2 L599.0,682.9 L599.2,683.6 L599.4,684.3 L599.6,685.1 L599.9,685.8 L600.1,686.5 L600.3,687.2 L600.6,687.9 L600.8,688.6 L601.0,689.3"/>
</g>
<g stroke="#999" stroke-width="1" stroke-linejoin="miter">
<path d="M604.0,507.5 L611.5,520.5 L596.5,520.5 Z" fill="#a0141c"/>
<path d="M643.6,526.0 L651.1,539.0 L636.1,539.0 Z" fill="#ffc4c4"/>
<path d="M645.6,522.1 L653.1,535.1 L638.1,535.1 Z" fill="#ffd2d2"/>
<path d="M647.8,521.8 L655.3,534.8 L640.3,534.8 Z" fill="#ffffff"/>
<path d="M653.8,527.0 L661.3,540.0 L646.3,540.0 Z" fill="#ffffff"/>
<path d="M644.8,519.9 L652.3,532.9 L637.3,532.9 Z" fill="#ffd0d0"/>
<path d="M644.4,518.7 L651.9,531.7 L636.9,531.7 Z" fill="#ffd0d0"/>
<path d="M637.7,540.1 L645.2,553.1 L630.2,553.1 Z" fill="#ffe4e4"/>
<path d="M640.0,541.2 L647.5,554.2 L632.5,554.2 Z" fill="#ebebff"/>
<path d="M640.2,541.9 L647.7,554.9 L632.7,554.9 Z" fill="#ebebff"/>
<path d="M648.3,564.5 L655.8,577.5 L640.8,577.5 Z" fill="#d2d2fa"/>
<path d="M650.3,566.1 L657.8,579.1 L642.8,579.1 Z" fill="#ccccfa"/>
<path d="M650.6,566.9 L658.1,579.9 L643.1,579.9 Z" fill="#ccccfa"/>
<path d="M697.4,536.5 L704.9,549.5 L689.9,549.5 Z" fill="#e0e0fb"/>
<path d="M616.3,589.6 L623.8,602.6 L608.8,602.6 Z" fill="#dcdcfb"/>
<path d="M644.4,601.0 L651.9,614.0 L636.9,614.0 Z" fill="#dedefb"/>
<path d="M651.3,600.4 L658.8,613.4 L643.8,613.4 Z" fill="#bcbcf6"/>
<path d="M647.8,606.0 L655.3,619.0 L640.3,619.0 Z" fill="#d4d4fb"/>
<path d="M656.1,613.9 L663.6,626.9 L648.6,626.9 Z" fill="#e6e6fd"/>
<path d="M662.8,614.2 L670.3,627.2 L655.3,627.2 Z" fill="#dcdcfb"/>
<path d="M658.3,614.2 L665.8,627.2 L650.8,627.2 Z" fill="#dcdcfb"/>
<path d="M662.8,619.5 L670.3,632.5 L655.3,632.5 Z" fill="#dedefc"/>
<path d="M750.0,481.1 L757.5,494.1 L742.5,494.1 Z" fill="#fad4d4"/>
<path d="M724.8,494.3 L732.3,507.3 L717.3,507.3 Z" fill="#ffffff"/>
<path d="M745.6,582.0 L753.1,595.0 L738.1,595.0 Z" fill="#d8d8f8"/>
<path d="M773.9,575.0 L781.4,588.0 L766.4,588.0 Z" fill="#e0e0fb"/>
</g></g>
<path d="M808.8,479.4 V635.3 M803.2,479.4 h11.2 M803.2,635.3 h11.2" stroke="#000" stroke-width="1.15" fill="none"/>
<g stroke="#000" stroke-width="1.15" fill="none">
<rect x="553.4" y="428.7" width="271.8" height="260.0"/>
<path d="M579.3,688.7 v-2.9 M579.3,428.7 v2.9"/>
<path d="M687.5,688.7 v-2.9 M687.5,428.7 v2.9"/>
<path d="M795.8,688.7 v-2.9 M795.8,428.7 v2.9"/>
<path d="M553.4,674.3 h2.9 M825.2,674.3 h-2.9"/>
<path d="M553.4,615.4 h2.9 M825.2,615.4 h-2.9"/>
<path d="M553.4,556.4 h2.9 M825.2,556.4 h-2.9"/>
<path d="M553.4,497.4 h2.9 M825.2,497.4 h-2.9"/>
<path d="M553.4,438.5 h2.9 M825.2,438.5 h-2.9"/>
</g>
<g font-size="19.2">
<text x="579.3" y="716.2" text-anchor="middle">235</text>
<text x="687.5" y="716.2" text-anchor="middle">240</text>
<text x="795.8" y="716.2" text-anchor="middle">245</text>
<text x="545.5" y="681.8" text-anchor="end">42</text>
<text x="545.5" y="622.9" text-anchor="end">44</text>
<text x="545.5" y="563.9" text-anchor="end">46</text>
<text x="545.5" y="504.9" text-anchor="end">48</text>
<text x="545.5" y="446.0" text-anchor="end">50</text>
<text transform="translate(842.6,580.8) rotate(-90)" text-anchor="middle">590 km</text>
<text x="638.6" y="411.2" textLength="98.6" lengthAdjust="spacingAndGlyphs">avg dt (sec)</text>
</g>
<g shape-rendering="crispEdges">
<rect x="861.6" y="428.70" width="41.4" height="8.48" fill="#7e0000"/>
<rect x="861.6" y="436.58" width="41.4" height="8.48" fill="#8b0000"/>
<rect x="861.6" y="444.46" width="41.4" height="8.48" fill="#960000"/>
<rect x="861.6" y="452.34" width="41.4" height="8.48" fill="#a31616"/>
<rect x="861.6" y="460.22" width="41.4" height="8.48" fill="#b02c2c"/>
<rect x="861.6" y="468.09" width="41.4" height="8.48" fill="#be4343"/>
<rect x="861.6" y="475.97" width="41.4" height="8.48" fill="#cb5959"/>
<rect x="861.6" y="483.85" width="41.4" height="8.48" fill="#d86f6f"/>
<rect x="861.6" y="491.73" width="41.4" height="8.48" fill="#e58686"/>
<rect x="861.6" y="499.61" width="41.4" height="8.48" fill="#f29c9c"/>
<rect x="861.6" y="507.49" width="41.4" height="8.48" fill="#ffb2b2"/>
<rect x="861.6" y="515.37" width="41.4" height="8.48" fill="#ffbfbf"/>
<rect x="861.6" y="523.25" width="41.4" height="8.48" fill="#ffcccc"/>
<rect x="861.6" y="531.12" width="41.4" height="8.48" fill="#ffd9d9"/>
<rect x="861.6" y="539.00" width="41.4" height="8.48" fill="#ffe5e5"/>
<rect x="861.6" y="546.88" width="41.4" height="8.48" fill="#fff2f2"/>
<rect x="861.6" y="554.76" width="41.4" height="8.48" fill="#ffffff"/>
<rect x="861.6" y="562.64" width="41.4" height="8.48" fill="#f2f2ff"/>
<rect x="861.6" y="570.52" width="41.4" height="8.48" fill="#e5e5ff"/>
<rect x="861.6" y="578.40" width="41.4" height="8.48" fill="#d9d9ff"/>
<rect x="861.6" y="586.28" width="41.4" height="8.48" fill="#ccccff"/>
<rect x="861.6" y="594.15" width="41.4" height="8.48" fill="#bfbfff"/>
<rect x="861.6" y="602.03" width="41.4" height="8.48" fill="#b2b2ff"/>
<rect x="861.6" y="609.91" width="41.4" height="8.48" fill="#9c9cf2"/>
<rect x="861.6" y="617.79" width="41.4" height="8.48" fill="#8686e5"/>
<rect x="861.6" y="625.67" width="41.4" height="8.48" fill="#6f6fd8"/>
<rect x="861.6" y="633.55" width="41.4" height="8.48" fill="#5959cb"/>
<rect x="861.6" y="641.43" width="41.4" height="8.48" fill="#4343be"/>
<rect x="861.6" y="649.31" width="41.4" height="8.48" fill="#2c2cb0"/>
<rect x="861.6" y="657.18" width="41.4" height="8.48" fill="#1616a3"/>
<rect x="861.6" y="665.06" width="41.4" height="8.48" fill="#000096"/>
<rect x="861.6" y="672.94" width="41.4" height="8.48" fill="#00008b"/>
<rect x="861.6" y="680.82" width="41.4" height="8.48" fill="#00007e"/>
</g>
<g stroke="#000" stroke-width="1.15" fill="none">
<rect x="861.6" y="428.7" width="41.4" height="260.0"/>
<path d="M861.6,472.0 h3 M903.0,472.0 h-3"/>
<path d="M861.6,515.4 h3 M903.0,515.4 h-3"/>
<path d="M861.6,558.7 h3 M903.0,558.7 h-3"/>
<path d="M861.6,602.0 h3 M903.0,602.0 h-3"/>
<path d="M861.6,645.4 h3 M903.0,645.4 h-3"/>
</g>
<g font-size="19.2">
<text x="910" y="438.2">&gt;3</text>
<text x="910" y="479.8">2</text>
<text x="910" y="523.2">1</text>
<text x="910" y="566.5">0</text>
<text x="910" y="609.8">-1</text>
<text x="910" y="653.2">-2</text>
<text x="910" y="698.5">&lt;-3</text>
</g>
<g font-size="19.2">
<text x="539.2" y="778.5" textLength="106.3" lengthAdjust="spacingAndGlyphs">Backazimuth</text>
<text x="539.2" y="804.5" textLength="118.8" lengthAdjust="spacingAndGlyphs" xml:space="preserve">to quake:  132</text>
</g>
<path d="M741.5,745 L801.8,795.4" stroke="#000" stroke-width="1.2" fill="none"/>
<path d="M741.5,732.7 L753.4,752 L729.6,752 Z" fill="#f00"/>
<path d="M907.1,829.3 L903.4,831.4 L905.5,835.1 L901.3,835.1 L901.3,839.3 L897.6,837.2 L895.5,840.9 L893.4,837.2 L889.7,839.3 L889.7,835.1 L885.5,835.1 L887.6,831.4 L883.9,829.3 L887.6,827.2 L885.5,823.5 L889.7,823.5 L889.7,819.3 L893.4,821.4 L895.5,817.7 L897.6,821.4 L901.3,819.3 L901.3,823.5 L905.5,823.5 L903.4,827.2 Z" fill="#d9b23c"/>
<circle cx="895.5" cy="829.3" r="7.9" fill="#1f55b5"/>
<circle cx="894.0" cy="827.8" r="4.5" fill="#4b86d8" opacity="0.7"/>
<text x="895.5" y="832.0999999999999" text-anchor="middle" font-size="8.2" font-weight="bold" style="fill:#fff;stroke:none;font-family:'Liberation Serif',serif">NSF</text>
<path d="M909.1,817.5 V841.3" stroke="#444" stroke-width="0.8"/>
<text x="911.4" y="833" font-size="10.2" font-weight="bold" style="fill:#5f7348;stroke:#5f7348;stroke-width:0.35" textLength="25.5" lengthAdjust="spacingAndGlyphs">SAGE</text>
<text x="938.9" y="833.2" font-size="10.8" style="fill:#5a3c96;stroke:none;font-family:'Liberation Serif',serif" textLength="17" lengthAdjust="spacingAndGlyphs">IRIS</text>
<path d="M911.6,836.6 h25" stroke="#8a987a" stroke-width="1.3" stroke-dasharray="2.5 0.7 1.2 0.6 3 0.8"/>
</svg></body></html>
